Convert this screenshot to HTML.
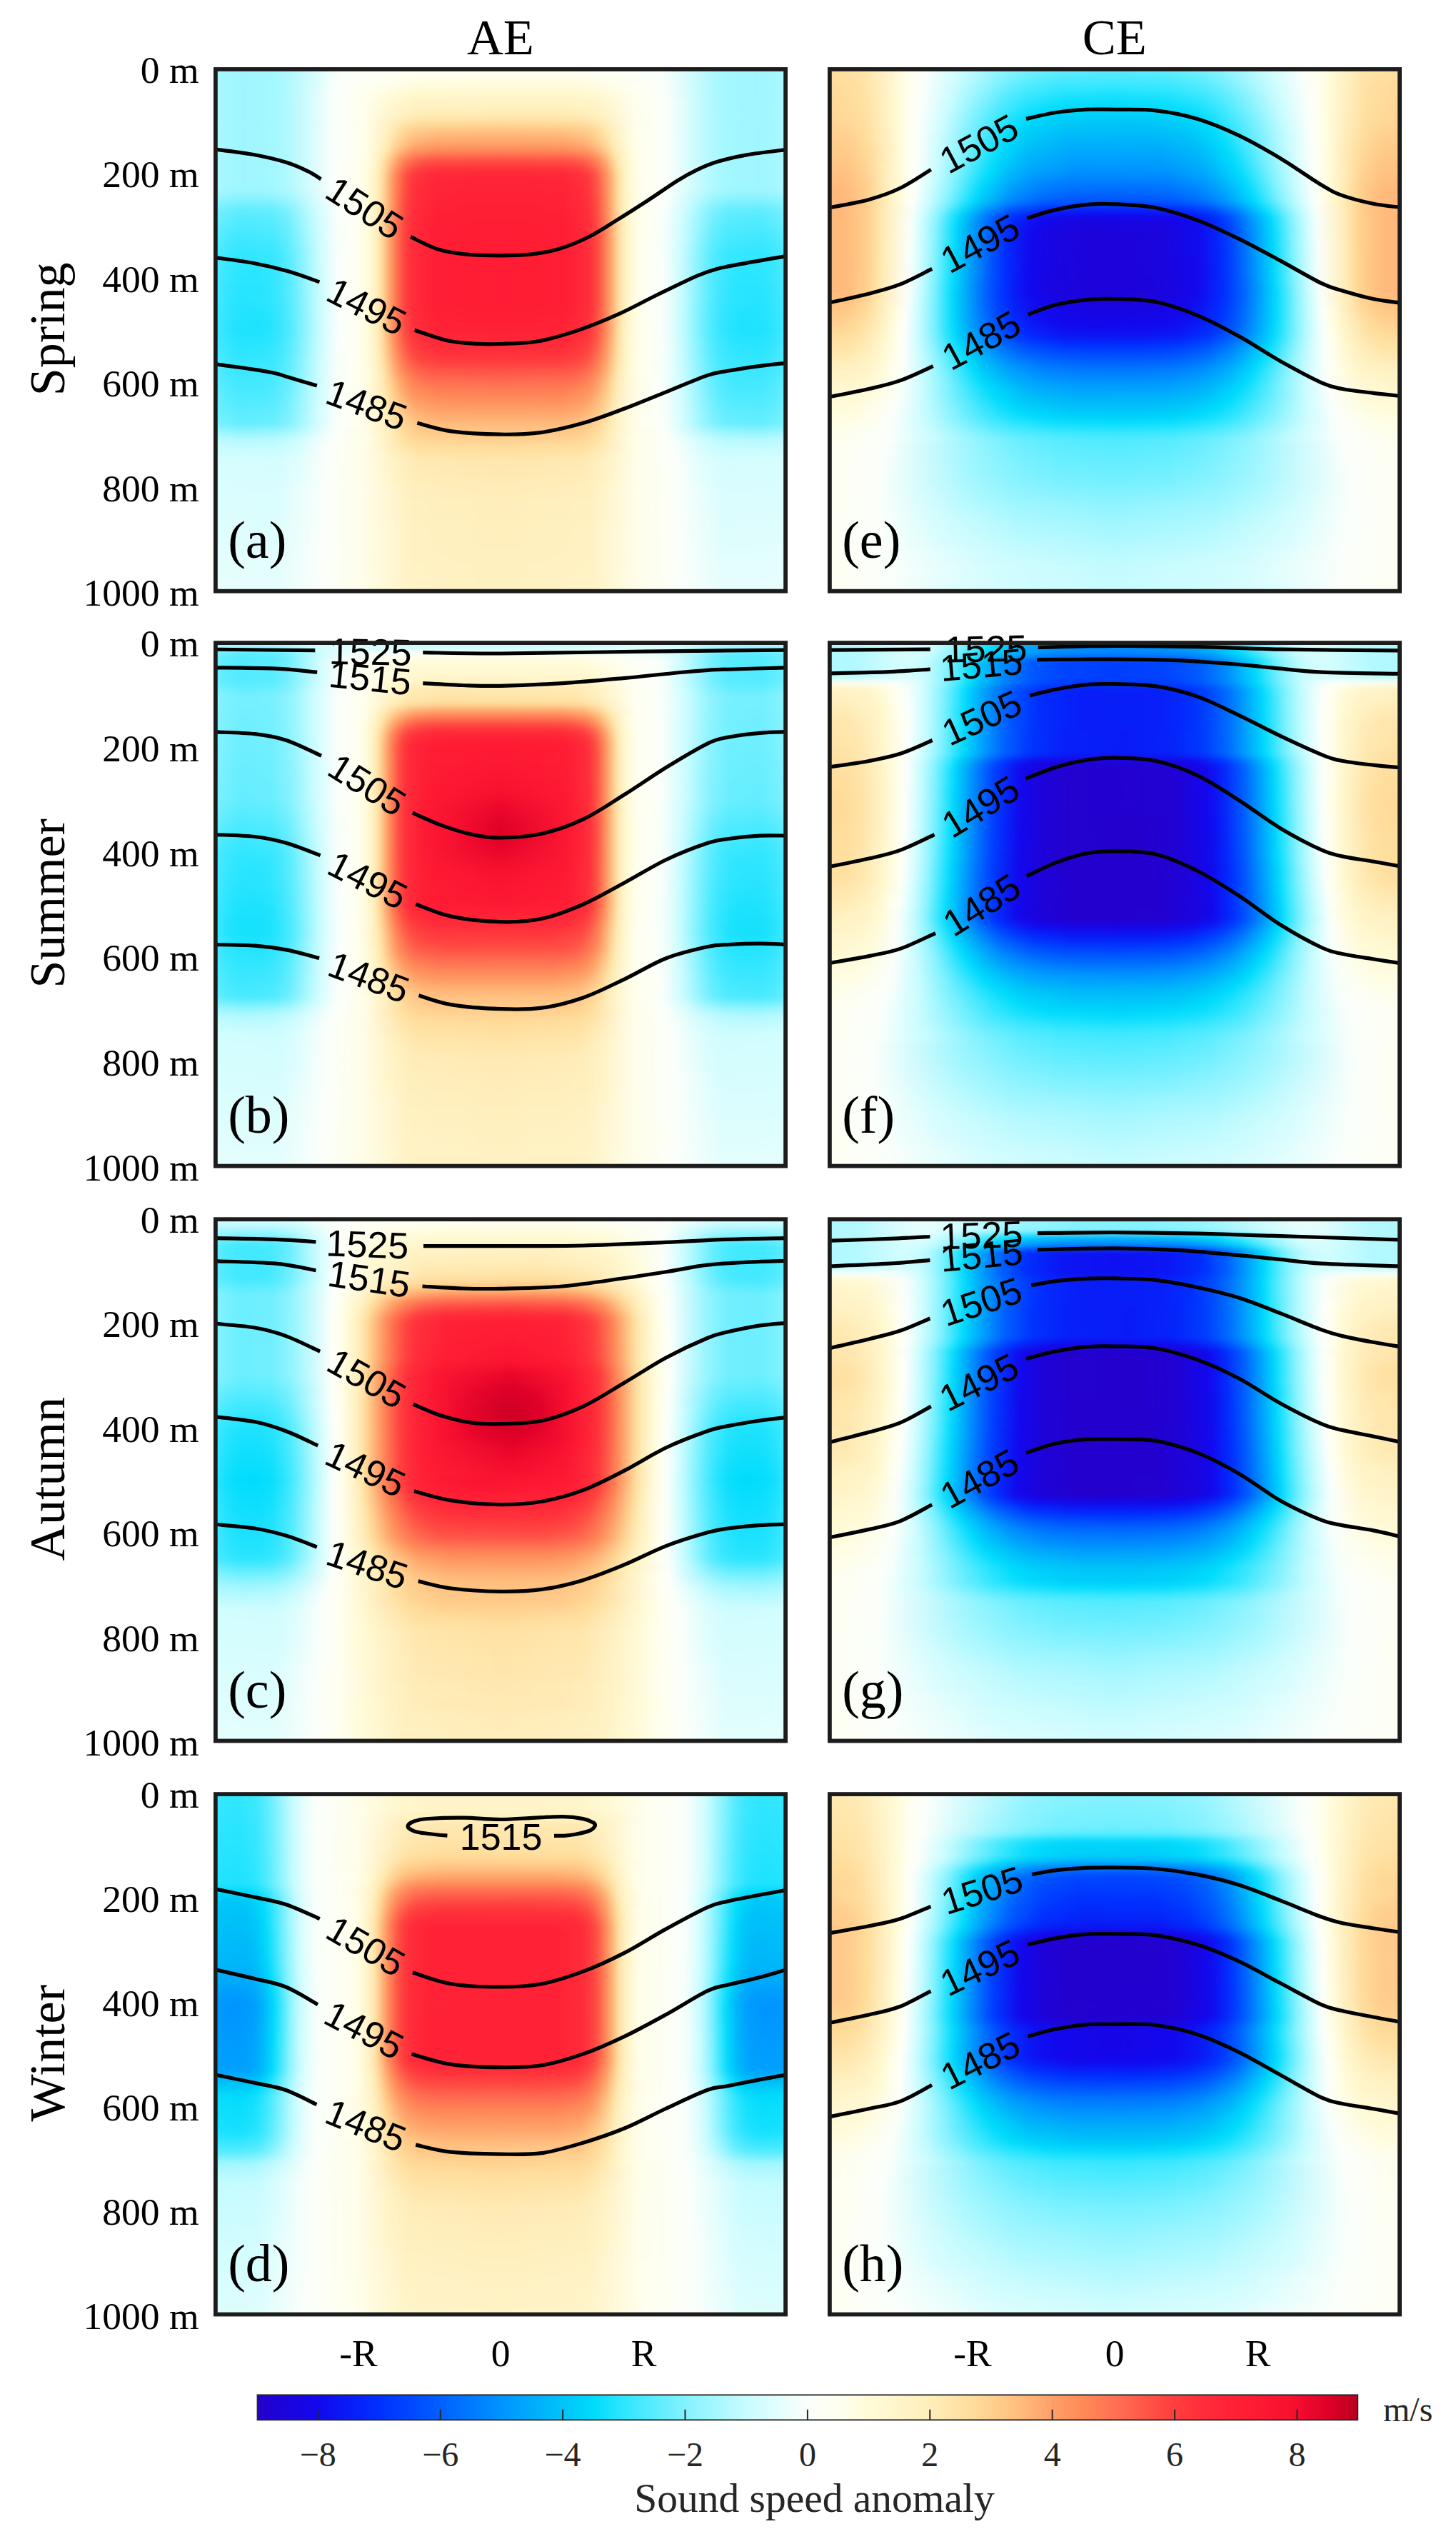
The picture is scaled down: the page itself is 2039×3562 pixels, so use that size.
<!DOCTYPE html><html><head><meta charset="utf-8"><style>
html,body{margin:0;padding:0;background:#fff;width:2039px;height:3562px;overflow:hidden}
.fw{position:absolute;overflow:hidden}
.fb{position:absolute;left:-12px;right:-12px}
.fb i{position:absolute;left:0;right:0;display:block}
svg{position:absolute;left:0;top:0}
</style></head><body>
<div class="fw" style="left:305.0px;top:100.0px;width:792px;height:725px"><div class="fb" style="top:-12px;height:749px;filter:blur(4.0px)"><i style="top:0px;height:11px;background:linear-gradient(90deg,#acf8ff 0px,#a0f6ff 44px,#a4f7ff 93px,#fbfffb 186px,#fffff1 276px,#fffff0 407px,#fffff1 539px,#fbfffb 629px,#a4f7ff 722px,#a0f6ff 771px,#acf8ff 815px)"></i><i style="top:10px;height:11px;background:linear-gradient(90deg,#acf8ff 0px,#a0f6ff 42px,#a2f6ff 87px,#b0f8ff 111px,#fbfffb 184px,#fffff0 272px,#ffffed 512px,#fbfffb 631px,#b2f9ff 702px,#a4f7ff 722px,#a0f6ff 771px,#acf8ff 815px)"></i><i style="top:20px;height:11px;background:linear-gradient(90deg,#acf8ff 0px,#a0f6ff 42px,#a3f7ff 89px,#b2f9ff 113px,#fbfffb 180px,#fffff0 243px,#fffde4 301px,#fffde3 505px,#fbfffb 635px,#b3f9ff 701px,#a4f7ff 722px,#a0f6ff 771px,#acf8ff 815px)"></i><i style="top:30px;height:11px;background:linear-gradient(90deg,#acf8ff 0px,#a0f6ff 43px,#a3f7ff 90px,#b3f9ff 114px,#fbfffb 177px,#fffff0 227px,#fffbd7 288px,#fffad6 506px,#fffbda 540px,#fffff0 588px,#fbfffb 638px,#b3f9ff 701px,#a4f7ff 722px,#a0f6ff 771px,#acf8ff 815px)"></i><i style="top:40px;height:11px;background:linear-gradient(90deg,#acf8ff 0px,#a0f6ff 43px,#a3f7ff 91px,#b4f9ff 114px,#fbfffb 174px,#fffff0 216px,#fffbd8 254px,#fff7ce 289px,#fff6cd 499px,#fff9d3 549px,#ffffef 596px,#fcfff9 637px,#b4f9ff 701px,#a4f7ff 722px,#a0f6ff 771px,#acf8ff 815px)"></i><i style="top:50px;height:11px;background:linear-gradient(90deg,#acf8ff 0px,#a0f6ff 43px,#a3f7ff 91px,#b5f9ff 115px,#fbfffb 173px,#fffff0 212px,#fff8d1 257px,#fff3c6 290px,#fff2c4 494px,#fff5cb 545px,#ffffed 597px,#fcfff9 636px,#f3fffc 649px,#b3f9ff 702px,#a4f7ff 722px,#a0f6ff 771px,#acf8ff 815px)"></i><i style="top:60px;height:11px;background:linear-gradient(90deg,#acf8ff 0px,#a0f6ff 43px,#a3f7ff 91px,#b5f9ff 115px,#fbfffb 173px,#ffffef 213px,#fff5cb 260px,#fff0bf 291px,#ffefbc 495px,#fff2c4 543px,#fffeed 597px,#fbfffb 641px,#b5f9ff 700px,#a5f7ff 721px,#a0f6ff 770px,#acf8ff 815px)"></i><i style="top:70px;height:11px;background:linear-gradient(90deg,#acf8ff 0px,#a0f6ff 43px,#a3f7ff 91px,#b5f9ff 115px,#fbfffb 173px,#fffff0 212px,#fff2c4 263px,#ffeab3 298px,#ffe8b0 486px,#ffecb8 530px,#fff4c7 557px,#fffeed 598px,#fbfffb 642px,#b5f9ff 700px,#a5f7ff 721px,#a0f6ff 770px,#acf8ff 815px)"></i><i style="top:80px;height:11px;background:linear-gradient(90deg,#acf8ff 0px,#a0f6ff 45px,#a5f7ff 94px,#b5f9ff 115px,#fbfffb 174px,#fffeeb 219px,#ffe5ab 273px,#ffde9d 292px,#ffd997 407px,#ffdd9c 522px,#ffe5aa 541px,#fffeeb 596px,#fbfffb 641px,#b5f9ff 700px,#a5f7ff 721px,#a0f6ff 770px,#acf8ff 815px)"></i><i style="top:90px;height:11px;background:linear-gradient(90deg,#acf8ff 0px,#a0f6ff 43px,#a3f7ff 91px,#b5f9ff 115px,#fbfffb 173px,#fffff0 210px,#fffde4 224px,#ffeebb 253px,#ffdc9b 270px,#ffcd8c 287px,#ffc484 319px,#ffc383 407px,#ffc484 496px,#ffcd8c 528px,#ffdc9b 545px,#ffeebb 562px,#fffde4 591px,#fffff0 605px,#fbfffb 642px,#b5f9ff 700px,#a3f7ff 724px,#a0f6ff 772px,#acf8ff 815px)"></i><i style="top:100px;height:11px;background:linear-gradient(90deg,#acf8ff 0px,#a0f6ff 43px,#a3f7ff 91px,#b5f9ff 115px,#fbfffb 173px,#fffff0 209px,#fffde4 223px,#ffefbc 249px,#ffd795 266px,#ffbd7e 289px,#ffb175 320px,#ffb074 407px,#ffb175 495px,#ffbd7e 526px,#ffd795 549px,#ffefbc 566px,#fffde4 592px,#fffff0 606px,#fbfffb 642px,#b5f9ff 700px,#a3f7ff 724px,#a0f6ff 772px,#acf8ff 815px)"></i><i style="top:110px;height:11px;background:linear-gradient(90deg,#acf8ff 0px,#a0f6ff 43px,#a3f7ff 91px,#b5f9ff 115px,#fbfffb 173px,#fffff0 209px,#fffde4 222px,#ffeebb 247px,#ffce8d 265px,#ffaa70 289px,#ff9e66 318px,#ff9c65 407px,#ff9e66 497px,#ffaa70 526px,#ffce8d 550px,#ffeebb 568px,#fffde4 593px,#fffff0 606px,#fbfffb 642px,#b5f9ff 700px,#a3f7ff 724px,#a0f6ff 772px,#acf8ff 815px)"></i><i style="top:120px;height:11px;background:linear-gradient(90deg,#acf8ff 0px,#a0f6ff 43px,#a3f7ff 91px,#b5f9ff 115px,#fbfffb 173px,#fffff0 209px,#fffde3 222px,#ffeeba 244px,#ffdc9b 253px,#ffb97b 266px,#ffa168 276px,#ff935f 286px,#ff8356 318px,#ff8156 407px,#ff8356 496px,#ff935f 529px,#ffa168 539px,#ffb97b 549px,#ffdc9b 562px,#ffeeba 571px,#fffde3 593px,#fffff0 606px,#fbfffb 642px,#b5f9ff 700px,#a3f7ff 724px,#a0f6ff 772px,#acf8ff 815px)"></i><i style="top:130px;height:11px;background:linear-gradient(90deg,#acf8ff 0px,#a0f6ff 43px,#a3f7ff 90px,#b4f9ff 114px,#fbfffb 173px,#fffff0 209px,#fffbd8 226px,#ffeebc 240px,#ffdc9a 248px,#ffa26a 263px,#ff8858 272px,#ff6a50 288px,#ff5849 309px,#ff5347 407px,#ff5849 505px,#ff6a50 527px,#ff8858 543px,#ffa26a 552px,#ffdc9a 567px,#ffeebc 575px,#fffbd8 589px,#fffff0 606px,#fbfffb 642px,#b4f9ff 701px,#a3f7ff 725px,#a0f6ff 772px,#acf8ff 815px)"></i><i style="top:140px;height:11px;background:linear-gradient(90deg,#acf8ff 0px,#a0f6ff 43px,#a3f7ff 90px,#b4f9ff 114px,#fbfffb 173px,#fffff0 208px,#fffbd8 225px,#ffefbd 238px,#ffde9e 245px,#ff8a58 265px,#ff5b4a 281px,#ff4440 295px,#ff3a3e 324px,#ff393d 407px,#ff3a3e 491px,#ff4440 520px,#ff5b4a 534px,#ff8a58 550px,#ffde9e 570px,#ffefbd 577px,#fffbd8 590px,#fffff0 607px,#fbfffb 642px,#b4f9ff 701px,#a3f7ff 725px,#a0f6ff 772px,#acf8ff 815px)"></i><i style="top:150px;height:11px;background:linear-gradient(90deg,#acf8ff 0px,#a0f6ff 43px,#a3f7ff 90px,#b4f9ff 114px,#fbfffb 173px,#fffff0 208px,#fffbd9 224px,#ffeebb 237px,#ffdb99 244px,#ff8958 261px,#ff4942 278px,#ff363d 289px,#ff2939 316px,#ff2838 407px,#ff2939 499px,#ff363d 526px,#ff4942 537px,#ff8958 554px,#ffdb99 571px,#ffeebb 578px,#fffbd9 591px,#fffff0 607px,#fbfffb 642px,#b4f9ff 701px,#a3f7ff 725px,#a0f6ff 772px,#acf8ff 815px)"></i><i style="top:160px;height:11px;background:linear-gradient(90deg,#acf8ff 0px,#a0f6ff 43px,#a3f7ff 90px,#b4f9ff 114px,#fbfffb 173px,#fffff0 208px,#fffbd8 224px,#ffefbd 236px,#ffdd9c 243px,#ff8958 260px,#ff4440 277px,#ff313b 289px,#ff2538 318px,#ff2437 407px,#ff2538 497px,#ff313b 526px,#ff4440 538px,#ff8958 555px,#ffdd9c 572px,#ffefbd 579px,#fffbd8 591px,#fffff0 607px,#fbfffb 642px,#b4f9ff 701px,#a3f7ff 725px,#a0f6ff 772px,#acf8ff 815px)"></i><i style="top:170px;height:11px;background:linear-gradient(90deg,#acf8ff 0px,#a0f6ff 43px,#a3f7ff 90px,#b4f9ff 114px,#fbfffb 173px,#fffff0 208px,#fffbd8 224px,#ffefbd 236px,#ffdd9b 243px,#ff8c59 259px,#ff4540 276px,#ff2f3b 289px,#ff2437 319px,#ff2337 407px,#ff2437 496px,#ff2f3b 526px,#ff4540 539px,#ff8c59 556px,#ffdd9b 572px,#ffefbd 579px,#fffbd8 591px,#fffff0 607px,#fbfffb 642px,#b4f9ff 701px,#a3f7ff 725px,#a0f6ff 772px,#acf8ff 815px)"></i><i style="top:180px;height:11px;background:linear-gradient(90deg,#a0f6ff 0px,#93f4ff 43px,#96f5ff 90px,#aaf8ff 115px,#fafffb 174px,#fffff0 208px,#fffbd8 224px,#ffefbd 236px,#ffdc9a 243px,#ff8a58 259px,#ff4641 275px,#ff2d3a 289px,#ff2337 319px,#ff2236 407px,#ff2337 496px,#ff2d3a 526px,#ff4641 540px,#ff8a58 556px,#ffdc9a 572px,#ffefbd 579px,#fffbd8 591px,#fffff0 607px,#fafffb 641px,#aaf8ff 700px,#96f5ff 725px,#93f4ff 772px,#a0f6ff 815px)"></i><i style="top:190px;height:11px;background:linear-gradient(90deg,#8ef3ff 0px,#7cf1ff 43px,#80f1ff 88px,#99f5ff 115px,#c9fcff 142px,#fbfffb 177px,#ffffef 209px,#fffbd8 224px,#ffefbc 236px,#ffdb99 243px,#ff8858 259px,#ff4340 275px,#ff2d3a 288px,#ff2236 319px,#ff2036 407px,#ff2236 496px,#ff2d3a 527px,#ff4340 540px,#ff8858 556px,#ffdb99 572px,#ffefbc 579px,#fffbd8 591px,#ffffef 606px,#fbfffb 638px,#c9fcff 673px,#99f5ff 700px,#80f1ff 727px,#7cf1ff 772px,#8ef3ff 815px)"></i><i style="top:200px;height:11px;background:linear-gradient(90deg,#79f0ff 0px,#79f0ff 11px,#62edff 42px,#67eeff 88px,#7ef1ff 109px,#c8fcff 146px,#fafffb 178px,#fffff0 209px,#fffbd8 224px,#ffeebc 236px,#ffde9e 242px,#ff8c59 258px,#ff4440 274px,#ff2c3a 287px,#ff2036 318px,#ff1f35 407px,#ff2036 496px,#ff2c3a 528px,#ff4440 541px,#ff8c59 557px,#ffde9e 573px,#ffeebc 579px,#fffbd8 591px,#fffff0 606px,#fafffb 637px,#c8fcff 669px,#7ef1ff 706px,#67eeff 727px,#62edff 773px,#79f0ff 804px,#79f0ff 815px)"></i><i style="top:210px;height:11px;background:linear-gradient(90deg,#6eefff 0px,#6eefff 11px,#56ebff 42px,#5becff 88px,#75f0ff 110px,#c8fcff 148px,#fafffb 179px,#fffff0 209px,#fffbda 223px,#ffeebc 236px,#ffde9d 242px,#ff8a58 258px,#ff4541 273px,#ff2c3a 286px,#ff1f35 318px,#ff1e35 407px,#ff1f35 497px,#ff2c3a 529px,#ff4541 542px,#ff8a58 557px,#ffde9d 573px,#ffeebc 579px,#fffbda 592px,#fffff0 606px,#fafffb 636px,#c8fcff 667px,#75f0ff 705px,#5becff 727px,#56ebff 773px,#6eefff 804px,#6eefff 815px)"></i><i style="top:220px;height:11px;background:linear-gradient(90deg,#68eeff 0px,#68eeff 11px,#4feaff 42px,#55ebff 89px,#6fefff 110px,#c8fcff 149px,#fafffb 179px,#fffff0 209px,#fffbda 223px,#ffeebb 236px,#ffdd9c 242px,#ff8958 258px,#ff4340 273px,#ff2c3a 285px,#ff1e35 317px,#ff1d34 407px,#ff1e35 498px,#ff2c3a 530px,#ff4340 542px,#ff8958 557px,#ffdd9c 573px,#ffeebb 579px,#fffbda 592px,#fffff0 606px,#fafffb 636px,#c8fcff 666px,#6fefff 705px,#55ebff 726px,#4feaff 773px,#68eeff 804px,#68eeff 815px)"></i><i style="top:230px;height:11px;background:linear-gradient(90deg,#61edff 0px,#61edff 11px,#50ebff 26px,#48e9ff 42px,#4eeaff 89px,#68eeff 110px,#c8fcff 150px,#f8fffb 178px,#fffff0 209px,#fffbd9 223px,#ffeebb 236px,#ffdd9c 242px,#ff8d5a 257px,#ff4641 272px,#ff2c3a 284px,#ff1e35 316px,#ff1c34 407px,#ff1e35 499px,#ff2c3a 531px,#ff4641 543px,#ff8d5a 558px,#ffdd9c 573px,#ffeebb 579px,#fffbd9 592px,#fffff0 606px,#f8fffb 637px,#c8fcff 665px,#68eeff 705px,#4eeaff 726px,#48e9ff 773px,#50ebff 789px,#61edff 804px,#61edff 815px)"></i><i style="top:240px;height:11px;background:linear-gradient(90deg,#5becff 0px,#5becff 11px,#49eaff 26px,#40e8ff 42px,#47e9ff 89px,#64edff 111px,#c9fcff 151px,#f6fffb 177px,#fffff0 209px,#fffbd9 223px,#ffeebb 236px,#ffdd9c 242px,#ff8d5a 257px,#ff4641 272px,#ff2c3a 284px,#ff1e35 316px,#ff1c34 407px,#ff1e35 499px,#ff2c3a 531px,#ff4641 543px,#ff8d5a 558px,#ffdd9c 573px,#ffeebb 579px,#fffbd9 592px,#fffff0 606px,#f6fffb 638px,#c9fcff 664px,#64edff 704px,#47e9ff 726px,#40e8ff 773px,#49eaff 789px,#5becff 804px,#5becff 815px)"></i><i style="top:250px;height:11px;background:linear-gradient(90deg,#54ebff 0px,#54ebff 11px,#42e9ff 26px,#39e7ff 42px,#40e8ff 89px,#5eedff 111px,#c9fcff 152px,#f5fffb 177px,#fffff0 209px,#fffbd9 223px,#ffeebb 236px,#ffdd9c 242px,#ff8d5a 257px,#ff4641 272px,#ff2c3a 284px,#ff1e35 316px,#ff1c34 407px,#ff1e35 499px,#ff2c3a 531px,#ff4641 543px,#ff8d5a 558px,#ffdd9c 573px,#ffeebb 579px,#fffbd9 592px,#fffff0 606px,#f5fffb 638px,#c9fcff 663px,#5eedff 704px,#40e8ff 726px,#39e7ff 773px,#42e9ff 789px,#54ebff 804px,#54ebff 815px)"></i><i style="top:260px;height:11px;background:linear-gradient(90deg,#4eeaff 0px,#4eeaff 11px,#3be8ff 26px,#32e6ff 42px,#38e7ff 89px,#58ecff 111px,#c9fcff 153px,#f3fffc 176px,#fbfffb 182px,#fffff0 209px,#fffbd9 223px,#ffeebb 236px,#ffdd9c 242px,#ff8d5a 257px,#ff4641 272px,#ff2c3a 284px,#ff1e35 316px,#ff1c34 407px,#ff1e35 499px,#ff2c3a 531px,#ff4641 543px,#ff8d5a 558px,#ffdd9c 573px,#ffeebb 579px,#fffbd9 592px,#fffff0 606px,#fbfffb 633px,#f3fffc 639px,#c9fcff 662px,#58ecff 704px,#38e7ff 726px,#32e6ff 773px,#3be8ff 789px,#4eeaff 804px,#4eeaff 815px)"></i><i style="top:270px;height:11px;background:linear-gradient(90deg,#4ceaff 0px,#4ceaff 11px,#38e7ff 27px,#30e6ff 43px,#37e7ff 89px,#56ebff 111px,#c9fcff 153px,#f3fffc 176px,#fbfffb 182px,#fffff0 209px,#fffbd9 223px,#ffeebb 236px,#ffdd9c 242px,#ff8d5a 257px,#ff4641 272px,#ff2c3a 284px,#ff1e35 316px,#ff1c34 407px,#ff1e35 499px,#ff2c3a 531px,#ff4641 543px,#ff8d5a 558px,#ffdd9c 573px,#ffeebb 579px,#fffbd9 592px,#fffff0 606px,#fbfffb 633px,#f3fffc 639px,#c9fcff 662px,#56ebff 704px,#37e7ff 726px,#30e6ff 772px,#38e7ff 788px,#4ceaff 804px,#4ceaff 815px)"></i><i style="top:280px;height:11px;background:linear-gradient(90deg,#4beaff 0px,#4beaff 11px,#37e7ff 26px,#2ee6ff 43px,#2de5ff 71px,#35e7ff 89px,#55ebff 111px,#c8fcff 153px,#f3fffc 176px,#fbfffb 182px,#fffff0 209px,#fffbd9 223px,#ffeebb 236px,#ffdd9b 242px,#ff8d5a 257px,#ff4641 272px,#ff2c3a 284px,#ff1e35 316px,#ff1c34 407px,#ff1e35 499px,#ff2c3a 531px,#ff4641 543px,#ff8d5a 558px,#ffdd9b 573px,#ffeebb 579px,#fffbd9 592px,#fffff0 606px,#fbfffb 633px,#f3fffc 639px,#c8fcff 662px,#55ebff 704px,#35e7ff 726px,#2de5ff 744px,#2ee6ff 772px,#37e7ff 789px,#4beaff 804px,#4beaff 815px)"></i><i style="top:290px;height:11px;background:linear-gradient(90deg,#4aeaff 0px,#4aeaff 11px,#36e7ff 26px,#2ce5ff 43px,#2be5ff 71px,#34e7ff 89px,#56ebff 112px,#c8fcff 153px,#f3fffc 176px,#fbfffb 182px,#fffff0 209px,#fffbd9 223px,#ffeebb 236px,#ffdd9b 242px,#ff8d5a 257px,#ff4641 272px,#ff2c3a 284px,#ff1e35 316px,#ff1c34 407px,#ff1e35 499px,#ff2c3a 531px,#ff4641 543px,#ff8d5a 558px,#ffdd9b 573px,#ffeebb 579px,#fffbd9 592px,#fffff0 606px,#fbfffb 633px,#f3fffc 639px,#c8fcff 662px,#56ebff 703px,#34e7ff 726px,#2be5ff 744px,#2ce5ff 772px,#36e7ff 789px,#4aeaff 804px,#4aeaff 815px)"></i><i style="top:300px;height:11px;background:linear-gradient(90deg,#48e9ff 0px,#48e9ff 11px,#35e7ff 26px,#2ae5ff 43px,#2ae5ff 72px,#32e6ff 89px,#55ebff 112px,#c8fcff 153px,#f3fffc 176px,#fbfffb 182px,#fffff0 209px,#fffbd9 223px,#ffeebb 236px,#ffdd9b 242px,#ff8d5a 257px,#ff4641 272px,#ff2c3a 284px,#ff1e35 316px,#ff1c34 407px,#ff1e35 499px,#ff2c3a 531px,#ff4641 543px,#ff8d5a 558px,#ffdd9b 573px,#ffeebb 579px,#fffbd9 592px,#fffff0 606px,#fbfffb 633px,#f3fffc 639px,#c8fcff 662px,#55ebff 703px,#32e6ff 726px,#2ae5ff 743px,#2ae5ff 772px,#35e7ff 789px,#48e9ff 804px,#48e9ff 815px)"></i><i style="top:310px;height:11px;background:linear-gradient(90deg,#47e9ff 0px,#47e9ff 11px,#33e6ff 26px,#29e4ff 43px,#28e4ff 72px,#31e6ff 89px,#53ebff 112px,#c7fcff 153px,#f3fffc 176px,#fbfffb 182px,#fffff0 209px,#fffbd9 223px,#ffeebb 236px,#ffdd9b 242px,#ff8d5a 257px,#ff4641 272px,#ff2c3a 284px,#ff1e35 316px,#ff1c34 407px,#ff1e35 499px,#ff2c3a 531px,#ff4641 543px,#ff8d5a 558px,#ffdd9b 573px,#ffeebb 579px,#fffbd9 592px,#fffff0 606px,#fbfffb 633px,#f3fffc 639px,#c7fcff 662px,#53ebff 703px,#31e6ff 726px,#28e4ff 743px,#29e4ff 772px,#33e6ff 789px,#47e9ff 804px,#47e9ff 815px)"></i><i style="top:320px;height:11px;background:linear-gradient(90deg,#46e9ff 0px,#46e9ff 11px,#32e6ff 26px,#27e4fe 43px,#2de5ff 87px,#50ebff 111px,#c7fcff 153px,#f2fefc 176px,#fbfffb 182px,#fffff0 209px,#fffbd9 223px,#ffeebb 236px,#ffdd9b 242px,#ff8d5a 257px,#ff4641 272px,#ff2c3a 284px,#ff1e35 316px,#ff1c34 407px,#ff1e35 499px,#ff2c3a 531px,#ff4641 543px,#ff8d5a 558px,#ffdd9b 573px,#ffeebb 579px,#fffbd9 592px,#fffff0 606px,#fbfffb 633px,#f2fefc 639px,#c7fcff 662px,#50ebff 704px,#2de5ff 728px,#27e4fe 772px,#32e6ff 789px,#46e9ff 804px,#46e9ff 815px)"></i><i style="top:330px;height:11px;background:linear-gradient(90deg,#44e9ff 0px,#44e9ff 11px,#2ee6ff 28px,#25e4fe 43px,#2ce5ff 87px,#4eeaff 111px,#c9fcff 154px,#f2fefc 176px,#fbfffb 182px,#fffff0 209px,#fffbd9 223px,#ffeebb 236px,#ffdd9b 242px,#ff8d5a 257px,#ff4641 272px,#ff2c3a 284px,#ff1e35 316px,#ff1c34 407px,#ff1e35 499px,#ff2c3a 531px,#ff4641 543px,#ff8d5a 558px,#ffdd9b 573px,#ffeebb 579px,#fffbd9 592px,#fffff0 606px,#fbfffb 633px,#f2fefc 639px,#c9fcff 661px,#4eeaff 704px,#2ce5ff 728px,#25e4fe 772px,#2ee6ff 787px,#44e9ff 804px,#44e9ff 815px)"></i><i style="top:340px;height:11px;background:linear-gradient(90deg,#43e9ff 0px,#43e9ff 11px,#2ce5ff 28px,#24e3fe 42px,#22e3fe 70px,#2ae5ff 87px,#4deaff 111px,#c9fcff 154px,#f1fefc 175px,#fbfffb 182px,#ffffef 209px,#fffbd9 223px,#ffeebb 236px,#ffdd9c 242px,#ff8958 258px,#ff4440 273px,#ff2c3a 285px,#ff1e35 317px,#ff1d34 407px,#ff1e35 498px,#ff2c3a 530px,#ff4440 542px,#ff8958 557px,#ffdd9c 573px,#ffeebb 579px,#fffbd9 592px,#ffffef 606px,#fbfffb 633px,#f1fefc 640px,#c9fcff 661px,#4deaff 704px,#2ae5ff 728px,#22e3fe 745px,#24e3fe 773px,#2ce5ff 787px,#43e9ff 804px,#43e9ff 815px)"></i><i style="top:350px;height:11px;background:linear-gradient(90deg,#41e8ff 0px,#41e8ff 11px,#2be5ff 28px,#22e3fe 42px,#21e3fe 70px,#28e4ff 87px,#4eeaff 112px,#c8fcff 154px,#f1fefc 175px,#fbfffb 182px,#ffffef 209px,#fffbd9 223px,#ffeebb 236px,#ffde9d 242px,#ff8b59 258px,#ff4340 274px,#ff2d3a 286px,#ff2036 317px,#ff1f35 407px,#ff2035 497px,#ff2d3a 529px,#ff4340 541px,#ff8b59 557px,#ffde9d 573px,#ffeebb 579px,#fffbd9 592px,#ffffef 606px,#fbfffb 633px,#f1fefc 640px,#c8fcff 661px,#4eeaff 703px,#28e4ff 728px,#21e3fe 745px,#22e3fe 773px,#2be5ff 787px,#41e8ff 804px,#41e8ff 815px)"></i><i style="top:360px;height:11px;background:linear-gradient(90deg,#40e8ff 0px,#40e8ff 11px,#2ae5ff 27px,#20e3fe 42px,#1fe2fe 70px,#26e4fe 87px,#4deaff 112px,#c8fcff 154px,#f0fefc 175px,#fbfffb 183px,#ffffef 209px,#fffbd9 223px,#ffeebc 236px,#ffde9e 242px,#ff8d5a 258px,#ff4641 274px,#ff2d3a 288px,#ff2136 319px,#ff2036 407px,#ff2136 496px,#ff2d3a 527px,#ff4641 541px,#ff8d5a 557px,#ffde9e 573px,#ffeebc 579px,#fffbd9 592px,#ffffef 606px,#fbfffb 632px,#f0fefc 640px,#c8fcff 661px,#4deaff 703px,#26e4fe 728px,#1fe2fe 745px,#20e3fe 773px,#2ae5ff 788px,#40e8ff 804px,#40e8ff 815px)"></i><i style="top:370px;height:11px;background:linear-gradient(90deg,#3fe8ff 0px,#3fe8ff 11px,#29e4ff 27px,#1fe2fe 42px,#1ee2fe 70px,#25e4fe 87px,#4ceaff 112px,#c7fcff 154px,#f0fefc 175px,#fbfffb 183px,#ffffef 209px,#fffbda 223px,#ffefbc 236px,#ffdc9a 243px,#ff8a58 259px,#ff4641 275px,#ff2e3a 289px,#ff2337 319px,#ff2236 407px,#ff2337 496px,#ff2e3a 526px,#ff4641 540px,#ff8a58 556px,#ffdc9a 572px,#ffefbc 579px,#fffbda 592px,#ffffef 606px,#fbfffb 632px,#f0fefc 640px,#c7fcff 661px,#4ceaff 703px,#25e4fe 728px,#1ee2fe 745px,#1fe2fe 773px,#29e4ff 788px,#3fe8ff 804px,#3fe8ff 815px)"></i><i style="top:380px;height:11px;background:linear-gradient(90deg,#43e9ff 0px,#43e9ff 11px,#2ce5ff 28px,#24e3fe 42px,#22e3fe 70px,#2ae5ff 87px,#4deaff 111px,#c9fcff 154px,#f1fefc 175px,#fbfffb 182px,#fffff0 208px,#fffbda 223px,#ffefbd 236px,#ffdd9b 243px,#ff8858 260px,#ff4540 277px,#ff323b 289px,#ff2638 318px,#ff2437 407px,#ff2638 497px,#ff323b 526px,#ff4540 538px,#ff8858 555px,#ffdd9b 572px,#ffefbd 579px,#fffbda 592px,#fffff0 607px,#fbfffb 633px,#f1fefc 640px,#c9fcff 661px,#4deaff 704px,#2ae5ff 728px,#22e3fe 745px,#24e3fe 773px,#2ce5ff 787px,#43e9ff 804px,#43e9ff 815px)"></i><i style="top:390px;height:11px;background:linear-gradient(90deg,#47e9ff 0px,#47e9ff 11px,#33e6ff 26px,#28e4ff 43px,#2fe6ff 87px,#51ebff 111px,#c7fcff 153px,#f3fffc 176px,#fbfffb 182px,#ffffef 209px,#fffbd8 224px,#ffeebb 237px,#ffdb9a 244px,#ff8a58 261px,#ff4e45 277px,#ff3a3d 288px,#ff2b3a 314px,#ff2939 407px,#ff2b3a 501px,#ff3a3d 527px,#ff4e45 538px,#ff8a58 554px,#ffdb9a 571px,#ffeebb 578px,#fffbd8 591px,#ffffef 606px,#fbfffb 633px,#f3fffc 639px,#c7fcff 662px,#51ebff 704px,#2fe6ff 728px,#28e4ff 772px,#33e6ff 789px,#47e9ff 804px,#47e9ff 815px)"></i><i style="top:400px;height:11px;background:linear-gradient(90deg,#4aeaff 0px,#4aeaff 11px,#37e7ff 26px,#2de5ff 43px,#2de5ff 71px,#35e7ff 89px,#54ebff 111px,#c8fcff 153px,#f3fffc 176px,#fbfffb 182px,#fffff0 208px,#fffbd9 224px,#ffefbd 237px,#ffdd9d 244px,#ff8c5a 262px,#ff5849 277px,#ff413f 288px,#ff313b 319px,#ff2f3b 407px,#ff313b 496px,#ff413f 527px,#ff5849 538px,#ff8c5a 553px,#ffdd9d 571px,#ffefbd 578px,#fffbd9 591px,#fffff0 607px,#fbfffb 633px,#f3fffc 639px,#c8fcff 662px,#54ebff 704px,#35e7ff 726px,#2de5ff 744px,#2de5ff 772px,#37e7ff 789px,#4aeaff 804px,#4aeaff 815px)"></i><i style="top:410px;height:11px;background:linear-gradient(90deg,#4eeaff 0px,#4eeaff 11px,#3be8ff 26px,#32e6ff 42px,#39e7ff 89px,#58ecff 111px,#c7fcff 152px,#f5fffb 177px,#fffff0 208px,#fffbd9 224px,#ffeebc 238px,#ffdd9c 245px,#ff8d5a 264px,#ff5c4b 280px,#ff4440 294px,#ff3a3d 323px,#ff393d 407px,#ff3a3d 491px,#ff4440 521px,#ff5c4b 535px,#ff8d5a 551px,#ffdd9c 570px,#ffeebc 577px,#fffbd9 591px,#fffff0 607px,#f5fffb 638px,#c7fcff 663px,#58ecff 704px,#39e7ff 726px,#32e6ff 773px,#3be8ff 789px,#4eeaff 804px,#4eeaff 815px)"></i><i style="top:420px;height:11px;background:linear-gradient(90deg,#52ebff 0px,#52ebff 11px,#3fe8ff 26px,#37e7ff 42px,#3de8ff 89px,#5cecff 111px,#c8fcff 152px,#f6fffb 177px,#ffffef 209px,#fffbd8 225px,#ffeebc 239px,#ffde9e 246px,#ffa269 261px,#ff8b59 268px,#ff6c51 280px,#ff5447 296px,#ff4842 325px,#ff4641 407px,#ff4842 490px,#ff5447 519px,#ff6c51 535px,#ff8b59 547px,#ffa269 554px,#ffde9e 569px,#ffeebc 576px,#fffbd8 590px,#ffffef 606px,#f6fffb 638px,#c8fcff 663px,#5cecff 704px,#3de8ff 726px,#37e7ff 773px,#3fe8ff 789px,#52ebff 804px,#52ebff 815px)"></i><i style="top:430px;height:11px;background:linear-gradient(90deg,#56ebff 0px,#56ebff 11px,#44e9ff 26px,#3be8ff 42px,#42e9ff 89px,#60edff 111px,#c7fcff 151px,#f6fffb 177px,#fffff0 208px,#fffcdc 224px,#ffeebc 240px,#ffdd9c 248px,#ffa269 264px,#ff8a58 273px,#ff6d51 289px,#ff5e4c 310px,#ff594a 407px,#ff5e4c 505px,#ff6d51 526px,#ff8a58 542px,#ffa269 551px,#ffdd9c 567px,#ffeebc 575px,#fffcdc 591px,#fffff0 607px,#f6fffb 638px,#c7fcff 664px,#60edff 704px,#42e9ff 726px,#3be8ff 773px,#44e9ff 789px,#56ebff 804px,#56ebff 815px)"></i><i style="top:440px;height:11px;background:linear-gradient(90deg,#5becff 0px,#5becff 11px,#49eaff 26px,#41e8ff 42px,#47e9ff 89px,#65eeff 111px,#c9fcff 151px,#f8fffb 178px,#fffff0 208px,#fffcdf 223px,#ffedb9 242px,#ffdc9a 250px,#ffb175 263px,#ff8a58 279px,#ff7653 294px,#ff6d51 313px,#ff6a51 407px,#ff6d51 502px,#ff7653 521px,#ff8a58 536px,#ffb175 552px,#ffdc9a 565px,#ffeebc 574px,#fffeea 600px,#fbfffb 634px,#c9fcff 664px,#65eeff 704px,#4aeaff 723px,#41e8ff 741px,#41e8ff 771px,#49eaff 788px,#5becff 804px,#5becff 815px)"></i><i style="top:450px;height:11px;background:linear-gradient(90deg,#61edff 0px,#61edff 11px,#4eeaff 27px,#46e9ff 44px,#46e9ff 74px,#4feaff 92px,#6aeeff 111px,#c8fcff 150px,#fbfffb 180px,#fffeea 215px,#ffefbc 242px,#ffdb99 252px,#ffb175 266px,#ff9d65 274px,#ff8b59 286px,#ff7954 318px,#ff7854 407px,#ff7954 497px,#ff8b59 529px,#ff9d65 541px,#ffb175 549px,#ffdb99 563px,#ffefbc 573px,#fffeea 600px,#fbfffb 635px,#c8fcff 665px,#6aeeff 704px,#4feaff 723px,#46e9ff 741px,#46e9ff 771px,#4eeaff 788px,#61edff 804px,#61edff 815px)"></i><i style="top:460px;height:11px;background:linear-gradient(90deg,#66eeff 0px,#66eeff 11px,#54ebff 27px,#4ceaff 44px,#4ceaff 74px,#55ebff 92px,#6fefff 111px,#c8fcff 149px,#fbfffb 180px,#fffeea 215px,#ffefbd 243px,#ffdb99 254px,#ffbc7d 266px,#ffa269 277px,#ff9560 287px,#ff8757 319px,#ff8557 407px,#ff8657 495px,#ff9560 528px,#ffa269 538px,#ffbc7d 549px,#ffdb99 561px,#ffefbd 572px,#fffeea 600px,#fbfffb 635px,#c8fcff 666px,#6fefff 704px,#55ebff 723px,#4ceaff 741px,#4ceaff 771px,#54ebff 788px,#66eeff 804px,#66eeff 815px)"></i><i style="top:470px;height:11px;background:linear-gradient(90deg,#6beeff 0px,#6beeff 11px,#59ecff 27px,#52ebff 44px,#52ebff 74px,#5aecff 92px,#74f0ff 111px,#c9fcff 149px,#fbfffb 179px,#fffeea 216px,#ffeebb 245px,#ffcb8a 263px,#ffa068 287px,#ff935e 319px,#ff925e 407px,#ff935e 496px,#ffa068 528px,#ffcb8a 552px,#ffeebb 570px,#fffeea 599px,#fbfffb 636px,#c9fcff 666px,#74f0ff 704px,#5aecff 723px,#52ebff 741px,#52ebff 771px,#59ecff 788px,#6beeff 804px,#6beeff 815px)"></i><i style="top:480px;height:11px;background:linear-gradient(90deg,#70efff 0px,#70efff 11px,#5fedff 27px,#58ecff 43px,#5fedff 91px,#77f0ff 110px,#c9fcff 148px,#fbfffb 179px,#fffeec 214px,#fff4c9 239px,#ffeeba 247px,#ffce8d 265px,#ffab70 290px,#ff9f67 319px,#ff9e66 407px,#ff9f67 496px,#ffab70 525px,#ffce8d 550px,#ffeeba 568px,#fff4c9 576px,#fffeec 601px,#fbfffb 636px,#c9fcff 667px,#77f0ff 705px,#5fedff 724px,#58ecff 772px,#5fedff 788px,#70efff 804px,#70efff 815px)"></i><i style="top:490px;height:11px;background:linear-gradient(90deg,#75f0ff 0px,#75f0ff 11px,#5eedff 43px,#65eeff 91px,#7cf1ff 110px,#c9fcff 147px,#fbfffb 179px,#fffeec 213px,#fff8d1 235px,#ffeeba 249px,#ffd493 266px,#ffb87a 290px,#ffad72 321px,#ffac71 407px,#ffad72 494px,#ffb87a 525px,#ffd493 549px,#ffeeba 566px,#fff8d1 580px,#fffeec 602px,#fbfffb 636px,#c9fcff 668px,#7cf1ff 705px,#65eeff 724px,#5eedff 772px,#75f0ff 804px,#75f0ff 815px)"></i><i style="top:500px;height:11px;background:linear-gradient(90deg,#7af1ff 0px,#7af1ff 11px,#64edff 42px,#69eeff 89px,#8cf3ff 117px,#c9fcff 146px,#fafffb 177px,#ffffef 209px,#fffde3 223px,#ffeebc 250px,#ffd997 268px,#ffc282 293px,#ffba7b 330px,#ffba7b 482px,#ffbe7e 512px,#ffcc8c 537px,#ffdc9a 549px,#ffeebc 565px,#fffde3 592px,#fffff0 607px,#f9fffb 639px,#c9fcff 669px,#8cf3ff 698px,#69eeff 726px,#64edff 773px,#7af1ff 804px,#7af1ff 815px)"></i><i style="top:510px;height:11px;background:linear-gradient(90deg,#9af5ff 0px,#8cf3ff 45px,#92f4ff 94px,#a6f7ff 116px,#fbfffb 175px,#fffde7 220px,#ffeebb 253px,#ffdc9a 271px,#ffcd8c 288px,#ffc685 319px,#ffc584 407px,#ffc685 496px,#ffcd8c 527px,#ffdc9a 544px,#ffeebb 562px,#fffde7 595px,#fbfffb 640px,#a6f7ff 699px,#92f4ff 721px,#8cf3ff 770px,#9af5ff 815px)"></i><i style="top:520px;height:11px;background:linear-gradient(90deg,#b9faff 0px,#aef8ff 44px,#b2f9ff 93px,#c1fbff 115px,#fbfffb 170px,#fffee8 219px,#fff6cd 242px,#ffdfa0 273px,#ffd695 288px,#ffcf8e 319px,#ffce8d 407px,#ffcf8e 496px,#ffd695 527px,#ffdfa0 542px,#fff6cd 573px,#fffee8 596px,#fbfffb 645px,#c1fbff 700px,#b2f9ff 722px,#aef8ff 771px,#b9faff 815px)"></i><i style="top:530px;height:11px;background:linear-gradient(90deg,#c7fcff 0px,#befaff 44px,#c1fbff 92px,#d2fdfe 124px,#fbfffb 167px,#fffee8 219px,#ffe4a8 274px,#ffdd9b 293px,#ffd896 407px,#ffdd9b 522px,#ffe4a8 541px,#fffee8 596px,#fbfffb 648px,#d2fdfe 691px,#c1fbff 723px,#befaff 771px,#c7fcff 815px)"></i><i style="top:540px;height:11px;background:linear-gradient(90deg,#cffcfe 0px,#ccfcff 97px,#d9fdfe 125px,#fbfffb 165px,#fffee9 218px,#ffe9b2 274px,#ffe3a6 292px,#ffe0a1 407px,#ffe3a6 522px,#ffe9b2 541px,#fffee9 597px,#fbfffb 650px,#d9fdfe 690px,#ccfcff 718px,#cffcfe 815px)"></i><i style="top:550px;height:11px;background:linear-gradient(90deg,#d6fdfe 0px,#d4fdfe 97px,#e0fdfd 125px,#fbfffb 162px,#fffeea 216px,#fff2c3 261px,#ffe8b1 293px,#ffe6ac 407px,#ffe8b1 522px,#fff2c3 554px,#fffeea 599px,#fbfffb 653px,#e0fdfd 690px,#d4fdfe 718px,#d6fdfe 815px)"></i><i style="top:560px;height:11px;background:linear-gradient(90deg,#d8fdfe 0px,#d6fdfe 97px,#e1fdfd 125px,#fbfffb 161px,#fffeea 216px,#fff2c4 261px,#ffeab4 293px,#ffe8af 407px,#ffeab4 522px,#fff2c4 554px,#fffeea 599px,#fbfffb 654px,#e1fdfd 690px,#d6fdfe 718px,#d8fdfe 815px)"></i><i style="top:570px;height:11px;background:linear-gradient(90deg,#d9fdfe 0px,#d7fdfe 97px,#e2fefd 125px,#fbfffb 161px,#fffeea 216px,#fff3c5 261px,#ffebb6 293px,#ffe9b2 407px,#ffebb6 522px,#fff3c5 554px,#fffeea 599px,#fbfffb 654px,#e2fefd 690px,#d7fdfe 718px,#d9fdfe 815px)"></i><i style="top:580px;height:11px;background:linear-gradient(90deg,#dafdfe 0px,#d8fdfe 97px,#e2fefd 125px,#fbfffb 160px,#fffeeb 215px,#fff3c5 262px,#ffedb8 293px,#ffeab4 407px,#ffedb8 522px,#fff3c5 553px,#fffeeb 600px,#fbfffb 655px,#e2fefd 690px,#d8fdfe 718px,#dafdfe 815px)"></i><i style="top:590px;height:11px;background:linear-gradient(90deg,#dafdfe 0px,#d9fdfe 97px,#fbfffb 160px,#fffeea 216px,#ffefbd 283px,#ffecb6 407px,#ffefbd 532px,#fffeea 599px,#fbfffb 655px,#d9fdfe 718px,#dafdfe 815px)"></i><i style="top:600px;height:11px;background:linear-gradient(90deg,#dbfdfd 0px,#dafdfe 97px,#fbfffb 160px,#fffeea 216px,#ffefbe 283px,#ffedb9 407px,#ffefbe 532px,#fffeea 599px,#fbfffb 655px,#dafdfe 718px,#dbfdfd 815px)"></i><i style="top:610px;height:11px;background:linear-gradient(90deg,#dcfdfd 0px,#dafdfe 97px,#fbfffb 159px,#fffeeb 215px,#fff0bf 283px,#ffeebb 407px,#fff0bf 532px,#fffeeb 600px,#fbfffb 656px,#dafdfe 718px,#dcfdfd 815px)"></i><i style="top:620px;height:11px;background:linear-gradient(90deg,#ddfdfd 0px,#dbfdfd 97px,#fbfffb 159px,#fffeeb 215px,#fff0c0 283px,#ffeebc 407px,#fff0c0 532px,#fffeeb 600px,#fbfffb 656px,#dbfdfd 718px,#ddfdfd 815px)"></i><i style="top:630px;height:11px;background:linear-gradient(90deg,#defdfd 0px,#dcfdfd 97px,#fbfffb 158px,#fffeeb 215px,#fff0c0 283px,#ffeebc 407px,#fff0c0 532px,#fffeeb 600px,#fbfffb 657px,#dcfdfd 718px,#defdfd 815px)"></i><i style="top:640px;height:11px;background:linear-gradient(90deg,#dffdfd 0px,#ddfdfd 97px,#fbfffb 158px,#fffeeb 215px,#fff1c1 283px,#ffefbc 407px,#fff1c1 532px,#fffeeb 600px,#fbfffb 657px,#ddfdfd 718px,#dffdfd 815px)"></i><i style="top:650px;height:11px;background:linear-gradient(90deg,#e0fdfd 0px,#defdfd 97px,#fbfffb 157px,#fffeeb 215px,#fff1c1 283px,#ffefbd 407px,#fff1c1 532px,#fffeeb 600px,#fbfffb 658px,#defdfd 718px,#e0fdfd 815px)"></i><i style="top:660px;height:11px;background:linear-gradient(90deg,#e0fdfd 0px,#dffdfd 97px,#fbfffb 157px,#fffeeb 215px,#fff1c2 283px,#ffefbd 407px,#fff1c2 532px,#fffeeb 600px,#fbfffb 658px,#dffdfd 718px,#e0fdfd 815px)"></i><i style="top:670px;height:11px;background:linear-gradient(90deg,#e1fdfd 0px,#e0fdfd 97px,#fbfffb 156px,#fffeeb 215px,#fff1c2 283px,#ffefbe 407px,#fff1c2 532px,#fffeeb 600px,#fbfffb 659px,#e0fdfd 718px,#e1fdfd 815px)"></i><i style="top:680px;height:11px;background:linear-gradient(90deg,#e2fefd 0px,#e1fdfd 97px,#fbfffb 156px,#fffeeb 215px,#fff1c2 283px,#fff0be 407px,#fff1c2 532px,#fffeeb 600px,#fbfffb 659px,#e1fdfd 718px,#e2fefd 815px)"></i><i style="top:690px;height:11px;background:linear-gradient(90deg,#e3fefd 0px,#e2fefd 97px,#fbfffb 155px,#fffeeb 214px,#fff1c3 283px,#fff0bf 407px,#fff1c3 532px,#fffeeb 601px,#fbfffb 660px,#e2fefd 718px,#e3fefd 815px)"></i><i style="top:700px;height:11px;background:linear-gradient(90deg,#e4fefd 0px,#e3fefd 97px,#fbfffb 155px,#fffeeb 214px,#fff2c3 283px,#fff0bf 407px,#fff2c3 532px,#fffeeb 601px,#fbfffb 661px,#e3fefd 718px,#e4fefd 815px)"></i><i style="top:710px;height:11px;background:linear-gradient(90deg,#e5fefd 0px,#e4fefd 97px,#fbfffb 154px,#fffeeb 214px,#fff2c4 282px,#fff0c0 407px,#fff2c4 532px,#fffeeb 601px,#fbfffb 661px,#e4fefd 718px,#e5fefd 815px)"></i><i style="top:720px;height:11px;background:linear-gradient(90deg,#e6fefd 0px,#e5fefd 97px,#fbfffb 153px,#fffeeb 214px,#fff2c4 282px,#fff0c0 407px,#fff2c4 533px,#fffeeb 601px,#fbfffb 662px,#e5fefd 718px,#e6fefd 815px)"></i><i style="top:730px;height:11px;background:linear-gradient(90deg,#e7fefd 0px,#e6fefd 97px,#fbfffb 153px,#fffeeb 214px,#fff2c5 282px,#fff1c1 407px,#fff2c5 533px,#fffeeb 601px,#fbfffb 662px,#e6fefd 718px,#e7fefd 815px)"></i><i style="top:740px;height:11px;background:linear-gradient(90deg,#e7fefd 0px,#e6fefd 97px,#fbfffb 153px,#fffeeb 214px,#fff2c5 282px,#fff1c1 407px,#fff2c5 533px,#fffeeb 601px,#fbfffb 662px,#e6fefd 718px,#e7fefd 815px)"></i></div></div>
<div class="fw" style="left:305.0px;top:903.0px;width:792px;height:727px"><div class="fb" style="top:-12px;height:751px;filter:blur(4.0px)"><i style="top:0px;height:11px;background:linear-gradient(90deg,#c4fbff 0px,#bbfaff 82px,#dafdfe 173px,#c9fcff 279px,#c9fcff 523px,#defdfd 641px,#bcfaff 732px,#c4fbff 815px)"></i><i style="top:10px;height:11px;background:linear-gradient(90deg,#adf8ff 0px,#a1f6ff 41px,#a2f6ff 86px,#adf8ff 109px,#d1fdfe 153px,#dbfdfe 182px,#c9fcff 287px,#c8fcff 484px,#cbfcff 541px,#defdfd 629px,#d5fdfe 660px,#adf8ff 707px,#a3f6ff 729px,#a1f6ff 774px,#adf8ff 815px)"></i><i style="top:20px;height:11px;background:linear-gradient(90deg,#6beeff 0px,#6beeff 11px,#53ebff 42px,#58ecff 88px,#6eefff 109px,#c7fcff 155px,#d8fdfe 168px,#e7fefd 188px,#fbfffb 241px,#fffff1 292px,#fffff0 431px,#fefff2 521px,#fbfffb 566px,#e7fefd 630px,#c8fcff 660px,#69eeff 710px,#55ebff 733px,#53ebff 775px,#6beeff 804px,#6beeff 815px)"></i><i style="top:30px;height:11px;background:linear-gradient(90deg,#6beeff 0px,#6beeff 11px,#5aecff 27px,#53ebff 43px,#5aecff 91px,#76f0ff 112px,#d4fdfe 156px,#fbfffb 184px,#fffcdf 270px,#fffbda 310px,#fffbdb 513px,#fffff0 578px,#fbfffb 629px,#f4fffc 636px,#c8fcff 665px,#70efff 706px,#58ecff 727px,#53ebff 773px,#6beeff 804px,#6beeff 815px)"></i><i style="top:40px;height:11px;background:linear-gradient(90deg,#6beeff 0px,#6beeff 11px,#5aecff 27px,#53ebff 43px,#5aecff 91px,#76f0ff 112px,#d5fdfe 156px,#fbfffb 184px,#fffff0 225px,#fffbd8 267px,#fff9d4 307px,#fffad5 522px,#fffbda 544px,#fffff0 582px,#fbfffb 629px,#f4fffc 636px,#c8fcff 665px,#70efff 706px,#58ecff 727px,#53ebff 773px,#6beeff 804px,#6beeff 815px)"></i><i style="top:50px;height:11px;background:linear-gradient(90deg,#6beeff 0px,#6beeff 11px,#5aecff 27px,#53ebff 43px,#5aecff 91px,#70efff 109px,#c8fcff 149px,#fbfffb 183px,#fffff0 222px,#fffad6 261px,#fff7ce 310px,#fff7d0 521px,#fffbd8 552px,#fffff0 585px,#fbfffb 630px,#f4fffc 637px,#c9fcff 665px,#72efff 705px,#58ecff 727px,#53ebff 773px,#6beeff 804px,#6beeff 815px)"></i><i style="top:60px;height:11px;background:linear-gradient(90deg,#6eefff 0px,#6eefff 11px,#5decff 27px,#56ebff 43px,#5decff 91px,#77f0ff 111px,#d8fdfe 157px,#fbfffb 183px,#fffff0 219px,#fff6cd 266px,#fff2c5 314px,#fff3c7 520px,#fff9d4 556px,#fffff0 588px,#fbfffb 630px,#f4fffc 637px,#c8fcff 666px,#73f0ff 706px,#5becff 727px,#56ebff 773px,#6eefff 804px,#6eefff 815px)"></i><i style="top:70px;height:11px;background:linear-gradient(90deg,#7cf1ff 0px,#7cf1ff 11px,#65eeff 43px,#6cefff 91px,#8bf3ff 116px,#c9fcff 146px,#fbfffb 181px,#fffff0 216px,#fff5ca 251px,#ffebb6 280px,#ffe6ad 325px,#ffe8b0 513px,#fff2c5 550px,#fffff0 592px,#f7fffb 636px,#c9fcff 668px,#8bf3ff 699px,#6aeeff 727px,#65eeff 773px,#7cf1ff 804px,#7cf1ff 815px)"></i><i style="top:80px;height:11px;background:linear-gradient(90deg,#88f3ff 0px,#88f3ff 11px,#74f0ff 43px,#7af1ff 90px,#94f4ff 115px,#c8fcff 143px,#fbfffb 179px,#fffff0 215px,#fff4c9 251px,#ffeab3 280px,#ffe5aa 325px,#ffe7ae 513px,#fff2c4 550px,#fffff0 593px,#fbfffb 634px,#c8fcff 671px,#93f4ff 700px,#78f0ff 727px,#74f0ff 773px,#88f3ff 804px,#88f3ff 815px)"></i><i style="top:90px;height:11px;background:linear-gradient(90deg,#87f2ff 0px,#87f2ff 11px,#73f0ff 42px,#77f0ff 88px,#93f4ff 115px,#c9fcff 144px,#f9fffb 177px,#fffff1 212px,#fffbd7 233px,#ffe1a4 277px,#ffd997 326px,#ffdc9a 513px,#ffe4a9 536px,#fffff0 594px,#fafffb 635px,#c9fcff 670px,#92f4ff 700px,#77f0ff 727px,#73f0ff 773px,#87f2ff 804px,#87f2ff 815px)"></i><i style="top:100px;height:11px;background:linear-gradient(90deg,#86f2ff 0px,#86f2ff 11px,#72efff 43px,#77f0ff 90px,#92f4ff 115px,#c9fcff 144px,#fbfffb 179px,#fffff0 212px,#fff6ce 234px,#ffedb9 245px,#ffd08f 262px,#ffad72 287px,#ffa269 318px,#ffa168 407px,#ffa26a 492px,#ffb074 523px,#ffd290 546px,#ffeebc 563px,#fffff0 597px,#f9fffb 636px,#c9fcff 670px,#91f4ff 700px,#76f0ff 727px,#72efff 773px,#86f2ff 804px,#86f2ff 815px)"></i><i style="top:110px;height:11px;background:linear-gradient(90deg,#85f2ff 0px,#85f2ff 11px,#71efff 42px,#75f0ff 88px,#91f4ff 115px,#c9fcff 144px,#fbfffb 179px,#fffff0 210px,#fffde3 220px,#ffecb8 240px,#ffdb99 248px,#ffaf73 262px,#ff8b58 279px,#ff7c55 293px,#ff7453 312px,#ff7252 407px,#ff7553 496px,#ff8b58 528px,#ffb275 546px,#ffdb99 559px,#ffeebb 568px,#fffde2 587px,#fffff0 598px,#fbfffb 634px,#c9fcff 670px,#91f4ff 700px,#75f0ff 727px,#71efff 773px,#85f2ff 804px,#85f2ff 815px)"></i><i style="top:120px;height:11px;background:linear-gradient(90deg,#85f2ff 0px,#85f2ff 11px,#70efff 42px,#74f0ff 88px,#91f4ff 115px,#c8fcff 144px,#fbfffb 179px,#fffff0 210px,#fffbdb 222px,#ffeebb 236px,#ffdd9b 243px,#ff8c5a 263px,#ff654f 278px,#ff5045 292px,#ff4340 317px,#ff423f 407px,#ff4440 491px,#ff5146 516px,#ff654f 529px,#ff8c5a 544px,#ffdc9b 564px,#ffeebb 571px,#fffbda 585px,#fffff0 598px,#fbfffb 634px,#c8fcff 670px,#90f4ff 700px,#73f0ff 728px,#70efff 773px,#85f2ff 804px,#85f2ff 815px)"></i><i style="top:130px;height:11px;background:linear-gradient(90deg,#84f2ff 0px,#84f2ff 11px,#6eefff 42px,#73f0ff 88px,#90f4ff 115px,#c8fcff 144px,#fbfffb 179px,#fffff0 209px,#fffbda 221px,#ffeebb 234px,#ffdd9d 240px,#ff8b59 257px,#ff4b43 274px,#ff383d 285px,#ff2a39 312px,#ff2839 407px,#ff2a39 497px,#ff393d 523px,#ff4e44 534px,#ff8b59 550px,#ffdd9c 567px,#ffeeba 573px,#fffbda 586px,#fffff0 599px,#fbfffb 634px,#c8fcff 670px,#8ff4ff 700px,#73f0ff 727px,#6eefff 773px,#84f2ff 804px,#84f2ff 815px)"></i><i style="top:140px;height:11px;background:linear-gradient(90deg,#83f2ff 0px,#83f2ff 11px,#6defff 42px,#72efff 88px,#8ff4ff 115px,#c9fcff 145px,#fbfffb 179px,#fffff0 209px,#fffbd8 221px,#ffeebb 233px,#ffdd9b 239px,#ff8d5a 254px,#ff4440 270px,#ff2c3a 283px,#ff2035 315px,#ff1e35 407px,#ff2035 494px,#ff2d3a 525px,#ff4440 537px,#ff8c5a 553px,#ffdc9b 568px,#ffeeba 574px,#fffbd8 586px,#fffff0 599px,#fbfffb 634px,#c9fcff 669px,#8ef4ff 700px,#72efff 727px,#6defff 773px,#83f2ff 804px,#83f2ff 815px)"></i><i style="top:150px;height:11px;background:linear-gradient(90deg,#82f2ff 0px,#82f2ff 11px,#6cefff 42px,#71efff 88px,#8ef4ff 115px,#c9fcff 145px,#fbfffb 179px,#fffff0 209px,#fffbda 220px,#ffefbd 232px,#ffde9d 238px,#ff8c5a 253px,#ff4741 267px,#ff2b3a 279px,#ff1c34 309px,#fe1a33 407px,#ff1c34 500px,#ff2c3a 529px,#ff4641 540px,#ff8c59 554px,#ffde9d 569px,#ffefbc 575px,#fffbda 587px,#fffff0 600px,#fbfffb 634px,#c9fcff 669px,#8ef3ff 700px,#71efff 727px,#6cefff 773px,#82f2ff 804px,#82f2ff 815px)"></i><i style="top:160px;height:11px;background:linear-gradient(90deg,#81f2ff 0px,#81f2ff 11px,#6beeff 42px,#70efff 88px,#8ef3ff 115px,#c9fcff 145px,#fbfffb 179px,#fffff0 208px,#fffbda 220px,#ffefbc 232px,#ffde9d 238px,#ff8c5a 253px,#ff4741 267px,#ff2b3a 279px,#ff1c34 309px,#fd1933 407px,#ff1c34 500px,#ff2c3a 529px,#ff4641 540px,#ff8c59 554px,#ffdd9d 569px,#ffeebc 575px,#fffbda 587px,#fffff0 600px,#fbfffb 634px,#c9fcff 669px,#8ef4ff 699px,#6fefff 727px,#6beeff 773px,#81f2ff 804px,#81f2ff 815px)"></i><i style="top:170px;height:11px;background:linear-gradient(90deg,#80f1ff 0px,#80f1ff 11px,#6aeeff 42px,#6eefff 88px,#8df3ff 115px,#c9fcff 145px,#fbfffb 179px,#fffff0 208px,#fffbda 220px,#ffefbc 232px,#ffde9d 238px,#ff8c59 253px,#ff4641 267px,#ff2c3a 278px,#ff1c34 308px,#fd1833 407px,#ff1c34 500px,#ff2c3a 529px,#ff4641 540px,#ff8c59 554px,#ffdd9d 569px,#ffeebc 575px,#fffbda 587px,#fffff0 600px,#fbfffb 634px,#c9fcff 669px,#8ef3ff 699px,#6eefff 727px,#6aeeff 773px,#80f1ff 804px,#80f1ff 815px)"></i><i style="top:180px;height:11px;background:linear-gradient(90deg,#7ff1ff 0px,#7ff1ff 11px,#69eeff 42px,#6defff 88px,#8cf3ff 115px,#c8fcff 145px,#fbfffb 179px,#fffff0 208px,#fffbda 220px,#ffefbc 232px,#ffde9d 238px,#ff8c59 253px,#ff4641 267px,#ff2c3a 278px,#ff1b34 308px,#fc1732 407px,#ff1b34 500px,#ff2c3a 529px,#ff4641 540px,#ff8b59 554px,#ffdd9c 569px,#ffeebc 575px,#fffbd9 587px,#fffff0 600px,#fbfffb 634px,#c8fcff 669px,#8df3ff 699px,#6defff 727px,#69eeff 773px,#7ff1ff 804px,#7ff1ff 815px)"></i><i style="top:190px;height:11px;background:linear-gradient(90deg,#7ef1ff 0px,#7ef1ff 11px,#68eeff 42px,#6cefff 88px,#8df3ff 116px,#c8fcff 145px,#fbfffb 179px,#fffff0 208px,#fffbda 220px,#ffefbc 232px,#ffde9d 238px,#ff8c59 253px,#ff4641 267px,#ff2c3a 278px,#fe1b34 308px,#fb1532 407px,#fe1b34 500px,#ff2c3a 529px,#ff4541 540px,#ff8b59 554px,#ffdd9c 569px,#ffeebc 575px,#fffbd9 587px,#fffff0 600px,#fbfffb 634px,#cafcff 668px,#8cf3ff 699px,#6cefff 727px,#68eeff 773px,#7ef1ff 804px,#7ef1ff 815px)"></i><i style="top:200px;height:11px;background:linear-gradient(90deg,#7df1ff 0px,#7df1ff 11px,#66eeff 42px,#6beeff 88px,#8cf3ff 116px,#c9fcff 146px,#fbfffb 179px,#fffff0 208px,#fffbda 220px,#ffefbc 232px,#ffde9d 238px,#ff8c59 253px,#ff4641 267px,#ff2c3a 278px,#fe1b34 308px,#fa1331 407px,#fe1a33 500px,#ff2b3a 529px,#ff4540 540px,#ff8b59 554px,#ffdd9c 569px,#ffeebc 575px,#fffbd9 587px,#fffff0 600px,#fbfffb 634px,#c9fcff 668px,#8bf3ff 699px,#6beeff 727px,#66eeff 773px,#7df1ff 804px,#7df1ff 815px)"></i><i style="top:210px;height:11px;background:linear-gradient(90deg,#7cf1ff 0px,#7cf1ff 11px,#65eeff 42px,#6aeeff 88px,#8bf3ff 116px,#c9fcff 146px,#fbfffb 179px,#fffff0 208px,#fffbda 220px,#ffeebc 232px,#ffdd9d 238px,#ff8b59 253px,#ff4541 267px,#ff2b3a 278px,#fe1a33 307px,#f91130 407px,#fe1a33 500px,#ff2c3a 530px,#ff4440 540px,#ff8b59 554px,#ffdd9c 569px,#ffeebc 575px,#fffbd9 587px,#fffff0 600px,#fbfffb 634px,#c9fcff 668px,#8bf3ff 699px,#6aeeff 727px,#65eeff 773px,#7cf1ff 804px,#7cf1ff 815px)"></i><i style="top:220px;height:11px;background:linear-gradient(90deg,#7bf1ff 0px,#7bf1ff 11px,#64edff 42px,#69eeff 88px,#8bf3ff 116px,#c9fcff 146px,#fbfffb 179px,#fffff0 208px,#fffbda 220px,#ffeebc 232px,#ffdd9c 238px,#ff8b59 253px,#ff4540 267px,#ff2b3a 278px,#fe1a33 306px,#f40e2f 407px,#fd1933 501px,#ff2c3a 530px,#ff4440 540px,#ff8a58 554px,#ffdd9c 569px,#ffeebc 575px,#fffbd9 587px,#fffff0 600px,#fbfffb 634px,#c9fcff 668px,#8af3ff 699px,#69eeff 727px,#64edff 773px,#7bf1ff 804px,#7bf1ff 815px)"></i><i style="top:230px;height:11px;background:linear-gradient(90deg,#77f0ff 0px,#77f0ff 11px,#60edff 42px,#65eeff 88px,#7cf1ff 109px,#c9fcff 147px,#f9fffb 178px,#fffff0 208px,#fffbda 220px,#ffeebc 232px,#ffdd9c 238px,#ff8b59 253px,#ff4540 267px,#ff2c3a 277px,#fe1a33 304px,#ee092d 407px,#fd1933 502px,#ff2c3a 530px,#ff4440 540px,#ff8a58 554px,#ffdd9c 569px,#ffeebb 575px,#fffbd9 587px,#fffff0 600px,#fafffb 634px,#c9fcff 667px,#7cf1ff 706px,#65eeff 727px,#60edff 773px,#77f0ff 804px,#77f0ff 815px)"></i><i style="top:240px;height:11px;background:linear-gradient(90deg,#71efff 0px,#71efff 11px,#59ecff 42px,#5eedff 88px,#76f0ff 109px,#c9fcff 148px,#f9fffb 178px,#fffff0 208px,#fffbd9 220px,#ffeebc 232px,#ffdd9c 238px,#ff8b59 253px,#ff4440 267px,#ff2c3a 277px,#fe1a33 303px,#e8062b 407px,#fd1933 503px,#ff2b3a 530px,#ff4340 540px,#ff8a58 554px,#ffdd9b 569px,#ffeebb 575px,#fffbd9 587px,#ffffef 600px,#f9fffb 635px,#c9fcff 666px,#76f0ff 706px,#5eedff 727px,#59ecff 773px,#71efff 804px,#71efff 815px)"></i><i style="top:250px;height:11px;background:linear-gradient(90deg,#6beeff 0px,#6beeff 11px,#52ebff 42px,#58ecff 89px,#72efff 110px,#c9fcff 149px,#f7fffb 177px,#fffff0 208px,#fffbd9 220px,#ffeebc 232px,#ffdd9c 238px,#ff8b58 253px,#ff4440 267px,#ff2c3a 277px,#fe1a33 302px,#f81030 346px,#e40329 407px,#fd1833 504px,#ff2b3a 530px,#ff4741 541px,#ff8a58 554px,#ffdd9b 569px,#ffeebb 575px,#fffbd8 587px,#fffff0 601px,#f7fffb 636px,#c9fcff 665px,#71efff 705px,#57ecff 727px,#52ebff 773px,#6beeff 804px,#6beeff 815px)"></i><i style="top:260px;height:11px;background:linear-gradient(90deg,#65eeff 0px,#65eeff 11px,#53ebff 26px,#4beaff 42px,#51ebff 89px,#6cefff 110px,#c8fcff 149px,#f5fffb 176px,#fffff0 208px,#fffbd9 220px,#ffeebc 232px,#ffdd9c 238px,#ff8b58 253px,#ff4440 267px,#ff2c3a 277px,#fe1a33 301px,#f81030 343px,#e10128 407px,#fd1933 505px,#ff2c3a 531px,#ff4741 541px,#ff8a58 554px,#ffdd9b 569px,#ffeebb 575px,#fffbd8 587px,#fffff0 601px,#f7fffb 636px,#c8fcff 665px,#6beeff 705px,#51ebff 727px,#4beaff 773px,#53ebff 789px,#65eeff 804px,#65eeff 815px)"></i><i style="top:270px;height:11px;background:linear-gradient(90deg,#5fedff 0px,#5fedff 11px,#4deaff 26px,#45e9ff 42px,#4beaff 89px,#66eeff 110px,#c8fcff 150px,#f5fffb 176px,#fffff0 208px,#fffbd9 220px,#ffeebc 232px,#ffdd9c 238px,#ff8a58 253px,#ff4440 267px,#ff2c3a 277px,#fe1a33 301px,#f81030 342px,#e00028 407px,#fd1933 506px,#ff2c3a 531px,#ff4741 541px,#ff8958 554px,#ffdd9b 569px,#ffeebb 575px,#fffbd8 587px,#fffff0 601px,#f5fffb 637px,#c8fcff 664px,#67eeff 704px,#4beaff 726px,#45e9ff 773px,#4deaff 789px,#5fedff 804px,#5fedff 815px)"></i><i style="top:280px;height:11px;background:linear-gradient(90deg,#59ecff 0px,#59ecff 11px,#46e9ff 26px,#3ee8ff 42px,#44e9ff 89px,#62edff 111px,#c8fcff 151px,#f3fffc 175px,#fbfffb 182px,#fffff0 208px,#fffbd9 220px,#ffeebc 232px,#ffdd9c 238px,#ff8a58 253px,#ff4440 267px,#ff2c3a 277px,#fe1a33 302px,#f81030 343px,#e10128 407px,#fd1933 505px,#ff2c3a 531px,#ff4741 541px,#ff8958 554px,#ffdc9b 569px,#ffeebb 575px,#fffbd8 587px,#fffff0 601px,#fbfffb 631px,#f3fffc 638px,#c8fcff 663px,#61edff 704px,#44e9ff 726px,#3ee8ff 773px,#46e9ff 789px,#59ecff 804px,#59ecff 815px)"></i><i style="top:290px;height:11px;background:linear-gradient(90deg,#52ebff 0px,#52ebff 11px,#40e8ff 26px,#37e7ff 42px,#3de8ff 89px,#5cecff 111px,#c9fcff 152px,#f2fefc 175px,#fbfffb 182px,#fffff0 208px,#fffbd9 220px,#ffeebc 232px,#ffdd9c 238px,#ff8a58 253px,#ff4440 267px,#ff2c3a 277px,#fe1a33 302px,#e5032a 407px,#fd1933 504px,#ff2b3a 530px,#ff4741 541px,#ff8a58 554px,#ffdc9b 569px,#ffeebb 575px,#fffbd8 587px,#fffff0 601px,#fbfffb 631px,#f2fefc 638px,#c9fcff 662px,#5cecff 704px,#3de8ff 726px,#37e7ff 773px,#40e8ff 789px,#52ebff 804px,#52ebff 815px)"></i><i style="top:300px;height:11px;background:linear-gradient(90deg,#4deaff 0px,#4deaff 11px,#3ae7ff 26px,#31e6ff 42px,#38e7ff 89px,#57ecff 111px,#c7fcff 152px,#f0fefc 174px,#fbfffb 182px,#fffff0 208px,#fffbd9 220px,#ffeebb 232px,#ffdd9c 238px,#ff8b58 253px,#ff4440 267px,#ff2c3a 277px,#fe1a33 303px,#ea072b 407px,#fd1933 503px,#ff2b3a 530px,#ff4340 540px,#ff8a58 554px,#ffdc9b 569px,#ffeebb 575px,#fffbd8 587px,#fffff0 601px,#fbfffb 631px,#f2fefc 638px,#c7fcff 662px,#57ecff 704px,#37e7ff 726px,#31e6ff 773px,#3ae7ff 789px,#4deaff 804px,#4deaff 815px)"></i><i style="top:310px;height:11px;background:linear-gradient(90deg,#4beaff 0px,#4beaff 11px,#37e7ff 27px,#2ee6ff 43px,#2de5ff 71px,#35e7ff 89px,#55ebff 111px,#c9fcff 153px,#f0fefc 174px,#fbfffb 182px,#fffff0 208px,#fffbd9 220px,#ffeebb 232px,#ffdd9c 238px,#ff8b58 253px,#ff4440 267px,#ff2c3a 277px,#fe1a33 305px,#f00b2d 407px,#fd1933 502px,#ff2c3a 530px,#ff4340 540px,#ff8a58 554px,#ffdc9b 569px,#ffeebb 575px,#fffbd8 587px,#fffff0 601px,#fbfffb 631px,#f0fefc 639px,#c9fcff 661px,#55ebff 704px,#35e7ff 726px,#2de5ff 744px,#2ee6ff 772px,#37e7ff 788px,#4beaff 804px,#4beaff 815px)"></i><i style="top:320px;height:11px;background:linear-gradient(90deg,#49eaff 0px,#49eaff 11px,#35e7ff 26px,#2ce5ff 43px,#2be5ff 71px,#33e6ff 89px,#53ebff 111px,#c8fcff 153px,#f0fefc 174px,#fbfffb 182px,#fffff0 208px,#fffbd9 220px,#ffeebb 232px,#ffdd9c 238px,#ff8b59 253px,#ff4540 267px,#ff2b3a 278px,#fe1a33 307px,#f60f2f 407px,#fe1933 501px,#ff2c3a 530px,#ff4440 540px,#ff8a58 554px,#ffdd9b 569px,#ffeebb 575px,#fffbd8 587px,#fffff0 601px,#fbfffb 631px,#f0fefc 639px,#c8fcff 661px,#55ebff 703px,#33e6ff 726px,#2be5ff 744px,#2ce5ff 772px,#35e7ff 789px,#49eaff 804px,#49eaff 815px)"></i><i style="top:330px;height:11px;background:linear-gradient(90deg,#47e9ff 0px,#47e9ff 11px,#33e6ff 26px,#29e5ff 43px,#28e4ff 72px,#31e6ff 89px,#54ebff 112px,#c8fcff 153px,#effefc 174px,#fbfffb 182px,#fffff0 207px,#fffbd9 220px,#ffeebb 232px,#ffdd9c 238px,#ff8b59 253px,#ff4540 267px,#ff2b3a 278px,#fe1a33 307px,#f91231 407px,#fe1a33 500px,#ff2c3a 530px,#ff4440 540px,#ff8a58 554px,#ffdd9b 569px,#ffeebb 575px,#fffbd8 587px,#fffff0 601px,#fbfffb 631px,#f0fefc 639px,#c8fcff 661px,#51ebff 704px,#2fe6ff 728px,#29e5ff 772px,#33e6ff 789px,#47e9ff 804px,#47e9ff 815px)"></i><i style="top:340px;height:11px;background:linear-gradient(90deg,#45e9ff 0px,#45e9ff 11px,#2fe6ff 28px,#26e4fe 43px,#2de5ff 87px,#50ebff 111px,#c7fcff 153px,#effefc 174px,#fbfffb 182px,#fffff0 207px,#fffbd9 220px,#ffeebb 232px,#ffdd9c 238px,#ff8b59 253px,#ff4541 267px,#ff2c3a 278px,#fe1b34 308px,#fa1431 407px,#fe1a33 500px,#ff2b3a 529px,#ff4540 540px,#ff8a58 554px,#ffdd9b 569px,#ffeebb 575px,#fffbd8 587px,#fffff0 601px,#fbfffb 630px,#f0fefc 639px,#c7fcff 661px,#4feaff 704px,#2ce5ff 728px,#26e4fe 772px,#2fe6ff 787px,#45e9ff 804px,#45e9ff 815px)"></i><i style="top:350px;height:11px;background:linear-gradient(90deg,#43e9ff 0px,#43e9ff 11px,#2de5ff 28px,#24e3fe 43px,#2ae5ff 87px,#4eeaff 111px,#c6fcff 153px,#effefc 174px,#fbfffb 182px,#fffff0 207px,#fffbd9 220px,#ffeebb 232px,#ffdd9c 238px,#ff8b59 253px,#ff4641 267px,#ff2c3a 278px,#fe1b34 308px,#fb1632 407px,#fe1b34 500px,#ff2c3a 529px,#ff4540 540px,#ff8a58 554px,#ffdd9b 569px,#ffeebb 575px,#fffbd8 587px,#fffff0 601px,#fbfffb 630px,#f0fefc 639px,#c9fcff 660px,#4deaff 704px,#2ae5ff 728px,#24e3fe 773px,#2de5ff 787px,#43e9ff 804px,#43e9ff 815px)"></i><i style="top:360px;height:11px;background:linear-gradient(90deg,#41e8ff 0px,#41e8ff 11px,#2be5ff 27px,#21e3fe 42px,#20e3fe 70px,#27e4fe 87px,#4eeaff 112px,#c9fcff 154px,#edfefc 173px,#fbfffb 183px,#fffff0 207px,#fffbd8 220px,#ffeebb 232px,#ffdd9c 238px,#ff8b59 253px,#ff4641 267px,#ff2c3a 278px,#ff1b34 308px,#fc1732 407px,#ff1b34 500px,#ff2c3a 529px,#ff4541 540px,#ff8b58 554px,#ffdd9b 569px,#ffeebb 575px,#fffbd8 587px,#fffff0 601px,#fbfffb 630px,#f0fefc 639px,#c8fcff 660px,#4deaff 703px,#27e4fe 728px,#20e3fe 745px,#21e3fe 773px,#2be5ff 788px,#41e8ff 804px,#41e8ff 815px)"></i><i style="top:370px;height:11px;background:linear-gradient(90deg,#3fe8ff 0px,#3fe8ff 11px,#28e4ff 27px,#1fe2fe 42px,#1de2fe 70px,#25e4fe 87px,#4ceaff 112px,#c8fcff 154px,#edfefc 173px,#fbfffb 183px,#fffff0 207px,#fffbd8 220px,#ffeebb 232px,#ffdd9c 238px,#ff8b59 253px,#ff4641 267px,#ff2c3a 278px,#ff1c34 308px,#fd1833 407px,#ff1c34 500px,#ff2c3a 529px,#ff4541 540px,#ff8b58 554px,#ffdd9b 569px,#ffeebb 575px,#fffbd8 587px,#fffff0 601px,#fbfffb 630px,#effefc 639px,#c8fcff 660px,#4beaff 703px,#25e4fe 728px,#1de2fe 745px,#1fe2fe 773px,#28e4ff 788px,#3fe8ff 804px,#3fe8ff 815px)"></i><i style="top:380px;height:11px;background:linear-gradient(90deg,#3de8ff 0px,#3de8ff 11px,#25e4fe 28px,#1ce2fe 43px,#1be2fe 71px,#23e3fe 88px,#4aeaff 112px,#c7fcff 154px,#edfefc 173px,#fbfffb 183px,#fffff0 207px,#fffbd9 220px,#ffefbd 232px,#ffdc9a 239px,#ff8858 255px,#ff4641 270px,#ff2c3a 284px,#ff2036 316px,#ff1e35 407px,#ff2036 493px,#ff2d3a 524px,#ff4541 537px,#ff8d5a 553px,#ffdb99 568px,#ffefbc 575px,#fffbd8 587px,#fffff0 601px,#fbfffb 630px,#effefc 639px,#c7fcff 660px,#49eaff 703px,#22e3fe 728px,#1be2fe 745px,#1ce2fe 773px,#26e4fe 788px,#3de8ff 804px,#3de8ff 815px)"></i><i style="top:390px;height:11px;background:linear-gradient(90deg,#3be8ff 0px,#3be8ff 11px,#23e3fe 27px,#19e1fe 42px,#18e1fe 71px,#21e3fe 88px,#48e9ff 112px,#c7fcff 154px,#edfefc 173px,#fbfffb 183px,#fffff0 207px,#fffbda 220px,#ffeebc 233px,#ffde9e 239px,#ff8b59 256px,#ff4842 273px,#ff343c 285px,#ff2738 313px,#ff2537 407px,#ff2738 495px,#ff353c 523px,#ff4842 534px,#ff8b59 551px,#ffde9e 568px,#ffeebb 574px,#fffbd9 587px,#fffff0 601px,#fbfffb 630px,#edfefc 640px,#c7fcff 660px,#47e9ff 703px,#20e3fe 728px,#18e1fe 745px,#19e1fe 773px,#23e3fe 788px,#3be8ff 804px,#3be8ff 815px)"></i><i style="top:400px;height:11px;background:linear-gradient(90deg,#39e7ff 0px,#39e7ff 11px,#21e3fe 27px,#17e1fd 43px,#16e1fd 72px,#20e3fe 90px,#4eeaff 115px,#c9fcff 155px,#fbfffb 183px,#ffffed 210px,#ffeeba 234px,#ffda99 241px,#ff8b59 258px,#ff5b4a 271px,#ff4440 280px,#ff343c 296px,#ff2d3a 319px,#ff2c3a 474px,#ff313b 505px,#ff413f 525px,#ff5849 535px,#ff8b58 549px,#ffda98 566px,#ffedba 573px,#fffde3 591px,#fffff0 601px,#fbfffb 630px,#e5fefd 645px,#c6fcff 660px,#48e9ff 702px,#1ee2fe 727px,#16e1fd 744px,#17e1fd 773px,#21e3fe 788px,#39e7ff 804px,#39e7ff 815px)"></i><i style="top:410px;height:11px;background:linear-gradient(90deg,#39e7ff 0px,#39e7ff 11px,#21e3fe 27px,#17e1fd 43px,#16e1fd 72px,#20e3fe 90px,#4eeaff 115px,#c9fcff 155px,#fbfffb 183px,#ffffed 210px,#ffefbc 234px,#ffda98 242px,#ff8b59 260px,#ff5f4c 274px,#ff4641 286px,#ff373d 323px,#ff363d 475px,#ff4440 520px,#ff5e4c 533px,#ff8b59 547px,#ffda98 565px,#ffedb8 572px,#fffde1 590px,#fffff0 601px,#fbfffb 630px,#e5fefd 645px,#c6fcff 660px,#48e9ff 702px,#1ee2fe 727px,#16e1fd 744px,#17e1fd 773px,#21e3fe 788px,#39e7ff 804px,#39e7ff 815px)"></i><i style="top:420px;height:11px;background:linear-gradient(90deg,#3ee8ff 0px,#3ee8ff 11px,#26e4fe 28px,#1de2fe 43px,#1ce2fe 72px,#26e4fe 90px,#48e9ff 111px,#c8fcff 154px,#fbfffb 182px,#ffffed 210px,#ffeebb 235px,#ffda98 243px,#ff8c59 262px,#ff6e51 272px,#ff5246 286px,#ff4440 301px,#ff403f 319px,#ff3f3f 476px,#ff4c44 516px,#ff604d 529px,#ff8858 544px,#ffa168 551px,#ffd998 564px,#ffeebb 572px,#fffde2 590px,#fffff0 601px,#fbfffb 631px,#e7fefd 644px,#c8fcff 660px,#4ceaff 702px,#24e3fe 727px,#1ce2fe 744px,#1de2fe 772px,#26e4fe 787px,#3ee8ff 804px,#3ee8ff 815px)"></i><i style="top:430px;height:11px;background:linear-gradient(90deg,#42e9ff 0px,#42e9ff 11px,#2ce5ff 28px,#23e3fe 42px,#22e3fe 70px,#29e5ff 87px,#4deaff 111px,#c7fcff 153px,#f1fefc 175px,#fbfffb 182px,#ffffef 208px,#fffbd8 222px,#ffeeba 236px,#ffdd9c 243px,#ffa168 258px,#ff8b59 265px,#ff6e51 277px,#ff5849 292px,#ff4a43 330px,#ff4d44 496px,#ff5c4b 519px,#ff8256 539px,#ffa068 549px,#ffd998 563px,#ffedba 571px,#fffde2 590px,#fffff0 601px,#fbfffb 631px,#e8fefc 644px,#c7fcff 661px,#4eeaff 703px,#2ae5ff 727px,#22e3fe 744px,#23e3fe 772px,#2ce5ff 787px,#42e9ff 804px,#42e9ff 815px)"></i><i style="top:440px;height:11px;background:linear-gradient(90deg,#47e9ff 0px,#47e9ff 11px,#33e6ff 26px,#29e5ff 43px,#28e4ff 72px,#31e6ff 89px,#51ebff 111px,#c8fcff 153px,#f2fefc 175px,#fbfffb 182px,#fffff0 207px,#fffbd9 222px,#ffefbd 236px,#ffde9d 244px,#ffa36b 260px,#ff8b59 269px,#ff7453 281px,#ff664f 294px,#ff5b4a 329px,#ff5d4b 494px,#ff6b51 519px,#ff8858 537px,#ffaf73 550px,#ffdb99 562px,#ffedba 570px,#fffde3 590px,#fffff0 601px,#fbfffb 631px,#eafefc 643px,#c8fcff 661px,#53ebff 703px,#31e6ff 725px,#28e4ff 742px,#29e4ff 771px,#32e6ff 788px,#47e9ff 804px,#47e9ff 815px)"></i><i style="top:450px;height:11px;background:linear-gradient(90deg,#4ceaff 0px,#4ceaff 11px,#37e7ff 27px,#2fe6ff 43px,#2ee6ff 71px,#36e7ff 89px,#56ebff 111px,#c7fcff 152px,#f4fffc 176px,#fbfffb 181px,#ffffef 208px,#fffbd8 223px,#ffeebb 238px,#ffde9d 246px,#ffae72 261px,#ff945f 271px,#ff7a54 291px,#ff7052 319px,#ff7052 489px,#ff7854 513px,#ff8a58 530px,#ffb175 547px,#ffdb99 560px,#ffeebb 569px,#fffde3 590px,#fffff0 601px,#fbfffb 632px,#ebfefc 643px,#c7fcff 662px,#57ecff 703px,#37e7ff 725px,#2ee6ff 743px,#2fe6ff 771px,#37e7ff 788px,#4ceaff 804px,#4ceaff 815px)"></i><i style="top:460px;height:11px;background:linear-gradient(90deg,#50ebff 0px,#50ebff 11px,#3ce8ff 27px,#34e7ff 43px,#34e7ff 72px,#3ce8ff 90px,#5decff 112px,#c9fcff 152px,#ebfefc 170px,#fbfffb 181px,#fffff0 207px,#fffde4 218px,#ffeeba 240px,#ffd190 253px,#ffa068 272px,#ff8b59 291px,#ff8256 318px,#ff8156 481px,#ff8d5a 519px,#ff9d66 533px,#ffb074 542px,#ffdc9a 558px,#ffedba 567px,#fffde3 589px,#fffff0 601px,#fbfffb 632px,#edfefc 642px,#c9fcff 662px,#5cecff 703px,#3ce8ff 725px,#34e7ff 743px,#34e7ff 772px,#3ce8ff 788px,#50ebff 804px,#50ebff 815px)"></i><i style="top:470px;height:11px;background:linear-gradient(90deg,#55ebff 0px,#55ebff 11px,#42e9ff 27px,#3ae7ff 43px,#39e7ff 72px,#41e8ff 90px,#61edff 112px,#c8fcff 151px,#edfefc 171px,#fbfffb 181px,#fffff0 207px,#ffeebc 241px,#ffd593 255px,#ffab70 275px,#ff9862 295px,#ff925e 329px,#ff925e 483px,#ff9d66 520px,#ffab70 532px,#ffc585 545px,#ffdc9a 555px,#ffeebc 566px,#fffde4 589px,#fffff0 601px,#fbfffb 632px,#eefefc 642px,#c8fcff 663px,#60edff 703px,#41e8ff 725px,#39e7ff 743px,#3ae7ff 772px,#42e9ff 788px,#55ebff 804px,#55ebff 815px)"></i><i style="top:480px;height:11px;background:linear-gradient(90deg,#5aecff 0px,#5aecff 11px,#47e9ff 27px,#3fe8ff 43px,#46e9ff 90px,#64edff 111px,#c7fcff 150px,#eefefc 171px,#fbfffb 180px,#fffff0 207px,#ffeebc 243px,#ffdb99 256px,#ffbb7c 275px,#ffa76d 297px,#ffa169 331px,#ffa169 481px,#ffab70 517px,#ffcd8c 544px,#ffeebc 564px,#fffde3 588px,#fffff0 601px,#fbfffb 633px,#f0fefc 641px,#c9fcff 663px,#65eeff 703px,#46e9ff 725px,#3fe8ff 772px,#47e9ff 788px,#5aecff 804px,#5aecff 815px)"></i><i style="top:490px;height:11px;background:linear-gradient(90deg,#5fedff 0px,#5fedff 11px,#4ceaff 27px,#44e9ff 43px,#4beaff 90px,#68eeff 111px,#c9fcff 150px,#f0fefc 172px,#fbfffb 180px,#fffff0 207px,#ffeebb 246px,#ffdc9a 260px,#ffca89 273px,#ffb97b 297px,#ffb477 329px,#ffb477 480px,#ffbc7d 516px,#ffd493 542px,#ffeebb 561px,#fffde4 588px,#fffff0 601px,#fbfffb 633px,#f1fefc 641px,#c8fcff 664px,#67eeff 704px,#4beaff 725px,#44e9ff 772px,#4ceaff 788px,#5fedff 804px,#5fedff 815px)"></i><i style="top:500px;height:11px;background:linear-gradient(90deg,#63edff 0px,#63edff 11px,#51ebff 27px,#49eaff 44px,#49eaff 74px,#52ebff 92px,#6defff 111px,#c8fcff 149px,#fbfffb 179px,#fffee8 217px,#ffeebc 248px,#ffdd9b 264px,#ffcf8e 276px,#ffc484 297px,#ffc181 328px,#ffc181 482px,#ffc787 518px,#ffdb99 542px,#ffeebb 559px,#fffde4 588px,#ffffef 601px,#fbfffb 633px,#f3fffc 640px,#c8fcff 665px,#6cefff 704px,#50ebff 726px,#4aeaff 773px,#52ebff 789px,#63edff 804px,#63edff 815px)"></i><i style="top:510px;height:11px;background:linear-gradient(90deg,#89f3ff 0px,#75f0ff 44px,#7cf1ff 91px,#96f5ff 116px,#c8fcff 142px,#fbfffb 176px,#fffee9 216px,#ffeebb 250px,#ffdd9c 268px,#ffd08f 284px,#ffc888 316px,#ffc887 407px,#ffc988 492px,#ffd08f 523px,#ffdc9a 538px,#ffeebb 557px,#fffee8 591px,#fbfffb 636px,#c9fcff 671px,#95f5ff 699px,#7bf1ff 724px,#75f0ff 771px,#89f3ff 815px)"></i><i style="top:520px;height:11px;background:linear-gradient(90deg,#adf8ff 0px,#a0f6ff 44px,#a5f7ff 93px,#b6f9ff 115px,#fbfffb 172px,#fffee9 216px,#ffe1a3 268px,#ffd795 284px,#ffd08f 316px,#ffcf8e 407px,#ffd08f 492px,#ffd795 523px,#ffe1a2 539px,#fffee8 591px,#fbfffb 641px,#b6f9ff 699px,#a5f7ff 721px,#a0f6ff 770px,#adf8ff 815px)"></i><i style="top:530px;height:11px;background:linear-gradient(90deg,#bffbff 0px,#b5f9ff 44px,#b9faff 92px,#cffcfe 125px,#fbfffb 168px,#fffee9 215px,#ffe4a8 269px,#ffdc9a 288px,#ffd695 407px,#ffdc9a 519px,#ffe4a8 538px,#fffee9 592px,#fbfffb 644px,#d0fcfe 688px,#b9faff 722px,#b5f9ff 771px,#bffbff 815px)"></i><i style="top:540px;height:11px;background:linear-gradient(90deg,#c9fcff 0px,#c1fbff 44px,#c4fbff 92px,#d4fdfe 123px,#fbfffb 166px,#fffeea 214px,#ffe7ae 270px,#ffe0a1 289px,#ffdd9b 407px,#ffe0a1 519px,#ffe7ad 537px,#fffeea 593px,#fbfffb 646px,#d3fdfe 691px,#c4fbff 723px,#c1fbff 771px,#c9fcff 815px)"></i><i style="top:550px;height:11px;background:linear-gradient(90deg,#d1fdfe 0px,#cefcfe 97px,#dcfdfd 125px,#fbfffb 163px,#fffeea 214px,#ffe9b2 270px,#ffe3a6 289px,#ffe0a1 406px,#ffe3a6 518px,#ffe9b2 537px,#fffeea 593px,#fbfffb 649px,#dbfdfd 689px,#cffcfe 717px,#d1fdfe 815px)"></i><i style="top:560px;height:11px;background:linear-gradient(90deg,#d3fdfe 0px,#d1fdfe 97px,#defdfd 125px,#fbfffb 162px,#fffeeb 213px,#fff1c2 255px,#ffe5ab 289px,#ffe3a6 406px,#ffe5ab 518px,#fff1c2 551px,#fffeeb 594px,#fbfffb 650px,#ddfdfd 689px,#d1fdfe 717px,#d3fdfe 815px)"></i><i style="top:570px;height:11px;background:linear-gradient(90deg,#d4fdfe 0px,#d2fdfe 97px,#defdfd 124px,#fbfffb 162px,#fffeeb 213px,#fff2c4 256px,#ffe8b0 289px,#ffe6ab 405px,#ffe8b0 518px,#fff2c4 551px,#fffeeb 594px,#fbfffb 650px,#defdfd 689px,#d2fdfe 717px,#d4fdfe 815px)"></i><i style="top:580px;height:11px;background:linear-gradient(90deg,#d5fdfe 0px,#d3fdfe 97px,#dffdfd 125px,#fbfffb 161px,#fffeec 212px,#fff2c5 257px,#ffebb5 289px,#ffe8b1 405px,#ffebb5 518px,#fff2c5 550px,#fffeeb 595px,#fbfffb 650px,#dffdfd 689px,#d3fdfe 717px,#d5fdfe 815px)"></i><i style="top:590px;height:11px;background:linear-gradient(90deg,#d6fdfe 0px,#d4fdfe 97px,#dffdfd 124px,#fbfffb 161px,#fffeeb 212px,#fff3c6 257px,#ffecb7 289px,#ffeab3 405px,#ffecb7 518px,#fff3c6 550px,#fffeeb 595px,#fbfffb 651px,#e0fdfd 689px,#d4fdfe 717px,#d6fdfe 815px)"></i><i style="top:600px;height:11px;background:linear-gradient(90deg,#d7fdfe 0px,#d5fdfe 97px,#e0fdfd 124px,#fbfffb 160px,#fffeec 211px,#fff3c6 258px,#ffedb9 289px,#ffeab4 405px,#ffedb9 518px,#fff3c6 549px,#fffeec 596px,#fbfffb 651px,#e0fdfd 689px,#d5fdfe 717px,#d7fdfe 815px)"></i><i style="top:610px;height:11px;background:linear-gradient(90deg,#d8fdfe 0px,#d6fdfe 97px,#e1fdfd 124px,#fbfffb 160px,#fffeeb 212px,#fff4c9 254px,#ffefbd 279px,#ffebb6 405px,#ffefbc 527px,#fff4c8 552px,#fffeeb 595px,#fbfffb 652px,#d6fdfe 717px,#d8fdfe 815px)"></i><i style="top:620px;height:11px;background:linear-gradient(90deg,#d9fdfe 0px,#d7fdfe 97px,#fbfffb 159px,#fffeeb 212px,#fff5ca 254px,#ffefbe 279px,#ffecb8 405px,#ffefbd 527px,#fff4c9 552px,#fffeeb 595px,#fbfffb 652px,#d7fdfe 717px,#d9fdfe 815px)"></i><i style="top:630px;height:11px;background:linear-gradient(90deg,#dafdfe 0px,#d8fdfe 96px,#e3fefd 124px,#fbfffb 158px,#fffeec 211px,#fff5ca 254px,#ffefbe 280px,#ffedb9 405px,#ffefbe 527px,#fff5ca 553px,#fffeeb 595px,#fbfffb 653px,#d9fdfe 717px,#dafdfe 815px)"></i><i style="top:640px;height:11px;background:linear-gradient(90deg,#dbfdfd 0px,#dafdfe 97px,#fbfffb 158px,#fffeeb 211px,#fff0bf 279px,#ffeebb 405px,#fff0bf 527px,#fff5cb 553px,#fffeeb 596px,#fbfffb 653px,#dafdfe 717px,#dbfdfd 815px)"></i><i style="top:650px;height:11px;background:linear-gradient(90deg,#dcfdfd 0px,#dafdfe 96px,#fbfffb 157px,#fffeeb 211px,#fff0c0 279px,#ffeebc 405px,#fff0c0 528px,#fffeeb 596px,#fbfffb 654px,#dbfdfe 717px,#dcfdfd 815px)"></i><i style="top:660px;height:11px;background:linear-gradient(90deg,#ddfdfd 0px,#dbfdfd 96px,#fbfffb 157px,#fffeeb 211px,#fff1c1 279px,#ffefbd 405px,#fff1c1 528px,#fffeeb 596px,#fbfffb 654px,#dcfdfd 717px,#ddfdfd 815px)"></i><i style="top:670px;height:11px;background:linear-gradient(90deg,#defdfd 0px,#ddfdfd 96px,#fbfffb 156px,#fffeeb 211px,#fff1c2 279px,#ffefbe 405px,#fff1c2 528px,#fffeeb 596px,#fbfffb 655px,#ddfdfd 717px,#defdfd 815px)"></i><i style="top:680px;height:11px;background:linear-gradient(90deg,#dffdfd 0px,#defdfd 96px,#fbfffb 156px,#fffeeb 211px,#fff1c3 279px,#fff0bf 405px,#fff1c3 528px,#fffeeb 596px,#fbfffb 656px,#defdfd 717px,#dffdfd 815px)"></i><i style="top:690px;height:11px;background:linear-gradient(90deg,#e0fdfd 0px,#dffdfd 96px,#fbfffb 155px,#fffeeb 211px,#fff2c4 278px,#fff0c0 405px,#fff2c4 529px,#fffeeb 596px,#fbfffb 656px,#dffdfd 717px,#e0fdfd 815px)"></i><i style="top:700px;height:11px;background:linear-gradient(90deg,#e1fdfd 0px,#e0fdfd 96px,#fbfffb 154px,#fffeeb 210px,#fff2c5 278px,#fff0c0 405px,#fff2c4 529px,#fffeeb 597px,#fbfffb 657px,#e0fdfd 717px,#e1fdfd 815px)"></i><i style="top:710px;height:11px;background:linear-gradient(90deg,#e2fefd 0px,#e1fdfd 96px,#fbfffb 154px,#fffeeb 210px,#fff3c5 278px,#fff1c1 405px,#fff3c5 529px,#fffeeb 597px,#fbfffb 657px,#e1fdfd 717px,#e2fefd 815px)"></i><i style="top:720px;height:11px;background:linear-gradient(90deg,#e3fefd 0px,#e2fefd 96px,#fbfffb 153px,#fffeeb 210px,#fff3c6 278px,#fff1c2 405px,#fff3c6 529px,#fffeeb 597px,#fbfffb 658px,#e2fefd 717px,#e3fefd 815px)"></i><i style="top:730px;height:11px;background:linear-gradient(90deg,#e4fefd 0px,#e3fefd 96px,#fbfffb 152px,#fffeeb 209px,#fff3c7 277px,#fff2c3 405px,#fff3c7 530px,#fffeeb 597px,#fbfffb 659px,#e3fefd 718px,#e4fefd 815px)"></i><i style="top:740px;height:11px;background:linear-gradient(90deg,#e4fefd 0px,#e3fefd 96px,#fbfffb 152px,#fffeeb 209px,#fff4c8 277px,#fff2c4 405px,#fff4c8 530px,#fffeeb 597px,#fbfffb 659px,#e3fefd 718px,#e4fefd 815px)"></i><i style="top:750px;height:11px;background:linear-gradient(90deg,#e4fefd 0px,#e3fefd 96px,#fbfffb 152px,#fffeeb 209px,#fff4c8 277px,#fff2c4 405px,#fff4c8 530px,#fffeeb 597px,#fbfffb 659px,#e3fefd 718px,#e4fefd 815px)"></i></div></div>
<div class="fw" style="left:305.0px;top:1710.0px;width:792px;height:725px"><div class="fb" style="top:-12px;height:749px;filter:blur(4.0px)"><i style="top:0px;height:11px;background:linear-gradient(90deg,#d7fdfe 0px,#d5fdfe 95px,#fbfffb 171px,#fffff0 371px,#fffff1 548px,#fbfffb 644px,#d5fdfe 720px,#d7fdfe 815px)"></i><i style="top:10px;height:11px;background:linear-gradient(90deg,#cffcfe 0px,#cbfcff 90px,#d6fdfe 120px,#fbfffb 172px,#fffff0 259px,#fffeec 502px,#fbfffa 639px,#ccfcff 720px,#cffcfe 815px)"></i><i style="top:20px;height:11px;background:linear-gradient(90deg,#acf8ff 0px,#a0f6ff 43px,#a3f7ff 89px,#b3f9ff 112px,#fbfffb 176px,#fffff0 221px,#fffcdf 303px,#fffcde 490px,#fffde3 550px,#fbfffb 639px,#b4f9ff 702px,#a5f7ff 723px,#a0f6ff 771px,#acf8ff 815px)"></i><i style="top:30px;height:11px;background:linear-gradient(90deg,#87f2ff 0px,#87f2ff 11px,#73f0ff 43px,#78f0ff 88px,#93f4ff 114px,#c9fcff 143px,#fafffb 177px,#fffff0 209px,#fffad5 286px,#fff9d3 492px,#fffbd8 551px,#fbfffb 637px,#c9fcff 672px,#93f4ff 701px,#7af1ff 725px,#73f0ff 771px,#87f2ff 804px,#87f2ff 815px)"></i><i style="top:40px;height:11px;background:linear-gradient(90deg,#5cecff 0px,#5cecff 11px,#4aeaff 27px,#42e9ff 43px,#49eaff 89px,#66eeff 110px,#c7fcff 149px,#eefefc 170px,#fbfffb 179px,#fffff0 202px,#fffbd8 237px,#fff6cc 286px,#fff4c9 485px,#fffad7 574px,#fbfffb 636px,#c7fcff 666px,#66eeff 705px,#4beaff 724px,#42e9ff 742px,#42e9ff 771px,#4aeaff 788px,#5cecff 804px,#5cecff 815px)"></i><i style="top:50px;height:11px;background:linear-gradient(90deg,#5cecff 0px,#5cecff 11px,#4aeaff 27px,#42e9ff 43px,#42e9ff 72px,#4aeaff 90px,#68eeff 111px,#c8fcff 149px,#eefefc 169px,#fbfffb 178px,#ffffef 199px,#fffbd8 227px,#fff2c4 288px,#fff0c0 481px,#fff7ce 566px,#fbfffb 637px,#c8fcff 666px,#66eeff 705px,#4beaff 724px,#42e9ff 742px,#42e9ff 771px,#4aeaff 788px,#5cecff 804px,#5cecff 815px)"></i><i style="top:60px;height:11px;background:linear-gradient(90deg,#5cecff 0px,#5cecff 11px,#4aeaff 27px,#42e9ff 43px,#42e9ff 72px,#4aeaff 90px,#68eeff 111px,#c8fcff 149px,#eefefc 169px,#fbfffb 177px,#fffff0 197px,#fffbd8 223px,#fff0bf 286px,#ffeeba 469px,#fff4c8 559px,#fffbd8 593px,#fbfffb 637px,#c8fcff 666px,#66eeff 705px,#4beaff 724px,#42e9ff 742px,#42e9ff 771px,#4aeaff 788px,#5cecff 804px,#5cecff 815px)"></i><i style="top:70px;height:11px;background:linear-gradient(90deg,#5cecff 0px,#5cecff 11px,#4aeaff 27px,#42e9ff 43px,#42e9ff 72px,#4aeaff 90px,#68eeff 111px,#c8fcff 149px,#eefefc 169px,#fbfffb 177px,#fffff0 196px,#fff7cf 234px,#ffebb6 301px,#ffe9b2 467px,#fff2c5 559px,#fffbd8 596px,#fbfffb 638px,#c8fcff 666px,#66eeff 705px,#4beaff 724px,#42e9ff 742px,#42e9ff 771px,#4aeaff 788px,#5cecff 804px,#5cecff 815px)"></i><i style="top:80px;height:11px;background:linear-gradient(90deg,#5cecff 0px,#5cecff 11px,#4aeaff 27px,#42e9ff 43px,#42e9ff 72px,#4aeaff 90px,#68eeff 111px,#c8fcff 149px,#eefefc 169px,#fbfffb 177px,#fffff0 195px,#fff8d1 227px,#ffe7af 300px,#ffe4a9 465px,#ffe7ae 514px,#fff1c1 559px,#fffbd8 598px,#fbfffb 638px,#c8fcff 666px,#66eeff 705px,#4beaff 724px,#42e9ff 742px,#42e9ff 771px,#4aeaff 788px,#5cecff 804px,#5cecff 815px)"></i><i style="top:90px;height:11px;background:linear-gradient(90deg,#62edff 0px,#62edff 11px,#50ebff 27px,#48e9ff 43px,#48e9ff 72px,#50ebff 90px,#6eefff 111px,#c8fcff 148px,#f3fffc 171px,#fbfffb 176px,#ffffef 194px,#fffbd8 213px,#ffdfa0 300px,#ffdc9a 467px,#ffe4a9 536px,#fffbd8 602px,#fffff0 622px,#fbfffb 639px,#c8fcff 667px,#6cefff 705px,#51ebff 724px,#48e9ff 742px,#48e9ff 771px,#50ebff 788px,#62edff 804px,#62edff 815px)"></i><i style="top:100px;height:11px;background:linear-gradient(90deg,#73f0ff 0px,#73f0ff 11px,#5becff 43px,#62edff 89px,#7cf1ff 110px,#c8fcff 145px,#fafffb 173px,#ffffef 191px,#fffbd8 207px,#ffeebb 239px,#ffdd9b 266px,#ffcc8c 292px,#ffc382 340px,#ffc282 462px,#ffc787 509px,#ffd896 543px,#fff9d4 604px,#fffff0 625px,#fbfffb 641px,#c8fcff 670px,#7cf1ff 705px,#63edff 724px,#5becff 771px,#62edff 788px,#73f0ff 804px,#73f0ff 815px)"></i><i style="top:110px;height:11px;background:linear-gradient(90deg,#82f2ff 0px,#82f2ff 11px,#6cefff 43px,#72efff 90px,#94f4ff 117px,#fbfffb 172px,#fffff0 187px,#ffeebb 227px,#ffd18f 253px,#ffa66c 290px,#ff9661 331px,#ff935e 423px,#ff9761 493px,#ffaa6f 530px,#ffd593 565px,#ffeebb 588px,#fffff0 628px,#fbfffb 643px,#94f4ff 698px,#72efff 725px,#6cefff 772px,#82f2ff 804px,#82f2ff 815px)"></i><i style="top:120px;height:11px;background:linear-gradient(90deg,#82f2ff 0px,#82f2ff 11px,#6cefff 42px,#71efff 88px,#94f4ff 117px,#fbfffb 171px,#ffffef 185px,#fffbd8 197px,#ffeebb 219px,#ffdd9c 232px,#ffa168 261px,#ff8b58 276px,#ff7353 299px,#ff664f 326px,#ff604c 423px,#ff6750 494px,#ff7453 518px,#ff8a58 539px,#ffa068 554px,#ffdd9c 583px,#ffeebb 596px,#fffbd8 618px,#ffffef 630px,#fbfffb 644px,#94f4ff 698px,#71efff 727px,#6cefff 773px,#82f2ff 804px,#82f2ff 815px)"></i><i style="top:130px;height:11px;background:linear-gradient(90deg,#82f2ff 0px,#82f2ff 11px,#6cefff 43px,#72efff 89px,#94f4ff 117px,#fbfffb 170px,#fffff0 183px,#fffbd8 195px,#ffeebb 215px,#ffdc9b 227px,#ff8a58 261px,#ff624e 284px,#ff4d44 303px,#ff3f3f 337px,#ff3c3e 423px,#ff4540 502px,#ff5c4b 527px,#ff8a58 554px,#ffdc9a 588px,#ffeebb 600px,#fffbd8 620px,#fffff0 632px,#fbfffb 645px,#94f4ff 698px,#72efff 726px,#6cefff 772px,#82f2ff 804px,#82f2ff 815px)"></i><i style="top:140px;height:11px;background:linear-gradient(90deg,#82f2ff 0px,#82f2ff 11px,#6cefff 43px,#72efff 89px,#96f5ff 118px,#fafffb 169px,#fffff0 182px,#fffbd9 193px,#ffefbc 211px,#ffdc9a 223px,#ff8c59 251px,#ff5045 276px,#ff3b3e 291px,#ff2939 326px,#ff2538 423px,#ff2a39 498px,#ff3f3f 529px,#ff5548 542px,#ff8b59 564px,#ffdb99 592px,#ffeebc 604px,#fffbd9 622px,#fffff0 633px,#fafffb 646px,#96f5ff 697px,#72efff 726px,#6cefff 772px,#82f2ff 804px,#82f2ff 815px)"></i><i style="top:150px;height:11px;background:linear-gradient(90deg,#82f2ff 0px,#82f2ff 11px,#6cefff 43px,#72efff 89px,#96f5ff 118px,#fafffb 169px,#ffffef 182px,#fffbd9 192px,#ffeebc 210px,#ffdc9a 221px,#ff8a58 248px,#ff4540 274px,#ff303b 291px,#ff2136 332px,#ff1d34 423px,#ff2136 492px,#ff333c 528px,#ff4641 542px,#ff8a58 567px,#ffdc9a 594px,#ffeebb 605px,#fffbd9 623px,#ffffef 633px,#fafffb 646px,#96f5ff 697px,#72efff 726px,#6cefff 772px,#82f2ff 804px,#82f2ff 815px)"></i><i style="top:160px;height:11px;background:linear-gradient(90deg,#82f2ff 0px,#82f2ff 11px,#6cefff 43px,#72efff 89px,#96f5ff 118px,#fafffb 169px,#ffffef 182px,#fffbd9 192px,#ffeebb 210px,#ffdc9a 221px,#ff8a58 248px,#ff4440 274px,#ff2e3b 292px,#ff2035 334px,#ff1c34 423px,#ff2036 491px,#ff323b 528px,#ff4540 542px,#ff8958 567px,#ffdc9a 594px,#ffeebb 605px,#fffbd9 623px,#ffffef 633px,#fafffb 646px,#96f5ff 697px,#72efff 726px,#6cefff 772px,#82f2ff 804px,#82f2ff 815px)"></i><i style="top:170px;height:11px;background:linear-gradient(90deg,#82f2ff 0px,#82f2ff 11px,#6cefff 43px,#72efff 89px,#96f5ff 118px,#fafffb 169px,#ffffef 182px,#fffbd9 192px,#ffeebb 210px,#ffdc9a 221px,#ff8a58 248px,#ff4440 274px,#ff2e3a 292px,#ff1f35 336px,#fe1a33 423px,#ff1e35 489px,#ff303b 527px,#ff4641 543px,#ff8c59 568px,#ffdb9a 594px,#ffeebb 605px,#fffbd9 623px,#fffff0 634px,#fbfffb 646px,#96f5ff 697px,#72efff 726px,#6cefff 772px,#82f2ff 804px,#82f2ff 815px)"></i><i style="top:180px;height:11px;background:linear-gradient(90deg,#82f2ff 0px,#82f2ff 11px,#6cefff 43px,#72efff 89px,#96f5ff 118px,#fbfffb 169px,#ffffef 182px,#fffbd9 192px,#ffeebb 210px,#ffdc9a 221px,#ff8a58 248px,#ff4541 273px,#ff2d3a 292px,#ff1d34 338px,#fd1933 423px,#ff1d34 487px,#ff2e3b 527px,#ff4540 543px,#ff8b59 568px,#ffdb99 594px,#ffeebb 605px,#fffbd8 623px,#fffff0 634px,#fbfffb 646px,#96f5ff 697px,#72efff 726px,#6cefff 772px,#82f2ff 804px,#82f2ff 815px)"></i><i style="top:190px;height:11px;background:linear-gradient(90deg,#82f2ff 0px,#82f2ff 11px,#6cefff 43px,#72efff 89px,#96f5ff 118px,#fbfffb 169px,#fffff0 181px,#fffbd9 192px,#ffeebb 210px,#ffdc9a 221px,#ff8958 248px,#ff4540 273px,#ff2c3a 292px,#ff1c34 338px,#fc1732 423px,#ff1c34 491px,#ff2d3a 527px,#ff4541 544px,#ff8a58 568px,#ffdd9c 595px,#ffeebb 605px,#fffbd8 623px,#fffff0 634px,#fbfffb 646px,#96f5ff 697px,#72efff 726px,#6cefff 772px,#82f2ff 804px,#82f2ff 815px)"></i><i style="top:200px;height:11px;background:linear-gradient(90deg,#82f2ff 0px,#82f2ff 11px,#6cefff 43px,#72efff 89px,#96f5ff 118px,#fbfffb 169px,#fffff0 181px,#fffbd9 192px,#ffeebb 210px,#ffdc9a 221px,#ff8c59 247px,#ff4440 273px,#ff2c3a 291px,#ff1c34 332px,#fb1532 423px,#fe1b34 493px,#ff2d3a 528px,#ff4440 544px,#ff8958 568px,#ffdd9b 595px,#ffeeba 605px,#fffbd8 623px,#fffff0 634px,#fbfffb 646px,#96f5ff 697px,#72efff 726px,#6cefff 772px,#82f2ff 804px,#82f2ff 815px)"></i><i style="top:210px;height:11px;background:linear-gradient(90deg,#82f2ff 0px,#82f2ff 11px,#6cefff 43px,#72efff 89px,#96f5ff 118px,#fbfffb 169px,#fffff0 181px,#fffbd8 192px,#ffeebb 209px,#ffdb99 220px,#ff8c59 245px,#ff4440 269px,#ff2c3a 285px,#fd1933 327px,#f60f2f 423px,#fc1732 496px,#ff2d3a 534px,#ff4440 548px,#ff8958 570px,#ffdd9b 596px,#ffeebb 606px,#fffbd7 623px,#fffff0 634px,#fbfffb 646px,#96f5ff 697px,#72efff 726px,#6cefff 772px,#82f2ff 804px,#82f2ff 815px)"></i><i style="top:220px;height:11px;background:linear-gradient(90deg,#82f2ff 0px,#82f2ff 11px,#6cefff 43px,#72efff 89px,#96f5ff 118px,#fbfffb 169px,#fffff0 181px,#fffbd9 191px,#ffeebc 208px,#ffdb99 219px,#ff8a58 244px,#ff4440 266px,#ff2c3a 280px,#fb1632 320px,#e9062b 423px,#fa1431 500px,#ff2b3a 538px,#ff4340 551px,#ff8a58 572px,#ffdd9b 597px,#ffeebb 607px,#fffbd8 624px,#ffffef 634px,#fbfffb 646px,#96f5ff 697px,#72efff 726px,#6cefff 772px,#82f2ff 804px,#82f2ff 815px)"></i><i style="top:230px;height:11px;background:linear-gradient(90deg,#7cf1ff 0px,#7cf1ff 11px,#66eeff 43px,#6cefff 89px,#92f4ff 118px,#fbfffb 169px,#fffff0 181px,#fffbd9 191px,#ffeebc 208px,#ffdb99 219px,#ff8958 244px,#ff4641 265px,#ff2b3a 280px,#fb1532 320px,#e40329 423px,#fa1331 502px,#ff2c3a 539px,#ff4540 552px,#ff8958 572px,#ffdc9b 597px,#ffeebb 607px,#fffbd8 624px,#ffffef 634px,#fbfffb 646px,#92f4ff 697px,#6cefff 726px,#66eeff 772px,#7cf1ff 804px,#7cf1ff 815px)"></i><i style="top:240px;height:11px;background:linear-gradient(90deg,#73f0ff 0px,#73f0ff 11px,#5cecff 43px,#62edff 89px,#71efff 103px,#8df3ff 119px,#fbfffb 170px,#fffff0 181px,#fffbd9 191px,#ffeebc 208px,#ffdb99 219px,#ff8958 244px,#ff4540 265px,#ff2c3a 279px,#fb1431 320px,#e40329 391px,#e00028 428px,#f10b2e 485px,#ff1b34 522px,#ff2c3a 540px,#ff4440 552px,#ff8b59 573px,#ffdc9a 597px,#ffeebb 607px,#fffbd8 624px,#fffff0 634px,#fafffb 646px,#8df3ff 696px,#71efff 712px,#62edff 726px,#5cecff 772px,#73f0ff 804px,#73f0ff 815px)"></i><i style="top:250px;height:11px;background:linear-gradient(90deg,#6aeeff 0px,#6aeeff 11px,#58ecff 27px,#51ebff 43px,#59ecff 90px,#78f0ff 112px,#fafffb 170px,#fffff1 181px,#fffbd9 191px,#ffeebc 208px,#ffdb99 219px,#ff8958 244px,#ff4440 265px,#ff2c3a 279px,#fe1a33 304px,#e7052a 371px,#d90027 418px,#e00028 452px,#fc1732 514px,#ff2b3a 540px,#ff4641 553px,#ff8b59 573px,#ffdc9a 597px,#ffeebb 607px,#fffad7 623px,#fffff0 634px,#fbfffb 645px,#78f0ff 703px,#59ecff 725px,#51ebff 772px,#58ecff 788px,#6aeeff 804px,#6aeeff 815px)"></i><i style="top:260px;height:11px;background:linear-gradient(90deg,#61edff 0px,#61edff 11px,#4eeaff 27px,#47e9ff 43px,#47e9ff 72px,#4feaff 90px,#6fefff 112px,#c7fcff 147px,#fbfffb 171px,#ffffef 182px,#fffbd7 192px,#ffeebc 208px,#ffdb99 219px,#ff8c59 243px,#ff4440 265px,#ff2939 281px,#f81030 332px,#ec082c 355px,#d40026 414px,#df0028 459px,#f81030 501px,#ff2c3a 541px,#ff4540 553px,#ff8b58 573px,#ffdc9a 597px,#ffeebb 607px,#fffad7 623px,#fffff0 634px,#fafffb 645px,#6fefff 703px,#4feaff 725px,#47e9ff 743px,#47e9ff 772px,#4eeaff 788px,#61edff 804px,#61edff 815px)"></i><i style="top:270px;height:11px;background:linear-gradient(90deg,#58ecff 0px,#58ecff 11px,#44e9ff 27px,#3ce8ff 44px,#3ce8ff 73px,#46e9ff 91px,#68eeff 113px,#c9fcff 149px,#fafffb 171px,#fffff0 182px,#ffeebc 208px,#ffdd9c 218px,#ff8c59 243px,#ff4440 265px,#ff2839 282px,#f81030 331px,#e9062b 359px,#d10025 414px,#d30025 438px,#df0028 462px,#f81030 501px,#ff2c3a 541px,#ff4540 553px,#ff8a58 573px,#ffdc9a 597px,#ffeebb 607px,#fffbd7 623px,#ffffef 633px,#fbfffb 644px,#c9fcff 666px,#66eeff 703px,#45e9ff 725px,#3ce8ff 743px,#3de8ff 772px,#44e9ff 788px,#58ecff 804px,#58ecff 815px)"></i><i style="top:280px;height:11px;background:linear-gradient(90deg,#4eeaff 0px,#4eeaff 11px,#3ae7ff 27px,#32e6ff 44px,#32e6ff 73px,#3ce8ff 91px,#60edff 113px,#c9fcff 150px,#f9fffb 171px,#fffff0 182px,#ffeebc 208px,#ffdd9c 218px,#ff8b59 243px,#ff4440 265px,#ff2839 282px,#f81030 331px,#e9062b 360px,#d10025 415px,#d30025 439px,#e00028 463px,#f81030 502px,#ff2c3a 541px,#ff4540 553px,#ff8a58 573px,#ffdc9a 597px,#ffeebb 607px,#fffbd7 623px,#fffff0 633px,#fafffb 644px,#c9fcff 665px,#60edff 702px,#3be8ff 725px,#32e6ff 743px,#32e6ff 772px,#3ae7ff 788px,#4eeaff 804px,#4eeaff 815px)"></i><i style="top:290px;height:11px;background:linear-gradient(90deg,#45e9ff 0px,#45e9ff 11px,#2ee6ff 29px,#26e4fe 45px,#26e4fe 73px,#32e6ff 91px,#57ecff 113px,#c8fcff 151px,#fafffb 172px,#fffff1 182px,#ffeebc 208px,#ffdd9c 218px,#ff8c59 243px,#ff4440 265px,#ff2939 282px,#f81030 332px,#eb072c 357px,#d40026 414px,#df0028 459px,#f81030 501px,#ff2c3a 541px,#ff4540 553px,#ff8a58 573px,#ffdc9a 597px,#ffeebb 607px,#fffbd7 623px,#fffff0 633px,#fbfffb 643px,#c9fcff 664px,#57ecff 702px,#32e6ff 724px,#26e4fe 742px,#26e4fe 770px,#2ee6ff 786px,#45e9ff 804px,#45e9ff 815px)"></i><i style="top:300px;height:11px;background:linear-gradient(90deg,#3ee8ff 0px,#3ee8ff 11px,#26e4fe 28px,#1de2fe 43px,#1de2fe 72px,#26e4fe 89px,#50ebff 113px,#c9fcff 152px,#f9fffb 172px,#fffff1 182px,#ffeebc 208px,#ffdd9c 218px,#ff8c59 243px,#ff4440 265px,#ff2b39 280px,#ff1c34 299px,#f81030 334px,#e7042a 372px,#d80026 418px,#e00028 452px,#fc1732 515px,#ff2d3a 541px,#ff4641 553px,#ff8b59 573px,#ffdc9a 597px,#ffeebb 607px,#fffbd8 623px,#fffff1 633px,#fafffb 643px,#c9fcff 663px,#50ebff 702px,#26e4fe 726px,#1de2fe 743px,#1de2fe 772px,#26e4fe 787px,#3ee8ff 804px,#3ee8ff 815px)"></i><i style="top:310px;height:11px;background:linear-gradient(90deg,#3be8ff 0px,#3be8ff 11px,#23e3fe 27px,#19e1fe 43px,#19e1fe 72px,#23e3fe 89px,#4deaff 113px,#c8fcff 152px,#f9fffb 172px,#fffff1 182px,#ffeebc 208px,#ffdb99 219px,#ff8958 244px,#ff4540 265px,#ff2c3a 279px,#fa1431 321px,#e40229 392px,#e00028 432px,#f10b2e 486px,#ff1c34 523px,#ff2c3a 540px,#ff4440 552px,#ff8b59 573px,#ffdc9a 597px,#ffeebb 607px,#fffbd8 623px,#ffffef 632px,#fafffb 643px,#c8fcff 663px,#4deaff 702px,#23e3fe 726px,#19e1fe 743px,#19e1fe 772px,#23e3fe 788px,#3be8ff 804px,#3be8ff 815px)"></i><i style="top:320px;height:11px;background:linear-gradient(90deg,#38e7ff 0px,#38e7ff 11px,#20e3fe 27px,#15e0fd 43px,#15e0fd 72px,#20e3fe 90px,#4deaff 114px,#c7fcff 152px,#fbfffb 173px,#fffff0 183px,#ffeebc 208px,#ffdd9c 218px,#ff8c59 243px,#ff4541 265px,#ff2c3a 279px,#ff1b34 302px,#e40329 423px,#f30c2e 483px,#ff1c34 521px,#ff2c3a 539px,#ff4540 552px,#ff8c59 573px,#ffdc9a 597px,#ffeebb 607px,#fffbd8 623px,#ffffef 632px,#f9fffb 643px,#c7fcff 663px,#4deaff 701px,#1fe2fe 726px,#15e0fd 743px,#15e0fd 772px,#20e3fe 788px,#38e7ff 804px,#38e7ff 815px)"></i><i style="top:330px;height:11px;background:linear-gradient(90deg,#35e7ff 0px,#35e7ff 11px,#1ce2fe 27px,#11e0fd 43px,#11e0fd 72px,#1ce2fe 90px,#4aeaff 114px,#c9fcff 153px,#fbfffb 173px,#fffff0 183px,#ffeebc 208px,#ffdd9c 218px,#ff8c5a 243px,#ff4340 266px,#ff2c3a 280px,#fe1b34 304px,#e9062b 423px,#fa1431 500px,#ff2b3a 538px,#ff4641 552px,#ff8958 572px,#ffdc9b 597px,#ffeebb 607px,#fffbd8 623px,#ffffef 632px,#fbfffb 642px,#c6fcff 663px,#4aeaff 701px,#1be2fe 726px,#11e0fd 743px,#11e0fd 772px,#1ce2fe 788px,#35e7ff 804px,#35e7ff 815px)"></i><i style="top:340px;height:11px;background:linear-gradient(90deg,#32e6ff 0px,#32e6ff 11px,#18e1fd 27px,#0ddffd 43px,#0ddffd 72px,#18e1fe 90px,#47e9ff 114px,#c8fcff 153px,#fbfffa 174px,#fffff0 183px,#ffeebc 208px,#ffdd9c 218px,#ff8c5a 243px,#ff4440 266px,#ff2c3a 280px,#ff1b34 305px,#ee092d 423px,#fb1532 500px,#ff2c3a 538px,#ff4440 551px,#ff8a58 572px,#ffdd9b 597px,#ffeebb 607px,#fffbd8 623px,#fffff0 632px,#fbfffb 642px,#c8fcff 662px,#47e9ff 701px,#17e1fd 726px,#0ddffd 743px,#0ddffd 772px,#18e1fd 788px,#32e6ff 804px,#32e6ff 815px)"></i><i style="top:350px;height:11px;background:linear-gradient(90deg,#2ee6ff 0px,#2ee6ff 11px,#14e0fd 27px,#09defd 43px,#09defd 72px,#14e0fd 90px,#45e9ff 114px,#c7fcff 153px,#fbfffa 174px,#fffff0 183px,#ffeebc 208px,#ffdd9c 218px,#ff8958 244px,#ff4440 266px,#ff2c3a 281px,#ff1c34 305px,#f30d2e 423px,#fb1632 499px,#ff2c3a 537px,#ff4641 551px,#ff8a58 572px,#ffdd9b 597px,#ffeebc 607px,#fffbd8 623px,#fffff0 632px,#fbfffb 642px,#c7fcff 662px,#45e9ff 701px,#24e3fe 715px,#13e0fd 726px,#09defd 743px,#09defd 772px,#14e0fd 788px,#2ee6ff 804px,#2ee6ff 815px)"></i><i style="top:360px;height:11px;background:linear-gradient(90deg,#2be5ff 0px,#2be5ff 11px,#10dffd 27px,#05ddfc 43px,#05ddfc 72px,#10dffd 90px,#42e9ff 114px,#c6fcff 153px,#fbfffa 174px,#fffff0 183px,#ffeebc 208px,#ffdd9c 218px,#ff8a58 244px,#ff4540 266px,#ff2c3a 281px,#ff1c34 307px,#f81030 423px,#fc1732 497px,#ff2c3a 536px,#ff4440 550px,#ff8b59 572px,#ffdd9c 597px,#ffeebc 607px,#fffbd8 623px,#fffff0 632px,#fafffb 642px,#c6fcff 662px,#42e9ff 701px,#22e3fe 714px,#0fdffd 726px,#05ddfc 743px,#05ddfc 772px,#10dffd 788px,#2be5ff 804px,#2be5ff 815px)"></i><i style="top:370px;height:11px;background:linear-gradient(90deg,#28e4fe 0px,#28e4fe 11px,#0ddffd 27px,#02dcfc 43px,#01dcfc 72px,#0ddffd 90px,#1fe2fe 101px,#3fe8ff 114px,#c9fcff 154px,#fafffb 173px,#ffffee 184px,#ffefbc 208px,#ffdb99 219px,#ff8a58 244px,#ff4541 266px,#ff2c3a 281px,#fe1a33 315px,#f91331 387px,#fe1a33 505px,#ff2c3a 535px,#ff4340 549px,#ff8c59 572px,#ffdd9c 597px,#ffeebc 607px,#fffff0 632px,#fbfffa 641px,#c9fcff 661px,#3fe8ff 701px,#1fe2fe 714px,#0ddffd 725px,#01dcfc 743px,#02dcfc 772px,#0ddffd 788px,#28e4fe 804px,#28e4fe 815px)"></i><i style="top:380px;height:11px;background:linear-gradient(90deg,#2be5ff 0px,#2be5ff 11px,#10dffd 27px,#05ddfc 43px,#05ddfc 72px,#10dffd 90px,#42e9ff 114px,#c6fcff 153px,#fafffb 173px,#ffffee 184px,#ffeebb 209px,#ffdc9b 219px,#ff8958 245px,#ff4440 268px,#ff2c3a 284px,#ff2035 305px,#fb1632 376px,#ff1c34 504px,#ff2c3a 532px,#ff4540 548px,#ff8b59 571px,#ffdc9a 596px,#ffefbc 607px,#fffff0 632px,#fbfffa 641px,#c6fcff 662px,#42e9ff 701px,#10dffd 725px,#05ddfc 743px,#05ddfc 772px,#10dffd 788px,#2be5ff 804px,#2be5ff 815px)"></i><i style="top:390px;height:11px;background:linear-gradient(90deg,#2ee6ff 0px,#2ee6ff 11px,#14e0fd 27px,#09defd 43px,#08defd 72px,#14e0fd 90px,#44e9ff 114px,#c7fcff 153px,#fafffb 173px,#ffffef 184px,#ffeebb 210px,#ffdd9c 220px,#ff8858 248px,#ff4440 273px,#ff2d3a 292px,#ff2136 322px,#ff1c34 367px,#ff2035 494px,#ff2c3a 524px,#ff4540 543px,#ff8a58 568px,#ffdd9b 595px,#ffefbc 606px,#fffff0 632px,#fbfffa 641px,#c7fcff 662px,#44e9ff 701px,#14e0fd 725px,#08defd 743px,#09defd 772px,#14e0fd 788px,#2ee6ff 804px,#2ee6ff 815px)"></i><i style="top:400px;height:11px;background:linear-gradient(90deg,#31e6ff 0px,#31e6ff 11px,#17e1fd 27px,#0cdffd 43px,#0cdefd 72px,#16e1fd 89px,#47e9ff 114px,#c8fcff 153px,#fafffb 173px,#ffffef 184px,#ffeeba 211px,#ffdd9c 221px,#ff8a58 250px,#ff4541 278px,#ff343c 293px,#ff2839 317px,#ff2336 367px,#ff2638 492px,#ff2c3a 513px,#ff4440 537px,#ff8c59 566px,#ffdd9c 594px,#ffefbc 605px,#ffffef 631px,#fbfffa 641px,#c8fcff 662px,#47e9ff 701px,#17e1fd 725px,#0cdefd 743px,#0cdffd 772px,#17e1fd 788px,#31e6ff 804px,#31e6ff 815px)"></i><i style="top:410px;height:11px;background:linear-gradient(90deg,#34e7ff 0px,#34e7ff 11px,#1ae1fe 27px,#10dffd 43px,#0fdffd 72px,#1ae1fe 89px,#47e9ff 113px,#c9fcff 153px,#fafffb 173px,#fffff0 184px,#ffeeba 212px,#ffdc9a 223px,#ff8958 253px,#ff5547 276px,#ff3f3f 291px,#ff2e3a 321px,#ff2939 360px,#ff2b3a 489px,#ff4541 531px,#ff8b59 563px,#ffdc9a 592px,#ffefbc 604px,#fffff0 631px,#fbfffa 641px,#c9fcff 662px,#47e9ff 702px,#1be2fe 725px,#0fdffd 743px,#10dffd 772px,#1ae1fe 788px,#34e7ff 804px,#34e7ff 815px)"></i><i style="top:420px;height:11px;background:linear-gradient(90deg,#36e7ff 0px,#36e7ff 11px,#1ee2fe 27px,#13e0fd 43px,#13e0fd 72px,#1de2fe 89px,#49eaff 113px,#c7fcff 152px,#fafffb 173px,#ffffee 185px,#ffeeba 213px,#ffdd9b 224px,#ff8a58 256px,#ff5c4b 278px,#ff4440 295px,#ff363c 324px,#ff313b 367px,#ff313b 463px,#ff3a3e 505px,#ff4e45 529px,#ff8958 559px,#ffdb99 590px,#ffeeba 602px,#fffff0 631px,#fbfffa 641px,#c7fcff 663px,#49eaff 702px,#1ee2fe 725px,#13e0fd 743px,#13e0fd 772px,#1ee2fe 788px,#36e7ff 804px,#36e7ff 815px)"></i><i style="top:430px;height:11px;background:linear-gradient(90deg,#39e7ff 0px,#39e7ff 11px,#21e3fe 27px,#17e1fd 43px,#16e1fd 72px,#20e3fe 89px,#4ceaff 113px,#c8fcff 152px,#fafffb 173px,#ffffef 185px,#ffeebb 214px,#ffdc9a 226px,#ff8b59 259px,#ff5e4c 284px,#ff4741 305px,#ff3b3e 362px,#ff3b3e 462px,#ff4240 503px,#ff5949 528px,#ff8958 555px,#ffa068 566px,#ffdc9a 589px,#ffeebb 601px,#fffff0 631px,#fbfffa 641px,#c8fcff 663px,#4ceaff 702px,#22e3fe 725px,#17e1fd 742px,#17e1fd 771px,#20e3fe 787px,#39e7ff 804px,#39e7ff 815px)"></i><i style="top:440px;height:11px;background:linear-gradient(90deg,#3ce8ff 0px,#3ce8ff 11px,#25e4fe 27px,#1ae1fe 43px,#1ae1fe 72px,#24e3fe 89px,#4eeaff 113px,#c8fcff 152px,#fafffb 173px,#ffffef 185px,#ffeebb 215px,#ffdd9c 227px,#ffa168 252px,#ff8958 264px,#ff5e4b 294px,#ff4b43 323px,#ff4440 458px,#ff5447 511px,#ff6d51 534px,#ff8b59 552px,#ffdd9c 588px,#ffeebb 600px,#fffbd9 620px,#ffffef 630px,#fafffb 642px,#c8fcff 663px,#4ceaff 703px,#23e3fe 727px,#1ae1fe 744px,#1ae1fe 772px,#25e4fe 788px,#3ce8ff 804px,#3ce8ff 815px)"></i><i style="top:450px;height:11px;background:linear-gradient(90deg,#3ee8ff 0px,#3ee8ff 11px,#27e4fe 28px,#1ee2fe 43px,#1ee2fe 72px,#27e4fe 89px,#51ebff 113px,#c6fcff 151px,#f8fffb 172px,#fffff0 185px,#fffbd8 196px,#ffeebc 216px,#ffdd9c 229px,#ffa068 256px,#ff8a58 269px,#ff6b51 294px,#ff5849 326px,#ff5347 459px,#ff5f4c 507px,#ff7152 528px,#ff8a58 546px,#ffa068 559px,#ffdd9c 586px,#ffeebc 599px,#fffbd8 619px,#fffff0 630px,#fafffb 642px,#c9fcff 663px,#4feaff 703px,#26e4fe 727px,#1de2fe 744px,#1ee2fe 772px,#27e4fe 787px,#3ee8ff 804px,#3ee8ff 815px)"></i><i style="top:460px;height:11px;background:linear-gradient(90deg,#41e8ff 0px,#41e8ff 11px,#2ae5ff 28px,#21e3fe 44px,#21e3fe 72px,#2be5ff 89px,#51ebff 112px,#c7fcff 151px,#f5fffb 171px,#ffffef 186px,#ffedb9 220px,#ffdb99 234px,#ffb074 256px,#ff8a58 282px,#ff7754 305px,#ff6e51 334px,#ff6d51 474px,#ff7854 512px,#ff9560 543px,#ffdd9b 582px,#ffeebb 596px,#fffbd9 618px,#ffffef 629px,#f9fffb 642px,#c7fcff 664px,#51ebff 703px,#2ae5ff 727px,#21e3fe 744px,#21e3fe 772px,#2ae5ff 787px,#41e8ff 804px,#41e8ff 815px)"></i><i style="top:470px;height:11px;background:linear-gradient(90deg,#44e9ff 0px,#44e9ff 11px,#2ee6ff 28px,#25e4fe 44px,#25e4fe 72px,#2ee6ff 89px,#54ebff 112px,#c8fcff 151px,#f3fffc 170px,#fbfffb 174px,#ffffef 187px,#fffbd8 199px,#ffedba 223px,#ffdb99 239px,#ffbb7c 259px,#ff9460 290px,#ff8356 341px,#ff8356 477px,#ff8e5b 514px,#ffa46b 541px,#ffd998 575px,#ffeebb 593px,#fffbd8 616px,#fffff0 629px,#fbfffb 641px,#c8fcff 664px,#54ebff 703px,#2fe6ff 725px,#25e4fe 742px,#25e4fe 771px,#2ee6ff 787px,#44e9ff 804px,#44e9ff 815px)"></i><i style="top:480px;height:11px;background:linear-gradient(90deg,#4beaff 0px,#4beaff 11px,#37e7ff 27px,#2ee5ff 45px,#2ee6ff 73px,#38e7ff 91px,#5becff 112px,#c8fcff 150px,#f3fffc 170px,#fbfffb 174px,#ffffee 188px,#fffbd7 201px,#ffeebb 226px,#ffcd8c 255px,#ffa36a 294px,#ff9661 339px,#ff9560 463px,#ff9d66 510px,#ffb377 539px,#ffdb99 570px,#ffeebb 589px,#fffbd7 614px,#fffff0 628px,#fbfffb 641px,#c8fcff 665px,#5becff 703px,#39e7ff 723px,#2ee6ff 742px,#2ee5ff 770px,#37e7ff 788px,#4beaff 804px,#4beaff 815px)"></i><i style="top:490px;height:11px;background:linear-gradient(90deg,#66eeff 0px,#66eeff 11px,#54ebff 27px,#4deaff 43px,#4deaff 72px,#55ebff 90px,#72efff 111px,#c9fcff 147px,#fafffb 172px,#fffff0 187px,#fffbd8 201px,#ffeebb 229px,#ffd593 255px,#ffb175 293px,#ffa26a 339px,#ffa169 460px,#ffa96f 507px,#ffc282 542px,#ffdc9a 566px,#ffeebb 586px,#fbfffa 642px,#c9fcff 668px,#72efff 704px,#56ebff 724px,#4deaff 742px,#4deaff 771px,#54ebff 788px,#66eeff 804px,#66eeff 815px)"></i><i style="top:500px;height:11px;background:linear-gradient(90deg,#82f2ff 0px,#82f2ff 11px,#6cefff 43px,#73f0ff 90px,#93f4ff 116px,#fbfffb 171px,#fffff0 186px,#fffbd8 202px,#ffeebb 232px,#ffdc9a 255px,#ffc383 285px,#ffb276 329px,#ffb074 419px,#ffb376 491px,#ffc585 534px,#ffdc9a 560px,#ffeebb 583px,#fffbd8 613px,#fffff0 629px,#fbfffb 644px,#93f4ff 699px,#73f0ff 725px,#6cefff 772px,#82f2ff 804px,#82f2ff 815px)"></i><i style="top:510px;height:11px;background:linear-gradient(90deg,#98f5ff 0px,#89f3ff 45px,#90f4ff 93px,#a6f7ff 115px,#fbfffa 169px,#fffff0 186px,#fffbd8 203px,#ffeebc 235px,#ffdc9a 261px,#ffcc8b 284px,#ffbe7e 332px,#ffbc7d 418px,#ffbf7f 488px,#ffcd8c 534px,#ffdc9a 554px,#ffeebc 580px,#fffbd8 612px,#fffff0 629px,#fbfffa 646px,#a6f7ff 700px,#90f4ff 722px,#89f3ff 770px,#98f5ff 815px)"></i><i style="top:520px;height:11px;background:linear-gradient(90deg,#aef8ff 0px,#a2f6ff 45px,#a7f7ff 92px,#b9faff 114px,#fbfffb 165px,#fffff0 185px,#ffeebb 237px,#ffdc9a 265px,#ffcf8e 285px,#ffc383 328px,#ffc181 417px,#ffc383 492px,#ffd08f 533px,#ffdc9b 551px,#ffeebb 578px,#fffff0 630px,#fbfffb 650px,#b9faff 701px,#a7f7ff 723px,#a2f6ff 770px,#aef8ff 815px)"></i><i style="top:530px;height:11px;background:linear-gradient(90deg,#bcfaff 0px,#b2f9ff 44px,#b6f9ff 91px,#d0fcfe 125px,#fafffb 162px,#fffff0 184px,#fff8d2 211px,#ffdc9b 268px,#ffd291 285px,#ffc786 328px,#ffc585 416px,#ffc887 492px,#ffd492 533px,#fff8d2 604px,#fffff0 631px,#fbfffb 652px,#cffcfe 691px,#b6f9ff 724px,#b2f9ff 771px,#bcfaff 815px)"></i><i style="top:540px;height:11px;background:linear-gradient(90deg,#c8fcff 0px,#c0fbff 44px,#c3fbff 90px,#d4fdfe 121px,#fbfffb 160px,#fffff0 183px,#fffbd8 205px,#ffd795 284px,#ffcc8b 327px,#ffca8a 415px,#ffcc8c 492px,#ffd896 533px,#fffbd8 610px,#fffff0 632px,#fbfffb 655px,#d4fdfe 694px,#c3fbff 725px,#c0fbff 771px,#c8fcff 815px)"></i><i style="top:550px;height:11px;background:linear-gradient(90deg,#d2fdfe 0px,#d0fcfe 94px,#dcfdfd 121px,#fbfffb 157px,#fffff0 183px,#fffbd8 206px,#ffdc9a 286px,#ffd291 328px,#ffd190 414px,#ffd291 489px,#ffdc9a 529px,#fffbd8 609px,#fffff0 632px,#fbfffb 658px,#dcfdfd 694px,#d0fcfe 721px,#d2fdfe 815px)"></i><i style="top:560px;height:11px;background:linear-gradient(90deg,#d3fdfe 0px,#d1fdfe 94px,#defdfd 121px,#fbfffb 156px,#fffff0 183px,#fffbd8 207px,#ffde9e 292px,#ffd796 413px,#ffdf9f 525px,#fffbd8 608px,#fffff0 632px,#fbfffb 659px,#defdfd 694px,#d1fdfe 721px,#d3fdfe 815px)"></i><i style="top:570px;height:11px;background:linear-gradient(90deg,#d4fdfe 0px,#d2fdfe 94px,#dffdfd 121px,#fbfffb 156px,#fffff0 183px,#fffbd8 208px,#ffe2a5 291px,#ffdd9c 412px,#ffe2a5 525px,#fffbd8 607px,#fffff0 632px,#fbfffb 659px,#dffdfd 694px,#d2fdfe 721px,#d4fdfe 815px)"></i><i style="top:580px;height:11px;background:linear-gradient(90deg,#d5fdfe 0px,#d4fdfe 94px,#e0fdfd 121px,#fbfffb 155px,#fffff0 184px,#fffbd8 210px,#ffe6ac 291px,#ffe1a3 412px,#ffe6ac 525px,#fffbd8 605px,#fffff0 631px,#fbfffb 660px,#e0fdfd 694px,#d4fdfe 721px,#d5fdfe 815px)"></i><i style="top:590px;height:11px;background:linear-gradient(90deg,#d6fdfe 0px,#d5fdfe 94px,#e0fdfd 121px,#fbfffb 155px,#fffff0 183px,#fffbd8 210px,#ffe6ad 291px,#ffe2a5 411px,#ffe7ae 525px,#fffbd8 605px,#fffff0 632px,#fbfffb 660px,#e0fdfd 694px,#d5fdfe 721px,#d6fdfe 815px)"></i><i style="top:600px;height:11px;background:linear-gradient(90deg,#d7fdfe 0px,#d5fdfe 93px,#e1fdfd 120px,#fbfffb 154px,#fffff0 183px,#fffbd8 210px,#ffe7af 291px,#ffe3a7 410px,#ffe7af 525px,#fffbd8 605px,#fffff0 632px,#fbfffb 661px,#e1fdfd 695px,#d5fdfe 722px,#d7fdfe 815px)"></i><i style="top:610px;height:11px;background:linear-gradient(90deg,#d8fdfe 0px,#d7fdfe 93px,#e2fefd 120px,#fbfffb 153px,#fffff0 183px,#fffbd9 210px,#ffe8b0 291px,#ffe4a8 410px,#ffe8b0 525px,#fffbd9 605px,#fffff0 632px,#fbfffb 662px,#e2fefd 695px,#d7fdfe 722px,#d8fdfe 815px)"></i><i style="top:620px;height:11px;background:linear-gradient(90deg,#d9fdfe 0px,#d8fdfe 93px,#e2fefd 120px,#fbfffb 153px,#fffff0 183px,#fffbd8 211px,#ffe9b1 291px,#ffe5aa 409px,#ffe9b1 524px,#fffbd8 604px,#fffff0 632px,#fbfffb 662px,#e2fefd 695px,#d8fdfe 722px,#d9fdfe 815px)"></i><i style="top:630px;height:11px;background:linear-gradient(90deg,#dafdfe 0px,#d9fdfe 93px,#fbfffb 152px,#fffff0 183px,#fffbd8 211px,#ffe9b3 291px,#ffe5ab 409px,#ffe9b3 524px,#fffbd8 604px,#fffff0 632px,#fbfffb 663px,#d9fdfe 722px,#dafdfe 815px)"></i><i style="top:640px;height:11px;background:linear-gradient(90deg,#dbfdfd 0px,#dafdfe 93px,#fbfffb 152px,#fffff0 183px,#fff4c9 240px,#ffeab4 291px,#ffe6ad 409px,#ffeab4 524px,#fff4c9 575px,#fffff0 632px,#fbfffb 663px,#dafdfe 722px,#dbfdfd 815px)"></i><i style="top:650px;height:11px;background:linear-gradient(90deg,#dcfdfd 0px,#dbfdfe 93px,#fbfffb 151px,#fffff0 183px,#fff4c9 240px,#ffebb6 291px,#ffe7ae 408px,#ffebb6 524px,#fff4c9 575px,#fffff0 632px,#fbfffb 664px,#dbfdfe 722px,#dcfdfd 815px)"></i><i style="top:660px;height:11px;background:linear-gradient(90deg,#ddfdfd 0px,#dcfdfd 93px,#fbfffb 151px,#fffff0 183px,#fff5ca 240px,#ffecb7 291px,#ffe8b0 408px,#ffecb7 524px,#fff5ca 575px,#fffff0 632px,#fbfffb 664px,#dcfdfd 722px,#ddfdfd 815px)"></i><i style="top:670px;height:11px;background:linear-gradient(90deg,#defdfd 0px,#ddfdfd 92px,#fbfffb 150px,#fffff0 183px,#fff5ca 241px,#ffedb8 291px,#ffe9b1 408px,#ffeab3 494px,#ffefbd 542px,#fffbd8 602px,#fffff0 633px,#fbfffb 665px,#ddfdfd 723px,#defdfd 815px)"></i><i style="top:680px;height:11px;background:linear-gradient(90deg,#dffdfd 0px,#defdfd 92px,#fbfffb 149px,#fffff0 182px,#fffbd8 213px,#ffefbe 273px,#ffeab4 323px,#ffeab3 408px,#ffeab4 493px,#ffefbe 542px,#fffbd8 602px,#fffff0 633px,#fbfffb 666px,#defdfd 723px,#dffdfd 815px)"></i><i style="top:690px;height:11px;background:linear-gradient(90deg,#e0fdfd 0px,#dffdfd 92px,#fbfffb 148px,#fffff0 182px,#fffbd8 214px,#fff0bf 273px,#ffebb6 324px,#ffeab4 408px,#ffebb6 492px,#fff0bf 542px,#fffbd8 601px,#fffff0 633px,#fbfffb 667px,#dffdfd 723px,#e0fdfd 815px)"></i><i style="top:700px;height:11px;background:linear-gradient(90deg,#e1fdfd 0px,#e0fdfd 92px,#fbfffb 148px,#fffff0 182px,#fffbd8 214px,#fff0c0 273px,#ffebb6 408px,#fff0c0 542px,#fffbd8 601px,#fffff0 633px,#fbfffb 667px,#e0fdfd 723px,#e1fdfd 815px)"></i><i style="top:710px;height:11px;background:linear-gradient(90deg,#e2fefd 0px,#e1fdfd 92px,#fbfffb 147px,#fffff0 182px,#fffbd8 215px,#fff0c0 273px,#ffecb8 408px,#fff0c0 542px,#fffbd8 600px,#fffff0 633px,#fbfffb 668px,#e1fdfd 723px,#e2fefd 815px)"></i><i style="top:720px;height:11px;background:linear-gradient(90deg,#e3fefd 0px,#e2fefd 91px,#fbfffb 146px,#fffff0 182px,#fffbd8 215px,#fff1c1 273px,#ffedb9 408px,#fff1c1 542px,#fffbd8 600px,#fffff0 633px,#fbfffb 669px,#e2fefd 724px,#e3fefd 815px)"></i><i style="top:730px;height:11px;background:linear-gradient(90deg,#e4fefd 0px,#e3fefd 91px,#fbfffb 145px,#fffff0 182px,#fffbd8 216px,#fff1c2 273px,#ffeebb 408px,#fff1c2 542px,#fffbd8 599px,#fffff0 633px,#fbfffb 670px,#e3fefd 724px,#e4fefd 815px)"></i><i style="top:740px;height:11px;background:linear-gradient(90deg,#e4fefd 0px,#e3fefd 91px,#fbfffb 145px,#fffff0 182px,#fffbd8 216px,#fff1c2 273px,#ffeebb 408px,#fff1c2 542px,#fffbd8 599px,#fffff0 633px,#fbfffb 670px,#e3fefd 724px,#e4fefd 815px)"></i></div></div>
<div class="fw" style="left:305.0px;top:2515.0px;width:792px;height:723px"><div class="fb" style="top:-12px;height:747px;filter:blur(4.0px)"><i style="top:0px;height:11px;background:linear-gradient(90deg,#37e7ff 0px,#30e6ff 44px,#3ee8ff 66px,#5fedff 82px,#c8fcff 116px,#e7fefd 132px,#fbfffb 148px,#fffeec 206px,#fff7d0 260px,#fff5ca 309px,#fff5cc 526px,#fffad5 561px,#fffff0 613px,#fbfffb 664px,#ebfefc 679px,#c7fcff 699px,#55ebff 737px,#39e7ff 754px,#30e6ff 775px,#37e7ff 815px)"></i><i style="top:10px;height:11px;background:linear-gradient(90deg,#36e7ff 0px,#30e6ff 43px,#3ee8ff 66px,#5fedff 82px,#cafcff 117px,#fbfffb 148px,#fffeec 206px,#fff7d0 260px,#fff4c9 310px,#fff5cb 526px,#fffad5 561px,#fffff0 613px,#fbfffb 664px,#ebfefc 679px,#c7fcff 699px,#54ebff 737px,#38e7ff 754px,#30e6ff 776px,#36e7ff 815px)"></i><i style="top:20px;height:11px;background:linear-gradient(90deg,#35e7ff 0px,#2ee6ff 43px,#3de8ff 66px,#5eedff 82px,#cafcff 117px,#e8fefc 133px,#fbfffb 148px,#fffeec 206px,#fff7ce 261px,#fff4c8 310px,#fff5ca 526px,#fff9d3 559px,#fffff0 613px,#fbfffb 664px,#eafefc 680px,#c6fcff 699px,#53ebff 737px,#37e7ff 754px,#2ee6ff 776px,#35e7ff 815px)"></i><i style="top:30px;height:11px;background:linear-gradient(90deg,#34e7ff 0px,#2de5ff 43px,#3be8ff 66px,#5cecff 82px,#c9fcff 117px,#e8fefc 133px,#fbfffb 148px,#fffeeb 207px,#fff6cd 262px,#fff3c7 311px,#fff4c9 525px,#fff8d2 558px,#fffff0 613px,#fbfffb 664px,#e9fefc 680px,#c8fcff 698px,#52ebff 737px,#35e7ff 754px,#2ce5ff 776px,#34e7ff 815px)"></i><i style="top:40px;height:11px;background:linear-gradient(90deg,#32e6ff 0px,#2be5ff 43px,#3ae7ff 66px,#5becff 82px,#c9fcff 117px,#e8fefd 133px,#fbfffb 148px,#fffeeb 207px,#fff1c1 268px,#ffedb9 322px,#ffefbc 524px,#fff3c7 552px,#fffff0 613px,#fbfffb 664px,#e9fefc 680px,#c8fcff 698px,#51ebff 737px,#34e7ff 754px,#2be5ff 776px,#32e6ff 815px)"></i><i style="top:50px;height:11px;background:linear-gradient(90deg,#31e6ff 0px,#2ae5ff 43px,#39e7ff 66px,#5aecff 82px,#c9fcff 117px,#e8fefd 133px,#fbfffb 148px,#fffeeb 207px,#ffebb6 279px,#ffe7af 323px,#ffe9b2 516px,#fff1c1 550px,#fffde6 593px,#fffff0 613px,#fbfffb 664px,#e9fefc 680px,#c8fcff 698px,#50ebff 737px,#33e6ff 754px,#29e5ff 776px,#31e6ff 815px)"></i><i style="top:60px;height:11px;background:linear-gradient(90deg,#30e6ff 0px,#28e4fe 43px,#37e7ff 66px,#59ecff 82px,#c8fcff 117px,#e8fefd 133px,#fbfffb 148px,#fffeea 208px,#ffe9b2 279px,#ffe5ab 324px,#ffe7ae 516px,#fff0c0 551px,#fffde6 593px,#fffff0 613px,#fbfffb 664px,#e9fefc 680px,#c8fcff 698px,#4eeaff 737px,#32e6ff 754px,#28e4fe 776px,#30e6ff 815px)"></i><i style="top:70px;height:11px;background:linear-gradient(90deg,#2ee6ff 0px,#27e4fe 44px,#36e7ff 66px,#5becff 83px,#c8fcff 117px,#e7fefd 133px,#fbfffb 148px,#fffeea 208px,#ffe7ae 279px,#ffe3a6 325px,#ffe5aa 516px,#ffeab3 537px,#fffde6 593px,#fffff0 613px,#fbfffb 664px,#e9fefc 680px,#c7fcff 698px,#4deaff 737px,#2fe6ff 755px,#26e4fe 777px,#2ee6ff 815px)"></i><i style="top:80px;height:11px;background:linear-gradient(90deg,#2de5ff 0px,#25e4fe 44px,#35e7ff 66px,#5aecff 83px,#c8fcff 117px,#e7fefd 133px,#fbfffb 148px,#fffee9 209px,#ffe5aa 279px,#ffe0a2 325px,#ffe2a5 516px,#ffe8b0 537px,#fffde5 593px,#fffff0 613px,#fbfffb 664px,#e9fefc 680px,#c7fcff 698px,#4ceaff 737px,#2ee5ff 755px,#25e4fe 777px,#2de5ff 815px)"></i><i style="top:90px;height:11px;background:linear-gradient(90deg,#2be5ff 0px,#23e3fe 44px,#34e7ff 66px,#59ecff 83px,#c7fcff 117px,#e7fefd 133px,#fbfffb 149px,#fffee9 209px,#ffe1a2 279px,#ffdb99 324px,#ffde9d 516px,#ffe4a9 537px,#fffde4 592px,#fffff0 613px,#fbfffb 664px,#e9fefc 680px,#c6fcff 698px,#4beaff 737px,#2ce5ff 755px,#23e3fe 777px,#2be5ff 815px)"></i><i style="top:100px;height:11px;background:linear-gradient(90deg,#2ae5ff 0px,#22e3fe 44px,#32e6ff 66px,#58ecff 83px,#cafcff 118px,#e9fefc 134px,#fbfffb 149px,#fffee8 210px,#ffeebb 248px,#ffd997 275px,#ffce8d 325px,#ffd392 520px,#ffde9e 540px,#fffad5 581px,#fffff0 613px,#fbfffb 664px,#e9fefc 680px,#c6fcff 698px,#4aeaff 737px,#2be5ff 755px,#21e3fe 777px,#2ae5ff 815px)"></i><i style="top:110px;height:11px;background:linear-gradient(90deg,#28e4ff 0px,#20e3fe 42px,#2ee6ff 64px,#54ebff 82px,#c9fcff 118px,#e9fefc 134px,#fbfffb 149px,#fffde7 210px,#ffeebb 243px,#ffdc9a 259px,#ffca89 276px,#ffbc7d 328px,#ffbc7d 481px,#ffc383 520px,#ffdb99 547px,#fff4c8 573px,#fffde5 595px,#fffff0 613px,#fbfffb 664px,#e8fefc 680px,#c9fcff 697px,#49eaff 737px,#29e5ff 755px,#20e3fe 777px,#28e4ff 815px)"></i><i style="top:120px;height:11px;background:linear-gradient(90deg,#26e4fe 0px,#1fe2fe 42px,#2de5ff 64px,#52ebff 82px,#c9fcff 118px,#e8fefc 134px,#fbfffb 149px,#ffffed 200px,#fffbd7 221px,#ffeebb 240px,#ffdb99 253px,#ffbd7e 273px,#ffac71 295px,#ffa66d 329px,#ffa66d 482px,#ffaf73 519px,#ffcf8e 547px,#ffefbc 568px,#fffde4 595px,#fffff0 613px,#fbfffb 664px,#e8fefc 680px,#c8fcff 697px,#4aeaff 736px,#28e4fe 755px,#1ee2fe 777px,#26e4fe 815px)"></i><i style="top:130px;height:11px;background:linear-gradient(90deg,#25e4fe 0px,#1de2fe 42px,#2be5ff 64px,#51ebff 82px,#c9fcff 118px,#e8fefc 134px,#fbfffb 149px,#fffeed 200px,#fff8d2 223px,#ffeebb 236px,#ffdd9b 246px,#ffa169 273px,#ff8f5c 295px,#ff8a58 328px,#ff8a58 485px,#ff9560 523px,#ffa168 534px,#ffb97a 546px,#ffda98 560px,#ffeebb 571px,#fffde4 596px,#fffff0 613px,#fbfffb 664px,#e8fefc 680px,#c8fcff 697px,#49eaff 736px,#26e4fe 755px,#1ce2fe 777px,#25e4fe 815px)"></i><i style="top:140px;height:11px;background:linear-gradient(90deg,#02dcfc 0px,#00dcfc 57px,#09defd 64px,#3fe8ff 84px,#c8fcff 120px,#e7fefd 135px,#fbfffb 150px,#fffeec 202px,#fff4c8 227px,#ffeebc 233px,#ffdc9b 242px,#ffa66c 259px,#ff8f5c 269px,#ff7553 290px,#ff6c51 318px,#ff6d51 493px,#ff7553 517px,#ff8a58 535px,#ffaf73 551px,#ffdc9a 565px,#ffeebc 574px,#fffde3 596px,#fffff0 613px,#fbfffb 663px,#e2fefd 682px,#c0fbff 697px,#25e4fe 739px,#03ddfc 755px,#02dcfc 815px)"></i><i style="top:150px;height:11px;background:linear-gradient(90deg,#00ccf9 0px,#00c8f9 49px,#00dcfc 74px,#20e3fe 83px,#aef8ff 115px,#c7fcff 122px,#ddfdfd 131px,#fbfffb 150px,#fffff0 194px,#fffde3 210px,#ffedba 232px,#ffdb99 240px,#ffaa70 253px,#ff8757 265px,#ff634e 286px,#ff5548 310px,#ff5347 479px,#ff5f4c 517px,#ff7052 531px,#ff8958 543px,#ffa26a 552px,#ffdb99 567px,#ffedb9 575px,#fff4c8 581px,#fffeec 606px,#fbfffb 662px,#e7fefd 678px,#c6fcff 693px,#85f2ff 710px,#24e4fe 731px,#00dcfc 741px,#00c8f9 766px,#00ccf9 815px)"></i><i style="top:160px;height:11px;background:linear-gradient(90deg,#00c7f9 0px,#00c4f8 50px,#00dbfc 76px,#1de2fe 84px,#a7f7ff 114px,#c9fcff 123px,#dcfdfd 131px,#fbfffb 151px,#fffff0 194px,#fffde3 210px,#ffeebc 230px,#ffdb99 238px,#ff8b59 258px,#ff5b4a 276px,#ff4540 293px,#ff3e3e 324px,#ff3d3e 436px,#ff4440 513px,#ff5b4a 531px,#ff8857 548px,#ff9f68 555px,#ffdb99 569px,#fff2c3 580px,#fffeec 606px,#fbfffb 662px,#e8fefd 677px,#c8fcff 692px,#86f2ff 709px,#01dcfc 738px,#00c4f8 764px,#00c7f9 815px)"></i><i style="top:170px;height:11px;background:linear-gradient(90deg,#00c5f8 0px,#00c2f8 51px,#00dbfc 77px,#1ae1fe 84px,#a2f6ff 113px,#c8fcff 123px,#dcfdfd 131px,#fbfffb 151px,#fffff0 194px,#fffde4 209px,#ffeebc 229px,#ffda98 237px,#ff8b59 255px,#ff5e4c 268px,#ff4440 279px,#ff373d 296px,#ff313b 319px,#ff313b 488px,#ff373d 511px,#ff4440 528px,#ff5e4c 539px,#ff8b58 552px,#ffda98 570px,#ffeebc 578px,#fffce0 596px,#fffeeb 605px,#fbfffb 662px,#e6fefd 678px,#c7fcff 692px,#85f2ff 709px,#01dcfc 737px,#00caf9 750px,#00c2f8 764px,#00c5f8 815px)"></i><i style="top:180px;height:11px;background:linear-gradient(90deg,#00c3f8 0px,#00c0f9 51px,#00c8f9 65px,#00dbfc 78px,#9df6ff 112px,#c8fcff 123px,#dbfdfd 131px,#fbfffb 151px,#fffff0 194px,#fffde3 209px,#ffedb9 229px,#ffda98 236px,#ff8958 253px,#ff5548 266px,#ff403f 274px,#ff2d3a 292px,#ff2838 313px,#ff2c3a 515px,#ff4641 536px,#ff8858 554px,#ffd997 571px,#ffefbc 579px,#fffce0 596px,#fffeec 606px,#fbfffb 662px,#e6fefd 678px,#c6fcff 692px,#83f2ff 709px,#1be2fe 730px,#00dbfc 737px,#00c8f9 750px,#00c0f9 764px,#00c3f8 815px)"></i><i style="top:190px;height:11px;background:linear-gradient(90deg,#00c1f8 0px,#00bef9 52px,#00c8f9 66px,#00dbfc 79px,#98f5ff 111px,#c7fcff 123px,#dbfdfe 131px,#fbfffb 151px,#fffff0 194px,#fffde3 209px,#ffeebb 228px,#ffda98 235px,#ff8a58 251px,#ff4942 266px,#ff373d 274px,#ff2939 287px,#ff2236 313px,#ff2136 483px,#ff2b39 523px,#ff4641 540px,#ff8958 556px,#ffda98 572px,#ffeeba 579px,#fffcdf 596px,#fffeeb 606px,#fbfffb 662px,#e5fefd 678px,#c6fcff 692px,#86f2ff 708px,#00dbfc 736px,#00c8f9 749px,#00bef9 763px,#00c1f8 815px)"></i><i style="top:200px;height:11px;background:linear-gradient(90deg,#00bff9 0px,#00bcf9 52px,#00c7f8 67px,#00dbfc 80px,#92f4ff 110px,#c6fcff 123px,#dbfdfe 131px,#fbfffb 151px,#fffff0 194px,#fffde3 209px,#ffeebb 228px,#ffda98 235px,#ff8a58 251px,#ff4942 266px,#ff373d 274px,#ff2939 287px,#ff2236 313px,#ff2136 483px,#ff2b39 523px,#ff4641 540px,#ff8958 556px,#ffda98 572px,#ffeeba 579px,#fffcdf 596px,#fffeeb 606px,#fbfffb 662px,#e7fefd 677px,#c8fcff 691px,#85f2ff 708px,#00dbfc 735px,#00c7f8 748px,#00bcf9 763px,#00bff9 815px)"></i><i style="top:210px;height:11px;background:linear-gradient(90deg,#00bef9 0px,#00baf9 53px,#00c5f8 67px,#00dcfc 81px,#88f3ff 108px,#c5fcff 123px,#dafdfe 131px,#fbfffb 151px,#fffff0 194px,#fffde3 209px,#ffeebb 228px,#ffda98 235px,#ff8a58 251px,#ff4942 266px,#ff373d 274px,#ff2939 286px,#ff2236 312px,#ff2136 483px,#ff2b39 523px,#ff4641 540px,#ff8958 556px,#ffda98 572px,#ffeeba 579px,#fffcdf 596px,#fffeeb 606px,#fbfffb 662px,#e7fefd 677px,#c8fcff 691px,#83f2ff 708px,#00dcfc 734px,#00c5f8 748px,#00baf9 762px,#00bef9 815px)"></i><i style="top:220px;height:11px;background:linear-gradient(90deg,#00bcf9 0px,#00b8fa 53px,#00c4f8 68px,#01dcfc 82px,#87f2ff 108px,#c5fcff 123px,#dafdfe 131px,#fbfffb 151px,#fffff0 194px,#fffde3 209px,#ffeebb 228px,#ffda98 235px,#ff8a58 251px,#ff4942 266px,#ff373d 274px,#ff2939 286px,#ff2236 312px,#ff2136 483px,#ff2b39 523px,#ff4641 540px,#ff8958 556px,#ffda98 572px,#ffeeba 579px,#fffcdf 596px,#fffeeb 606px,#fbfffb 662px,#e6fefd 677px,#c7fcff 691px,#86f2ff 707px,#01dcfc 733px,#00c4f8 747px,#00b8fa 762px,#00bcf9 815px)"></i><i style="top:230px;height:11px;background:linear-gradient(90deg,#00bafa 0px,#00b6fa 53px,#00c2f8 68px,#00dbfc 82px,#86f2ff 108px,#c8fcff 124px,#d9fdfe 131px,#fbfffb 151px,#fffff0 194px,#fffde3 209px,#ffeebb 228px,#ffda98 235px,#ff8a58 251px,#ff4942 266px,#ff373d 274px,#ff2939 286px,#ff2236 311px,#ff2136 483px,#ff2b39 523px,#ff4641 540px,#ff8958 556px,#ffda98 572px,#ffeeba 579px,#fffcdf 596px,#fffeeb 606px,#fbfffb 661px,#e6fefd 677px,#c6fcff 691px,#85f2ff 707px,#00dbfc 733px,#00c2f8 747px,#00b6fa 762px,#00bafa 815px)"></i><i style="top:240px;height:11px;background:linear-gradient(90deg,#00b8fa 0px,#00b5fa 54px,#00c2f8 69px,#00dbfc 83px,#84f2ff 108px,#c7fcff 124px,#d9fdfe 131px,#fbfffb 151px,#fffff0 194px,#fffde3 209px,#ffeebb 228px,#ffda98 235px,#ff8a58 251px,#ff4942 266px,#ff373d 274px,#ff2939 286px,#ff2236 311px,#ff2136 483px,#ff2b39 523px,#ff4641 540px,#ff8958 556px,#ffda98 572px,#ffeeba 579px,#fffcdf 596px,#fffeeb 606px,#fbfffb 661px,#e6fefd 677px,#c5fcff 691px,#83f2ff 707px,#00dbfc 732px,#00c2f8 746px,#00b5fa 761px,#00b8fa 815px)"></i><i style="top:250px;height:11px;background:linear-gradient(90deg,#00b4fa 0px,#00b1fb 54px,#00bef9 69px,#00dbfc 84px,#86f2ff 109px,#c6fcff 124px,#dbfdfe 132px,#fbfffb 151px,#fffff0 194px,#fffde3 209px,#ffeebb 228px,#ffda98 235px,#ff8a58 251px,#ff4d44 265px,#ff393d 273px,#ff2a39 285px,#ff2236 310px,#ff2136 483px,#ff2b39 523px,#ff4641 540px,#ff8958 556px,#ffda98 572px,#ffeeba 579px,#fffcdf 596px,#fffeeb 606px,#fbfffb 661px,#e7fefd 676px,#c8fcff 690px,#86f2ff 706px,#00dbfc 731px,#00bef9 746px,#00b1fb 761px,#00b4fa 815px)"></i><i style="top:260px;height:11px;background:linear-gradient(90deg,#00aefb 0px,#00acfc 55px,#00bcf9 71px,#00dbfc 86px,#87f3ff 110px,#c7fcff 125px,#dafdfe 132px,#fbfffb 152px,#fffff0 194px,#fffde3 209px,#ffeebb 228px,#ffda98 235px,#ff8a58 251px,#ff4d44 265px,#ff393d 273px,#ff2b39 284px,#ff2236 309px,#ff2136 483px,#ff2b39 523px,#ff4641 540px,#ff8958 556px,#ffda98 572px,#ffeeba 579px,#fffcdf 596px,#fffeeb 605px,#fbfffb 661px,#e7fefd 676px,#c6fcff 690px,#82f2ff 706px,#00dbfc 729px,#00bcf9 744px,#00acfc 760px,#00aefb 815px)"></i><i style="top:270px;height:11px;background:linear-gradient(90deg,#00a9fc 0px,#00a7fc 56px,#00b8fa 72px,#01dcfc 88px,#84f2ff 110px,#c6fcff 125px,#d9fdfe 132px,#fbfffb 152px,#fffff0 194px,#fffde3 209px,#ffeebb 228px,#ffda98 235px,#ff8a58 251px,#ff4d44 265px,#ff393d 273px,#ff2b39 284px,#ff2236 309px,#ff2136 483px,#ff2b39 523px,#ff4641 540px,#ff8958 556px,#ffda98 572px,#ffeeba 579px,#fffcdf 596px,#fffeeb 605px,#fbfffb 661px,#e4fefd 677px,#c4fbff 690px,#83f2ff 705px,#01dcfc 727px,#00b8fa 743px,#00a7fc 759px,#00a9fc 815px)"></i><i style="top:280px;height:11px;background:linear-gradient(90deg,#00a3fd 0px,#009dfe 31px,#00a2fd 57px,#00b5fa 73px,#00dbfc 89px,#85f2ff 111px,#c4fbff 125px,#d8fdfe 132px,#fbfffb 152px,#fffff0 194px,#fffde3 209px,#ffeebb 228px,#ffda98 235px,#ff8a58 251px,#ff4d44 265px,#ff393d 273px,#ff2b39 284px,#ff2236 308px,#ff2136 482px,#ff2b39 523px,#ff4641 540px,#ff8958 556px,#ffda98 572px,#ffeeba 579px,#fffcdf 596px,#fffeeb 605px,#fbfffb 661px,#e3fefd 677px,#c2fbff 690px,#85f2ff 704px,#00dbfc 726px,#00b5fa 742px,#00a2fd 758px,#009dfe 784px,#00a3fd 815px)"></i><i style="top:290px;height:11px;background:linear-gradient(90deg,#009efe 0px,#0098fe 31px,#009cfe 57px,#00b2fb 74px,#00dafc 90px,#87f2ff 112px,#c6fcff 126px,#d9fdfe 133px,#fbfffb 152px,#fffff0 194px,#fffde3 209px,#ffeebb 228px,#ffda98 235px,#ff8a58 251px,#ff4d44 265px,#ff3b3e 272px,#ff2c3a 282px,#ff2236 307px,#ff2136 482px,#ff2b39 523px,#ff4641 540px,#ff8958 556px,#ffda98 572px,#ffeeba 579px,#fffcdf 596px,#fffeeb 605px,#fbfffb 660px,#e7fefd 675px,#c4fbff 689px,#86f2ff 703px,#00dafc 725px,#00b2fb 741px,#009cfe 758px,#0098fe 784px,#009efe 815px)"></i><i style="top:300px;height:11px;background:linear-gradient(90deg,#009bfe 0px,#0094ff 32px,#009afe 58px,#00affb 74px,#00dbfc 91px,#85f2ff 112px,#c5fcff 126px,#d9fdfe 133px,#fbfffb 152px,#fffff0 194px,#fffde3 209px,#ffeebb 228px,#ffda98 235px,#ff8a58 251px,#ff4d44 265px,#ff3b3e 272px,#ff2c3a 282px,#ff2336 306px,#ff2136 481px,#ff2a39 522px,#ff4641 540px,#ff8958 556px,#ffda98 572px,#ffeeba 579px,#fffcdf 596px,#fffeeb 605px,#fbfffb 660px,#e4fefd 676px,#c3fbff 689px,#84f2ff 703px,#00dbfc 724px,#00affb 741px,#009afe 757px,#0094ff 783px,#009bfe 815px)"></i><i style="top:310px;height:11px;background:linear-gradient(90deg,#009cfe 0px,#0095ff 32px,#009bfe 58px,#00b0fb 74px,#00dcfc 91px,#86f2ff 112px,#c5fcff 126px,#d9fdfe 133px,#fbfffb 152px,#fffff0 194px,#fffde3 209px,#ffeebb 228px,#ffda98 235px,#ff8a58 251px,#ff4d44 265px,#ff3b3e 272px,#ff2c3a 282px,#ff2236 307px,#ff2136 482px,#ff2b39 523px,#ff4641 540px,#ff8958 556px,#ffda98 572px,#ffeeba 579px,#fffcdf 596px,#fffeeb 605px,#fbfffb 660px,#e6fefd 675px,#c4fbff 689px,#85f2ff 703px,#00dcfc 724px,#00b0fb 741px,#009bfe 757px,#0095ff 783px,#009cfe 815px)"></i><i style="top:320px;height:11px;background:linear-gradient(90deg,#009dfe 0px,#0096ff 32px,#009cfe 58px,#00b1fb 74px,#01dcfc 91px,#86f2ff 112px,#c5fcff 126px,#d9fdfe 133px,#fbfffb 152px,#fffff0 194px,#fffde3 209px,#ffeebb 228px,#ffda98 235px,#ff8a58 251px,#ff4d44 265px,#ff3b3e 272px,#ff2c3a 282px,#ff2236 307px,#ff2136 482px,#ff2b39 523px,#ff4641 540px,#ff8958 556px,#ffda98 572px,#ffeeba 579px,#fffcdf 596px,#fffeeb 605px,#fbfffb 660px,#e6fefd 675px,#c4fbff 689px,#85f2ff 703px,#01dcfc 724px,#00b1fb 741px,#009cfe 757px,#0096ff 783px,#009dfe 815px)"></i><i style="top:330px;height:11px;background:linear-gradient(90deg,#009efe 0px,#0097fe 31px,#009cfe 57px,#00b2fb 74px,#00dafc 90px,#87f2ff 112px,#c6fcff 126px,#d9fdfe 133px,#fbfffb 152px,#fffff0 194px,#fffde3 209px,#ffeebb 228px,#ffda98 235px,#ff8a58 251px,#ff4d44 265px,#ff3b3e 272px,#ff2c3a 282px,#ff2236 307px,#ff2136 482px,#ff2b39 523px,#ff4641 540px,#ff8958 556px,#ffda98 572px,#ffeeba 579px,#fffcdf 596px,#fffeeb 605px,#fbfffb 660px,#e7fefd 675px,#c4fbff 689px,#86f2ff 703px,#00dafc 725px,#00b2fb 741px,#009cfe 758px,#0097fe 784px,#009efe 815px)"></i><i style="top:340px;height:11px;background:linear-gradient(90deg,#009ffd 0px,#0099fe 31px,#009dfe 57px,#00b3fb 74px,#00dbfc 90px,#87f3ff 112px,#c6fcff 126px,#d9fdfe 133px,#fbfffb 152px,#fffff0 194px,#fffde3 209px,#ffeebb 228px,#ffda98 235px,#ff8a58 251px,#ff4d44 265px,#ff3b3e 272px,#ff2c3a 282px,#ff2236 307px,#ff2136 482px,#ff2b39 523px,#ff4641 540px,#ff8958 556px,#ffda98 572px,#ffeeba 579px,#fffcdf 596px,#fffeeb 605px,#fbfffb 660px,#e7fefd 675px,#c5fbff 689px,#81f2ff 704px,#00dbfc 725px,#00b2fb 741px,#009dfe 758px,#0099fe 784px,#009ffd 815px)"></i><i style="top:350px;height:11px;background:linear-gradient(90deg,#00a0fd 0px,#009afe 31px,#009efd 57px,#00b3fa 74px,#00dcfc 90px,#88f3ff 112px,#c6fcff 126px,#dafdfe 133px,#fbfffb 152px,#fffff0 194px,#fffde3 209px,#ffeebb 228px,#ffda98 235px,#ff8a58 251px,#ff4d44 265px,#ff3b3e 272px,#ff2c3a 282px,#ff2236 307px,#ff2136 482px,#ff2b39 523px,#ff4641 540px,#ff8958 556px,#ffda98 572px,#ffeeba 579px,#fffcdf 596px,#fffeeb 605px,#fbfffb 660px,#e7fefd 675px,#c5fcff 689px,#82f2ff 704px,#00dcfc 725px,#00b3fa 741px,#009efd 758px,#009afe 784px,#00a0fd 815px)"></i><i style="top:360px;height:11px;background:linear-gradient(90deg,#00a1fd 0px,#009bfe 31px,#009ffd 57px,#00b2fb 73px,#01dcfc 90px,#84f2ff 111px,#c7fcff 126px,#dafdfe 133px,#fbfffb 152px,#fffff0 194px,#fffde3 209px,#ffeebb 228px,#ffda98 235px,#ff8a58 251px,#ff4d44 265px,#ff3b3e 272px,#ff2c3a 282px,#ff2236 307px,#ff2136 482px,#ff2b39 523px,#ff4641 540px,#ff8958 556px,#ffda98 572px,#ffeeba 579px,#fffcdf 596px,#fffeeb 605px,#fbfffb 660px,#e7fefd 675px,#c5fcff 689px,#83f2ff 704px,#01dcfc 725px,#00b2fb 742px,#009ffd 758px,#009bfe 784px,#00a1fd 815px)"></i><i style="top:370px;height:11px;background:linear-gradient(90deg,#00a2fd 0px,#009cfe 31px,#00a0fd 57px,#00b3fa 73px,#00dafc 89px,#84f2ff 111px,#c7fcff 126px,#dafdfe 133px,#fbfffb 152px,#fffff0 194px,#fffde3 209px,#ffeebb 228px,#ffda98 235px,#ff8a58 251px,#ff4d44 265px,#ff3b3e 272px,#ff2c3a 282px,#ff2236 307px,#ff2136 482px,#ff2b39 523px,#ff4641 540px,#ff8958 556px,#ffda98 572px,#ffeeba 579px,#fffcdf 596px,#fffeeb 605px,#fbfffb 660px,#e7fefd 675px,#c5fcff 689px,#83f2ff 704px,#00dafc 726px,#00b3fa 742px,#00a0fd 758px,#009cfe 784px,#00a2fd 815px)"></i><i style="top:380px;height:11px;background:linear-gradient(90deg,#00a3fd 0px,#009dfe 31px,#00a1fd 57px,#00b4fa 73px,#00dbfc 89px,#85f2ff 111px,#c4fbff 125px,#d8fdfe 132px,#fbfffb 152px,#fffff0 194px,#fffde3 209px,#ffeebc 228px,#ffdc9a 235px,#ff8958 252px,#ff5447 265px,#ff403f 272px,#ff2c3a 287px,#ff2638 307px,#ff2437 479px,#ff2c3a 520px,#ff4641 538px,#ff8958 555px,#ffdc9a 572px,#ffeebb 579px,#fffcdf 596px,#fffeeb 606px,#fbfffb 661px,#e3fefd 677px,#c2fbff 690px,#84f2ff 704px,#00dbfc 726px,#00b4fa 742px,#00a1fd 758px,#009dfe 784px,#00a3fd 815px)"></i><i style="top:390px;height:11px;background:linear-gradient(90deg,#00a4fd 0px,#009efe 31px,#00a2fd 57px,#00b5fa 73px,#00dcfc 89px,#86f2ff 111px,#c4fbff 125px,#d8fdfe 132px,#fbfffb 152px,#fffff0 194px,#fffde3 209px,#ffeebb 229px,#ffd897 237px,#ff8b59 254px,#ff5c4b 267px,#ff4440 276px,#ff353c 292px,#ff2d3a 313px,#ff2d3a 489px,#ff333c 513px,#ff4440 531px,#ff5c4b 540px,#ff8b59 553px,#ffdc9a 571px,#ffeebb 578px,#fffce0 596px,#fffeeb 605px,#fbfffb 661px,#e3fefd 677px,#c2fbff 690px,#85f2ff 704px,#00dbfc 726px,#00b5fa 742px,#00a2fd 758px,#009efe 784px,#00a4fd 815px)"></i><i style="top:400px;height:11px;background:linear-gradient(90deg,#00b4fa 0px,#00b1fb 54px,#00bef9 69px,#00dbfc 84px,#87f2ff 109px,#c6fcff 124px,#dbfdfe 132px,#fbfffb 151px,#fffff0 194px,#fffde2 210px,#ffeebb 230px,#ffda98 238px,#ff8b58 257px,#ff5c4b 273px,#ff4440 287px,#ff393d 320px,#ff393d 436px,#ff3c3e 504px,#ff4440 520px,#ff5347 530px,#ff8e5b 551px,#ffd997 569px,#ffeebb 577px,#fffcdf 595px,#fffeeb 605px,#fbfffb 661px,#e7fefd 676px,#c8fcff 690px,#86f2ff 706px,#00dbfc 731px,#00bef9 746px,#00b1fb 761px,#00b4fa 815px)"></i><i style="top:410px;height:11px;background:linear-gradient(90deg,#00c5f8 0px,#00c1f8 51px,#00caf9 65px,#01dcfc 78px,#9af5ff 111px,#c8fcff 123px,#dcfdfd 131px,#fbfffb 151px,#fffff0 194px,#fffde3 210px,#ffeebb 231px,#ffdb99 239px,#ffab71 251px,#ff8958 261px,#ff5e4b 281px,#ff4b43 303px,#ff4641 434px,#ff4e44 510px,#ff614d 528px,#ff8958 546px,#ffa36a 554px,#ffdb99 568px,#fff2c4 580px,#fffeec 606px,#fbfffb 662px,#e6fefd 678px,#c7fcff 692px,#84f2ff 709px,#01dcfc 737px,#00caf9 750px,#00c1f8 764px,#00c5f8 815px)"></i><i style="top:420px;height:11px;background:linear-gradient(90deg,#00d6fb 0px,#00d1fa 45px,#00dcfc 67px,#38e7ff 85px,#c1fbff 119px,#dffdfd 131px,#fbfffb 150px,#fffff0 194px,#fffde4 210px,#ffeebb 232px,#ffda98 241px,#ffaf73 253px,#ff8958 266px,#ff6b51 284px,#ff5c4b 310px,#ff5a4a 479px,#ff654f 516px,#ff7453 530px,#ff8b59 542px,#ffa36a 551px,#ffdd9b 567px,#ffeebb 575px,#fff4c8 581px,#fffeec 606px,#fbfffb 663px,#e6fefd 679px,#c7fcff 694px,#85f2ff 712px,#25e4fe 735px,#00dcfc 748px,#00d1fa 770px,#00d6fb 815px)"></i><i style="top:430px;height:11px;background:linear-gradient(90deg,#0adefd 0px,#02dcfc 42px,#11e0fd 64px,#41e8ff 83px,#c9fcff 120px,#e6fefd 134px,#fbfffb 149px,#fffeec 202px,#fff4c8 227px,#ffeebc 233px,#ffdc9b 242px,#ffa66d 259px,#ff905c 269px,#ff7653 290px,#ff6d51 318px,#ff6d51 492px,#ff7553 516px,#ff8958 534px,#ffb074 551px,#ffdc9a 565px,#ffeebc 574px,#fffde3 596px,#fffff0 613px,#fbfffb 663px,#e3fefd 682px,#c2fbff 697px,#38e7ff 735px,#1ce2fe 745px,#0bdefd 755px,#01dcfc 777px,#0adefd 815px)"></i><i style="top:440px;height:11px;background:linear-gradient(90deg,#0edffd 0px,#05ddfc 42px,#15e0fd 64px,#44e9ff 83px,#c7fcff 119px,#e7fefd 134px,#fbfffb 149px,#fffeec 201px,#fff6cc 226px,#ffedba 235px,#ffdc9a 244px,#ff9e67 267px,#ff8457 289px,#ff7b55 317px,#ff7b54 485px,#ff8a58 525px,#ff9a64 538px,#ffaf73 547px,#ffdc9a 563px,#ffefbc 573px,#fffde3 596px,#fffff0 613px,#fbfffb 663px,#e5fefd 681px,#c6fcff 696px,#3ae7ff 735px,#0fdffd 755px,#05ddfc 777px,#0edffd 815px)"></i><i style="top:450px;height:11px;background:linear-gradient(90deg,#12e0fd 0px,#09defd 42px,#18e1fe 64px,#46e9ff 83px,#c8fcff 119px,#e7fefd 134px,#fbfffb 149px,#fffeec 201px,#fff7cf 225px,#ffeebb 236px,#ffdc9a 246px,#ffa26a 271px,#ff905c 290px,#ff8958 316px,#ff8858 482px,#ff935f 522px,#ffa068 535px,#ffb779 546px,#ffdc9a 561px,#ffeebb 571px,#fffde3 595px,#fffff0 613px,#fbfffb 663px,#e5fefd 681px,#c7fcff 696px,#3ae7ff 736px,#13e0fd 755px,#09defd 777px,#12e0fd 815px)"></i><i style="top:460px;height:11px;background:linear-gradient(90deg,#15e0fd 0px,#0ddffd 42px,#1ce2fe 64px,#49eaff 83px,#c8fcff 119px,#e7fefd 134px,#fbfffb 149px,#ffffed 200px,#fff9d5 222px,#ffedb9 238px,#ffd492 252px,#ffac71 273px,#ff9a64 293px,#ff9460 328px,#ff9560 485px,#ff9f67 523px,#ffc787 549px,#ffeebc 570px,#fffde3 595px,#fffff0 613px,#fbfffb 663px,#e5fefd 681px,#c7fcff 696px,#3de8ff 736px,#16e1fd 755px,#0ddffd 777px,#15e0fd 815px)"></i><i style="top:470px;height:11px;background:linear-gradient(90deg,#19e1fe 0px,#11dffd 42px,#1fe3fe 64px,#4ceaff 83px,#c9fcff 119px,#e7fefd 134px,#fbfffb 149px,#ffffed 200px,#fffad7 221px,#ffeebb 239px,#ffda98 252px,#ffb97a 272px,#ffa56c 294px,#ffa068 327px,#ffa068 484px,#ffa96e 519px,#ffcb8a 547px,#ffeebb 568px,#fffde4 595px,#fffff0 613px,#fbfffb 663px,#e6fefd 681px,#c5fcff 697px,#40e8ff 736px,#1ae1fe 755px,#11dffd 777px,#19e1fe 815px)"></i><i style="top:480px;height:11px;background:linear-gradient(90deg,#23e3fe 0px,#1ae2fe 42px,#29e4ff 64px,#4feaff 82px,#c8fcff 118px,#e8fefc 134px,#fbfffb 149px,#ffffed 200px,#fffbd8 221px,#ffeeba 241px,#ffdc9a 254px,#ffc484 271px,#ffb175 295px,#ffac71 329px,#ffac71 482px,#ffb578 519px,#ffd08f 546px,#ffeebc 567px,#fffde4 595px,#fffff0 613px,#fbfffb 664px,#e8fefc 680px,#c7fcff 697px,#47e9ff 736px,#24e3fe 755px,#1ae1fe 777px,#23e3fe 815px)"></i><i style="top:490px;height:11px;background:linear-gradient(90deg,#38e7ff 0px,#32e6ff 44px,#40e8ff 66px,#60edff 82px,#c8fcff 116px,#e7fefd 132px,#fbfffb 148px,#fffde7 210px,#ffeebc 242px,#ffdc9a 258px,#ffc887 276px,#ffb97b 328px,#ffb97b 482px,#ffc181 520px,#ffd997 547px,#fff2c5 571px,#fffde5 595px,#fffff0 613px,#fbfffb 664px,#ebfefc 679px,#c7fcff 699px,#56ebff 737px,#3ae7ff 754px,#31e6ff 775px,#38e7ff 815px)"></i><i style="top:500px;height:11px;background:linear-gradient(90deg,#4ceaff 0px,#46e9ff 43px,#52ebff 65px,#6eefff 81px,#c8fcff 114px,#fbfffb 147px,#fffee9 207px,#ffeebc 244px,#ffd392 270px,#ffc786 292px,#ffc382 326px,#ffc888 520px,#ffdc9a 545px,#fff6ce 576px,#fffde6 596px,#fffff0 613px,#fbfffb 665px,#eefefc 678px,#c7fcff 701px,#65eeff 738px,#4deaff 754px,#46e9ff 775px,#4ceaff 815px)"></i><i style="top:510px;height:11px;background:linear-gradient(90deg,#6fefff 0px,#6aeeff 43px,#74f0ff 65px,#91f4ff 85px,#d9fdfe 119px,#fbfffb 146px,#fffeea 206px,#fff5cb 234px,#ffda98 270px,#ffce8d 292px,#ffca89 325px,#ffcf8e 520px,#ffdc9a 540px,#fff9d3 579px,#fffde7 596px,#fffff0 613px,#fbfffb 666px,#f3fffc 676px,#c9fcff 705px,#8af3ff 734px,#6fefff 755px,#6aeeff 777px,#6fefff 815px)"></i><i style="top:520px;height:11px;background:linear-gradient(90deg,#a1f6ff 0px,#9ef6ff 45px,#a5f7ff 67px,#fbfffb 143px,#fffee8 209px,#fff8d0 231px,#ffe1a3 266px,#ffd896 283px,#ffd190 403px,#ffd896 524px,#ffe1a3 541px,#fff8d0 576px,#fffee9 599px,#fbfffb 669px,#e7fefd 692px,#a5f7ff 748px,#9ef6ff 770px,#a1f6ff 815px)"></i><i style="top:530px;height:11px;background:linear-gradient(90deg,#adf8ff 0px,#b1f9ff 67px,#fbfffb 142px,#fffee9 208px,#ffe4a9 267px,#ffdd9c 287px,#ffd897 403px,#ffdd9c 520px,#ffe4a9 540px,#fffee9 599px,#fbfffb 670px,#b0f8ff 749px,#adf8ff 815px)"></i><i style="top:540px;height:11px;background:linear-gradient(90deg,#b9faff 0px,#bbfaff 66px,#fbfffb 140px,#fffeea 208px,#ffe7ae 267px,#ffe0a2 287px,#ffde9d 403px,#ffe0a2 520px,#ffe7ae 540px,#fffeea 600px,#fbfffb 672px,#bbfaff 749px,#b9faff 815px)"></i><i style="top:550px;height:11px;background:linear-gradient(90deg,#c3fbff 0px,#c6fcff 66px,#fbfffb 139px,#fffeea 207px,#ffe9b2 268px,#ffe3a7 287px,#ffe1a2 403px,#ffe3a7 520px,#ffe9b2 539px,#fffeea 600px,#fbfffb 673px,#c6fcff 749px,#c3fbff 815px)"></i><i style="top:560px;height:11px;background:linear-gradient(90deg,#c5fcff 0px,#c9fcff 71px,#fbfffb 139px,#fffeea 207px,#fff1c2 253px,#ffe6ad 287px,#ffe3a8 403px,#ffe6ac 520px,#fff1c1 554px,#fffeeb 601px,#fbfffb 673px,#c9fcff 744px,#c5fcff 815px)"></i><i style="top:570px;height:11px;background:linear-gradient(90deg,#c7fcff 0px,#cbfcff 71px,#fbfffb 139px,#fffeeb 206px,#fff2c3 254px,#ffe9b2 287px,#ffe6ad 403px,#ffe9b2 520px,#fff2c3 553px,#fffeeb 602px,#fbfffb 673px,#cbfcff 744px,#c7fcff 815px)"></i><i style="top:580px;height:11px;background:linear-gradient(90deg,#c9fcff 0px,#ccfcff 71px,#fbfffb 138px,#fffeec 205px,#fff2c5 254px,#ffebb6 287px,#ffe9b2 405px,#ffebb6 520px,#fff2c5 553px,#fffeec 603px,#fbfffb 673px,#cbfcff 745px,#c9fcff 815px)"></i><i style="top:590px;height:11px;background:linear-gradient(90deg,#cafcff 0px,#cdfcff 71px,#fbfffb 138px,#fffeec 205px,#fff2c5 255px,#ffecb8 287px,#ffeab4 405px,#ffecb8 520px,#fff2c5 552px,#fffeec 603px,#fbfffb 674px,#cdfcff 744px,#cafcff 815px)"></i><i style="top:600px;height:11px;background:linear-gradient(90deg,#cbfcff 0px,#cefcfe 71px,#fbfffb 138px,#fffeec 204px,#fff3c6 255px,#ffedba 287px,#ffebb6 405px,#ffedba 520px,#fff3c6 552px,#fffeec 604px,#fbfffb 674px,#cefcff 744px,#cbfcff 815px)"></i><i style="top:610px;height:11px;background:linear-gradient(90deg,#cdfcff 0px,#d0fcfe 71px,#fbfffb 138px,#fffeec 205px,#fff4c8 252px,#ffefbd 278px,#ffecb8 405px,#ffefbd 529px,#fff4c8 555px,#fffeec 603px,#fbfffb 674px,#d0fcfe 744px,#cdfcff 815px)"></i><i style="top:620px;height:11px;background:linear-gradient(90deg,#cefcff 0px,#d1fdfe 71px,#fbfffb 137px,#fffeec 204px,#fff4c9 252px,#ffefbe 278px,#ffedb9 405px,#ffefbe 529px,#fff5ca 556px,#fffeec 603px,#fbfffb 674px,#d1fdfe 744px,#cefcff 815px)"></i><i style="top:630px;height:11px;background:linear-gradient(90deg,#cffcfe 0px,#d2fdfe 71px,#fbfffb 137px,#fffeec 204px,#fff5ca 251px,#fff0bf 278px,#ffeebb 405px,#fff0bf 529px,#fff5ca 556px,#fffeed 604px,#fbfffb 675px,#d2fdfe 744px,#cffcfe 815px)"></i><i style="top:640px;height:11px;background:linear-gradient(90deg,#d1fdfe 0px,#d4fdfe 71px,#fbfffb 137px,#fffeec 204px,#fff0c0 277px,#ffefbc 405px,#fff0c0 530px,#fffeed 604px,#fbfffb 675px,#d4fdfe 744px,#d1fdfe 815px)"></i><i style="top:650px;height:11px;background:linear-gradient(90deg,#d2fdfe 0px,#d5fdfe 71px,#fbfffb 137px,#fffeec 204px,#fff1c1 277px,#ffefbd 405px,#fff1c1 530px,#fffeed 604px,#fbfffb 675px,#d5fdfe 744px,#d2fdfe 815px)"></i><i style="top:660px;height:11px;background:linear-gradient(90deg,#d4fdfe 0px,#d6fdfe 71px,#fbfffb 136px,#fffeed 203px,#fff1c2 277px,#fff0bf 405px,#fff1c2 530px,#ffffed 605px,#fbfffb 675px,#d6fdfe 744px,#d4fdfe 815px)"></i><i style="top:670px;height:11px;background:linear-gradient(90deg,#d5fdfe 0px,#d7fdfe 71px,#fbfffb 136px,#fffeed 203px,#fff2c3 277px,#fff0c0 405px,#fff2c3 530px,#ffffed 605px,#fbfffb 676px,#d7fdfe 744px,#d5fdfe 815px)"></i><i style="top:680px;height:11px;background:linear-gradient(90deg,#d6fdfe 0px,#d9fdfe 71px,#fbfffb 136px,#fffeed 203px,#fff2c5 276px,#fff1c1 405px,#fff2c5 531px,#ffffed 606px,#fbfffb 676px,#d9fdfe 744px,#d6fdfe 815px)"></i><i style="top:690px;height:11px;background:linear-gradient(90deg,#d8fdfe 0px,#dafdfe 71px,#fbfffb 135px,#ffffed 202px,#fff3c6 276px,#fff1c2 405px,#fff3c6 531px,#ffffed 606px,#fbfffb 676px,#dafdfe 744px,#d8fdfe 815px)"></i><i style="top:700px;height:11px;background:linear-gradient(90deg,#d9fdfe 0px,#dbfdfd 71px,#fbfffb 135px,#ffffed 202px,#fff3c7 276px,#fff2c3 405px,#fff3c7 531px,#ffffee 607px,#fbfffb 677px,#dbfdfd 744px,#d9fdfe 815px)"></i><i style="top:710px;height:11px;background:linear-gradient(90deg,#dafdfe 0px,#ddfdfd 71px,#fbfffb 134px,#ffffee 201px,#fff4c8 275px,#fff2c4 405px,#fff4c8 532px,#ffffee 608px,#fbfffb 677px,#ddfdfd 744px,#dafdfe 815px)"></i><i style="top:720px;height:11px;background:linear-gradient(90deg,#dcfdfd 0px,#defdfd 71px,#fbfffb 134px,#ffffee 200px,#fff4c9 275px,#fff3c5 405px,#fff4c9 532px,#ffffef 610px,#fbfffb 677px,#defdfd 744px,#dcfdfd 815px)"></i><i style="top:730px;height:11px;background:linear-gradient(90deg,#ddfdfd 0px,#dffdfd 71px,#fbfffb 134px,#ffffee 199px,#fff5ca 274px,#fff3c7 405px,#fff5ca 532px,#fffff0 613px,#fbfffb 678px,#dffdfd 744px,#ddfdfd 815px)"></i><i style="top:740px;height:11px;background:linear-gradient(90deg,#ddfdfd 0px,#dffdfd 71px,#fbfffb 134px,#ffffee 199px,#fff5ca 274px,#fff3c7 405px,#fff5ca 532px,#fffff0 613px,#fbfffb 678px,#dffdfd 744px,#ddfdfd 815px)"></i></div></div>
<div class="fw" style="left:1165.0px;top:100.0px;width:792px;height:725px"><div class="fb" style="top:-12px;height:749px;filter:blur(4.0px)"><i style="top:0px;height:11px;background:linear-gradient(90deg,#ffdc9a 0px,#ffe2a5 52px,#fffbd8 106px,#fffff0 122px,#fafffb 143px,#93f4ff 245px,#70efff 289px,#5fedff 336px,#5aecff 407px,#5fedff 479px,#70efff 526px,#93f4ff 570px,#fafffb 672px,#fffff0 693px,#fffbd8 709px,#ffe2a5 763px,#ffdc9a 815px)"></i><i style="top:10px;height:11px;background:linear-gradient(90deg,#ffdc9a 0px,#ffe2a5 53px,#fffbd8 106px,#fffff0 122px,#fbfffb 142px,#c8fcff 196px,#92f4ff 243px,#6cefff 288px,#59ecff 336px,#54ebff 407px,#59ecff 479px,#6cefff 527px,#92f4ff 572px,#c8fcff 619px,#fbfffb 673px,#fffff0 693px,#fffbd8 709px,#ffe2a5 762px,#ffdc9a 815px)"></i><i style="top:20px;height:11px;background:linear-gradient(90deg,#ffda98 0px,#ffe1a4 53px,#fffbd8 106px,#fffff0 122px,#fbfffb 141px,#c7fcff 191px,#75f0ff 258px,#5cecff 286px,#47e9ff 334px,#42e9ff 407px,#47e9ff 480px,#5becff 528px,#74f0ff 556px,#c7fcff 624px,#fbfffb 674px,#fffff0 693px,#fffbd8 709px,#ffe1a4 762px,#ffda98 815px)"></i><i style="top:30px;height:11px;background:linear-gradient(90deg,#ffd997 0px,#ffe0a2 53px,#fffbd8 106px,#ffffef 121px,#fbfffb 139px,#c8fcff 186px,#68eeff 256px,#4ceaff 285px,#35e7ff 333px,#2fe6ff 407px,#35e7ff 481px,#4ceaff 530px,#68eeff 559px,#c8fcff 629px,#fbfffb 676px,#ffffef 694px,#fffbd8 709px,#ffe0a2 762px,#ffd997 815px)"></i><i style="top:40px;height:11px;background:linear-gradient(90deg,#ffd796 0px,#ffe0a0 53px,#fffbd8 106px,#fffff0 121px,#fbfffb 138px,#c8fcff 182px,#5becff 254px,#3ce8ff 283px,#21e3fe 334px,#1ae1fe 407px,#21e3fe 481px,#3ce8ff 532px,#5becff 561px,#c8fcff 633px,#fbfffb 677px,#fffff0 694px,#fffbd8 709px,#ffe0a0 762px,#ffd796 815px)"></i><i style="top:50px;height:11px;background:linear-gradient(90deg,#ffd694 0px,#ffdf9f 53px,#fffbd8 106px,#fffff0 121px,#fbfffb 137px,#c7fcff 179px,#4feaff 253px,#28e4fe 288px,#0ddffd 335px,#07ddfc 407px,#0ddffd 479px,#27e4fe 526px,#4feaff 562px,#c7fcff 636px,#fbfffb 678px,#fffff0 694px,#fffbd8 709px,#ffdf9f 762px,#ffd694 815px)"></i><i style="top:60px;height:11px;background:linear-gradient(90deg,#ffd493 0px,#ffde9d 53px,#fffbd8 106px,#ffffef 120px,#fbfffb 136px,#c7fcff 176px,#50ebff 244px,#22e3fe 277px,#01dcfc 318px,#00d8fb 349px,#05ddfc 503px,#19e1fe 530px,#3ce8ff 558px,#c7fcff 639px,#fbfffb 679px,#ffffef 695px,#fffbd8 709px,#ffde9d 762px,#ffd493 815px)"></i><i style="top:70px;height:11px;background:linear-gradient(90deg,#ffd392 0px,#ffdd9c 53px,#fffbd7 106px,#fffff0 120px,#fbfffb 135px,#c7fcff 173px,#46e9ff 242px,#0fdffd 279px,#00dcfc 294px,#00cffa 349px,#00cefa 461px,#00dcfc 522px,#37e7ff 564px,#c7fcff 642px,#fbfffb 680px,#fffff0 695px,#fffbd7 709px,#ffdd9c 762px,#ffd392 815px)"></i><i style="top:80px;height:11px;background:linear-gradient(90deg,#ffd290 0px,#ffdc9a 53px,#fffbd7 106px,#fffff0 120px,#fbfffb 134px,#c8fcff 170px,#18e1fd 261px,#01dcfc 277px,#00d6fb 287px,#00c7f8 340px,#00c4f8 432px,#00caf9 493px,#00dcfc 537px,#3ee8ff 575px,#c8fcff 645px,#fbfffb 681px,#fffff0 695px,#fffbd7 709px,#ffdc9a 762px,#ffd290 815px)"></i><i style="top:90px;height:11px;background:linear-gradient(90deg,#ffd08f 0px,#ffd291 33px,#ffdc9a 55px,#fffbd9 107px,#fffff0 120px,#fbfffb 134px,#c6fcff 169px,#08defc 263px,#00dcfc 268px,#00cffa 287px,#00bff9 344px,#00bdf9 449px,#00c5f8 504px,#00dcfc 547px,#c8fcff 647px,#fbfffb 681px,#fffff0 695px,#fffbd9 708px,#ffdc9a 760px,#ffd291 782px,#ffd08f 815px)"></i><i style="top:100px;height:11px;background:linear-gradient(90deg,#ffcd8c 0px,#ffd08f 35px,#ffdc9a 58px,#fffbd8 107px,#fffff0 120px,#fbfffb 133px,#b3f9ff 177px,#01dcfc 259px,#00c8f9 287px,#00b7fa 346px,#00b6fa 458px,#00c1f8 512px,#00dcfc 555px,#b5f9ff 639px,#fbfffb 682px,#fffff0 695px,#fffbd8 708px,#ffdc9a 757px,#ffd08f 780px,#ffcd8c 815px)"></i><i style="top:110px;height:11px;background:linear-gradient(90deg,#ffca89 0px,#ffcd8c 36px,#ffdb99 60px,#fffbd8 107px,#ffffef 119px,#fbfffb 133px,#c9fcff 164px,#85f2ff 197px,#00dcfc 253px,#00c1f8 287px,#00affb 348px,#00affb 465px,#00bcf9 518px,#00dcfc 562px,#85f2ff 618px,#c9fcff 651px,#fbfffb 682px,#ffffef 696px,#fffbd8 708px,#ffdb99 755px,#ffcd8c 779px,#ffca89 815px)"></i><i style="top:120px;height:11px;background:linear-gradient(90deg,#ffc787 0px,#ffcb8a 36px,#ffd997 60px,#fffbd7 107px,#ffffef 119px,#fbfffb 132px,#c7fcff 163px,#85f2ff 194px,#00dcfc 247px,#00baf9 287px,#00a7fc 350px,#00a8fc 470px,#00b7fa 523px,#00dcfc 568px,#85f2ff 621px,#c7fcff 652px,#fbfffb 683px,#ffffef 696px,#fffbd7 708px,#ffd997 755px,#ffcb8a 779px,#ffc787 815px)"></i><i style="top:130px;height:11px;background:linear-gradient(90deg,#ffc584 0px,#ffc887 36px,#ffd795 60px,#fffbd7 107px,#ffffef 119px,#fbfffb 132px,#c8fcff 161px,#84f2ff 192px,#00dcfc 242px,#00b3fa 287px,#00a0fd 351px,#00a1fd 474px,#00b3fb 527px,#00dcfc 573px,#84f2ff 623px,#c8fcff 654px,#fbfffb 683px,#ffffef 696px,#fffbd7 708px,#ffd795 755px,#ffc887 779px,#ffc584 815px)"></i><i style="top:140px;height:11px;background:linear-gradient(90deg,#ffc282 0px,#ffc585 36px,#ffd493 60px,#ffeebb 86px,#fffbd8 108px,#fffff0 119px,#fbfffb 131px,#c9fcff 159px,#85f2ff 189px,#01dcfc 236px,#00abfc 287px,#0097ff 352px,#0099fe 478px,#00adfb 531px,#00dbfc 578px,#85f2ff 626px,#c9fcff 656px,#fbfffb 684px,#fffff0 696px,#fffbd8 707px,#ffeebb 729px,#ffd493 755px,#ffc585 779px,#ffc282 815px)"></i><i style="top:150px;height:11px;background:linear-gradient(90deg,#ffbf7f 0px,#ffc382 36px,#ffd291 60px,#ffeebb 87px,#fffbd8 108px,#fffff0 119px,#fafffb 131px,#c7fcff 158px,#85f2ff 186px,#02dcfc 231px,#00b9fa 260px,#00a3fd 287px,#008dff 354px,#0090ff 479px,#00a7fc 534px,#00dbfc 583px,#85f2ff 629px,#c7fcff 657px,#fafffb 684px,#fffff0 696px,#fffbd8 707px,#ffeebb 728px,#ffd291 755px,#ffc382 779px,#ffbf7f 815px)"></i><i style="top:160px;height:11px;background:linear-gradient(90deg,#ffbb7d 0px,#ffbf7f 33px,#ffd08f 60px,#ffeebc 88px,#fffbd8 108px,#fffff0 119px,#fbfffb 130px,#c7fcff 156px,#85f2ff 183px,#00dbfc 226px,#00b2fb 257px,#0097ff 287px,#0087ff 318px,#0080ff 354px,#0083ff 483px,#00a0fd 540px,#00dbfc 589px,#85f2ff 632px,#c7fcff 659px,#fbfffb 685px,#fffff0 696px,#fffbd8 707px,#ffeebc 727px,#ffd08f 755px,#ffbf7f 782px,#ffbb7d 815px)"></i><i style="top:170px;height:11px;background:linear-gradient(90deg,#ffb87a 0px,#ffbb7c 33px,#ffcd8d 60px,#ffdc9b 72px,#ffeebb 88px,#fffbd8 108px,#fffff1 119px,#fbfffb 129px,#c7fcff 154px,#84f2ff 180px,#00dcfc 220px,#00d5fb 224px,#00a0fd 263px,#007fff 305px,#0072ff 350px,#0070ff 427px,#0075ff 482px,#0085ff 521px,#00a8fc 559px,#00dcfc 595px,#84f2ff 635px,#c7fcff 661px,#fbfffb 686px,#fffff1 696px,#fffbd8 707px,#ffeebb 727px,#ffdc9b 743px,#ffcd8d 755px,#ffbb7c 782px,#ffb87a 815px)"></i><i style="top:180px;height:11px;background:linear-gradient(90deg,#ffb679 0px,#ffba7c 34px,#ffce8d 61px,#ffdc9a 72px,#ffeebc 89px,#fffbd8 108px,#fffff0 118px,#fbfffb 128px,#c8fcff 152px,#84f2ff 177px,#00dcfc 215px,#00ccf9 224px,#008eff 268px,#0070ff 307px,#0063ff 354px,#0062ff 441px,#0069ff 490px,#007cff 527px,#00a3fd 564px,#00dcfc 600px,#84f2ff 638px,#c8fcff 663px,#fbfffb 687px,#fffff0 697px,#fffbd8 707px,#ffeebc 726px,#ffdc9a 743px,#ffce8d 754px,#ffba7c 781px,#ffb679 815px)"></i><i style="top:190px;height:11px;background:linear-gradient(90deg,#ffb779 0px,#ffba7c 34px,#ffce8d 61px,#ffdc9a 72px,#ffeebb 88px,#fffbd7 107px,#fffff0 117px,#fbfffb 127px,#c7fcff 150px,#85f2ff 173px,#00dcfc 209px,#00bff9 224px,#007eff 267px,#005dff 307px,#0050ff 358px,#0050ff 454px,#0059ff 500px,#006fff 534px,#009efe 571px,#00dcfc 606px,#85f2ff 642px,#c7fcff 665px,#fbfffb 688px,#fffff0 698px,#fffbd7 708px,#ffeebb 727px,#ffdc9a 743px,#ffce8d 754px,#ffba7c 781px,#ffb779 815px)"></i><i style="top:200px;height:11px;background:linear-gradient(90deg,#ffb779 0px,#ffbb7c 34px,#ffce8d 61px,#ffdd9b 72px,#ffeebc 88px,#fbfffb 125px,#c9fcff 145px,#86f2ff 166px,#00dbfc 198px,#00a1fd 224px,#0059ff 264px,#0030ff 311px,#0526fb 367px,#0428fb 472px,#0034ff 512px,#0055ff 548px,#0081ff 575px,#00dbfc 617px,#86f2ff 649px,#c9fcff 670px,#fbfffb 690px,#ffeebc 727px,#ffdd9b 743px,#ffce8d 754px,#ffbb7c 781px,#ffb779 815px)"></i><i style="top:210px;height:11px;background:linear-gradient(90deg,#ffb779 0px,#ffbb7c 34px,#ffcf8e 61px,#ffdc9a 71px,#ffeebb 87px,#fbfffb 123px,#c7fcff 142px,#84f2ff 161px,#00dcfc 189px,#00c9f9 196px,#0060ff 238px,#0030ff 266px,#0f0ff1 305px,#1407ea 344px,#1208ee 492px,#0a19f5 525px,#0030ff 549px,#0054ff 571px,#00dcfc 626px,#84f2ff 654px,#c7fcff 673px,#fbfffb 692px,#ffeebb 728px,#ffdc9a 744px,#ffcf8e 754px,#ffbb7c 781px,#ffb779 815px)"></i><i style="top:220px;height:11px;background:linear-gradient(90deg,#ffb779 0px,#ffbb7c 34px,#ffcf8e 61px,#ffdc9a 71px,#ffeebc 87px,#fbfffa 122px,#c6fcff 141px,#85f2ff 159px,#01dcfc 186px,#00c2f8 196px,#005eff 234px,#0623fa 268px,#1208ee 299px,#1a04df 357px,#1a05e0 465px,#1208ee 516px,#0f0ff1 526px,#022cfd 554px,#004cff 572px,#00dafc 628px,#85f2ff 656px,#c6fcff 674px,#fbfffa 693px,#ffeebc 728px,#ffdc9a 744px,#ffcf8e 754px,#ffbb7c 781px,#ffb779 815px)"></i><i style="top:230px;height:11px;background:linear-gradient(90deg,#ffb779 0px,#ffbb7c 34px,#ffcf8e 61px,#ffdc9a 71px,#ffeebc 87px,#fbfffb 122px,#c7fcff 140px,#85f2ff 158px,#00dcfc 185px,#00bef9 196px,#0051ff 238px,#0030ff 255px,#0a19f5 273px,#1208ee 292px,#1905e0 325px,#1c03da 367px,#1b04dc 471px,#100cf0 528px,#0329fc 555px,#0048ff 573px,#00dcfc 630px,#85f2ff 657px,#c7fcff 675px,#fbfffb 693px,#ffeebc 728px,#ffdc9a 744px,#ffcf8e 754px,#ffbb7c 781px,#ffb779 815px)"></i><i style="top:240px;height:11px;background:linear-gradient(90deg,#ffb779 0px,#ffbb7c 34px,#ffcf8e 61px,#ffdc9b 71px,#ffeebc 87px,#fafffb 122px,#c6fcff 140px,#83f2ff 158px,#03ddfc 184px,#00bdf9 196px,#0050ff 238px,#0030ff 255px,#0a19f5 273px,#1208ee 292px,#1a05e0 326px,#1d03da 370px,#1b04dc 472px,#100df0 529px,#032afc 556px,#0048ff 573px,#006cff 589px,#00dbfc 630px,#83f2ff 657px,#c6fcff 675px,#fafffb 693px,#ffeebc 728px,#ffdc9b 744px,#ffcf8e 754px,#ffbb7c 781px,#ffb779 815px)"></i><i style="top:250px;height:11px;background:linear-gradient(90deg,#ffb779 0px,#ffbb7c 34px,#ffcf8e 61px,#ffdc9b 71px,#ffeebb 86px,#fbfffa 121px,#c8fcff 139px,#85f2ff 157px,#01dcfc 184px,#00bcf9 196px,#0050ff 238px,#002fff 255px,#0b18f5 274px,#1208ee 292px,#1a05df 327px,#1d03da 373px,#1b04dd 473px,#100cf0 529px,#032afc 556px,#0049ff 574px,#00dafc 630px,#85f2ff 658px,#c8fcff 676px,#fbfffa 694px,#ffeebb 729px,#ffdc9b 744px,#ffcf8e 754px,#ffbb7c 781px,#ffb779 815px)"></i><i style="top:260px;height:11px;background:linear-gradient(90deg,#ffb779 0px,#ffbb7c 34px,#ffcf8e 61px,#ffdd9b 71px,#ffeebb 86px,#fbfffb 121px,#c7fcff 139px,#84f2ff 157px,#00dbfc 184px,#00bbf9 196px,#004bff 240px,#0030ff 254px,#0c15f4 276px,#1208ee 292px,#1a04df 328px,#1d03da 377px,#1b04dd 474px,#0f0ef1 531px,#022cfd 558px,#004bff 575px,#00dbfc 631px,#84f2ff 658px,#c7fcff 676px,#fbfffb 694px,#ffeebb 729px,#ffdd9b 744px,#ffcf8e 754px,#ffbb7c 781px,#ffb779 815px)"></i><i style="top:270px;height:11px;background:linear-gradient(90deg,#ffb779 0px,#ffbb7c 33px,#ffce8d 60px,#ffdd9b 71px,#ffeebb 86px,#fbfffb 121px,#c9fcff 138px,#86f2ff 156px,#02dcfc 183px,#00baf9 196px,#004aff 240px,#0030ff 254px,#0d14f3 277px,#1208ee 292px,#1a04df 330px,#1d03da 382px,#1b04dd 475px,#1208ee 523px,#0f0ff1 532px,#012dfe 559px,#004cff 576px,#00dafc 631px,#86f2ff 659px,#c9fcff 677px,#fbfffb 694px,#ffeebb 729px,#ffdd9b 744px,#ffce8d 755px,#ffbb7c 782px,#ffb779 815px)"></i><i style="top:280px;height:11px;background:linear-gradient(90deg,#ffb779 0px,#ffbb7c 33px,#ffce8d 60px,#ffdd9c 71px,#ffeebb 86px,#fafffb 121px,#c8fcff 138px,#85f2ff 156px,#00dcfc 183px,#00b9fa 196px,#0048ff 241px,#012efe 255px,#0d12f2 279px,#1307ec 295px,#1a04de 333px,#1d03da 389px,#1b04dd 477px,#1208ed 523px,#0f0ff1 533px,#012efe 560px,#004cff 576px,#00dcfc 632px,#85f2ff 659px,#c8fcff 677px,#fafffb 694px,#ffeebb 729px,#ffdd9c 744px,#ffce8d 755px,#ffbb7c 782px,#ffb779 815px)"></i><i style="top:290px;height:11px;background:linear-gradient(90deg,#ffb779 0px,#ffbb7c 33px,#ffcf8e 60px,#ffdc9a 70px,#ffeebc 86px,#fbfffa 120px,#c7fcff 138px,#83f2ff 156px,#00dbfc 183px,#00b8fa 196px,#0045ff 242px,#022bfd 257px,#0e10f1 281px,#1208ee 291px,#1a04de 332px,#1d03da 398px,#1b04dd 479px,#1208ee 524px,#0e11f2 535px,#002fff 561px,#004fff 578px,#00dbfc 632px,#83f2ff 659px,#c7fcff 677px,#fbfffa 695px,#ffeebc 729px,#ffdc9a 745px,#ffcf8e 755px,#ffbb7c 782px,#ffb779 815px)"></i><i style="top:300px;height:11px;background:linear-gradient(90deg,#ffb779 0px,#ffbb7c 33px,#ffcf8e 60px,#ffdc9a 70px,#ffeebc 86px,#fbfffb 120px,#c9fcff 137px,#85f2ff 155px,#01dcfc 182px,#00b7fa 196px,#0060ff 229px,#0039ff 248px,#081ef7 267px,#1208ee 291px,#1905e0 323px,#1c03da 365px,#1c03db 454px,#1805e3 501px,#1209ee 525px,#0030ff 562px,#0060ff 586px,#00dafc 632px,#85f2ff 660px,#c9fcff 678px,#fbfffb 695px,#ffeebc 729px,#ffdc9a 745px,#ffcf8e 755px,#ffbb7c 782px,#ffb779 815px)"></i><i style="top:310px;height:11px;background:linear-gradient(90deg,#ffb779 0px,#ffbb7c 33px,#ffcf8e 60px,#ffdc9b 70px,#ffeebb 85px,#fbfffa 119px,#c7fcff 137px,#86f2ff 154px,#02dcfc 181px,#00b5fa 196px,#0061ff 228px,#003aff 247px,#081ff8 266px,#1208ee 290px,#1905e0 324px,#1c03da 367px,#1c03db 457px,#1706e4 504px,#1208ee 525px,#0031ff 563px,#0061ff 587px,#00dafc 633px,#86f2ff 661px,#c7fcff 678px,#fafffb 695px,#ffeebb 730px,#ffdc9b 745px,#ffcf8e 755px,#ffbb7c 782px,#ffb779 815px)"></i><i style="top:320px;height:11px;background:linear-gradient(90deg,#ffb87a 0px,#ffbc7d 33px,#ffd08f 60px,#ffeebb 85px,#fbfffb 119px,#c8fcff 136px,#83f2ff 154px,#00dbfc 181px,#00b3fa 196px,#0060ff 228px,#0039ff 247px,#081ef7 267px,#1208ee 291px,#1905e0 325px,#1c03db 369px,#1c04db 459px,#1706e5 506px,#110aef 527px,#0031ff 563px,#0060ff 587px,#00dbfc 634px,#83f2ff 661px,#c8fcff 679px,#fbfffb 696px,#ffeebb 730px,#ffd08f 755px,#ffbc7d 782px,#ffb87a 815px)"></i><i style="top:330px;height:11px;background:linear-gradient(90deg,#ffc080 0px,#ffc483 36px,#ffd593 60px,#ffeebb 83px,#fbfffb 118px,#c6fcff 136px,#86f2ff 153px,#00dcfc 181px,#00b4fa 196px,#0060ff 229px,#0039ff 249px,#081ef7 270px,#1209ee 296px,#1a04de 379px,#1a05df 462px,#1507e9 507px,#0d13f3 533px,#0036ff 564px,#0065ff 588px,#00dcfc 634px,#86f2ff 662px,#c6fcff 679px,#fbfffb 697px,#ffeebb 732px,#ffd593 755px,#ffc483 779px,#ffc080 815px)"></i><i style="top:340px;height:11px;background:linear-gradient(90deg,#ffc585 0px,#ffc988 36px,#ffda98 60px,#fffbd8 100px,#fffff0 109px,#fbfffa 117px,#c8fcff 135px,#85f2ff 153px,#00dcfc 181px,#00b5fa 196px,#0063ff 229px,#0040ff 247px,#0525fb 266px,#0f0ef1 293px,#1805e3 357px,#1706e4 469px,#1208ee 511px,#0030ff 558px,#0061ff 585px,#00dcfc 634px,#85f2ff 662px,#c8fcff 680px,#fbfffa 698px,#fffff0 706px,#fffbd8 715px,#ffda98 755px,#ffc988 779px,#ffc585 815px)"></i><i style="top:350px;height:11px;background:linear-gradient(90deg,#ffcb8a 0px,#ffce8d 34px,#ffdc9a 57px,#fffbd9 99px,#fffff0 108px,#fbfffa 116px,#c9fcff 134px,#84f2ff 153px,#00dcfc 181px,#00b6fa 196px,#0068ff 228px,#0044ff 247px,#032afc 265px,#0d12f2 293px,#1308ed 319px,#1606e6 377px,#1507e8 476px,#0f0ef1 515px,#0031ff 556px,#0061ff 584px,#00dcfc 634px,#84f2ff 662px,#c9fcff 681px,#fbfffa 699px,#fffff0 707px,#fffbd9 716px,#ffdc9a 758px,#ffce8d 781px,#ffcb8a 815px)"></i><i style="top:360px;height:11px;background:linear-gradient(90deg,#ffd08f 0px,#ffd392 32px,#ffdd9c 53px,#fffbd8 97px,#fffff0 107px,#fafffb 116px,#c8fcff 134px,#84f2ff 153px,#03ddfc 181px,#00b8fa 196px,#006cff 228px,#004aff 246px,#0030ff 264px,#0b18f5 292px,#1208ee 335px,#1208ee 479px,#0b17f4 521px,#0035ff 555px,#0066ff 584px,#00dbfc 633px,#84f2ff 662px,#c8fcff 681px,#fafffb 699px,#fffff0 708px,#fffbd8 718px,#ffdd9c 762px,#ffd392 783px,#ffd08f 815px)"></i><i style="top:370px;height:11px;background:linear-gradient(90deg,#ffd694 0px,#ffd997 33px,#ffe0a2 53px,#fffbd7 95px,#ffffef 105px,#fbfffb 115px,#c7fcff 134px,#84f2ff 153px,#02dcfc 182px,#00bbf9 196px,#0059ff 241px,#0036ff 265px,#0624fa 285px,#0f0ef1 341px,#100cf0 445px,#0c16f4 503px,#0031ff 546px,#0064ff 580px,#00dbfc 632px,#84f2ff 662px,#c7fcff 681px,#fbfffb 700px,#ffffef 710px,#fffbd7 720px,#ffe0a2 762px,#ffd997 782px,#ffd694 815px)"></i><i style="top:380px;height:11px;background:linear-gradient(90deg,#ffdc9b 0px,#ffde9d 31px,#ffe4a8 52px,#fffad5 92px,#ffffef 104px,#fbfffb 114px,#c7fcff 134px,#84f2ff 154px,#02ddfc 184px,#00c1f8 196px,#0060ff 243px,#002fff 284px,#0a1af6 341px,#0b18f5 445px,#0622f9 504px,#003bff 544px,#006bff 578px,#00dbfc 630px,#84f2ff 661px,#c7fcff 681px,#fbfffb 701px,#ffffef 711px,#fffad5 723px,#ffe4a8 763px,#ffde9d 784px,#ffdc9b 815px)"></i><i style="top:390px;height:11px;background:linear-gradient(90deg,#ffe1a3 0px,#ffe2a5 31px,#ffe8b0 52px,#fffad5 90px,#ffffef 103px,#fbfffb 114px,#c8fcff 135px,#86f2ff 156px,#03ddfc 189px,#00cffa 196px,#006fff 248px,#0044ff 290px,#0030ff 343px,#012efe 438px,#0036ff 498px,#0051ff 542px,#007dff 576px,#00dbfc 625px,#86f2ff 659px,#c8fcff 680px,#fbfffb 701px,#ffffef 712px,#fffad5 725px,#ffe8b0 763px,#ffe2a5 784px,#ffe1a3 815px)"></i><i style="top:400px;height:11px;background:linear-gradient(90deg,#ffe5aa 0px,#ffe7ae 36px,#fff0c0 65px,#fffbd8 90px,#ffffef 102px,#fafffb 114px,#c8fcff 136px,#84f2ff 159px,#00d9fc 196px,#0086ff 245px,#005cff 284px,#0048ff 334px,#0043ff 413px,#0049ff 486px,#005eff 534px,#0088ff 571px,#00dbfc 620px,#84f2ff 656px,#c8fcff 679px,#fafffb 701px,#ffffef 713px,#fffbd8 725px,#fff0c0 750px,#ffe7ae 779px,#ffe5aa 815px)"></i><i style="top:410px;height:11px;background:linear-gradient(90deg,#ffe9b2 0px,#ffebb6 33px,#fff2c4 64px,#fffbd8 88px,#fffff0 101px,#fbfffb 113px,#c8fcff 137px,#84f2ff 162px,#02dcfc 200px,#00b5fa 224px,#007fff 268px,#0063ff 311px,#0059ff 366px,#005aff 463px,#0063ff 505px,#0079ff 541px,#00a2fd 578px,#00dbfc 614px,#84f2ff 653px,#c8fcff 678px,#fbfffb 702px,#fffff0 714px,#fffbd8 727px,#fff2c4 751px,#ffebb6 782px,#ffe9b2 815px)"></i><i style="top:420px;height:11px;background:linear-gradient(90deg,#ffeebb 0px,#fff3c7 62px,#fffbd8 85px,#ffffef 99px,#fafffb 113px,#c9fcff 138px,#85f2ff 165px,#00dcfc 208px,#00c4f8 224px,#0097ff 263px,#007aff 309px,#0070ff 361px,#0070ff 450px,#0077ff 497px,#0089ff 534px,#00aafc 571px,#00dcfc 607px,#85f2ff 650px,#c9fcff 677px,#fafffb 702px,#ffffef 716px,#fffbd8 730px,#fff3c7 753px,#ffeebb 815px)"></i><i style="top:430px;height:11px;background:linear-gradient(90deg,#fff0c0 0px,#fff5cb 62px,#fffbd8 81px,#ffffef 97px,#fafffb 112px,#c9fcff 139px,#84f2ff 168px,#00dcfc 214px,#00cefa 224px,#00a4fd 264px,#008bff 307px,#0081ff 356px,#0080ff 438px,#0086ff 491px,#0096ff 531px,#00b1fb 566px,#00dcfc 601px,#84f2ff 647px,#c9fcff 676px,#fafffb 703px,#ffffef 718px,#fffbd8 734px,#fff5cb 753px,#fff0c0 815px)"></i><i style="top:440px;height:11px;background:linear-gradient(90deg,#fff3c5 0px,#fff7d0 62px,#fafffb 111px,#c9fcff 140px,#84f2ff 171px,#02dcfc 220px,#00d8fb 224px,#00b3fb 261px,#009dfe 300px,#0092ff 348px,#0090ff 418px,#0093ff 477px,#009ffd 521px,#00b6fa 558px,#00dcfc 594px,#84f2ff 644px,#c9fcff 675px,#fafffb 704px,#fff7d0 753px,#fff3c5 815px)"></i><i style="top:450px;height:11px;background:linear-gradient(90deg,#fff5cb 0px,#fff9d4 62px,#fafffb 109px,#c7fcff 141px,#85f2ff 173px,#00dcfc 229px,#00b0fb 287px,#00a0fd 358px,#00a2fd 481px,#00b4fa 537px,#00dcfc 586px,#85f2ff 642px,#c7fcff 674px,#fafffb 706px,#fff9d4 753px,#fff5cb 815px)"></i><i style="top:460px;height:11px;background:linear-gradient(90deg,#fff7cf 0px,#fffbd8 60px,#fbfffb 106px,#c7fcff 141px,#00dcfc 237px,#00bbf9 287px,#00acfb 356px,#00aefb 474px,#00bcf9 530px,#00dcfc 578px,#c7fcff 674px,#fbfffb 709px,#fffbd8 755px,#fff7cf 815px)"></i><i style="top:470px;height:11px;background:linear-gradient(90deg,#fff9d4 0px,#fffbd8 48px,#fbfffb 104px,#c8fcff 141px,#00dcfc 248px,#00c6f8 287px,#00b9fa 352px,#00b9fa 462px,#00c3f8 520px,#00dcfc 567px,#c8fcff 674px,#fbfffb 711px,#fffbd8 767px,#fff9d4 815px)"></i><i style="top:480px;height:11px;background:linear-gradient(90deg,#fffbd8 0px,#fffcde 46px,#fbfffb 101px,#c7fcff 142px,#12e0fd 249px,#00dcfc 264px,#00d2fa 287px,#00c5f8 347px,#00c4f8 443px,#00cbf9 504px,#00dcfc 551px,#40e8ff 596px,#c7fcff 673px,#fbfffb 714px,#fffcde 769px,#fffbd8 815px)"></i><i style="top:490px;height:11px;background:linear-gradient(90deg,#fffcde 0px,#fffde3 42px,#fbfffb 98px,#c8fcff 142px,#4beaff 221px,#15e0fd 264px,#00dcfc 290px,#00d1fa 349px,#00d0fa 457px,#01dcfc 526px,#17e1fd 553px,#3be8ff 583px,#c8fcff 673px,#fbfffb 717px,#fffde3 773px,#fffcde 815px)"></i><i style="top:500px;height:11px;background:linear-gradient(90deg,#fffde3 0px,#fffee7 39px,#fbfffb 96px,#c8fcff 145px,#51ebff 232px,#2be5ff 273px,#10dffd 328px,#07defc 407px,#0fdffd 486px,#2be5ff 542px,#51ebff 583px,#c8fcff 670px,#fbfffb 719px,#fffee7 776px,#fffde3 815px)"></i><i style="top:510px;height:11px;background:linear-gradient(90deg,#fffee7 0px,#fbfffb 95px,#c8fcff 150px,#69eeff 233px,#4deaff 267px,#34e7ff 325px,#2ce5ff 407px,#34e7ff 490px,#4deaff 548px,#69eeff 582px,#c8fcff 665px,#fbfffb 720px,#fffee7 815px)"></i><i style="top:520px;height:11px;background:linear-gradient(90deg,#fffeeb 0px,#fbfffb 93px,#c8fcff 157px,#92f4ff 213px,#68eeff 269px,#53ebff 328px,#4ceaff 407px,#53ebff 487px,#68eeff 546px,#92f4ff 602px,#c8fcff 658px,#fbfffb 722px,#fffeeb 815px)"></i><i style="top:530px;height:11px;background:linear-gradient(90deg,#ffffef 0px,#fbfffb 88px,#95f5ff 214px,#71efff 269px,#5decff 328px,#56ebff 407px,#5decff 486px,#71efff 545px,#95f5ff 601px,#fbfffb 727px,#ffffef 815px)"></i><i style="top:540px;height:11px;background:linear-gradient(90deg,#fffff0 0px,#fbfffb 86px,#99f5ff 212px,#77f0ff 268px,#63edff 329px,#5cecff 407px,#61edff 476px,#70efff 531px,#96f5ff 599px,#fbfffb 729px,#fffff0 815px)"></i><i style="top:550px;height:11px;background:linear-gradient(90deg,#fffff0 0px,#fbfffb 84px,#9af5ff 214px,#75f0ff 283px,#67eeff 338px,#62edff 407px,#67eeff 476px,#75f0ff 532px,#9af5ff 601px,#fbfffb 731px,#fffff0 815px)"></i><i style="top:560px;height:11px;background:linear-gradient(90deg,#fffff1 0px,#fbfffb 82px,#9df6ff 212px,#7bf1ff 282px,#6defff 338px,#68eeff 407px,#6cefff 476px,#7bf1ff 533px,#9df6ff 603px,#fbfffb 733px,#fffff1 815px)"></i><i style="top:570px;height:11px;background:linear-gradient(90deg,#fffff1 0px,#fbfffb 80px,#a0f6ff 211px,#80f1ff 281px,#72efff 338px,#6eefff 407px,#72efff 476px,#80f1ff 533px,#a0f6ff 604px,#fbfffb 735px,#fffff1 815px)"></i><i style="top:580px;height:11px;background:linear-gradient(90deg,#fffff1 0px,#fbfffb 78px,#a7f7ff 204px,#8af3ff 264px,#79f0ff 332px,#73f0ff 407px,#79f0ff 483px,#8af3ff 551px,#a7f7ff 611px,#fbfffb 737px,#fffff1 815px)"></i><i style="top:590px;height:11px;background:linear-gradient(90deg,#fffff1 0px,#fbfffb 77px,#acf8ff 202px,#91f4ff 264px,#81f2ff 337px,#7cf1ff 407px,#81f2ff 478px,#91f4ff 551px,#acf8ff 613px,#fbfffb 738px,#fffff1 815px)"></i><i style="top:600px;height:11px;background:linear-gradient(90deg,#fffff1 0px,#fbfffb 77px,#b0f9ff 203px,#96f5ff 266px,#89f3ff 330px,#85f2ff 407px,#89f3ff 484px,#96f5ff 549px,#b0f9ff 612px,#fbfffb 738px,#fffff1 815px)"></i><i style="top:610px;height:11px;background:linear-gradient(90deg,#fefff1 0px,#fbfffb 78px,#b5f9ff 203px,#9df6ff 267px,#8cf3ff 407px,#9df6ff 548px,#b5f9ff 612px,#fbfffb 737px,#fefff1 815px)"></i><i style="top:620px;height:11px;background:linear-gradient(90deg,#fefff2 0px,#fbfffb 79px,#bafaff 204px,#a3f7ff 268px,#93f4ff 407px,#a3f7ff 547px,#bafaff 611px,#fbfffb 736px,#fefff2 815px)"></i><i style="top:630px;height:11px;background:linear-gradient(90deg,#fefff2 0px,#fbfffb 80px,#d3fdfe 158px,#a9f7ff 270px,#9af5ff 407px,#a9f7ff 545px,#d3fdfe 657px,#fbfffb 735px,#fefff2 815px)"></i><i style="top:640px;height:11px;background:linear-gradient(90deg,#fefff2 0px,#fbfffb 81px,#d5fdfe 160px,#aff8ff 272px,#a1f6ff 407px,#aef8ff 542px,#d5fdfe 655px,#fbfffb 734px,#fefff2 815px)"></i><i style="top:650px;height:11px;background:linear-gradient(90deg,#fefff2 0px,#fbfffb 82px,#d6fdfe 162px,#b3f9ff 275px,#a6f7ff 407px,#b3f9ff 540px,#d6fdfe 653px,#fbfffb 733px,#fefff2 815px)"></i><i style="top:660px;height:11px;background:linear-gradient(90deg,#fefff2 0px,#fbfffb 83px,#d8fdfe 165px,#b8faff 277px,#acf8ff 407px,#b8faff 537px,#d8fdfe 650px,#fbfffb 732px,#fefff2 815px)"></i><i style="top:670px;height:11px;background:linear-gradient(90deg,#fefff2 0px,#fbfffb 85px,#dbfdfd 162px,#c2fbff 260px,#b2f9ff 407px,#bdfaff 534px,#d9fdfe 647px,#fbfffb 730px,#fefff2 815px)"></i><i style="top:680px;height:11px;background:linear-gradient(90deg,#fefff2 0px,#fbfffb 87px,#cefcff 226px,#bdfaff 319px,#b8faff 407px,#bdfaff 495px,#cdfcff 588px,#fbfffb 728px,#fefff2 815px)"></i><i style="top:690px;height:11px;background:linear-gradient(90deg,#fefff2 0px,#fbfffb 89px,#d0fcfe 230px,#befbff 407px,#d0fcfe 584px,#fbfffb 726px,#fefff2 815px)"></i><i style="top:700px;height:11px;background:linear-gradient(90deg,#fefff2 0px,#fbfffb 91px,#d3fdfe 233px,#c2fbff 407px,#d2fdfe 581px,#fbfffb 724px,#fefff2 815px)"></i><i style="top:710px;height:11px;background:linear-gradient(90deg,#fefff2 0px,#fbfffb 91px,#d3fdfe 234px,#c4fbff 407px,#d3fdfe 580px,#fbfffb 724px,#fefff2 815px)"></i><i style="top:720px;height:11px;background:linear-gradient(90deg,#fefff2 0px,#fbfffb 91px,#e3fefd 166px,#d0fcfe 263px,#c6fcff 407px,#d0fcfe 551px,#e3fefd 649px,#fbfffb 724px,#fefff2 815px)"></i><i style="top:730px;height:11px;background:linear-gradient(90deg,#fefff2 0px,#fbfffb 91px,#e3fefd 166px,#d1fdfe 265px,#c8fcff 407px,#d1fdfe 550px,#e3fefd 649px,#fbfffb 724px,#fefff2 815px)"></i><i style="top:740px;height:11px;background:linear-gradient(90deg,#fefff2 0px,#fbfffb 91px,#e4fefd 166px,#d1fdfe 265px,#c8fcff 407px,#d1fdfe 549px,#e3fefd 648px,#fbfffb 724px,#fefff2 815px)"></i></div></div>
<div class="fw" style="left:1165.0px;top:903.0px;width:792px;height:727px"><div class="fb" style="top:-12px;height:751px;filter:blur(4.0px)"><i style="top:0px;height:11px;background:linear-gradient(90deg,#b1f9ff 0px,#b3f9ff 50px,#dafdfe 115px,#d3fdfe 144px,#befbff 162px,#84f2ff 191px,#00dcfc 239px,#00b7fa 272px,#00a1fd 307px,#0097ff 347px,#0094ff 407px,#0097ff 468px,#00a1fd 508px,#00b7fa 543px,#00dcfc 576px,#84f2ff 624px,#befbff 653px,#d3fdfe 671px,#dafdfe 700px,#b3f9ff 765px,#b1f9ff 815px)"></i><i style="top:10px;height:11px;background:linear-gradient(90deg,#b1f9ff 0px,#b3f9ff 50px,#dafdfe 114px,#d3fdfe 143px,#bffbff 161px,#84f2ff 190px,#00dbfc 237px,#00b5fa 271px,#009efe 306px,#0093ff 348px,#0090ff 407px,#0093ff 467px,#009efe 509px,#00b5fa 544px,#00dbfc 578px,#84f2ff 625px,#bffbff 654px,#d3fdfe 672px,#dafdfe 701px,#b3f9ff 765px,#b1f9ff 815px)"></i><i style="top:20px;height:11px;background:linear-gradient(90deg,#b1f9ff 0px,#b3f9ff 50px,#d9fdfe 113px,#d2fdfe 142px,#bcfaff 160px,#86f2ff 186px,#00dbfc 231px,#00acfb 268px,#0092ff 305px,#0085ff 345px,#0082ff 407px,#0085ff 469px,#0091ff 509px,#00acfb 547px,#00dbfc 584px,#86f2ff 629px,#bcfaff 655px,#d2fdfe 673px,#d9fdfe 702px,#b3f9ff 765px,#b1f9ff 815px)"></i><i style="top:30px;height:11px;background:linear-gradient(90deg,#b1f9ff 0px,#b2f9ff 46px,#d2fdfe 102px,#d3fdfe 127px,#c2fbff 146px,#8ff4ff 170px,#53ebff 188px,#00dbfc 209px,#0083ff 256px,#0059ff 291px,#0044ff 336px,#003eff 407px,#0044ff 479px,#0059ff 524px,#0083ff 559px,#00dbfc 606px,#53ebff 627px,#8ff4ff 645px,#c2fbff 669px,#d3fdfe 688px,#d2fdfe 713px,#b2f9ff 769px,#b1f9ff 815px)"></i><i style="top:40px;height:11px;background:linear-gradient(90deg,#b1f9ff 0px,#b2f9ff 46px,#d2fdfe 102px,#d3fdfe 127px,#c3fbff 145px,#90f4ff 169px,#5decff 185px,#00dbfc 209px,#0083ff 256px,#0059ff 291px,#0044ff 336px,#003eff 407px,#0044ff 479px,#0059ff 524px,#0083ff 559px,#00dbfc 606px,#5decff 630px,#90f4ff 646px,#c3fbff 670px,#d3fdfe 688px,#d2fdfe 713px,#b2f9ff 769px,#b1f9ff 815px)"></i><i style="top:50px;height:11px;background:linear-gradient(90deg,#b1f9ff 0px,#b2f9ff 46px,#d2fdfe 101px,#d2fdfe 127px,#c0fbff 146px,#8df3ff 170px,#42e9ff 192px,#00dcfc 208px,#0084ff 255px,#0059ff 291px,#0044ff 336px,#003eff 407px,#0044ff 479px,#0059ff 524px,#0084ff 560px,#00dcfc 607px,#42e9ff 623px,#8df3ff 645px,#c0fbff 669px,#d2fdfe 688px,#d2fdfe 714px,#b2f9ff 769px,#b1f9ff 815px)"></i><i style="top:60px;height:11px;background:linear-gradient(90deg,#fffee8 0px,#fbfffb 104px,#ebfefc 120px,#c9fcff 145px,#93f4ff 167px,#5becff 184px,#00dbfc 207px,#00b8fa 224px,#006dff 268px,#004aff 308px,#003cff 359px,#003cff 455px,#0046ff 500px,#0060ff 536px,#008aff 566px,#00dbfc 608px,#86f2ff 643px,#c7fcff 669px,#e5fefd 690px,#fbfffb 711px,#fffee8 815px)"></i><i style="top:70px;height:11px;background:linear-gradient(90deg,#fff0c0 0px,#fff5cb 65px,#fffbd8 85px,#fffff0 102px,#fbfffb 117px,#c8fcff 144px,#86f2ff 167px,#33e6ff 188px,#00dcfc 199px,#00a1fd 224px,#0057ff 262px,#022cfd 304px,#081df7 361px,#081ff8 470px,#012efe 515px,#004cff 545px,#0078ff 572px,#00dcfc 616px,#33e6ff 627px,#86f2ff 648px,#c8fcff 671px,#fbfffb 698px,#fffff0 713px,#fffbd8 730px,#fff5cb 750px,#fff0c0 815px)"></i><i style="top:80px;height:11px;background:linear-gradient(90deg,#ffefbd 0px,#fff4c8 64px,#fffbd8 87px,#fffff0 103px,#fafffb 118px,#c8fcff 144px,#85f2ff 167px,#32e6ff 188px,#02dcfc 198px,#00a1fd 224px,#0056ff 262px,#022cfd 304px,#081df7 361px,#081ff8 470px,#012efe 515px,#004bff 545px,#0078ff 572px,#00dbfc 616px,#85f2ff 648px,#c8fcff 671px,#fafffb 697px,#fffff0 712px,#fffbd8 728px,#fff4c8 751px,#ffefbd 815px)"></i><i style="top:90px;height:11px;background:linear-gradient(90deg,#ffecb8 0px,#fff3c5 65px,#fffbd7 89px,#ffffef 104px,#fbfffb 118px,#c7fcff 144px,#84f2ff 167px,#30e6ff 188px,#01dcfc 198px,#00a0fd 224px,#0056ff 262px,#022cfd 304px,#081df7 361px,#081ff8 470px,#012efe 515px,#004bff 545px,#0077ff 572px,#00dafc 616px,#84f2ff 648px,#c7fcff 671px,#fbfffb 697px,#ffffef 711px,#fffbd7 726px,#fff3c5 750px,#ffecb8 815px)"></i><i style="top:100px;height:11px;background:linear-gradient(90deg,#ffe9b2 0px,#ffebb5 34px,#fff2c3 66px,#fffbd7 91px,#fffff0 106px,#fafffb 119px,#c7fcff 144px,#86f2ff 166px,#00dbfc 198px,#009ffd 224px,#0056ff 262px,#022cfd 304px,#081df7 361px,#081ff8 471px,#012ffe 516px,#004cff 546px,#0079ff 573px,#00dbfc 617px,#86f2ff 649px,#c7fcff 671px,#fafffb 696px,#fffff0 709px,#fffbd7 724px,#fff2c3 749px,#ffebb5 781px,#ffe9b2 815px)"></i><i style="top:110px;height:11px;background:linear-gradient(90deg,#ffe6ad 0px,#ffe8b0 36px,#fff1c1 67px,#fffbd8 93px,#fffff0 107px,#fbfffb 119px,#c7fcff 144px,#85f2ff 166px,#31e6ff 187px,#02dcfc 197px,#009ffd 224px,#0055ff 262px,#022cfd 304px,#081df7 361px,#081ff8 471px,#012efe 516px,#004cff 546px,#0078ff 573px,#00dbfc 617px,#85f2ff 649px,#c7fcff 671px,#fbfffb 696px,#fffff0 708px,#fffbd8 722px,#fff1c1 748px,#ffe8b0 779px,#ffe6ad 815px)"></i><i style="top:120px;height:11px;background:linear-gradient(90deg,#ffe4a9 0px,#ffeab4 52px,#fff9d4 91px,#fffff0 107px,#fbfffb 119px,#c9fcff 143px,#84f2ff 166px,#30e6ff 187px,#00dcfc 197px,#009efe 224px,#0055ff 262px,#022cfd 304px,#081df7 361px,#081ff8 471px,#012efe 516px,#004bff 546px,#0078ff 573px,#00dafc 617px,#84f2ff 649px,#c9fcff 672px,#fbfffb 696px,#fffff0 708px,#fff9d4 724px,#ffeab4 763px,#ffe4a9 815px)"></i><i style="top:130px;height:11px;background:linear-gradient(90deg,#ffe3a7 0px,#ffe9b2 52px,#fff9d4 91px,#ffffef 107px,#fbfffb 119px,#c8fcff 143px,#86f2ff 165px,#00dbfc 197px,#0066ff 251px,#0035ff 290px,#0720f8 338px,#091cf7 423px,#0623fa 490px,#003bff 532px,#006bff 567px,#00dbfc 618px,#86f2ff 650px,#c8fcff 672px,#fbfffb 696px,#ffffef 708px,#fff9d4 724px,#ffe9b2 763px,#ffe3a7 815px)"></i><i style="top:140px;height:11px;background:linear-gradient(90deg,#ffe2a5 0px,#ffe9b1 53px,#fffad5 93px,#fffff0 108px,#fbfffb 119px,#c8fcff 143px,#85f2ff 165px,#00dbfc 197px,#0065ff 251px,#0035ff 290px,#0720f8 338px,#091cf7 423px,#0623fa 490px,#003bff 532px,#006bff 567px,#00dbfc 618px,#85f2ff 650px,#c8fcff 672px,#fbfffb 696px,#fffff0 707px,#fffad5 722px,#ffe9b1 762px,#ffe2a5 815px)"></i><i style="top:150px;height:11px;background:linear-gradient(90deg,#ffe1a3 0px,#ffe8b0 53px,#fffad5 93px,#fffff0 108px,#fbfffb 119px,#c7fcff 143px,#84f2ff 165px,#00dafc 197px,#0065ff 251px,#0035ff 290px,#0720f8 338px,#091cf7 422px,#0623f9 489px,#003bff 532px,#006aff 567px,#00dcfc 619px,#84f2ff 650px,#c7fcff 672px,#fbfffb 696px,#fffff0 707px,#fffad5 722px,#ffe8b0 762px,#ffe1a3 815px)"></i><i style="top:160px;height:11px;background:linear-gradient(90deg,#ffe0a2 0px,#ffe2a4 32px,#ffe7ae 53px,#fffad6 94px,#fffff0 108px,#fbfffb 119px,#c8fcff 142px,#85f2ff 164px,#00dbfc 196px,#0065ff 250px,#0034ff 289px,#081ff8 337px,#0a1bf6 419px,#0721f9 488px,#0038ff 531px,#0069ff 567px,#00dbfc 619px,#85f2ff 651px,#c8fcff 673px,#fbfffb 696px,#fffff0 707px,#fffad6 721px,#ffe7ae 762px,#ffe2a4 783px,#ffe0a2 815px)"></i><i style="top:170px;height:11px;background:linear-gradient(90deg,#ffdfa0 0px,#ffe1a2 32px,#ffe6ad 53px,#fffad5 93px,#fffff0 107px,#fafffb 118px,#c6fcff 139px,#86f2ff 158px,#32e6ff 177px,#02dcfc 186px,#00c2f8 196px,#0062ff 232px,#003dff 250px,#081ff8 270px,#1208ee 295px,#1b04dc 358px,#1a05df 481px,#1208ee 520px,#0030ff 558px,#0060ff 582px,#00dafc 628px,#86f2ff 657px,#c6fcff 676px,#fafffb 697px,#fffff0 708px,#fffad5 722px,#ffe6ad 762px,#ffe1a2 783px,#ffdfa0 815px)"></i><i style="top:180px;height:11px;background:linear-gradient(90deg,#ffde9e 0px,#ffe0a1 32px,#ffe5ab 53px,#fffad5 93px,#fffff1 107px,#fbfffb 117px,#c8fcff 137px,#85f2ff 156px,#32e6ff 174px,#00dcfc 183px,#00b7fa 196px,#0062ff 226px,#003cff 242px,#1208ee 277px,#1d03d9 309px,#2301ce 347px,#2102d3 489px,#1208ee 538px,#0524fa 560px,#005fff 588px,#00dcfc 632px,#32e6ff 641px,#85f2ff 659px,#c8fcff 678px,#fbfffb 698px,#fffff1 708px,#fffad5 722px,#ffe5ab 762px,#ffe0a1 783px,#ffde9e 815px)"></i><i style="top:190px;height:11px;background:linear-gradient(90deg,#ffdd9c 0px,#ffdf9f 32px,#ffe4a9 53px,#fffad6 94px,#fffff0 107px,#fbfffb 117px,#c7fcff 137px,#84f2ff 156px,#00dbfc 183px,#00b6fa 196px,#0061ff 226px,#003bff 242px,#1208ee 277px,#1d03d8 309px,#2301ce 347px,#2102d3 489px,#1208ee 538px,#0524fa 560px,#005eff 588px,#00dbfc 632px,#84f2ff 659px,#c7fcff 678px,#fbfffb 698px,#fffff0 708px,#fffad6 721px,#ffe4a9 762px,#ffdf9f 783px,#ffdd9c 815px)"></i><i style="top:200px;height:11px;background:linear-gradient(90deg,#ffdc9a 0px,#ffde9d 32px,#ffe4a8 53px,#fffad5 94px,#fffff0 107px,#fbfffb 117px,#c6fcff 137px,#86f2ff 155px,#33e6ff 173px,#01dcfc 182px,#00b5fa 196px,#0060ff 226px,#003dff 241px,#1208ee 276px,#1d03d9 308px,#2301cf 346px,#2102d2 489px,#1208ee 539px,#0624fa 560px,#0060ff 589px,#00dafc 632px,#86f2ff 660px,#c6fcff 678px,#fbfffb 698px,#fffff0 708px,#fffad5 721px,#ffe4a8 762px,#ffde9d 783px,#ffdc9a 815px)"></i><i style="top:210px;height:11px;background:linear-gradient(90deg,#ffdb99 0px,#ffdd9b 31px,#ffe3a6 53px,#fffad6 95px,#fffff0 107px,#fafffb 117px,#c9fcff 136px,#85f2ff 155px,#00dcfc 182px,#00b4fa 196px,#0062ff 225px,#003cff 241px,#1208ee 276px,#1d03d9 308px,#2301cf 346px,#2102d2 489px,#1208ee 539px,#0623fa 560px,#005fff 589px,#00dcfc 633px,#85f2ff 660px,#c9fcff 679px,#fafffb 698px,#fffff0 708px,#fffad6 720px,#ffe3a6 762px,#ffdd9b 784px,#ffdb99 815px)"></i><i style="top:220px;height:11px;background:linear-gradient(90deg,#ffd997 0px,#ffdc9a 33px,#ffe2a5 53px,#fffad6 95px,#fffff0 107px,#fafffb 117px,#c8fcff 136px,#84f2ff 155px,#03ddfc 181px,#00b3fa 196px,#0061ff 225px,#003cff 241px,#1208ee 276px,#1d03d9 308px,#2301cf 346px,#2102d2 489px,#1208ee 539px,#0623f9 560px,#005eff 589px,#00dbfc 633px,#84f2ff 660px,#c8fcff 679px,#fafffb 698px,#fffff0 708px,#fffad6 720px,#ffe2a5 762px,#ffdc9a 782px,#ffd997 815px)"></i><i style="top:230px;height:11px;background:linear-gradient(90deg,#ffd997 0px,#ffdc9a 34px,#ffe2a4 53px,#fffad6 95px,#fffff0 107px,#fafffb 117px,#c7fcff 136px,#86f2ff 154px,#32e6ff 172px,#01dcfc 181px,#00b2fb 196px,#0060ff 225px,#003bff 241px,#1208ee 276px,#1d03d9 308px,#2301cf 346px,#2102d2 489px,#1208ee 539px,#0622f9 560px,#0060ff 590px,#00dafc 633px,#86f2ff 661px,#c7fcff 679px,#fafffb 698px,#fffff0 708px,#fffad6 720px,#ffe2a4 762px,#ffdc9a 781px,#ffd997 815px)"></i><i style="top:240px;height:11px;background:linear-gradient(90deg,#ffda98 0px,#ffdc9a 32px,#ffe2a5 53px,#fffad6 95px,#fffff1 107px,#fbfffb 116px,#c9fcff 135px,#85f2ff 154px,#00dbfc 181px,#00b1fb 196px,#005fff 225px,#003bff 241px,#1208ee 276px,#1d03d9 308px,#2301ce 347px,#2002d3 491px,#1208ee 539px,#0525fa 562px,#005fff 590px,#00dbfc 634px,#85f2ff 661px,#c9fcff 680px,#fbfffb 699px,#fffff1 708px,#fffad6 720px,#ffe2a5 762px,#ffdc9a 783px,#ffda98 815px)"></i><i style="top:250px;height:11px;background:linear-gradient(90deg,#ffda98 0px,#ffdc9a 31px,#ffe2a6 53px,#fffad7 95px,#ffffef 106px,#fbfffb 116px,#c8fcff 135px,#83f2ff 154px,#02dcfc 180px,#00b0fb 196px,#0061ff 224px,#003aff 241px,#1208ee 275px,#1d03d9 308px,#2301ce 347px,#2400cc 440px,#2002d3 492px,#1208ee 540px,#0525fa 562px,#005fff 590px,#00dafc 634px,#83f2ff 661px,#c8fcff 680px,#fbfffb 699px,#ffffef 709px,#fffad7 720px,#ffe2a6 762px,#ffdc9a 784px,#ffda98 815px)"></i><i style="top:260px;height:11px;background:linear-gradient(90deg,#ffdb99 0px,#ffdd9b 31px,#ffe3a7 53px,#fffad6 94px,#fffff0 106px,#fafffb 116px,#c7fcff 135px,#86f2ff 153px,#32e6ff 171px,#00dcfc 180px,#00affb 196px,#0060ff 224px,#0039ff 241px,#1208ee 275px,#1d03d8 308px,#2301ce 348px,#2400cc 442px,#2002d4 494px,#1208ee 540px,#0427fb 564px,#0060ff 591px,#00dcfc 635px,#32e6ff 644px,#86f2ff 662px,#c7fcff 680px,#fafffb 699px,#fffff0 709px,#fffad6 721px,#ffe3a7 762px,#ffdd9b 784px,#ffdb99 815px)"></i><i style="top:270px;height:11px;background:linear-gradient(90deg,#ffdc9a 0px,#ffdd9c 31px,#ffe3a7 53px,#fffad6 94px,#fffff0 106px,#fbfffb 115px,#c9fcff 134px,#84f2ff 153px,#00dbfc 180px,#00aefb 196px,#0060ff 224px,#0039ff 241px,#1208ee 275px,#1d03d8 308px,#2301ce 348px,#2400cd 443px,#2002d4 495px,#1208ee 540px,#0427fb 564px,#0060ff 591px,#00dbfc 635px,#84f2ff 662px,#c9fcff 681px,#fbfffb 700px,#fffff0 709px,#fffad6 721px,#ffe3a7 762px,#ffdd9c 784px,#ffdc9a 815px)"></i><i style="top:280px;height:11px;background:linear-gradient(90deg,#ffdc9a 0px,#ffde9d 32px,#ffe4a8 53px,#fffad7 94px,#ffffef 105px,#fbfffb 115px,#c8fcff 134px,#87f2ff 152px,#33e6ff 170px,#02dcfc 179px,#00adfb 196px,#0062ff 223px,#0038ff 241px,#1208ee 275px,#1d03d8 308px,#2301ce 349px,#2400cd 445px,#1f02d5 497px,#1208ee 540px,#0428fc 565px,#005fff 591px,#00dafc 635px,#87f2ff 663px,#c8fcff 681px,#fbfffb 700px,#ffffef 710px,#fffad7 721px,#ffe4a8 762px,#ffde9d 783px,#ffdc9a 815px)"></i><i style="top:290px;height:11px;background:linear-gradient(90deg,#ffdd9b 0px,#ffde9e 32px,#ffe4a9 53px,#fffad6 93px,#fffff0 105px,#fafffb 115px,#c7fcff 134px,#85f2ff 152px,#00dcfc 179px,#00acfb 196px,#0061ff 223px,#003aff 240px,#1208ee 274px,#1e03d8 308px,#2301ce 349px,#2400cd 446px,#1f02d5 498px,#1208ee 541px,#0329fc 566px,#0061ff 592px,#00dcfc 636px,#85f2ff 663px,#c7fcff 681px,#fafffb 700px,#fffff0 710px,#fffad6 722px,#ffe4a9 762px,#ffde9e 783px,#ffdd9b 815px)"></i><i style="top:300px;height:11px;background:linear-gradient(90deg,#ffdd9c 0px,#ffdf9f 32px,#ffe5aa 53px,#fffad6 93px,#fffff0 105px,#fbfffb 114px,#c9fcff 133px,#84f2ff 152px,#03ddfc 178px,#00abfc 196px,#0060ff 223px,#0039ff 240px,#1208ee 274px,#1e03d8 308px,#2301ce 349px,#2400cd 447px,#1f02d5 499px,#1208ee 541px,#032afd 567px,#0060ff 592px,#00dbfc 636px,#84f2ff 663px,#c9fcff 682px,#fbfffb 701px,#fffff0 710px,#fffad6 722px,#ffe5aa 762px,#ffdf9f 783px,#ffdd9c 815px)"></i><i style="top:310px;height:11px;background:linear-gradient(90deg,#ffdd9d 0px,#ffdfa0 32px,#ffe5ab 53px,#fffad6 92px,#fffff0 104px,#fbfffb 114px,#c7fcff 133px,#85f2ff 151px,#00dbfc 178px,#00a9fc 196px,#0061ff 222px,#0038ff 240px,#1208ee 274px,#1e03d8 308px,#2300ce 350px,#2400cd 449px,#1f02d6 501px,#1208ee 541px,#012dfe 569px,#0061ff 593px,#00dbfc 637px,#85f2ff 664px,#c7fcff 682px,#fbfffb 701px,#fffff0 711px,#fffad6 723px,#ffe5ab 762px,#ffdfa0 783px,#ffdd9d 815px)"></i><i style="top:320px;height:11px;background:linear-gradient(90deg,#ffde9e 0px,#ffdfa0 31px,#ffe5ab 52px,#fffad5 91px,#fffff0 104px,#fbfffb 113px,#c8fcff 132px,#86f2ff 150px,#00dcfc 177px,#00a7fc 196px,#005fff 222px,#0039ff 239px,#1208ee 273px,#1e03d8 308px,#2300ce 350px,#2400cd 450px,#1f02d6 503px,#1208ee 542px,#012dfe 570px,#005fff 593px,#00dcfc 638px,#86f2ff 665px,#c8fcff 683px,#fbfffb 702px,#fffff0 711px,#fffad5 724px,#ffe5ab 763px,#ffdfa0 784px,#ffde9e 815px)"></i><i style="top:330px;height:11px;background:linear-gradient(90deg,#ffde9e 0px,#ffe0a1 31px,#ffe6ac 52px,#fff9d4 90px,#fffff0 103px,#fafffb 113px,#c9fcff 131px,#87f2ff 149px,#02dcfc 176px,#00a5fc 196px,#0060ff 221px,#0038ff 239px,#1208ee 273px,#1e03d8 308px,#2300ce 351px,#2300cd 452px,#1e03d7 505px,#1208ee 542px,#012efe 571px,#0060ff 594px,#00dafc 638px,#87f2ff 666px,#c9fcff 684px,#fafffb 702px,#fffff0 712px,#fff9d4 725px,#ffe6ac 763px,#ffe0a1 784px,#ffde9e 815px)"></i><i style="top:340px;height:11px;background:linear-gradient(90deg,#ffe0a2 0px,#ffe2a5 31px,#ffe8af 52px,#fffad5 89px,#fffff0 102px,#fafffb 112px,#c6fcff 131px,#84f2ff 149px,#03ddfc 175px,#00a3fd 196px,#0061ff 220px,#0037ff 239px,#1208ee 273px,#1e03d7 309px,#2300ce 353px,#2300cd 455px,#1e03d8 508px,#1208ee 543px,#002fff 572px,#0061ff 595px,#00dbfc 639px,#34e7ff 649px,#84f2ff 666px,#bffbff 682px,#fafffb 703px,#fffff0 713px,#fffad5 726px,#ffe8af 763px,#ffe2a5 784px,#ffe0a2 815px)"></i><i style="top:350px;height:11px;background:linear-gradient(90deg,#ffe4a8 0px,#ffeab4 51px,#fff9d4 86px,#fbfffa 110px,#c7fcff 130px,#84f2ff 148px,#00dbfc 175px,#00a2fd 196px,#0060ff 220px,#0036ff 239px,#1208ee 272px,#1e03d7 309px,#2300ce 355px,#2300cd 458px,#1d03da 512px,#1208ee 543px,#0030ff 573px,#0060ff 595px,#00dbfc 640px,#30e6ff 649px,#84f2ff 667px,#c7fcff 685px,#fbfffa 705px,#fff9d4 729px,#ffeab4 764px,#ffe4a8 815px)"></i><i style="top:360px;height:11px;background:linear-gradient(90deg,#ffe7ae 0px,#ffe9b1 34px,#fff1c2 64px,#fffbd7 87px,#fffff0 99px,#fbfffb 109px,#c7fcff 129px,#85f2ff 147px,#00dcfc 174px,#00a0fd 196px,#0061ff 219px,#0035ff 239px,#1208ee 272px,#1e03d7 310px,#2300cd 357px,#2300ce 461px,#1c04db 515px,#1209ee 544px,#012fff 573px,#0061ff 596px,#00dcfc 641px,#31e6ff 650px,#85f2ff 668px,#c3fbff 685px,#fbfffb 706px,#fffff0 716px,#fffbd7 728px,#fff1c2 751px,#ffe9b1 781px,#ffe7ae 815px)"></i><i style="top:370px;height:11px;background:linear-gradient(90deg,#ffeab3 0px,#ffebb6 32px,#fff2c4 63px,#fffbd8 85px,#ffffef 97px,#fbfffb 108px,#c7fcff 128px,#86f2ff 146px,#02dcfc 173px,#009efe 196px,#005fff 219px,#0035ff 238px,#1208ee 271px,#1e02d7 310px,#2300cd 359px,#2300ce 464px,#1b04dd 519px,#1208ee 544px,#0030ff 574px,#0062ff 597px,#00dafc 641px,#32e6ff 651px,#86f2ff 669px,#bcfaff 684px,#fbfffb 707px,#ffffef 718px,#fffbd8 730px,#fff2c4 752px,#ffebb6 783px,#ffeab3 815px)"></i><i style="top:380px;height:11px;background:linear-gradient(90deg,#ffedb9 0px,#fff3c6 61px,#fffbd7 82px,#fbfffa 106px,#c7fcff 127px,#86f2ff 145px,#00dbfc 173px,#009cfe 196px,#0060ff 218px,#0034ff 238px,#1208ee 271px,#1e02d6 310px,#2300cd 361px,#2301ce 467px,#1a04de 522px,#1209ee 545px,#0030ff 575px,#0060ff 597px,#00dbfc 642px,#33e6ff 652px,#82f2ff 669px,#c7fcff 688px,#fbfffa 709px,#fffbd7 733px,#fff3c6 754px,#ffedb9 815px)"></i><i style="top:390px;height:11px;background:linear-gradient(90deg,#ffefbe 0px,#fff4c9 61px,#fffbd8 80px,#fbfffb 105px,#c7fcff 126px,#87f2ff 144px,#00dbfc 172px,#009afe 196px,#005fff 218px,#0033ff 238px,#1208ed 271px,#1f02d6 311px,#2400cd 364px,#2301ce 470px,#1a05e0 525px,#1208ee 545px,#0030ff 575px,#0061ff 598px,#00dbfc 643px,#30e6ff 652px,#83f2ff 670px,#b9faff 685px,#fbfffb 710px,#fffbd8 735px,#fff4c9 754px,#ffefbe 815px)"></i><i style="top:400px;height:11px;background:linear-gradient(90deg,#fff1c1 0px,#fff6cc 61px,#fffbd8 77px,#fbfffb 104px,#c9fcff 126px,#85f2ff 146px,#00dcfc 175px,#00a7fc 196px,#0060ff 225px,#0035ff 248px,#1208ee 295px,#1905e1 339px,#1a04de 407px,#1905e1 476px,#1208ee 520px,#0721f9 551px,#0041ff 574px,#006bff 595px,#00dcfc 640px,#33e6ff 650px,#85f2ff 669px,#c5fcff 688px,#fbfffb 711px,#fffbd8 738px,#fff6cc 754px,#fff1c1 815px)"></i><i style="top:410px;height:11px;background:linear-gradient(90deg,#fff2c5 0px,#fff7d0 61px,#fbfffb 104px,#c9fcff 127px,#84f2ff 149px,#00dbfc 180px,#00b6fa 196px,#0057ff 242px,#0035ff 267px,#0524fa 288px,#0e11f2 348px,#0e10f2 463px,#091df7 514px,#003aff 552px,#006aff 584px,#00dbfc 635px,#84f2ff 666px,#c9fcff 688px,#fbfffb 711px,#fff7d0 754px,#fff2c5 815px)"></i><i style="top:420px;height:11px;background:linear-gradient(90deg,#fff4c9 0px,#fff9d3 61px,#fbfffb 103px,#c9fcff 128px,#85f2ff 151px,#01dcfc 184px,#00c3f8 196px,#0060ff 249px,#0034ff 295px,#0525fa 351px,#0525fa 460px,#0030ff 512px,#004dff 550px,#007aff 582px,#00dafc 630px,#85f2ff 664px,#c9fcff 687px,#fbfffb 712px,#fff9d3 754px,#fff4c9 815px)"></i><i style="top:430px;height:11px;background:linear-gradient(90deg,#fff6cd 0px,#fffad6 61px,#fafffb 103px,#c4fbff 131px,#84f2ff 154px,#03ddfc 189px,#00cffa 196px,#0079ff 247px,#0050ff 288px,#003dff 341px,#003aff 433px,#0042ff 496px,#005aff 541px,#0084ff 576px,#00dbfc 625px,#84f2ff 661px,#c9fcff 686px,#fafffb 712px,#fffad6 754px,#fff6cd 815px)"></i><i style="top:440px;height:11px;background:linear-gradient(90deg,#fff8d1 0px,#fffbd8 57px,#fafffb 102px,#c7fcff 131px,#85f2ff 157px,#00dcfc 196px,#008dff 247px,#0067ff 287px,#0055ff 333px,#0051ff 407px,#0055ff 481px,#0067ff 528px,#008dff 568px,#00dcfc 619px,#85f2ff 658px,#c7fcff 684px,#fafffb 713px,#fffbd8 758px,#fff8d1 815px)"></i><i style="top:450px;height:11px;background:linear-gradient(90deg,#fff9d5 0px,#fffbd9 46px,#fafffb 100px,#c8fcff 131px,#86f2ff 159px,#00dcfc 202px,#00bbf9 224px,#008aff 268px,#0071ff 311px,#0068ff 365px,#0068ff 458px,#0071ff 504px,#0085ff 540px,#00a9fc 577px,#00dcfc 613px,#86f2ff 656px,#c8fcff 684px,#fafffb 715px,#fffbd9 769px,#fff9d5 815px)"></i><i style="top:460px;height:11px;background:linear-gradient(90deg,#fffbd9 0px,#fffcdf 45px,#fafffb 98px,#c7fcff 132px,#91f4ff 157px,#01dcfc 209px,#00c9f9 224px,#00a1fd 264px,#0089ff 309px,#007fff 360px,#007fff 445px,#0086ff 496px,#0097ff 536px,#00b1fb 570px,#00dbfc 605px,#99f5ff 662px,#c7fcff 683px,#fafffb 717px,#fffcdf 770px,#fffbd9 815px)"></i><i style="top:470px;height:11px;background:linear-gradient(90deg,#fffcdd 0px,#fffde2 43px,#fafffb 96px,#c7fcff 133px,#83f2ff 166px,#00dcfc 218px,#00d5fb 224px,#00b2fb 262px,#009efe 302px,#0093ff 425px,#0097ff 483px,#00a3fd 525px,#00b8fa 561px,#00dcfc 597px,#83f2ff 649px,#abf8ff 668px,#c9fcff 683px,#fafffb 719px,#fffde2 772px,#fffcdd 815px)"></i><i style="top:480px;height:11px;background:linear-gradient(90deg,#fffde1 0px,#fffde6 40px,#fafffb 94px,#c6fcff 134px,#84f2ff 169px,#00dcfc 228px,#00b3fa 287px,#00a4fd 359px,#00a7fc 480px,#00b8fa 538px,#00dcfc 587px,#84f2ff 646px,#c5fbff 680px,#f9fffb 720px,#fffde6 775px,#fffde1 815px)"></i><i style="top:490px;height:11px;background:linear-gradient(90deg,#fffde5 0px,#fbfffb 91px,#c7fcff 135px,#01dcfc 242px,#00c3f8 287px,#00b5fa 355px,#00b6fa 466px,#00c1f8 524px,#00dbfc 572px,#c7fcff 680px,#f6fffb 719px,#fefff2 750px,#fffde5 815px)"></i><i style="top:500px;height:11px;background:linear-gradient(90deg,#fffeea 0px,#fafffb 89px,#c8fcff 135px,#42e9ff 213px,#08defd 251px,#00dcfc 258px,#00cffa 287px,#00c2f8 350px,#00c1f8 449px,#00c9f9 510px,#00dcfc 557px,#3ee8ff 600px,#c8fcff 680px,#f2fefc 717px,#fbfffb 728px,#fffeea 815px)"></i><i style="top:510px;height:11px;background:linear-gradient(90deg,#ffffee 0px,#fbfffb 84px,#f2fefc 95px,#c7fcff 136px,#20e3fe 245px,#01dcfc 275px,#00d8fb 287px,#00cdf9 342px,#00caf9 423px,#00cffa 490px,#00dcfc 539px,#3fe8ff 593px,#c8fcff 680px,#effefc 717px,#fbfffb 731px,#ffffee 815px)"></i><i style="top:520px;height:11px;background:linear-gradient(90deg,#fffff0 0px,#fbfffb 80px,#f2fefc 92px,#c7fcff 136px,#37e7ff 238px,#12e0fd 276px,#00dbfc 311px,#00d4fb 416px,#04ddfc 517px,#19e1fe 548px,#3be8ff 581px,#c7fcff 679px,#f1fefc 721px,#fbfffb 735px,#fffff0 815px)"></i><i style="top:530px;height:11px;background:linear-gradient(90deg,#fffff1 0px,#fbfffb 78px,#f4fffc 88px,#c8fcff 136px,#4eeaff 231px,#23e3fe 283px,#0fdffd 335px,#08defd 407px,#0fdffd 479px,#23e3fe 532px,#4eeaff 584px,#c8fcff 679px,#f4fffc 727px,#fbfffb 737px,#fffff1 815px)"></i><i style="top:540px;height:11px;background:linear-gradient(90deg,#fffff1 0px,#f8fffb 82px,#c8fcff 138px,#61edff 229px,#3fe8ff 275px,#29e5ff 335px,#23e3fe 407px,#29e5ff 480px,#3fe8ff 540px,#61edff 586px,#c8fcff 677px,#f8fffb 733px,#fffff1 815px)"></i><i style="top:550px;height:11px;background:linear-gradient(90deg,#fffff1 0px,#fbfffb 77px,#c8fcff 141px,#72efff 230px,#54ebff 276px,#42e9ff 333px,#3ce8ff 407px,#42e9ff 482px,#54ebff 539px,#72efff 585px,#c8fcff 674px,#fbfffb 738px,#fffff1 815px)"></i><i style="top:560px;height:11px;background:linear-gradient(90deg,#fffff1 0px,#fbfffb 75px,#c8fcff 142px,#8ef3ff 205px,#5eedff 276px,#4deaff 334px,#48e9ff 407px,#4deaff 481px,#5eedff 539px,#8ef3ff 610px,#c8fcff 673px,#fbfffb 740px,#fffff1 815px)"></i><i style="top:570px;height:11px;background:linear-gradient(90deg,#fefff2 0px,#fbfffb 73px,#93f4ff 203px,#66eeff 275px,#56ebff 333px,#50ebff 407px,#56ebff 481px,#66eeff 540px,#93f4ff 612px,#fbfffb 742px,#fefff2 815px)"></i><i style="top:580px;height:11px;background:linear-gradient(90deg,#fefff2 0px,#fbfffb 72px,#98f5ff 201px,#6fefff 274px,#5eedff 333px,#59ecff 407px,#5eedff 481px,#6fefff 541px,#98f5ff 614px,#fbfffb 743px,#fefff2 815px)"></i><i style="top:590px;height:11px;background:linear-gradient(90deg,#fefff2 0px,#fbfffb 70px,#9cf5ff 201px,#76f0ff 274px,#67eeff 334px,#62edff 407px,#67eeff 481px,#76f0ff 541px,#9cf5ff 614px,#fbfffb 745px,#fefff2 815px)"></i><i style="top:600px;height:11px;background:linear-gradient(90deg,#fefff2 0px,#fbfffb 70px,#a0f6ff 202px,#7ef1ff 275px,#6fefff 335px,#6aeeff 407px,#6fefff 480px,#7ef1ff 540px,#a0f6ff 613px,#fbfffb 745px,#fefff2 815px)"></i><i style="top:610px;height:11px;background:linear-gradient(90deg,#fefff2 0px,#fbfffb 71px,#a8f7ff 197px,#8bf3ff 258px,#79f0ff 329px,#73f0ff 407px,#79f0ff 486px,#8bf3ff 557px,#a8f7ff 618px,#fbfffb 744px,#fefff2 815px)"></i><i style="top:620px;height:11px;background:linear-gradient(90deg,#fefff2 0px,#fbfffb 71px,#adf8ff 198px,#92f4ff 260px,#82f2ff 335px,#7df1ff 407px,#82f2ff 479px,#92f4ff 555px,#adf8ff 617px,#fbfffb 744px,#fefff2 815px)"></i><i style="top:630px;height:11px;background:linear-gradient(90deg,#fefff2 0px,#fbfffb 72px,#b2f9ff 199px,#99f5ff 262px,#8bf3ff 328px,#86f2ff 407px,#8bf3ff 486px,#99f5ff 553px,#b2f9ff 616px,#fbfffb 743px,#fefff2 815px)"></i><i style="top:640px;height:11px;background:linear-gradient(90deg,#fefff2 0px,#fbfffb 73px,#b7faff 200px,#9ff6ff 264px,#8ff4ff 407px,#9ff6ff 551px,#b7faff 615px,#fbfffb 742px,#fefff2 815px)"></i><i style="top:650px;height:11px;background:linear-gradient(90deg,#fefff2 0px,#fbfffb 75px,#bdfaff 202px,#a7f7ff 266px,#97f5ff 407px,#a7f7ff 549px,#bdfaff 613px,#fbfffb 740px,#fefff2 815px)"></i><i style="top:660px;height:11px;background:linear-gradient(90deg,#fefff2 0px,#fbfffb 77px,#d4fdfe 157px,#adf8ff 269px,#9ff6ff 407px,#adf8ff 546px,#d4fdfe 658px,#fbfffb 738px,#fefff2 815px)"></i><i style="top:670px;height:11px;background:linear-gradient(90deg,#fefff2 0px,#fbfffb 79px,#d6fdfe 160px,#b4f9ff 272px,#a7f7ff 407px,#b4f9ff 543px,#d6fdfe 655px,#fbfffb 736px,#fefff2 815px)"></i><i style="top:680px;height:11px;background:linear-gradient(90deg,#fefff2 0px,#fbfffb 80px,#d8fdfe 162px,#b8faff 275px,#acf8ff 407px,#b8faff 540px,#d8fdfe 653px,#fbfffb 735px,#fefff2 815px)"></i><i style="top:690px;height:11px;background:linear-gradient(90deg,#fefff2 0px,#fbfffb 81px,#d9fdfe 165px,#bdfaff 278px,#b1f9ff 407px,#bdfaff 537px,#d9fdfe 650px,#fbfffb 734px,#fefff2 815px)"></i><i style="top:700px;height:11px;background:linear-gradient(90deg,#fefff2 0px,#fbfffb 83px,#dafdfe 168px,#c1fbff 281px,#b6f9ff 407px,#c1fbff 534px,#dafdfe 647px,#fbfffb 732px,#fefff2 815px)"></i><i style="top:710px;height:11px;background:linear-gradient(90deg,#fefff2 0px,#fbfffb 85px,#cffcfe 226px,#bcfaff 407px,#cffcfe 589px,#fbfffb 730px,#fefff2 815px)"></i><i style="top:720px;height:11px;background:linear-gradient(90deg,#fefff2 0px,#fbfffb 87px,#d2fdfe 230px,#c1fbff 407px,#cdfcff 558px,#e1fdfd 652px,#fbfffb 728px,#fefff2 815px)"></i><i style="top:730px;height:11px;background:linear-gradient(90deg,#fefff2 0px,#fbfffb 90px,#e3fefd 165px,#d0fcfe 263px,#c6fcff 407px,#d0fcfe 552px,#e3fefd 650px,#fbfffb 725px,#fefff2 815px)"></i><i style="top:740px;height:11px;background:linear-gradient(90deg,#fefff2 0px,#fbfffb 91px,#e4fefd 166px,#d1fdfe 265px,#c8fcff 407px,#d1fdfe 549px,#e3fefd 648px,#fbfffb 724px,#fefff2 815px)"></i><i style="top:750px;height:11px;background:linear-gradient(90deg,#fefff2 0px,#fbfffb 91px,#e4fefd 166px,#d1fdfe 265px,#c8fcff 407px,#d1fdfe 549px,#e3fefd 648px,#fbfffb 724px,#fefff2 815px)"></i></div></div>
<div class="fw" style="left:1165.0px;top:1710.0px;width:792px;height:725px"><div class="fb" style="top:-12px;height:749px;filter:blur(4.0px)"><i style="top:0px;height:11px;background:linear-gradient(90deg,#b1f9ff 0px,#b4f9ff 50px,#e1fdfd 113px,#e8fefc 143px,#dbfdfd 177px,#a4f7ff 256px,#90f4ff 300px,#85f2ff 365px,#86f2ff 459px,#98f5ff 537px,#dafdfe 636px,#e8fefc 676px,#e0fdfd 703px,#b4f9ff 764px,#b1f9ff 815px)"></i><i style="top:10px;height:11px;background:linear-gradient(90deg,#b1f9ff 0px,#b4f9ff 51px,#e0fdfd 112px,#e8fefc 139px,#dafdfe 179px,#98f5ff 278px,#86f2ff 356px,#85f2ff 450px,#90f4ff 515px,#a4f7ff 559px,#dbfdfd 638px,#e8fefc 672px,#e1fdfd 702px,#b4f9ff 765px,#b1f9ff 815px)"></i><i style="top:20px;height:11px;background:linear-gradient(90deg,#b1f9ff 0px,#b4f9ff 51px,#e0fdfd 112px,#e8fefc 139px,#dafdfe 179px,#98f5ff 278px,#86f2ff 357px,#85f2ff 451px,#90f4ff 515px,#a4f7ff 559px,#dbfdfd 638px,#e8fefd 672px,#e1fdfd 702px,#b4f9ff 765px,#b1f9ff 815px)"></i><i style="top:30px;height:11px;background:linear-gradient(90deg,#b1f9ff 0px,#b4f9ff 50px,#dcfdfd 116px,#d6fdfe 146px,#c8fcff 162px,#a2f6ff 185px,#00dcfc 263px,#00bef9 320px,#00b7fa 407px,#00bef9 495px,#00dcfc 552px,#a2f6ff 630px,#c8fcff 653px,#d6fdfe 669px,#dcfdfd 699px,#b4f9ff 765px,#b1f9ff 815px)"></i><i style="top:40px;height:11px;background:linear-gradient(90deg,#b1f9ff 0px,#b4f9ff 50px,#d8fdfe 113px,#d1fdfe 142px,#bbfaff 160px,#85f2ff 186px,#00dbfc 231px,#00adfb 268px,#0093ff 305px,#0087ff 345px,#0084ff 407px,#0087ff 469px,#0093ff 509px,#00adfb 547px,#00dbfc 584px,#85f2ff 629px,#bbfaff 655px,#d1fdfe 673px,#d8fdfe 702px,#b4f9ff 765px,#b1f9ff 815px)"></i><i style="top:50px;height:11px;background:linear-gradient(90deg,#b1f9ff 0px,#b3f9ff 48px,#d2fdfe 107px,#c9fcff 133px,#aff8ff 149px,#84f2ff 166px,#34e7ff 186px,#00dbfc 197px,#0061ff 249px,#0030ff 283px,#0c16f4 331px,#0e10f1 407px,#0c16f4 484px,#0030ff 532px,#0061ff 566px,#00dbfc 618px,#34e7ff 629px,#84f2ff 649px,#aff8ff 666px,#c9fcff 682px,#d2fdfe 708px,#b3f9ff 767px,#b1f9ff 815px)"></i><i style="top:60px;height:11px;background:linear-gradient(90deg,#b1f9ff 0px,#b3f9ff 48px,#d1fdfe 106px,#c8fcff 133px,#b0f8ff 148px,#85f2ff 165px,#3fe8ff 183px,#00dbfc 197px,#0061ff 249px,#0030ff 283px,#0c16f4 331px,#0e10f1 407px,#0c16f4 484px,#0030ff 532px,#0061ff 566px,#00dbfc 618px,#3fe8ff 632px,#85f2ff 650px,#b0f8ff 667px,#c8fcff 682px,#d1fdfe 709px,#b3f9ff 767px,#b1f9ff 815px)"></i><i style="top:70px;height:11px;background:linear-gradient(90deg,#b1f9ff 0px,#b3f9ff 48px,#d1fdfe 106px,#c9fcff 132px,#aff8ff 148px,#84f2ff 165px,#31e6ff 186px,#00dcfc 196px,#0060ff 249px,#002fff 283px,#0c16f4 331px,#0e10f1 407px,#0c16f4 484px,#002fff 532px,#0060ff 566px,#00dcfc 619px,#31e6ff 629px,#84f2ff 650px,#aff8ff 667px,#c9fcff 683px,#d1fdfe 709px,#b3f9ff 767px,#b1f9ff 815px)"></i><i style="top:80px;height:11px;background:linear-gradient(90deg,#fcfff9 0px,#f8fffb 81px,#ebfefc 107px,#d6fdfe 129px,#bffbff 143px,#84f2ff 165px,#00d9fb 197px,#0060ff 249px,#022bfd 288px,#0d13f3 343px,#0e11f2 449px,#091bf6 500px,#0036ff 538px,#0066ff 569px,#00dbfc 619px,#30e6ff 629px,#84f2ff 650px,#bffbff 672px,#d6fdfe 686px,#ebfefc 708px,#f8fffb 734px,#fcfff9 815px)"></i><i style="top:90px;height:11px;background:linear-gradient(90deg,#fff6cc 0px,#fffad5 65px,#fbfffb 113px,#c9fcff 142px,#93f4ff 162px,#48e9ff 182px,#00dcfc 198px,#00a0fd 224px,#0054ff 263px,#022bfd 305px,#091df7 362px,#081ff8 471px,#012efe 516px,#004cff 546px,#0079ff 573px,#00dcfc 617px,#48e9ff 633px,#93f4ff 653px,#c9fcff 673px,#fbfffb 702px,#fffad5 750px,#fff6cc 815px)"></i><i style="top:100px;height:11px;background:linear-gradient(90deg,#fff4c9 0px,#fff8d2 65px,#fbfffb 114px,#c9fcff 142px,#8ff4ff 163px,#43e9ff 183px,#00dbfc 198px,#009ffd 224px,#0056ff 262px,#022cfd 304px,#081df7 361px,#081ff8 471px,#012ffe 516px,#004cff 546px,#0079ff 573px,#00dbfc 617px,#43e9ff 632px,#8ff4ff 652px,#c9fcff 673px,#fbfffb 701px,#fff8d2 750px,#fff4c9 815px)"></i><i style="top:110px;height:11px;background:linear-gradient(90deg,#fff2c5 0px,#fff7cf 65px,#fafffb 115px,#c9fcff 142px,#8bf3ff 164px,#31e6ff 187px,#02dcfc 197px,#009ffd 224px,#0055ff 262px,#022cfd 304px,#081df7 361px,#081ff8 471px,#012efe 516px,#004cff 546px,#0078ff 573px,#00dbfc 617px,#4eeaff 635px,#8ef3ff 652px,#c9fcff 673px,#fafffb 700px,#fff7cf 750px,#fff2c5 815px)"></i><i style="top:120px;height:11px;background:linear-gradient(90deg,#fff1c1 0px,#fff6cc 65px,#fffbd8 83px,#fbfffb 115px,#c9fcff 142px,#87f2ff 165px,#30e6ff 187px,#00dcfc 197px,#009efe 224px,#0055ff 262px,#022bfd 305px,#081df7 362px,#081ff8 472px,#002fff 517px,#004dff 547px,#007aff 574px,#00dcfc 618px,#30e6ff 628px,#87f2ff 650px,#c9fcff 673px,#fafffb 699px,#fffff0 714px,#fffbd8 732px,#fff6cc 750px,#fff1c1 815px)"></i><i style="top:130px;height:11px;background:linear-gradient(90deg,#ffefbe 0px,#fff4c9 64px,#fffbd8 86px,#fffff0 102px,#fbfffb 116px,#c8fcff 142px,#86f2ff 165px,#00dbfc 197px,#0062ff 253px,#0032ff 293px,#081ff8 344px,#091cf7 437px,#0525fa 496px,#003eff 535px,#006dff 568px,#00dbfc 618px,#86f2ff 650px,#c8fcff 673px,#fbfffb 699px,#fffff0 713px,#fffbd8 729px,#fff4c9 751px,#ffefbe 815px)"></i><i style="top:140px;height:11px;background:linear-gradient(90deg,#ffedba 0px,#fff3c6 64px,#fffbd7 88px,#ffffef 103px,#fafffb 117px,#c8fcff 142px,#85f2ff 165px,#00dbfc 197px,#0064ff 252px,#0032ff 293px,#081ff8 344px,#091cf7 436px,#0525fa 496px,#003eff 535px,#006dff 568px,#00dbfc 618px,#85f2ff 650px,#c8fcff 673px,#fafffb 698px,#ffffef 712px,#fffbd7 727px,#fff3c6 751px,#ffedba 815px)"></i><i style="top:150px;height:11px;background:linear-gradient(90deg,#ffeab4 0px,#ffebb6 33px,#fff2c3 65px,#fffbd7 90px,#fffff0 105px,#fbfffb 117px,#c8fcff 142px,#87f2ff 164px,#00dafc 197px,#0063ff 252px,#0032ff 293px,#081ff8 343px,#091cf7 434px,#0525fa 495px,#003eff 535px,#006eff 569px,#00dcfc 619px,#30e6ff 629px,#87f2ff 651px,#c8fcff 673px,#fbfffb 698px,#fffff0 710px,#fffbd7 725px,#fff2c3 750px,#ffebb6 782px,#ffeab4 815px)"></i><i style="top:160px;height:11px;background:linear-gradient(90deg,#ffe8b0 0px,#ffeab4 35px,#fff1c2 66px,#fffbd7 91px,#fffff0 105px,#fafffb 118px,#c7fcff 142px,#86f2ff 164px,#00dbfc 196px,#0065ff 251px,#0034ff 291px,#0720f8 341px,#091cf7 430px,#0524fa 493px,#003dff 534px,#006cff 568px,#00dbfc 619px,#86f2ff 651px,#c7fcff 673px,#fafffb 697px,#fffff0 710px,#fffbd7 724px,#fff1c2 749px,#ffeab4 780px,#ffe8b0 815px)"></i><i style="top:170px;height:11px;background:linear-gradient(90deg,#ffe7ae 0px,#ffe9b1 36px,#fff1c1 66px,#fffbd8 92px,#ffffef 105px,#fafffb 118px,#c7fcff 142px,#85f2ff 164px,#00dafc 196px,#0064ff 251px,#0033ff 291px,#0720f8 341px,#091cf7 430px,#0524fa 493px,#003cff 534px,#006bff 568px,#00dafc 619px,#85f2ff 651px,#c7fcff 673px,#fafffb 697px,#ffffef 710px,#fffbd8 723px,#fff1c1 749px,#ffe9b1 779px,#ffe7ae 815px)"></i><i style="top:180px;height:11px;background:linear-gradient(90deg,#ffe5ab 0px,#ffe7af 37px,#fff0c0 66px,#fffbd7 92px,#fffff0 105px,#fafffb 117px,#c8fcff 139px,#85f2ff 160px,#2fe6ff 180px,#01dcfc 189px,#00cbf9 196px,#0050ff 248px,#0030ff 268px,#0b18f5 294px,#1208ee 331px,#1208ed 480px,#0c16f4 518px,#0036ff 551px,#0066ff 578px,#00dafc 625px,#85f2ff 655px,#c8fcff 676px,#fafffb 698px,#fffff0 710px,#fffbd7 723px,#fff0c0 749px,#ffe7af 778px,#ffe5ab 815px)"></i><i style="top:190px;height:11px;background:linear-gradient(90deg,#ffe4a9 0px,#ffeab4 52px,#fff9d4 89px,#fbfffb 115px,#c9fcff 136px,#87f2ff 155px,#00dbfc 183px,#00b6fa 196px,#0061ff 226px,#003bff 242px,#1208ee 277px,#1e03d8 310px,#2301ce 349px,#2400cd 443px,#2002d4 494px,#1208ee 538px,#0427fb 562px,#0061ff 589px,#00dbfc 632px,#87f2ff 660px,#c9fcff 679px,#fbfffb 700px,#fff9d4 726px,#ffeab4 763px,#ffe4a9 815px)"></i><i style="top:200px;height:11px;background:linear-gradient(90deg,#ffe2a6 0px,#ffe9b2 52px,#fff9d4 90px,#fffff0 105px,#fbfffa 115px,#c8fcff 136px,#86f2ff 155px,#33e6ff 173px,#01dcfc 182px,#00b5fa 196px,#0060ff 226px,#003dff 241px,#1208ee 276px,#1d03d8 309px,#2301ce 348px,#2400cd 442px,#2002d4 494px,#1208ee 539px,#0427fb 562px,#0060ff 589px,#00dafc 632px,#86f2ff 660px,#c8fcff 679px,#fafffb 699px,#fffff0 710px,#fff9d4 725px,#ffe9b2 763px,#ffe2a6 815px)"></i><i style="top:210px;height:11px;background:linear-gradient(90deg,#ffe1a3 0px,#ffe2a6 32px,#ffe8b0 53px,#fff9d5 91px,#fffff0 105px,#fafffb 116px,#c7fcff 136px,#85f2ff 155px,#00dcfc 182px,#00b4fa 196px,#0062ff 225px,#003cff 241px,#1208ee 276px,#1d03d8 309px,#2301ce 348px,#2400cd 442px,#2002d4 494px,#1208ee 539px,#0428fb 563px,#005fff 589px,#00dcfc 633px,#85f2ff 660px,#c7fcff 679px,#fafffb 699px,#fffff0 710px,#fff9d5 724px,#ffe8b0 762px,#ffe2a6 783px,#ffe1a3 815px)"></i><i style="top:220px;height:11px;background:linear-gradient(90deg,#ffe0a1 0px,#ffe1a3 32px,#ffe7ae 53px,#fffad5 92px,#ffffef 105px,#fafffb 116px,#c7fcff 136px,#87f2ff 154px,#34e7ff 172px,#03ddfc 181px,#00b3fa 196px,#0061ff 225px,#003cff 241px,#1208ee 276px,#1e03d8 309px,#2301ce 348px,#2400cd 442px,#2002d4 494px,#1208ee 539px,#0427fb 563px,#0061ff 590px,#00dafc 633px,#87f2ff 661px,#c7fcff 679px,#fafffb 699px,#ffffef 710px,#fffad5 723px,#ffe7ae 762px,#ffe1a3 783px,#ffe0a1 815px)"></i><i style="top:230px;height:11px;background:linear-gradient(90deg,#ffdfa0 0px,#ffe1a3 32px,#ffe7ad 53px,#fffad5 92px,#fffff0 105px,#fbfffa 115px,#c9fcff 135px,#86f2ff 154px,#32e6ff 172px,#01dcfc 181px,#00b2fb 196px,#0060ff 225px,#003bff 241px,#1208ee 276px,#1e03d8 309px,#2301ce 349px,#2400cd 444px,#2002d4 495px,#1208ee 539px,#0329fc 564px,#0060ff 590px,#01dcfc 634px,#32e6ff 643px,#86f2ff 661px,#c9fcff 680px,#fbfffa 700px,#fffff0 710px,#fffad5 723px,#ffe7ad 762px,#ffe1a3 783px,#ffdfa0 815px)"></i><i style="top:240px;height:11px;background:linear-gradient(90deg,#ffe0a2 0px,#ffe2a5 32px,#ffe7af 53px,#fff9d5 91px,#fffff0 105px,#fbfffb 115px,#c8fcff 135px,#84f2ff 154px,#00dbfc 181px,#00b1fb 196px,#005fff 225px,#003bff 241px,#1208ee 276px,#1e03d8 309px,#2301ce 349px,#2400cd 444px,#2002d4 496px,#1208ee 539px,#0428fc 564px,#005fff 590px,#00dbfc 634px,#84f2ff 661px,#c8fcff 680px,#fbfffb 700px,#fffff0 710px,#fff9d5 724px,#ffe7af 762px,#ffe2a5 783px,#ffe0a2 815px)"></i><i style="top:250px;height:11px;background:linear-gradient(90deg,#ffe1a4 0px,#ffe8b0 52px,#fff9d4 90px,#ffffef 104px,#fafffb 115px,#c6fcff 135px,#86f2ff 153px,#33e6ff 171px,#02dcfc 180px,#00b0fb 196px,#0061ff 224px,#003aff 241px,#1208ee 275px,#1d03d9 308px,#2301ce 349px,#2400cd 446px,#1f02d5 498px,#1208ee 540px,#0329fc 565px,#0061ff 591px,#00dafc 634px,#86f2ff 662px,#c6fcff 680px,#fafffb 700px,#ffffef 711px,#fff9d4 725px,#ffe8b0 763px,#ffe1a4 815px)"></i><i style="top:260px;height:11px;background:linear-gradient(90deg,#ffe2a5 0px,#ffe9b1 52px,#fffad5 90px,#fffff0 104px,#fbfffb 114px,#c8fcff 134px,#85f2ff 153px,#32e6ff 171px,#00dcfc 180px,#00affb 196px,#0060ff 224px,#0039ff 241px,#1208ee 275px,#1e03d8 309px,#2300ce 350px,#2400cd 447px,#1f02d5 499px,#1208ee 540px,#022afd 566px,#0060ff 591px,#00dcfc 635px,#32e6ff 644px,#85f2ff 662px,#c8fcff 681px,#fbfffb 701px,#fffff0 711px,#fffad5 725px,#ffe9b1 763px,#ffe2a5 815px)"></i><i style="top:270px;height:11px;background:linear-gradient(90deg,#ffe3a7 0px,#ffeab3 52px,#fff9d5 89px,#ffffef 103px,#fafffb 114px,#c7fcff 134px,#84f2ff 153px,#00dbfc 180px,#00aefb 196px,#0060ff 224px,#0039ff 241px,#1208ee 275px,#1e03d8 309px,#2300ce 351px,#2400cd 449px,#1f02d6 501px,#1208ee 540px,#012dfe 568px,#0060ff 591px,#00dbfc 635px,#84f2ff 662px,#c7fcff 681px,#fafffb 701px,#ffffef 712px,#fff9d5 726px,#ffeab3 763px,#ffe3a7 815px)"></i><i style="top:280px;height:11px;background:linear-gradient(90deg,#ffe4a9 0px,#ffebb5 52px,#fff9d4 88px,#fffff0 103px,#fbfffb 113px,#c9fcff 133px,#86f2ff 152px,#33e6ff 170px,#01dcfc 179px,#00adfb 196px,#0061ff 223px,#0038ff 241px,#1208ee 275px,#1e03d8 309px,#2300ce 351px,#2400cd 450px,#1f02d6 502px,#1208ee 540px,#012dfe 568px,#0061ff 592px,#00dafc 635px,#86f2ff 663px,#c9fcff 682px,#fbfffb 702px,#fffff0 712px,#fff9d4 727px,#ffebb5 763px,#ffe4a9 815px)"></i><i style="top:290px;height:11px;background:linear-gradient(90deg,#ffe5aa 0px,#ffe7ae 36px,#fff0c0 66px,#fffbd7 90px,#ffffef 102px,#fbfffb 113px,#c8fcff 133px,#84f2ff 152px,#00dcfc 179px,#00acfb 196px,#0061ff 223px,#003aff 240px,#1208ee 274px,#1e03d8 309px,#2300ce 352px,#2300cd 452px,#1e03d7 504px,#1208ee 541px,#0030ff 570px,#0061ff 592px,#00dcfc 636px,#84f2ff 663px,#c8fcff 682px,#fbfffb 702px,#ffffef 713px,#fffbd7 725px,#fff0c0 749px,#ffe7ae 779px,#ffe5aa 815px)"></i><i style="top:300px;height:11px;background:linear-gradient(90deg,#ffe6ac 0px,#ffe8b0 36px,#fff0c0 65px,#fffbd8 90px,#fffff0 102px,#fbfffb 112px,#c9fcff 132px,#86f2ff 151px,#33e6ff 169px,#02dcfc 178px,#00abfc 196px,#0060ff 223px,#0039ff 240px,#1208ee 274px,#1e03d8 309px,#2300ce 352px,#2300cd 453px,#1e03d7 505px,#1208ee 541px,#002fff 570px,#0060ff 592px,#00dafc 636px,#86f2ff 664px,#c9fcff 683px,#fbfffb 703px,#fffff0 713px,#fffbd8 725px,#fff0c0 750px,#ffe8b0 779px,#ffe6ac 815px)"></i><i style="top:310px;height:11px;background:linear-gradient(90deg,#ffe7ae 0px,#ffe9b1 35px,#fff1c2 65px,#fffbd8 89px,#fffff0 101px,#fafffb 112px,#c7fcff 132px,#83f2ff 151px,#00dbfc 178px,#00a9fc 196px,#0061ff 222px,#0038ff 240px,#1208ee 274px,#1e03d8 309px,#2300ce 353px,#2300cd 454px,#1e03d8 507px,#1208ee 541px,#0030ff 571px,#0061ff 593px,#00dbfc 637px,#83f2ff 664px,#c7fcff 683px,#fafffb 703px,#fffff0 714px,#fffbd8 726px,#fff1c2 750px,#ffe9b1 780px,#ffe7ae 815px)"></i><i style="top:320px;height:11px;background:linear-gradient(90deg,#ffe8af 0px,#ffe9b3 34px,#fff1c2 64px,#fffbd8 88px,#fffff0 100px,#fbfffb 111px,#c8fcff 131px,#84f2ff 150px,#00dcfc 177px,#00a7fc 196px,#0062ff 221px,#0039ff 239px,#1208ee 273px,#1e03d8 309px,#2300ce 354px,#2300cd 457px,#1d03d9 510px,#1208ee 542px,#002fff 571px,#0062ff 594px,#00dcfc 638px,#31e6ff 647px,#84f2ff 665px,#aff8ff 677px,#c8fcff 684px,#fbfffb 704px,#fffff0 715px,#fffbd8 727px,#fff1c2 751px,#ffe9b3 781px,#ffe8af 815px)"></i><i style="top:330px;height:11px;background:linear-gradient(90deg,#ffe9b1 0px,#ffeab4 34px,#fff2c3 64px,#fffbd8 87px,#ffffef 99px,#fbfffb 110px,#c9fcff 130px,#85f2ff 149px,#01dcfc 176px,#00a5fc 196px,#0060ff 221px,#0038ff 239px,#1208ee 273px,#1e03d7 309px,#2300ce 355px,#2300cd 459px,#1d03da 512px,#1208ee 542px,#0030ff 572px,#0060ff 594px,#00dafc 638px,#32e6ff 648px,#85f2ff 666px,#b7faff 680px,#fbfffb 705px,#ffffef 716px,#fffbd8 728px,#fff2c3 751px,#ffeab4 781px,#ffe9b1 815px)"></i><i style="top:340px;height:11px;background:linear-gradient(90deg,#ffebb5 0px,#ffecb7 32px,#fff2c4 63px,#fffbd7 85px,#fffff0 98px,#fbfffb 109px,#c9fcff 129px,#86f2ff 148px,#02dcfc 175px,#00a3fd 196px,#0061ff 220px,#0037ff 239px,#1208ed 273px,#1e03d7 310px,#2300cd 357px,#2300ce 461px,#1c04db 515px,#1208ee 543px,#002fff 572px,#0061ff 595px,#00dafc 639px,#33e6ff 649px,#82f2ff 666px,#bcfaff 682px,#fbfffb 706px,#fffff0 717px,#fffbd7 730px,#fff2c4 752px,#ffecb7 783px,#ffebb5 815px)"></i><i style="top:350px;height:11px;background:linear-gradient(90deg,#ffedb9 0px,#fff3c6 62px,#fffbd8 84px,#fffff0 97px,#fbfffb 108px,#c9fcff 128px,#86f2ff 147px,#00dbfc 175px,#00a1fd 196px,#0060ff 220px,#0036ff 239px,#1208ee 272px,#1e03d7 310px,#2300cd 358px,#2300ce 463px,#1b04dc 517px,#1208ee 543px,#0030ff 573px,#0060ff 595px,#00dbfc 640px,#2fe6ff 649px,#83f2ff 667px,#b1f9ff 680px,#fbfffb 707px,#fffff0 718px,#fffbd8 731px,#fff3c6 753px,#ffedb9 815px)"></i><i style="top:360px;height:11px;background:linear-gradient(90deg,#ffefbd 0px,#fff4c9 62px,#fffbd7 81px,#fffff0 95px,#fafffb 107px,#c7fcff 128px,#87f2ff 146px,#00dcfc 174px,#00a0fd 196px,#0061ff 219px,#0034ff 239px,#1208ee 272px,#1f02d6 311px,#2300cd 360px,#2300ce 465px,#1b04de 520px,#1209ee 544px,#0030ff 574px,#0061ff 596px,#00dcfc 641px,#30e6ff 650px,#83f2ff 668px,#b5f9ff 682px,#fafffb 708px,#fffff0 720px,#fffbd7 734px,#fff4c9 753px,#ffefbd 815px)"></i><i style="top:370px;height:11px;background:linear-gradient(90deg,#fff0bf 0px,#fff5cb 61px,#fffbd8 79px,#fbfffb 105px,#c7fcff 127px,#84f2ff 146px,#01dcfc 173px,#009efe 196px,#005fff 219px,#0035ff 238px,#1208ee 271px,#1e02d7 310px,#2300cd 361px,#2301ce 467px,#1a04de 522px,#1208ee 544px,#0030ff 574px,#0062ff 597px,#00dafc 641px,#31e6ff 651px,#84f2ff 669px,#c0fbff 686px,#fbfffb 710px,#fffbd8 736px,#fff5cb 754px,#fff0bf 815px)"></i><i style="top:380px;height:11px;background:linear-gradient(90deg,#fff1c2 0px,#fff6cd 61px,#fffbd8 76px,#fbfffb 104px,#c7fcff 126px,#85f2ff 145px,#02dcfc 172px,#009cfe 196px,#0060ff 218px,#0034ff 238px,#1208ee 271px,#1f02d6 311px,#2400cd 363px,#2301ce 469px,#1a05df 524px,#1209ee 545px,#0030ff 575px,#0060ff 597px,#00dafc 642px,#32e6ff 652px,#85f2ff 670px,#bdfaff 686px,#fbfffb 711px,#fffbd8 739px,#fff6cd 754px,#fff1c2 815px)"></i><i style="top:390px;height:11px;background:linear-gradient(90deg,#fff2c5 0px,#fff7d0 61px,#fafffb 103px,#c7fcff 125px,#85f2ff 144px,#00dbfc 172px,#009afe 196px,#0061ff 217px,#0035ff 237px,#1208ee 270px,#1f02d6 311px,#2400cd 365px,#2301cf 471px,#1905e1 527px,#1208ee 545px,#0031ff 576px,#0061ff 598px,#00dbfc 643px,#2fe6ff 652px,#85f2ff 671px,#b6f9ff 685px,#fafffb 712px,#fff7d0 754px,#fff2c5 815px)"></i><i style="top:400px;height:11px;background:linear-gradient(90deg,#fff4c8 0px,#fff8d2 61px,#fafffb 103px,#c8fcff 126px,#84f2ff 147px,#03ddfc 176px,#00acfc 196px,#0060ff 228px,#003bff 249px,#0622f9 270px,#0f0ef0 298px,#1706e5 390px,#1208ee 504px,#091df7 539px,#003dff 567px,#0069ff 591px,#00dbfc 638px,#84f2ff 668px,#c8fcff 689px,#fafffb 712px,#fff8d2 754px,#fff4c8 815px)"></i><i style="top:410px;height:11px;background:linear-gradient(90deg,#fff5cb 0px,#fffad5 61px,#fafffb 103px,#c7fcff 128px,#85f2ff 150px,#00dbfc 183px,#00bef9 196px,#005fff 244px,#0030ff 287px,#091df7 347px,#091cf7 462px,#0329fc 515px,#0045ff 551px,#0074ff 583px,#00dbfc 632px,#85f2ff 665px,#c7fcff 687px,#fafffb 712px,#fffad5 754px,#fff5cb 815px)"></i><i style="top:420px;height:11px;background:linear-gradient(90deg,#fff7ce 0px,#fffbd7 61px,#fbfffb 102px,#c6fcff 130px,#84f2ff 154px,#00dcfc 189px,#00cefa 196px,#0074ff 247px,#004aff 289px,#0037ff 343px,#0034ff 437px,#003dff 498px,#0057ff 543px,#0084ff 578px,#00dcfc 626px,#86f2ff 662px,#c9fcff 686px,#fbfffb 713px,#fffbd7 754px,#fff7ce 815px)"></i><i style="top:430px;height:11px;background:linear-gradient(90deg,#fff8d2 0px,#fffbd8 55px,#fafffb 102px,#c9fcff 131px,#84f2ff 158px,#00dbfc 197px,#008fff 247px,#0068ff 287px,#0057ff 333px,#0052ff 407px,#0056ff 481px,#0068ff 528px,#008fff 568px,#00dbfc 618px,#84f2ff 657px,#c9fcff 684px,#fafffb 713px,#fffbd8 760px,#fff8d2 815px)"></i><i style="top:440px;height:11px;background:linear-gradient(90deg,#fffad5 0px,#fffbda 47px,#fbfffb 101px,#c8fcff 133px,#86f2ff 161px,#00dcfc 204px,#00bef9 224px,#008dff 268px,#0074ff 310px,#006bff 364px,#006bff 456px,#0073ff 502px,#0086ff 538px,#00a9fc 575px,#00dcfc 611px,#86f2ff 654px,#c8fcff 682px,#fbfffb 714px,#fffbda 768px,#fffad5 815px)"></i><i style="top:450px;height:11px;background:linear-gradient(90deg,#fffbd9 0px,#fffcdf 46px,#fafffb 99px,#c8fcff 133px,#98f5ff 155px,#02dcfc 209px,#00c8f9 224px,#009ffd 264px,#0086ff 309px,#007dff 360px,#007cff 445px,#0083ff 494px,#0092ff 531px,#00aefb 568px,#00dcfc 605px,#98f5ff 660px,#c8fcff 682px,#fafffb 716px,#fffcdf 769px,#fffbd9 815px)"></i><i style="top:460px;height:11px;background:linear-gradient(90deg,#fffcde 0px,#fffde3 43px,#fafffb 97px,#c7fcff 134px,#84f2ff 166px,#01dcfc 216px,#00d3fa 224px,#00affb 262px,#0099fe 303px,#008fff 353px,#008eff 429px,#0092ff 484px,#009ffd 527px,#00b7fa 563px,#00dbfc 598px,#84f2ff 649px,#aaf8ff 667px,#c8fcff 682px,#fafffb 718px,#fffde3 772px,#fffcde 815px)"></i><i style="top:470px;height:11px;background:linear-gradient(90deg,#fffde1 0px,#fffde6 41px,#fafffb 95px,#befbff 139px,#84f2ff 169px,#00dcfc 226px,#00affb 287px,#00a0fd 360px,#00a2fd 482px,#00b4fa 539px,#00dcfc 589px,#84f2ff 646px,#b9faff 673px,#f8fffb 718px,#fffde6 774px,#fffde1 815px)"></i><i style="top:480px;height:11px;background:linear-gradient(90deg,#fffde5 0px,#fffee9 38px,#fafffb 93px,#c8fcff 135px,#84f2ff 173px,#01dcfc 238px,#00bef9 287px,#00b0fb 356px,#00b1fb 470px,#00bef9 528px,#00dbfc 576px,#c8fcff 680px,#f5fffb 717px,#fefff2 747px,#fffde5 815px)"></i><i style="top:490px;height:11px;background:linear-gradient(90deg,#fffee8 0px,#fafffb 91px,#c7fcff 137px,#41e8ff 214px,#07ddfc 252px,#00dcfc 258px,#00cefa 287px,#00c1f8 350px,#00c0f9 450px,#00c8f9 510px,#00dcfc 558px,#3fe8ff 600px,#c7fcff 678px,#f5fffb 718px,#fdfff5 742px,#fffee8 815px)"></i><i style="top:500px;height:11px;background:linear-gradient(90deg,#fffeeb 0px,#f7fffb 92px,#c7fcff 137px,#4aeaff 213px,#18e1fd 248px,#00dcfc 270px,#00d5fb 287px,#00caf9 345px,#00c8f9 433px,#00cdfa 497px,#00dcfc 545px,#3fe8ff 595px,#c7fcff 678px,#f1fefc 717px,#fbfffb 728px,#fffeeb 815px)"></i><i style="top:510px;height:11px;background:linear-gradient(90deg,#ffffef 0px,#fbfffb 83px,#f0fefc 96px,#c7fcff 136px,#23e3fe 244px,#04ddfc 274px,#00d9fc 287px,#00cefa 341px,#00ccf9 419px,#00d0fa 487px,#00dcfc 536px,#27e4fe 574px,#c7fcff 679px,#eefefc 716px,#fbfffb 732px,#ffffef 815px)"></i><i style="top:520px;height:11px;background:linear-gradient(90deg,#fffff0 0px,#fbfffb 81px,#f3fffc 92px,#c7fcff 138px,#49eaff 232px,#1ce2fe 284px,#07ddfc 336px,#00dcfc 407px,#07ddfc 479px,#1ce2fe 531px,#49eaff 583px,#c7fcff 677px,#f3fffc 723px,#fbfffb 734px,#fffff0 815px)"></i><i style="top:530px;height:11px;background:linear-gradient(90deg,#fffff1 0px,#fbfffb 82px,#c8fcff 145px,#6aeeff 235px,#4ceaff 279px,#3ae7ff 334px,#35e7ff 407px,#3ae7ff 481px,#4ceaff 536px,#6aeeff 580px,#c8fcff 670px,#fbfffb 733px,#fffff1 815px)"></i><i style="top:540px;height:11px;background:linear-gradient(90deg,#fffff1 0px,#fbfffb 83px,#92f4ff 214px,#69eeff 282px,#5aecff 337px,#54ebff 407px,#5aecff 478px,#69eeff 533px,#92f4ff 601px,#fbfffb 732px,#fffff1 815px)"></i><i style="top:550px;height:11px;background:linear-gradient(90deg,#fffff1 0px,#fbfffb 81px,#97f5ff 212px,#70efff 281px,#61edff 337px,#5cecff 407px,#61edff 477px,#70efff 533px,#97f5ff 603px,#fbfffb 734px,#fffff1 815px)"></i><i style="top:560px;height:11px;background:linear-gradient(90deg,#fffff1 0px,#fbfffb 79px,#9bf5ff 211px,#77f0ff 281px,#69eeff 338px,#64edff 407px,#69eeff 477px,#77f0ff 534px,#9bf5ff 604px,#fbfffb 736px,#fffff1 815px)"></i><i style="top:570px;height:11px;background:linear-gradient(90deg,#fefff1 0px,#fbfffb 77px,#9ff6ff 210px,#7ef1ff 281px,#70efff 338px,#6cefff 407px,#70efff 477px,#7ef1ff 534px,#9ff6ff 605px,#fbfffb 738px,#fefff1 815px)"></i><i style="top:580px;height:11px;background:linear-gradient(90deg,#fefff2 0px,#fbfffb 76px,#a7f7ff 203px,#8bf3ff 263px,#79f0ff 331px,#73f0ff 407px,#79f0ff 483px,#8bf3ff 552px,#a7f7ff 612px,#fbfffb 739px,#fefff2 815px)"></i><i style="top:590px;height:11px;background:linear-gradient(90deg,#fefff2 0px,#fbfffb 76px,#adf8ff 202px,#92f4ff 264px,#82f2ff 338px,#7ef1ff 407px,#82f2ff 477px,#92f4ff 551px,#adf8ff 613px,#fbfffb 739px,#fefff2 815px)"></i><i style="top:600px;height:11px;background:linear-gradient(90deg,#fefff2 0px,#fbfffb 77px,#b2f9ff 203px,#99f5ff 266px,#8bf3ff 331px,#87f2ff 407px,#8bf3ff 484px,#99f5ff 549px,#b2f9ff 612px,#fbfffb 738px,#fefff2 815px)"></i><i style="top:610px;height:11px;background:linear-gradient(90deg,#fefff2 0px,#fbfffb 78px,#b8faff 204px,#a0f6ff 268px,#8ff4ff 407px,#a0f6ff 547px,#b8faff 611px,#fbfffb 737px,#fefff2 815px)"></i><i style="top:620px;height:11px;background:linear-gradient(90deg,#fefff2 0px,#fbfffb 79px,#bdfaff 206px,#a7f7ff 270px,#97f5ff 407px,#a7f7ff 545px,#bdfaff 609px,#fbfffb 736px,#fefff2 815px)"></i><i style="top:630px;height:11px;background:linear-gradient(90deg,#fefff2 0px,#fbfffb 81px,#d5fdfe 160px,#aef8ff 273px,#a0f6ff 407px,#aef8ff 542px,#d5fdfe 655px,#fbfffb 734px,#fefff2 815px)"></i><i style="top:640px;height:11px;background:linear-gradient(90deg,#fefff2 0px,#fbfffb 83px,#d7fdfe 163px,#b4f9ff 276px,#a7f7ff 407px,#b4f9ff 539px,#d7fdfe 652px,#fbfffb 732px,#fefff2 815px)"></i><i style="top:650px;height:11px;background:linear-gradient(90deg,#fefff2 0px,#fbfffb 84px,#d8fdfe 165px,#b8faff 278px,#acf8ff 407px,#b8faff 536px,#d8fdfe 649px,#fbfffb 731px,#fefff2 815px)"></i><i style="top:660px;height:11px;background:linear-gradient(90deg,#fefff2 0px,#fbfffb 85px,#dbfdfd 161px,#c1fbff 260px,#b1f9ff 407px,#c1fbff 554px,#dbfdfe 653px,#fbfffb 730px,#fefff2 815px)"></i><i style="top:670px;height:11px;background:linear-gradient(90deg,#fefff2 0px,#fbfffb 86px,#cdfcff 226px,#bcfaff 318px,#b6f9ff 407px,#bcfaff 497px,#cdfcff 589px,#fbfffb 729px,#fefff2 815px)"></i><i style="top:680px;height:11px;background:linear-gradient(90deg,#fefff2 0px,#fbfffb 88px,#cffcfe 229px,#bbfaff 407px,#cffcfe 586px,#fbfffb 727px,#fefff2 815px)"></i><i style="top:690px;height:11px;background:linear-gradient(90deg,#fefff2 0px,#fbfffb 90px,#d2fdfe 233px,#c0fbff 407px,#d2fdfe 582px,#fbfffb 725px,#fefff2 815px)"></i><i style="top:700px;height:11px;background:linear-gradient(90deg,#fefff2 0px,#fbfffb 93px,#d4fdfe 237px,#c5fcff 407px,#d4fdfe 577px,#fbfffb 722px,#fefff2 815px)"></i><i style="top:710px;height:11px;background:linear-gradient(90deg,#fefff2 0px,#fbfffb 96px,#d7fdfe 242px,#cafcff 407px,#d7fdfe 573px,#fbfffb 719px,#fefff2 815px)"></i><i style="top:720px;height:11px;background:linear-gradient(90deg,#fefff2 0px,#fbfffb 99px,#dafdfe 245px,#cefcff 407px,#dafdfe 569px,#fbfffb 716px,#fefff2 815px)"></i><i style="top:730px;height:11px;background:linear-gradient(90deg,#fefff2 0px,#fbfffb 103px,#ddfdfd 249px,#d1fdfe 407px,#dcfdfd 565px,#fbfffb 712px,#fefff2 815px)"></i><i style="top:740px;height:11px;background:linear-gradient(90deg,#fefff2 0px,#fbfffb 104px,#ddfdfd 250px,#d2fdfe 407px,#ddfdfd 564px,#fbfffb 711px,#fefff2 815px)"></i></div></div>
<div class="fw" style="left:1165.0px;top:2515.0px;width:792px;height:723px"><div class="fb" style="top:-12px;height:747px;filter:blur(4.0px)"><i style="top:0px;height:11px;background:linear-gradient(90deg,#ffe6ad 0px,#ffebb6 51px,#fffbd8 101px,#fffff0 120px,#fbfffb 145px,#96f5ff 282px,#88f3ff 333px,#84f2ff 407px,#88f3ff 482px,#96f5ff 532px,#fbfffb 670px,#fffff0 695px,#fffbd8 714px,#ffebb6 764px,#ffe6ad 815px)"></i><i style="top:10px;height:11px;background:linear-gradient(90deg,#ffe6ad 0px,#ffebb5 51px,#fffbd8 101px,#fffff0 120px,#fbfffb 144px,#95f5ff 282px,#87f2ff 332px,#83f2ff 407px,#87f2ff 483px,#95f5ff 533px,#fbfffb 671px,#fffff0 695px,#fffbd8 714px,#ffebb5 764px,#ffe6ad 815px)"></i><i style="top:20px;height:11px;background:linear-gradient(90deg,#ffe5ab 0px,#ffeab3 51px,#fffbd7 101px,#fffff0 120px,#fbfffb 144px,#92f4ff 281px,#82f2ff 337px,#7ef1ff 407px,#82f2ff 478px,#92f4ff 534px,#fbfffb 671px,#fffff0 695px,#fffbd7 714px,#ffeab3 764px,#ffe5ab 815px)"></i><i style="top:30px;height:11px;background:linear-gradient(90deg,#ffe4a9 0px,#ffe9b2 51px,#fffbd8 102px,#fffff0 120px,#fbfffb 143px,#8ff4ff 280px,#7df1ff 335px,#79f0ff 407px,#7df1ff 480px,#8ff4ff 535px,#fbfffb 672px,#fffff0 695px,#fffbd8 713px,#ffe9b2 764px,#ffe4a9 815px)"></i><i style="top:40px;height:11px;background:linear-gradient(90deg,#ffe3a7 0px,#ffe8b0 51px,#fffbd7 102px,#fffff0 121px,#fbfffb 143px,#a2f6ff 245px,#8cf3ff 279px,#79f0ff 333px,#74f0ff 407px,#79f0ff 482px,#8cf3ff 536px,#a2f6ff 570px,#fbfffb 672px,#fffff0 694px,#fffbd7 713px,#ffe8b0 764px,#ffe3a7 815px)"></i><i style="top:50px;height:11px;background:linear-gradient(90deg,#ffe2a5 0px,#ffe7af 52px,#fffbd8 103px,#fffff0 121px,#fbfffb 142px,#a0f6ff 244px,#89f3ff 278px,#74f0ff 331px,#6fefff 407px,#74f0ff 483px,#89f3ff 537px,#a0f6ff 571px,#fbfffb 673px,#fffff0 694px,#fffbd8 712px,#ffe7af 763px,#ffe2a5 815px)"></i><i style="top:60px;height:11px;background:linear-gradient(90deg,#ffe1a3 0px,#ffe6ad 52px,#fffbd8 103px,#fffff0 120px,#fbfffb 140px,#93f4ff 242px,#6defff 287px,#5becff 335px,#56ebff 407px,#5becff 480px,#6defff 528px,#93f4ff 573px,#fbfffb 675px,#fffff0 695px,#fffbd8 712px,#ffe6ad 763px,#ffe1a3 815px)"></i><i style="top:70px;height:11px;background:linear-gradient(90deg,#ffe0a1 0px,#ffe6ac 53px,#fffbd9 103px,#fffff0 118px,#fbfffb 135px,#c7fcff 176px,#52ebff 244px,#26e4fe 276px,#07ddfc 314px,#00dafc 349px,#00dcfc 484px,#08defd 503px,#1ce2fe 530px,#3ee8ff 558px,#c7fcff 639px,#fbfffb 680px,#fffff0 697px,#fffbd9 712px,#ffe6ac 762px,#ffe0a1 815px)"></i><i style="top:80px;height:11px;background:linear-gradient(90deg,#ffdf9f 0px,#ffe5aa 53px,#fffbd8 103px,#fffff0 118px,#fbfffb 134px,#c7fcff 173px,#47e9ff 242px,#10dffd 279px,#00dcfc 295px,#00d0fa 349px,#00cffa 460px,#00dcfc 520px,#29e4ff 554px,#c7fcff 642px,#fbfffb 681px,#fffff0 697px,#fffbd8 712px,#ffe5aa 762px,#ffdf9f 815px)"></i><i style="top:90px;height:11px;background:linear-gradient(90deg,#ffdd9d 0px,#ffe4a8 53px,#fffbd9 104px,#fffff0 118px,#fbfffb 134px,#c8fcff 172px,#47e9ff 242px,#10dffd 279px,#00dcfc 295px,#00d0fa 349px,#00cffa 460px,#00dcfc 520px,#38e7ff 564px,#c8fcff 643px,#fbfffb 681px,#fffff0 697px,#fffbd9 711px,#ffe4a8 762px,#ffdd9d 815px)"></i><i style="top:100px;height:11px;background:linear-gradient(90deg,#ffdc9a 0px,#ffdd9c 32px,#ffe3a6 54px,#fffbd8 103px,#fffff0 117px,#fbfffb 131px,#c7fcff 164px,#9af5ff 186px,#02dcfc 249px,#00bdf9 287px,#00aafc 349px,#00abfc 468px,#00b9fa 521px,#00dcfc 565px,#9cf6ff 630px,#c7fcff 651px,#fbfffb 684px,#fffff0 698px,#fffbd8 712px,#ffe3a6 761px,#ffdd9c 783px,#ffdc9a 815px)"></i><i style="top:110px;height:11px;background:linear-gradient(90deg,#ffda98 0px,#ffdc9a 33px,#ffe2a4 54px,#fffbd8 102px,#fffff0 115px,#fafffb 128px,#c7fcff 155px,#94f4ff 175px,#03ddfc 219px,#00d5fb 224px,#009cfe 263px,#0079ff 305px,#006cff 350px,#0069ff 428px,#006fff 483px,#0080ff 521px,#00a4fd 559px,#00dcfc 595px,#85f2ff 634px,#c7fcff 660px,#fafffb 687px,#fffff0 700px,#fffbd8 713px,#ffe2a4 761px,#ffdc9a 782px,#ffda98 815px)"></i><i style="top:120px;height:11px;background:linear-gradient(90deg,#ffd896 0px,#ffda98 34px,#ffe0a2 54px,#fffbd8 102px,#fffff0 114px,#fafffb 126px,#c9fcff 150px,#86f2ff 174px,#00dbfc 209px,#00bdf9 224px,#0075ff 268px,#0054ff 307px,#0047ff 357px,#0046ff 454px,#0050ff 499px,#0066ff 533px,#008eff 564px,#00dbfc 606px,#86f2ff 641px,#c9fcff 665px,#fafffb 689px,#fffff0 701px,#fffbd8 713px,#ffe0a2 761px,#ffda98 781px,#ffd896 815px)"></i><i style="top:130px;height:11px;background:linear-gradient(90deg,#ffd594 0px,#ffd896 34px,#ffdfa0 54px,#fffbd8 102px,#fffff0 114px,#fbfffb 125px,#c9fcff 149px,#84f2ff 173px,#02dcfc 206px,#00b8fa 224px,#006fff 268px,#004dff 307px,#0040ff 358px,#0040ff 457px,#004aff 501px,#0061ff 535px,#008bff 566px,#00dbfc 608px,#84f2ff 642px,#c9fcff 666px,#fbfffb 690px,#fffff0 701px,#fffbd8 713px,#ffdfa0 761px,#ffd896 781px,#ffd594 815px)"></i><i style="top:140px;height:11px;background:linear-gradient(90deg,#ffd392 0px,#ffde9e 54px,#fffbd9 103px,#fffff0 114px,#fbfffb 125px,#c7fcff 149px,#86f2ff 171px,#02dcfc 204px,#00b3fa 224px,#0068ff 268px,#0046ff 308px,#0039ff 360px,#003aff 460px,#0045ff 504px,#0060ff 540px,#008aff 569px,#00dbfc 610px,#86f2ff 644px,#c7fcff 666px,#fbfffb 690px,#fffff0 701px,#fffbd9 712px,#ffde9e 761px,#ffd392 815px)"></i><i style="top:150px;height:11px;background:linear-gradient(90deg,#ffd190 0px,#ffdd9b 54px,#fffbd8 103px,#fffff0 114px,#fafffb 125px,#c7fcff 148px,#85f2ff 170px,#00dbfc 203px,#00aefb 224px,#0062ff 268px,#0040ff 308px,#0032ff 360px,#0033ff 462px,#003fff 506px,#005cff 542px,#0086ff 570px,#00dbfc 612px,#85f2ff 645px,#c7fcff 667px,#fafffb 690px,#fffff0 701px,#fffbd8 712px,#ffdd9b 761px,#ffd190 815px)"></i><i style="top:160px;height:11px;background:linear-gradient(90deg,#ffcf8e 0px,#ffd190 33px,#ffdc9a 55px,#fffbd8 103px,#fffff0 114px,#fbfffb 124px,#c7fcff 147px,#84f2ff 169px,#00dbfc 201px,#00a9fc 224px,#005fff 265px,#0038ff 310px,#022cfd 361px,#012efe 469px,#003cff 511px,#005aff 546px,#0085ff 573px,#00dbfc 614px,#84f2ff 646px,#c7fcff 668px,#fbfffb 691px,#fffff0 701px,#fffbd8 712px,#ffdc9a 760px,#ffd190 782px,#ffcf8e 815px)"></i><i style="top:170px;height:11px;background:linear-gradient(90deg,#ffcd8c 0px,#ffcf8e 34px,#ffdc9a 57px,#fffbd8 103px,#fffff0 114px,#fbfffb 124px,#c8fcff 146px,#86f2ff 167px,#00dcfc 199px,#00a4fd 224px,#005bff 264px,#0032ff 310px,#0427fb 364px,#0329fc 471px,#0035ff 511px,#0056ff 547px,#0081ff 574px,#00dcfc 616px,#86f2ff 648px,#c8fcff 669px,#fbfffb 691px,#fffff0 701px,#fffbd8 712px,#ffdc9a 758px,#ffcf8e 781px,#ffcd8c 815px)"></i><i style="top:180px;height:11px;background:linear-gradient(90deg,#ffcb8a 0px,#ffce8d 35px,#ffdc9a 59px,#fffbd8 103px,#fffff1 114px,#fafffb 124px,#c8fcff 145px,#86f2ff 166px,#01dcfc 197px,#009ffd 224px,#0059ff 261px,#002fff 304px,#0721f9 361px,#0623fa 473px,#0030ff 513px,#004fff 547px,#007bff 574px,#00dafc 617px,#86f2ff 649px,#c8fcff 670px,#fafffb 691px,#fffff1 701px,#fffbd8 712px,#ffdc9a 756px,#ffce8d 780px,#ffcb8a 815px)"></i><i style="top:190px;height:11px;background:linear-gradient(90deg,#ffc988 0px,#ffcc8b 36px,#ffdb99 60px,#fffbd8 103px,#ffffef 113px,#fbfffb 123px,#c7fcff 144px,#86f2ff 164px,#01dcfc 194px,#00d8fb 196px,#0066ff 246px,#0036ff 280px,#081ef7 321px,#0c16f4 381px,#0a19f5 476px,#0030ff 529px,#0063ff 567px,#00dafc 620px,#86f2ff 651px,#c7fcff 671px,#fbfffb 692px,#ffffef 702px,#fffbd8 712px,#ffdb99 755px,#ffcc8b 779px,#ffc988 815px)"></i><i style="top:200px;height:11px;background:linear-gradient(90deg,#ffc988 0px,#ffcc8b 36px,#ffdb99 60px,#fffbd7 102px,#fffff0 112px,#fafffb 122px,#c8fcff 141px,#85f2ff 160px,#30e6ff 179px,#00dcfc 188px,#00c7f8 196px,#004dff 245px,#0030ff 262px,#0b17f4 286px,#1208ee 309px,#1706e4 352px,#1805e2 430px,#1208ee 507px,#0524fa 543px,#0038ff 558px,#0060ff 579px,#00dcfc 627px,#30e6ff 636px,#85f2ff 655px,#c8fcff 674px,#fafffb 693px,#fffff0 703px,#fffbd7 713px,#ffdb99 755px,#ffcc8b 779px,#ffc988 815px)"></i><i style="top:210px;height:11px;background:linear-gradient(90deg,#ffc988 0px,#ffcc8c 36px,#ffdc9a 60px,#fffbd9 102px,#fffff0 111px,#fbfffb 120px,#c7fcff 139px,#84f2ff 157px,#00dcfc 183px,#00b6fa 196px,#0060ff 226px,#003dff 241px,#1208ee 276px,#1d03da 305px,#2201cf 340px,#2301ce 469px,#1d03d9 507px,#1208ee 539px,#0b18f5 552px,#0030ff 568px,#0059ff 586px,#00dcfc 632px,#84f2ff 658px,#c7fcff 676px,#fbfffb 695px,#fffff0 704px,#fffbd9 713px,#ffdc9a 755px,#ffcc8c 779px,#ffc988 815px)"></i><i style="top:220px;height:11px;background:linear-gradient(90deg,#ffc988 0px,#ffcc8c 36px,#ffdc9a 60px,#fffbd7 101px,#fffff0 111px,#fbfffb 120px,#c9fcff 138px,#86f2ff 156px,#03ddfc 182px,#00b5fa 196px,#0062ff 225px,#003cff 241px,#1208ee 276px,#1d03da 305px,#2201cf 340px,#2301cf 470px,#1d03d9 508px,#1208ee 539px,#0b18f5 552px,#0030ff 568px,#0058ff 586px,#00dbfc 632px,#86f2ff 659px,#c9fcff 677px,#fbfffb 695px,#fffff0 704px,#fffbd7 714px,#ffdc9a 755px,#ffcc8c 779px,#ffc988 815px)"></i><i style="top:230px;height:11px;background:linear-gradient(90deg,#ffc988 0px,#ffcd8c 36px,#ffdc9a 60px,#fffbd7 101px,#fffff0 111px,#fafffb 120px,#c8fcff 138px,#84f2ff 156px,#00dcfc 182px,#00b4fa 196px,#0061ff 225px,#003cff 241px,#1208ee 276px,#1d03d9 306px,#2201cf 341px,#2201cf 472px,#1d03d9 508px,#1208ee 539px,#0b19f5 553px,#0031ff 569px,#005aff 587px,#00dcfc 633px,#84f2ff 659px,#c8fcff 677px,#fafffb 695px,#fffff0 704px,#fffbd7 714px,#ffdc9a 755px,#ffcd8c 779px,#ffc988 815px)"></i><i style="top:240px;height:11px;background:linear-gradient(90deg,#ffc988 0px,#ffcd8c 36px,#ffdc9a 60px,#fffbd8 101px,#ffffef 110px,#fbfffa 119px,#c7fcff 138px,#87f2ff 155px,#00dbfc 182px,#00b3fa 196px,#0060ff 225px,#003bff 241px,#1208ee 275px,#1d03da 305px,#2201cf 340px,#2201cf 473px,#1d03d9 509px,#1208ed 539px,#0a1af5 554px,#0031ff 569px,#0059ff 587px,#00dbfc 633px,#87f2ff 660px,#c7fcff 677px,#fbfffa 696px,#ffffef 705px,#fffbd8 714px,#ffdc9a 755px,#ffcd8c 779px,#ffc988 815px)"></i><i style="top:250px;height:11px;background:linear-gradient(90deg,#ffc988 0px,#ffcc8b 35px,#ffdb99 59px,#fffbd8 101px,#fffff0 110px,#fbfffb 119px,#c9fcff 137px,#85f2ff 155px,#02dcfc 181px,#00b2fb 196px,#0060ff 225px,#003bff 241px,#1208ee 275px,#1d03da 305px,#2201cf 341px,#2201cf 475px,#1d03da 510px,#1208ed 539px,#0a19f5 554px,#0030ff 569px,#005bff 588px,#00dafc 633px,#85f2ff 660px,#c9fcff 678px,#fbfffb 696px,#fffff0 705px,#fffbd8 714px,#ffdb99 756px,#ffcc8b 780px,#ffc988 815px)"></i><i style="top:260px;height:11px;background:linear-gradient(90deg,#ffc988 0px,#ffcc8c 35px,#ffdb99 59px,#fffbd9 101px,#fffff0 110px,#fbfffb 119px,#c8fcff 137px,#84f2ff 155px,#00dcfc 181px,#00b1fb 196px,#0061ff 224px,#003cff 240px,#1208ee 275px,#1d03da 305px,#2201cf 341px,#2201cf 476px,#1d03da 511px,#1208ee 540px,#0a1af6 555px,#0030ff 569px,#005aff 588px,#00dcfc 634px,#84f2ff 660px,#c8fcff 678px,#fbfffb 696px,#fffff0 705px,#fffbd9 714px,#ffdb99 756px,#ffcc8c 780px,#ffc988 815px)"></i><i style="top:270px;height:11px;background:linear-gradient(90deg,#ffc989 0px,#ffcc8c 35px,#ffdb99 59px,#fffbd7 100px,#fffff0 110px,#fafffb 119px,#c6fcff 137px,#86f2ff 154px,#03ddfc 180px,#00b0fb 196px,#0061ff 224px,#0039ff 241px,#1208ee 275px,#1d03da 305px,#2201cf 341px,#2201d0 477px,#1d03da 511px,#1208ee 540px,#091bf6 556px,#0031ff 570px,#005cff 589px,#00dbfc 634px,#86f2ff 661px,#c6fcff 678px,#fafffb 696px,#fffff0 705px,#fffbd7 715px,#ffdb99 756px,#ffcc8c 780px,#ffc989 815px)"></i><i style="top:280px;height:11px;background:linear-gradient(90deg,#ffc989 0px,#ffcd8c 35px,#ffdc9a 59px,#fffbd7 100px,#ffffef 109px,#fbfffa 118px,#c9fcff 136px,#85f2ff 154px,#01dcfc 180px,#00affb 196px,#0060ff 224px,#0039ff 241px,#1208ee 275px,#1d03d9 306px,#2201cf 342px,#2201d0 479px,#1c03db 512px,#1208ee 540px,#091cf7 557px,#0031ff 570px,#005dff 590px,#00dafc 634px,#85f2ff 661px,#c9fcff 679px,#fbfffa 697px,#ffffef 706px,#fffbd7 715px,#ffdc9a 756px,#ffcd8c 780px,#ffc989 815px)"></i><i style="top:290px;height:11px;background:linear-gradient(90deg,#ffc989 0px,#ffcd8c 35px,#ffdc9a 59px,#fffbd8 100px,#ffffef 109px,#fbfffb 118px,#c8fcff 136px,#87f2ff 153px,#00dbfc 180px,#00aefb 196px,#0062ff 223px,#003aff 240px,#1208ee 274px,#1d03d9 305px,#2201cf 342px,#2201d0 480px,#1c03da 512px,#1208ed 540px,#081ef7 558px,#0030ff 570px,#005fff 591px,#00dbfc 635px,#87f2ff 662px,#c8fcff 679px,#fbfffb 697px,#ffffef 706px,#fffbd8 715px,#ffdc9a 756px,#ffcd8c 780px,#ffc989 815px)"></i><i style="top:300px;height:11px;background:linear-gradient(90deg,#ffcb8a 0px,#ffce8d 35px,#ffdc9a 58px,#fffbd9 100px,#fffff0 109px,#fbfffa 117px,#c9fcff 135px,#85f2ff 153px,#01dcfc 179px,#00acfb 196px,#0061ff 223px,#003aff 240px,#1208ee 274px,#1d03d9 306px,#2301cf 343px,#2201d1 483px,#1c04db 514px,#1208ee 541px,#081ef8 559px,#0031ff 571px,#005eff 591px,#00dafc 635px,#85f2ff 662px,#c9fcff 680px,#fafffb 697px,#fffff0 706px,#fffbd9 715px,#ffdc9a 757px,#ffce8d 780px,#ffcb8a 815px)"></i><i style="top:310px;height:11px;background:linear-gradient(90deg,#ffcf8e 0px,#ffd190 32px,#ffdc9a 54px,#fffbd7 98px,#fffff0 108px,#fafffb 117px,#c6fcff 135px,#85f2ff 152px,#02dcfc 178px,#00aafc 196px,#0062ff 222px,#0038ff 240px,#1208ee 274px,#1d03d9 306px,#2301cf 345px,#2101d2 489px,#1208ee 541px,#0622f9 562px,#005fff 592px,#00dafc 636px,#85f2ff 663px,#c6fcff 680px,#fafffb 698px,#fffff0 707px,#fffbd7 717px,#ffdc9a 761px,#ffd190 783px,#ffcf8e 815px)"></i><i style="top:320px;height:11px;background:linear-gradient(90deg,#ffd391 0px,#ffd594 33px,#ffde9e 53px,#fffbd8 97px,#fffff0 107px,#fbfffb 116px,#c8fcff 134px,#84f2ff 152px,#03ddfc 178px,#00abfc 196px,#0061ff 223px,#003aff 241px,#1208ee 277px,#1c04db 309px,#2101d2 348px,#1e03d7 492px,#1208ee 537px,#032afc 565px,#005fff 591px,#00dafc 636px,#84f2ff 663px,#c8fcff 681px,#fbfffb 699px,#fffff0 708px,#fffbd8 718px,#ffde9e 762px,#ffd594 782px,#ffd391 815px)"></i><i style="top:330px;height:11px;background:linear-gradient(90deg,#ffd795 0px,#ffd998 34px,#ffe0a2 53px,#fffbd7 96px,#ffffef 106px,#fbfffb 116px,#c7fcff 135px,#83f2ff 154px,#00dcfc 182px,#00b7fa 196px,#0063ff 230px,#003fff 249px,#0524fa 269px,#0f0ef1 296px,#1806e3 367px,#1507e8 487px,#0f0ef1 519px,#0031ff 557px,#0061ff 584px,#00dcfc 633px,#83f2ff 661px,#c7fcff 680px,#fbfffb 699px,#ffffef 709px,#fffbd7 719px,#ffe0a2 762px,#ffd998 781px,#ffd795 815px)"></i><i style="top:340px;height:11px;background:linear-gradient(90deg,#ffda99 0px,#ffdc9b 31px,#ffe3a6 53px,#fffad6 94px,#ffffef 105px,#fbfffb 115px,#c9fcff 134px,#86f2ff 153px,#01dcfc 182px,#00b9fa 196px,#0069ff 229px,#0045ff 248px,#032afd 267px,#0d13f3 295px,#1208ee 322px,#1606e7 400px,#1308ed 490px,#0b17f4 525px,#0035ff 557px,#0065ff 584px,#00dafc 632px,#33e6ff 643px,#83f2ff 661px,#c6fcff 680px,#fbfffb 700px,#ffffef 710px,#fffad6 721px,#ffe3a6 762px,#ffdc9b 784px,#ffda99 815px)"></i><i style="top:350px;height:11px;background:linear-gradient(90deg,#ffde9d 0px,#ffdf9f 31px,#ffe5ab 53px,#fffad6 92px,#ffffef 104px,#fbfffb 114px,#c9fcff 133px,#83f2ff 153px,#02dcfc 181px,#00b7fa 196px,#0068ff 229px,#0044ff 248px,#032afc 267px,#0d13f3 295px,#1208ed 323px,#1606e7 413px,#1208ee 494px,#0a1af6 530px,#0039ff 560px,#0068ff 586px,#00dbfc 633px,#30e6ff 643px,#83f2ff 662px,#c6fcff 681px,#fbfffb 701px,#ffffef 711px,#fffad6 723px,#ffe5ab 762px,#ffdf9f 784px,#ffde9d 815px)"></i><i style="top:360px;height:11px;background:linear-gradient(90deg,#ffe0a1 0px,#ffe1a4 31px,#ffe7ae 52px,#fffad5 90px,#fffff0 103px,#fbfffb 113px,#c7fcff 133px,#84f2ff 152px,#00dbfc 181px,#00b5fa 196px,#0067ff 229px,#0043ff 248px,#0329fc 267px,#0d13f3 295px,#1208ed 323px,#1606e7 412px,#1208ee 494px,#0a1af6 531px,#003aff 561px,#0069ff 587px,#00dbfc 634px,#84f2ff 663px,#c7fcff 682px,#fbfffb 702px,#fffff0 712px,#fffad5 725px,#ffe7ae 763px,#ffe1a4 784px,#ffe0a1 815px)"></i><i style="top:370px;height:11px;background:linear-gradient(90deg,#ffe3a6 0px,#ffe9b2 51px,#fff9d4 87px,#fffff0 102px,#fbfffb 112px,#c7fcff 132px,#85f2ff 151px,#00dcfc 180px,#00b4fa 196px,#0065ff 229px,#0042ff 248px,#0428fc 268px,#0d12f2 296px,#1208ee 320px,#1506e7 380px,#1208ee 495px,#0a1bf6 532px,#003bff 562px,#006aff 588px,#00dcfc 635px,#85f2ff 664px,#c7fcff 683px,#fbfffb 703px,#fffff0 713px,#fff9d4 728px,#ffe9b2 764px,#ffe3a6 815px)"></i><i style="top:380px;height:11px;background:linear-gradient(90deg,#ffe6ad 0px,#ffe8b1 35px,#fff1c1 64px,#fffbd7 88px,#ffffef 100px,#fbfffb 111px,#c9fcff 131px,#86f2ff 151px,#00dcfc 181px,#00b7fa 196px,#0052ff 243px,#0030ff 267px,#071ff8 287px,#110bef 345px,#110aef 457px,#0c15f4 509px,#0031ff 549px,#0064ff 582px,#00dcfc 634px,#86f2ff 664px,#c9fcff 684px,#fbfffb 704px,#ffffef 715px,#fffbd7 727px,#fff1c1 751px,#ffe8b1 780px,#ffe6ad 815px)"></i><i style="top:390px;height:11px;background:linear-gradient(90deg,#ffeab3 0px,#ffebb6 32px,#fff2c4 63px,#fffbd7 86px,#fffff0 99px,#fafffb 111px,#c8fcff 132px,#85f2ff 153px,#00dcfc 185px,#00c3f8 196px,#0061ff 245px,#0030ff 289px,#081ef7 346px,#091df7 453px,#0428fb 509px,#0043ff 547px,#0072ff 580px,#00dcfc 630px,#85f2ff 662px,#c8fcff 683px,#fafffb 704px,#fffff0 716px,#fffbd7 729px,#fff2c4 752px,#ffebb6 783px,#ffeab3 815px)"></i><i style="top:400px;height:11px;background:linear-gradient(90deg,#ffedba 0px,#fff3c6 62px,#fffbd8 84px,#fffff0 98px,#fbfffb 110px,#c8fcff 133px,#86f2ff 155px,#02dcfc 189px,#00cefa 196px,#0070ff 248px,#0045ff 290px,#0032ff 343px,#002fff 438px,#0038ff 498px,#0053ff 542px,#007fff 577px,#00dbfc 625px,#86f2ff 660px,#c8fcff 682px,#fbfffb 705px,#fffff0 717px,#fffbd8 731px,#fff3c6 753px,#ffedba 815px)"></i><i style="top:410px;height:11px;background:linear-gradient(90deg,#fff0be 0px,#fff5ca 62px,#fffbd7 81px,#fffff0 97px,#fafffb 110px,#c8fcff 134px,#85f2ff 158px,#00d9fc 196px,#0087ff 245px,#005eff 284px,#004aff 334px,#0045ff 413px,#004bff 485px,#0060ff 533px,#0089ff 571px,#00dbfc 620px,#85f2ff 657px,#c8fcff 681px,#fafffb 705px,#fffff0 718px,#fffbd7 734px,#fff5ca 753px,#fff0be 815px)"></i><i style="top:420px;height:11px;background:linear-gradient(90deg,#fff1c2 0px,#fff6cd 62px,#fffbd8 78px,#fbfffb 109px,#c9fcff 135px,#85f2ff 161px,#00dbfc 201px,#00b6fa 224px,#0080ff 268px,#0066ff 311px,#005cff 365px,#005dff 463px,#0066ff 506px,#007bff 541px,#00a4fd 578px,#00dbfc 614px,#85f2ff 654px,#c9fcff 680px,#fbfffb 706px,#fffbd8 737px,#fff6cd 753px,#fff1c2 815px)"></i><i style="top:430px;height:11px;background:linear-gradient(90deg,#fff3c7 0px,#fff8d1 62px,#fafffb 109px,#c8fcff 137px,#84f2ff 165px,#00dcfc 208px,#00c5f8 224px,#0099fe 263px,#007dff 309px,#0073ff 360px,#0073ff 448px,#007aff 496px,#008bff 533px,#00abfc 570px,#00dbfc 606px,#84f2ff 650px,#c8fcff 678px,#fafffb 706px,#fff8d1 753px,#fff3c7 815px)"></i><i style="top:440px;height:11px;background:linear-gradient(90deg,#fff5cb 0px,#fff9d4 62px,#fbfffb 108px,#c8fcff 138px,#84f2ff 168px,#00dcfc 215px,#00d0fa 224px,#00a6fc 264px,#008fff 307px,#0085ff 356px,#0084ff 436px,#0089ff 489px,#0099fe 530px,#00b3fb 565px,#00dcfc 600px,#84f2ff 647px,#c8fcff 677px,#fbfffb 707px,#fff9d4 753px,#fff5cb 815px)"></i><i style="top:450px;height:11px;background:linear-gradient(90deg,#fff7cf 0px,#fffbd8 62px,#fafffb 106px,#c8fcff 138px,#83f2ff 170px,#01dcfc 220px,#00d8fb 224px,#00b4fa 261px,#009efe 300px,#0094ff 346px,#0092ff 418px,#0096ff 479px,#00a1fd 521px,#00b7fa 558px,#00dcfc 594px,#85f2ff 646px,#c8fcff 677px,#fafffb 709px,#fffbd8 753px,#fff7cf 815px)"></i><i style="top:460px;height:11px;background:linear-gradient(90deg,#fff8d2 0px,#fffbd8 52px,#fafffb 104px,#c8fcff 138px,#83f2ff 172px,#00dcfc 228px,#00b0fb 287px,#00a0fd 359px,#00a3fd 481px,#00b5fa 538px,#00dcfc 587px,#83f2ff 643px,#c8fcff 677px,#fafffb 711px,#fffbd8 763px,#fff8d2 815px)"></i><i style="top:470px;height:11px;background:linear-gradient(90deg,#fffad5 0px,#fffbdb 46px,#fafffb 102px,#c8fcff 138px,#00dcfc 236px,#00bbf9 287px,#00adfb 357px,#00aefb 474px,#00bcf9 531px,#00dcfc 579px,#c8fcff 677px,#fafffb 713px,#fffbdb 769px,#fffad5 815px)"></i><i style="top:480px;height:11px;background:linear-gradient(90deg,#fffbd9 0px,#fffcdf 45px,#fbfffb 99px,#c8fcff 138px,#00dcfc 247px,#00c6f8 287px,#00b8fa 353px,#00b9fa 463px,#00c3f8 521px,#00dcfc 568px,#c8fcff 677px,#fbfffb 716px,#fffcdf 770px,#fffbd9 815px)"></i><i style="top:490px;height:11px;background:linear-gradient(90deg,#fffcde 0px,#fffde4 42px,#fbfffb 97px,#c8fcff 139px,#47e9ff 213px,#10dffd 249px,#00dcfc 262px,#00d1fa 287px,#00c4f8 348px,#00c3f8 444px,#00caf9 506px,#00dcfc 553px,#40e8ff 598px,#c8fcff 676px,#fbfffb 718px,#fffde4 773px,#fffcde 815px)"></i><i style="top:500px;height:11px;background:linear-gradient(90deg,#fffde3 0px,#fffee8 38px,#fafffb 95px,#c8fcff 141px,#50ebff 220px,#1fe2fe 262px,#00dcfc 305px,#00d6fb 349px,#00d4fb 445px,#05ddfc 519px,#1be2fe 549px,#3ee8ff 581px,#c8fcff 674px,#fafffb 720px,#fffee8 777px,#fffde3 815px)"></i><i style="top:510px;height:11px;background:linear-gradient(90deg,#fffee9 0px,#fbfffb 92px,#c8fcff 145px,#61edff 225px,#3ce8ff 264px,#1de2fe 325px,#14e0fd 407px,#1de2fe 489px,#3be8ff 550px,#61edff 590px,#c8fcff 670px,#fbfffb 723px,#fffee9 815px)"></i><i style="top:520px;height:11px;background:linear-gradient(90deg,#fffeeb 0px,#fbfffb 91px,#c8fcff 150px,#70efff 233px,#56ebff 267px,#3fe8ff 326px,#37e7ff 407px,#3fe8ff 489px,#56ebff 548px,#70efff 582px,#c8fcff 665px,#fbfffb 724px,#fffeeb 815px)"></i><i style="top:530px;height:11px;background:linear-gradient(90deg,#fffeec 0px,#fbfffb 89px,#79f0ff 231px,#60edff 266px,#4aeaff 326px,#42e9ff 407px,#4aeaff 489px,#60edff 549px,#79f0ff 584px,#fbfffb 726px,#fffeec 815px)"></i><i style="top:540px;height:11px;background:linear-gradient(90deg,#fffeec 0px,#fbfffb 87px,#95f5ff 204px,#69eeff 265px,#54ebff 326px,#4ceaff 407px,#52ebff 478px,#62edff 534px,#91f4ff 606px,#fbfffb 728px,#fffeec 815px)"></i><i style="top:550px;height:11px;background:linear-gradient(90deg,#ffffed 0px,#fbfffb 85px,#96f5ff 208px,#6beeff 280px,#5cecff 336px,#57ecff 407px,#5cecff 478px,#6beeff 535px,#96f5ff 607px,#fbfffb 730px,#ffffed 815px)"></i><i style="top:560px;height:11px;background:linear-gradient(90deg,#ffffee 0px,#fbfffb 84px,#9cf5ff 207px,#75f0ff 280px,#66eeff 337px,#61edff 407px,#66eeff 478px,#75f0ff 535px,#9cf5ff 608px,#fbfffb 731px,#ffffee 815px)"></i><i style="top:570px;height:11px;background:linear-gradient(90deg,#ffffef 0px,#fbfffb 82px,#a1f6ff 207px,#7ef1ff 280px,#70efff 337px,#6beeff 407px,#70efff 477px,#7ef1ff 535px,#a1f6ff 608px,#fbfffb 733px,#ffffef 815px)"></i><i style="top:580px;height:11px;background:linear-gradient(90deg,#ffffef 0px,#fbfffb 81px,#aaf8ff 200px,#8cf3ff 263px,#7af1ff 332px,#75f0ff 407px,#7af1ff 482px,#8bf3ff 551px,#aaf8ff 615px,#fbfffb 734px,#ffffef 815px)"></i><i style="top:590px;height:11px;background:linear-gradient(90deg,#fffff0 0px,#fbfffb 80px,#adf8ff 200px,#91f4ff 264px,#81f2ff 337px,#7cf1ff 407px,#81f2ff 478px,#91f4ff 551px,#adf8ff 615px,#fbfffb 735px,#fffff0 815px)"></i><i style="top:600px;height:11px;background:linear-gradient(90deg,#fffff0 0px,#fbfffb 80px,#b2f9ff 200px,#96f5ff 265px,#89f3ff 330px,#84f2ff 407px,#89f3ff 485px,#96f5ff 550px,#b2f9ff 615px,#fbfffb 735px,#fffff0 815px)"></i><i style="top:610px;height:11px;background:linear-gradient(90deg,#fffff0 0px,#fbfffb 81px,#b6f9ff 200px,#9cf5ff 266px,#8af3ff 407px,#9cf5ff 549px,#b6f9ff 615px,#fbfffb 734px,#fffff0 815px)"></i><i style="top:620px;height:11px;background:linear-gradient(90deg,#fffff1 0px,#fbfffb 81px,#bafaff 201px,#a1f6ff 267px,#91f4ff 407px,#a1f6ff 548px,#bafaff 614px,#fbfffb 734px,#fffff1 815px)"></i><i style="top:630px;height:11px;background:linear-gradient(90deg,#fffff1 0px,#fbfffb 81px,#d2fdfe 156px,#a6f7ff 268px,#97f5ff 407px,#a6f7ff 547px,#d2fdfe 659px,#fbfffb 734px,#fffff1 815px)"></i><i style="top:640px;height:11px;background:linear-gradient(90deg,#fffff1 0px,#fbfffb 82px,#d4fdfe 157px,#acf8ff 270px,#9df6ff 407px,#acf8ff 545px,#d4fdfe 658px,#fbfffb 733px,#fffff1 815px)"></i><i style="top:650px;height:11px;background:linear-gradient(90deg,#fffff1 0px,#fbfffb 83px,#d6fdfe 159px,#b1f9ff 272px,#a3f7ff 407px,#b1f9ff 543px,#d6fdfe 656px,#fbfffb 732px,#fffff1 815px)"></i><i style="top:660px;height:11px;background:linear-gradient(90deg,#fffff1 0px,#fbfffb 84px,#d7fdfe 162px,#b6f9ff 275px,#aaf8ff 407px,#b6f9ff 540px,#d7fdfe 653px,#fbfffb 731px,#fffff1 815px)"></i><i style="top:670px;height:11px;background:linear-gradient(90deg,#fefff1 0px,#fbfffb 85px,#d9fdfe 166px,#bcfaff 279px,#b0f8ff 407px,#bcfaff 536px,#d9fdfe 649px,#fbfffb 730px,#fefff1 815px)"></i><i style="top:680px;height:11px;background:linear-gradient(90deg,#fefff2 0px,#fbfffb 87px,#cdfcff 224px,#bcfaff 317px,#b6f9ff 407px,#bcfaff 497px,#cdfcff 590px,#fbfffb 728px,#fefff2 815px)"></i><i style="top:690px;height:11px;background:linear-gradient(90deg,#fefff2 0px,#fbfffb 89px,#d0fcfe 228px,#bdfaff 407px,#d0fcfe 586px,#fbfffb 726px,#fefff2 815px)"></i><i style="top:700px;height:11px;background:linear-gradient(90deg,#fefff2 0px,#fbfffb 92px,#d3fdfe 234px,#c3fbff 407px,#d3fdfe 581px,#fbfffb 723px,#fefff2 815px)"></i><i style="top:710px;height:11px;background:linear-gradient(90deg,#fefff2 0px,#fbfffb 95px,#d6fdfe 240px,#c9fcff 407px,#d2fdfe 546px,#e4fefd 646px,#fbfffb 720px,#fefff2 815px)"></i><i style="top:720px;height:11px;background:linear-gradient(90deg,#fefff2 0px,#fbfffb 99px,#dafdfe 244px,#cdfcff 407px,#d9fdfe 570px,#fbfffb 716px,#fefff2 815px)"></i><i style="top:730px;height:11px;background:linear-gradient(90deg,#fefff2 0px,#fbfffb 104px,#ddfdfd 250px,#d2fdfe 407px,#ddfdfd 564px,#fbfffb 711px,#fefff2 815px)"></i><i style="top:740px;height:11px;background:linear-gradient(90deg,#fefff2 0px,#fbfffb 104px,#ddfdfd 250px,#d2fdfe 407px,#ddfdfd 564px,#fbfffb 711px,#fefff2 815px)"></i></div></div>
<svg width="2039" height="3562" viewBox="0 0 2039 3562"><clipPath id="cpa"><rect x="303.0" y="98.1" width="796.0" height="728.5"/></clipPath><g clip-path="url(#cpa)"><path d="M300.0 208.9C309.0 210.1 337.2 213.2 354.0 216.3C370.8 219.4 387.8 223.4 400.6 227.3C413.4 231.2 422.8 235.8 430.9 239.7C439.0 243.6 446.4 248.9 449.5 250.7M575.1 331.7C581.8 334.7 601.5 345.5 615.0 349.6C628.5 353.7 642.0 355.0 656.0 356.4C670.0 357.8 684.9 357.8 699.0 357.8C713.1 357.8 726.7 357.9 740.6 356.4C754.5 354.9 768.3 352.8 782.2 348.7C796.1 344.6 810.0 338.9 823.9 332.0C837.8 325.1 851.6 315.7 865.5 307.1C879.4 298.6 893.2 289.7 907.1 280.7C921.0 271.7 937.1 260.2 948.7 253.0C960.3 245.8 967.2 242.1 976.5 237.7C985.8 233.3 992.7 230.1 1004.2 226.6C1015.8 223.1 1029.5 219.8 1045.8 216.9C1062.1 214.0 1092.6 210.7 1102.0 209.4M300.0 360.5C309.0 361.8 336.8 365.0 354.0 368.2C371.2 371.4 387.8 375.4 403.4 379.8C419.0 384.2 440.1 392.4 447.4 394.9M580.6 462.2C588.6 464.7 613.8 474.1 628.7 477.3C643.6 480.5 657.9 480.7 669.9 481.4C681.9 482.1 686.9 482.1 701.0 481.5C715.1 480.9 736.3 480.9 754.5 477.7C772.7 474.5 791.5 468.6 810.0 462.4C828.5 456.1 847.0 448.5 865.5 440.2C884.0 431.9 902.5 421.5 921.0 412.5C939.5 403.5 962.6 392.1 976.5 386.1C990.4 380.1 992.7 379.4 1004.2 376.4C1015.8 373.4 1029.5 371.1 1045.8 368.1C1062.1 365.1 1092.6 360.0 1102.0 358.4M300.0 509.7C309.0 510.9 339.7 514.9 354.0 517.1C368.3 519.3 377.7 520.9 385.9 522.7C394.1 524.5 393.8 525.2 403.4 528.1C413.0 531.0 437.1 538.1 443.8 540.1M584.3 592.3C592.2 594.2 612.5 601.2 632.0 603.9C651.5 606.5 679.9 608.0 701.0 608.2C722.1 608.4 739.6 607.9 758.9 605.3C778.2 602.6 797.5 597.8 816.8 592.3C836.1 586.8 855.5 579.2 874.8 572.0C894.1 564.8 913.4 556.5 932.7 548.8C952.0 541.1 976.1 530.5 990.6 525.6C1005.1 520.7 1007.5 521.5 1019.6 519.3C1031.7 517.1 1049.3 514.4 1063.0 512.6C1076.7 510.8 1095.5 509.0 1102.0 508.3" fill="none" stroke="#000" stroke-width="5.2" stroke-linejoin="round"/></g><text transform="translate(511.0 290.8) rotate(32.8)" x="0" y="18.6" font-family="'Liberation Sans',Arial,sans-serif" font-size="52" text-anchor="middle">1505</text><text transform="translate(513.7 428.6) rotate(26.8)" x="0" y="18.6" font-family="'Liberation Sans',Arial,sans-serif" font-size="52" text-anchor="middle">1495</text><text transform="translate(513.6 566.2) rotate(20.4)" x="0" y="18.6" font-family="'Liberation Sans',Arial,sans-serif" font-size="52" text-anchor="middle">1485</text><clipPath id="cpb"><rect x="303.0" y="901.2" width="796.0" height="730.3"/></clipPath><g clip-path="url(#cpb)"><path d="M300.0 909.2C323.6 909.5 417.8 910.5 441.3 910.7M592.3 913.6C610.4 913.8 649.0 915.2 701.0 915.0C753.0 914.8 837.5 912.9 904.3 912.1C971.1 911.3 1069.0 910.4 1102.0 910.1M300.0 934.8C314.4 935.0 362.1 935.1 386.1 936.2C410.1 937.3 434.5 940.4 444.2 941.2M592.3 956.6C601.5 957.1 629.4 958.9 647.5 959.5C665.6 960.1 677.6 960.8 701.0 960.3C724.4 959.8 759.1 958.4 788.1 956.6C817.1 954.8 851.1 951.5 875.3 949.3C899.5 947.1 914.0 945.3 933.4 943.5C952.8 941.7 963.3 939.8 991.4 938.3C1019.5 936.8 1083.6 935.4 1102.0 934.8M300.0 1024.8C309.5 1025.3 340.3 1025.8 357.1 1027.7C373.9 1029.7 385.2 1031.4 400.7 1036.5C416.2 1041.6 441.8 1054.6 450.0 1058.2M577.8 1138.1C584.6 1141.0 604.5 1150.5 618.5 1155.6C632.5 1160.7 648.2 1165.7 662.0 1168.6C675.8 1171.5 684.8 1173.2 701.0 1173.0C717.2 1172.8 739.7 1171.5 759.1 1167.2C778.5 1162.9 797.8 1156.1 817.2 1146.9C836.6 1137.7 855.9 1124.1 875.3 1112.0C894.7 1099.9 914.0 1086.1 933.4 1074.2C952.8 1062.3 976.9 1047.8 991.4 1040.8C1005.9 1033.8 1008.4 1034.5 1020.5 1032.1C1032.6 1029.7 1050.4 1027.5 1064.0 1026.3C1077.6 1025.1 1095.7 1025.0 1102.0 1024.8M300.0 1168.6C309.5 1169.1 340.3 1169.5 357.1 1171.5C373.9 1173.5 385.4 1175.9 400.7 1180.3C415.9 1184.7 440.6 1194.8 448.6 1197.7M582.2 1266.0C590.7 1268.9 613.2 1279.3 633.0 1283.4C652.8 1287.5 680.0 1290.2 701.0 1290.7C722.0 1291.2 739.7 1290.4 759.1 1286.3C778.5 1282.2 797.8 1274.5 817.2 1266.0C836.6 1257.5 855.9 1245.9 875.3 1235.5C894.7 1225.1 914.0 1212.7 933.4 1203.5C952.8 1194.3 976.9 1185.1 991.4 1180.3C1005.9 1175.5 1008.4 1176.2 1020.5 1174.5C1032.6 1172.8 1050.4 1170.8 1064.0 1170.1C1077.6 1169.4 1095.7 1170.1 1102.0 1170.1M300.0 1322.6C309.5 1322.8 340.3 1322.9 357.1 1324.1C373.9 1325.3 385.7 1327.0 400.7 1329.9C415.7 1332.8 439.4 1339.6 447.1 1341.5M586.5 1393.8C594.2 1396.0 613.9 1403.8 633.0 1406.9C652.1 1410.1 680.0 1412.0 701.0 1412.7C722.0 1413.4 739.7 1413.9 759.1 1411.2C778.5 1408.5 797.8 1403.5 817.2 1396.7C836.6 1389.9 855.9 1379.8 875.3 1370.6C894.7 1361.4 914.0 1349.0 933.4 1341.5C952.8 1334.0 976.9 1328.7 991.4 1325.5C1005.9 1322.3 1008.4 1323.3 1020.5 1322.6C1032.6 1321.9 1050.4 1321.2 1064.0 1321.2C1077.6 1321.2 1095.7 1322.4 1102.0 1322.6" fill="none" stroke="#000" stroke-width="5.2" stroke-linejoin="round"/></g><text transform="translate(518.8 912.2) rotate(1.1)" x="0" y="18.6" font-family="'Liberation Sans',Arial,sans-serif" font-size="52" text-anchor="middle">1525</text><text transform="translate(518.4 949.0) rotate(5.9)" x="0" y="18.6" font-family="'Liberation Sans',Arial,sans-serif" font-size="52" text-anchor="middle">1515</text><text transform="translate(514.4 1098.4) rotate(32.0)" x="0" y="18.6" font-family="'Liberation Sans',Arial,sans-serif" font-size="52" text-anchor="middle">1505</text><text transform="translate(515.2 1231.9) rotate(27.1)" x="0" y="18.6" font-family="'Liberation Sans',Arial,sans-serif" font-size="52" text-anchor="middle">1495</text><text transform="translate(516.8 1367.6) rotate(20.6)" x="0" y="18.6" font-family="'Liberation Sans',Arial,sans-serif" font-size="52" text-anchor="middle">1485</text><clipPath id="cpc"><rect x="303.0" y="1708.3" width="796.0" height="728.1"/></clipPath><g clip-path="url(#cpc)"><path d="M300.0 1733.5C314.3 1733.8 362.2 1734.4 385.9 1735.3C409.6 1736.2 433.0 1738.2 442.4 1738.8M593.0 1744.6C611.0 1744.6 663.7 1744.7 701.0 1744.6C738.3 1744.5 778.2 1744.9 816.8 1744.0C855.4 1743.1 898.9 1740.8 932.7 1739.3C966.5 1737.8 991.4 1736.3 1019.6 1735.3C1047.8 1734.3 1088.3 1733.8 1102.0 1733.5M300.0 1765.7C314.3 1766.3 362.2 1767.0 385.9 1769.2C409.6 1771.4 433.0 1777.1 442.4 1778.7M591.5 1801.0C600.7 1801.5 628.2 1803.5 646.5 1804.0C664.8 1804.5 677.4 1804.8 701.0 1804.3C724.6 1803.8 758.9 1803.5 787.9 1801.0C816.9 1798.5 850.7 1792.9 874.8 1789.5C898.9 1786.1 913.4 1783.8 932.7 1780.8C952.0 1777.8 971.3 1773.5 990.6 1771.2C1009.9 1768.9 1029.9 1768.2 1048.5 1767.2C1067.1 1766.2 1093.1 1765.7 1102.0 1765.4M300.0 1853.2C309.5 1854.2 340.2 1856.1 356.9 1859.0C373.6 1861.9 385.2 1865.0 400.4 1870.6C415.6 1876.1 440.2 1888.7 448.1 1892.3M578.5 1966.2C585.0 1968.8 603.9 1977.8 617.6 1982.1C631.4 1986.4 647.1 1990.3 661.0 1992.2C674.9 1994.1 684.7 1994.2 701.0 1993.7C717.3 1993.2 739.6 1993.4 758.9 1989.3C778.2 1985.2 797.5 1978.0 816.8 1969.1C836.1 1960.2 855.5 1947.1 874.8 1935.8C894.1 1924.5 913.4 1911.4 932.7 1901.0C952.0 1890.6 976.1 1879.5 990.6 1873.5C1005.1 1867.5 1007.5 1867.7 1019.6 1864.8C1031.7 1861.9 1049.3 1858.2 1063.0 1856.1C1076.7 1854.0 1095.5 1852.9 1102.0 1852.3M300.0 1983.6C309.5 1984.8 340.2 1987.4 356.9 1990.8C373.6 1994.2 385.7 1998.2 400.4 2003.8C415.1 2009.3 437.7 2020.7 445.2 2024.1M579.9 2087.8C588.6 2090.0 611.8 2097.8 632.0 2100.9C652.2 2104.1 679.9 2106.5 701.0 2106.7C722.1 2106.9 739.6 2105.7 758.9 2102.3C778.2 2098.9 797.5 2093.6 816.8 2086.4C836.1 2079.2 855.5 2068.8 874.8 2058.9C894.1 2049.0 913.4 2036.2 932.7 2027.0C952.0 2017.8 976.1 2008.9 990.6 2003.8C1005.1 1998.7 1007.5 1999.0 1019.6 1996.6C1031.7 1994.2 1049.3 1991.3 1063.0 1989.3C1076.7 1987.3 1095.5 1985.2 1102.0 1984.4M300.0 2134.2C309.5 2135.2 340.2 2137.3 356.9 2140.0C373.6 2142.7 385.9 2145.8 400.4 2150.1C414.9 2154.4 436.6 2163.4 443.8 2166.1M585.7 2213.9C593.4 2215.6 612.8 2221.6 632.0 2224.0C651.2 2226.4 679.9 2228.1 701.0 2228.3C722.1 2228.5 739.6 2228.1 758.9 2225.4C778.2 2222.8 797.5 2218.2 816.8 2212.4C836.1 2206.6 855.5 2198.7 874.8 2190.7C894.1 2182.7 913.4 2172.1 932.7 2164.6C952.0 2157.1 976.1 2149.9 990.6 2145.8C1005.1 2141.7 1007.5 2141.7 1019.6 2140.0C1031.7 2138.3 1049.3 2136.6 1063.0 2135.6C1076.7 2134.6 1095.5 2134.4 1102.0 2134.2" fill="none" stroke="#000" stroke-width="5.2" stroke-linejoin="round"/></g><text transform="translate(514.5 1741.9) rotate(2.2)" x="0" y="18.6" font-family="'Liberation Sans',Arial,sans-serif" font-size="52" text-anchor="middle">1525</text><text transform="translate(517.0 1790.3) rotate(8.5)" x="0" y="18.6" font-family="'Liberation Sans',Arial,sans-serif" font-size="52" text-anchor="middle">1515</text><text transform="translate(513.8 1929.6) rotate(29.5)" x="0" y="18.6" font-family="'Liberation Sans',Arial,sans-serif" font-size="52" text-anchor="middle">1505</text><text transform="translate(512.1 2056.4) rotate(25.3)" x="0" y="18.6" font-family="'Liberation Sans',Arial,sans-serif" font-size="52" text-anchor="middle">1495</text><text transform="translate(514.6 2190.4) rotate(18.6)" x="0" y="18.6" font-family="'Liberation Sans',Arial,sans-serif" font-size="52" text-anchor="middle">1485</text><clipPath id="cpd"><rect x="303.0" y="2513.2" width="796.0" height="726.2"/></clipPath><g clip-path="url(#cpd)"><path d="M300.0 2644.8C309.5 2646.7 340.1 2652.8 356.8 2656.4C373.5 2660.0 385.0 2661.4 400.2 2666.5C415.4 2671.6 439.9 2683.3 447.8 2686.7M577.9 2761.8C586.8 2764.5 610.9 2774.3 631.4 2777.7C651.9 2781.1 679.8 2782.0 701.0 2782.0C722.2 2782.0 739.5 2781.3 758.8 2777.7C778.1 2774.1 797.3 2767.6 816.6 2760.4C835.9 2753.2 855.1 2744.3 874.4 2734.4C893.7 2724.5 912.9 2711.7 932.2 2701.1C951.5 2690.5 975.5 2677.3 990.0 2670.8C1004.5 2664.3 1006.9 2665.0 1018.9 2662.1C1031.0 2659.2 1048.5 2656.2 1062.3 2653.5C1076.1 2650.8 1095.4 2647.4 1102.0 2646.2M300.0 2757.5C309.5 2759.7 340.1 2766.4 356.8 2770.5C373.5 2774.6 385.5 2776.0 400.2 2782.0C414.9 2788.0 437.5 2802.5 445.0 2806.6M576.5 2876.0C585.6 2878.4 610.6 2887.3 631.4 2890.4C652.1 2893.5 679.8 2894.5 701.0 2894.7C722.2 2894.9 739.5 2894.9 758.8 2891.8C778.1 2888.7 797.3 2882.6 816.6 2875.9C835.9 2869.2 855.1 2860.6 874.4 2851.4C893.7 2842.2 912.9 2831.6 932.2 2821.0C951.5 2810.4 975.5 2794.8 990.0 2787.8C1004.5 2780.8 1006.9 2782.3 1018.9 2779.2C1031.0 2776.1 1048.5 2772.6 1062.3 2769.0C1076.1 2765.4 1095.4 2759.4 1102.0 2757.5M300.0 2904.8C309.5 2906.7 340.1 2912.8 356.8 2916.4C373.5 2920.0 385.8 2921.4 400.2 2926.5C414.6 2931.6 436.3 2943.3 443.5 2946.7M582.2 3003.1C590.4 3004.8 611.6 3011.0 631.4 3013.2C651.2 3015.4 679.8 3015.9 701.0 3016.1C722.2 3016.3 739.5 3017.2 758.8 3014.6C778.1 3011.9 797.3 3006.0 816.6 3000.2C835.9 2994.4 855.1 2987.9 874.4 2980.0C893.7 2972.1 912.9 2961.4 932.2 2952.5C951.5 2943.6 975.5 2931.8 990.0 2926.5C1004.5 2921.2 1006.9 2923.1 1018.9 2920.7C1031.0 2918.3 1048.5 2914.8 1062.3 2912.1C1076.1 2909.4 1095.4 2906.0 1102.0 2904.8M626.4 2570.2C622.0 2569.8 607.7 2568.5 600.0 2567.5C592.3 2566.5 584.8 2565.8 580.0 2564.0C575.2 2562.2 571.0 2559.3 571.0 2557.0C571.0 2554.7 575.2 2551.8 580.0 2550.0C584.8 2548.2 588.3 2547.3 600.0 2546.5C611.7 2545.7 633.3 2545.0 650.0 2545.2C666.7 2545.4 684.2 2547.5 700.0 2547.5C715.8 2547.5 730.3 2545.9 745.0 2545.3C759.7 2544.7 776.1 2543.5 788.0 2543.7C799.9 2543.9 809.4 2545.2 816.6 2546.6C823.8 2548.0 828.3 2550.3 831.0 2552.0C833.7 2553.7 834.0 2555.1 833.0 2557.0C832.0 2558.9 829.7 2561.6 825.0 2563.5C820.3 2565.4 810.8 2567.4 805.0 2568.5C799.2 2569.6 794.8 2570.0 790.0 2570.3C785.2 2570.6 778.3 2570.4 776.0 2570.4" fill="none" stroke="#000" stroke-width="5.2" stroke-linejoin="round"/></g><text transform="translate(512.5 2724.5) rotate(30.0)" x="0" y="18.6" font-family="'Liberation Sans',Arial,sans-serif" font-size="52" text-anchor="middle">1505</text><text transform="translate(510.1 2841.9) rotate(27.8)" x="0" y="18.6" font-family="'Liberation Sans',Arial,sans-serif" font-size="52" text-anchor="middle">1495</text><text transform="translate(512.5 2975.5) rotate(22.1)" x="0" y="18.6" font-family="'Liberation Sans',Arial,sans-serif" font-size="52" text-anchor="middle">1485</text><text transform="translate(701.6 2571.2) rotate(0.0)" x="0" y="18.6" font-family="'Liberation Sans',Arial,sans-serif" font-size="52" text-anchor="middle">1515</text><clipPath id="cpe"><rect x="1163.0" y="98.1" width="796.0" height="728.5"/></clipPath><g clip-path="url(#cpe)"><path d="M1160.0 291.0C1169.5 289.1 1200.2 284.0 1216.9 279.4C1233.6 274.8 1245.9 270.5 1260.4 263.5C1274.9 256.5 1296.6 241.8 1303.8 237.4M1437.0 166.4C1443.8 164.9 1463.6 159.9 1477.6 157.7C1491.6 155.5 1507.1 154.1 1521.0 153.4C1534.9 152.7 1544.7 153.2 1561.0 153.4C1577.3 153.6 1599.6 152.6 1618.9 154.8C1638.2 157.0 1657.5 160.6 1676.8 166.4C1696.1 172.2 1715.5 180.4 1734.8 189.6C1754.1 198.8 1773.4 209.9 1792.7 221.5C1812.0 233.1 1836.1 250.4 1850.6 259.1C1865.1 267.8 1867.5 269.2 1879.6 273.6C1891.7 278.0 1909.3 282.4 1923.0 285.2C1936.7 288.0 1955.5 289.5 1962.0 290.4M1160.0 424.2C1169.5 422.0 1200.2 415.5 1216.9 411.2C1233.6 406.9 1245.7 404.0 1260.4 398.2C1275.1 392.4 1297.7 380.0 1305.2 376.4M1438.5 305.5C1445.0 303.6 1463.8 297.0 1477.6 293.9C1491.3 290.8 1507.1 288.0 1521.0 286.6C1534.9 285.2 1544.7 285.1 1561.0 285.8C1577.3 286.5 1599.6 287.2 1618.9 291.0C1638.2 294.8 1657.5 301.2 1676.8 308.4C1696.1 315.6 1715.5 325.0 1734.8 334.4C1754.1 343.8 1773.4 354.5 1792.7 364.9C1812.0 375.3 1836.1 389.7 1850.6 396.7C1865.1 403.7 1867.5 403.3 1879.6 406.9C1891.7 410.5 1909.3 415.6 1923.0 418.5C1936.7 421.4 1955.5 423.2 1962.0 424.2M1160.0 556.0C1169.5 554.1 1200.2 548.4 1216.9 544.5C1233.6 540.6 1245.4 538.2 1260.4 532.9C1275.4 527.6 1299.0 516.0 1306.7 512.6M1439.9 440.2C1446.2 438.0 1464.1 430.5 1477.6 427.1C1491.1 423.7 1507.1 421.3 1521.0 419.9C1534.9 418.5 1544.7 418.0 1561.0 418.5C1577.3 419.0 1599.6 418.9 1618.9 422.8C1638.2 426.7 1657.5 433.6 1676.8 441.6C1696.1 449.6 1715.5 460.0 1734.8 470.6C1754.1 481.2 1773.4 494.5 1792.7 505.4C1812.0 516.3 1836.1 529.3 1850.6 535.8C1865.1 542.3 1867.5 542.1 1879.6 544.5C1891.7 546.9 1909.3 548.6 1923.0 550.3C1936.7 552.0 1955.5 553.9 1962.0 554.6" fill="none" stroke="#000" stroke-width="5.2" stroke-linejoin="round"/></g><text transform="translate(1370.6 200.8) rotate(-28.1)" x="0" y="18.6" font-family="'Liberation Sans',Arial,sans-serif" font-size="52" text-anchor="middle">1505</text><text transform="translate(1372.2 340.3) rotate(-28.0)" x="0" y="18.6" font-family="'Liberation Sans',Arial,sans-serif" font-size="52" text-anchor="middle">1495</text><text transform="translate(1373.8 476.0) rotate(-28.5)" x="0" y="18.6" font-family="'Liberation Sans',Arial,sans-serif" font-size="52" text-anchor="middle">1485</text><clipPath id="cpf"><rect x="1163.0" y="901.2" width="796.0" height="730.3"/></clipPath><g clip-path="url(#cpf)"><path d="M1160.0 910.1C1183.8 910.0 1279.0 909.4 1302.8 909.2M1453.8 906.3C1471.7 906.0 1523.8 904.4 1561.0 904.3C1598.2 904.2 1638.5 904.9 1677.2 905.7C1715.9 906.5 1745.9 908.3 1793.4 909.2C1840.9 910.1 1933.9 910.7 1962.0 911.0M1160.0 942.9C1174.3 942.5 1222.3 941.6 1246.1 940.6C1269.9 939.6 1293.3 937.7 1302.8 937.1M1452.3 923.7C1470.4 923.6 1528.4 923.0 1561.0 923.1C1593.6 923.2 1619.0 923.4 1648.1 924.6C1677.1 925.8 1711.1 928.5 1735.3 930.4C1759.5 932.3 1774.1 934.4 1793.4 936.2C1812.8 938.0 1823.3 940.0 1851.4 941.2C1879.5 942.4 1943.6 943.1 1962.0 943.5M1160.0 1074.2C1169.5 1072.8 1200.3 1068.7 1217.1 1065.5C1233.9 1062.3 1245.9 1060.1 1260.7 1055.3C1275.5 1050.5 1298.2 1039.6 1305.7 1036.5M1442.2 974.0C1448.2 972.5 1465.2 967.9 1478.5 965.3C1491.8 962.7 1508.2 959.9 1522.0 958.6C1535.8 957.3 1544.8 957.3 1561.0 957.7C1577.2 958.1 1599.7 958.0 1619.1 960.9C1638.5 963.8 1657.8 968.6 1677.2 975.4C1696.6 982.2 1715.9 992.4 1735.3 1001.6C1754.7 1010.8 1774.1 1021.4 1793.4 1030.6C1812.8 1039.8 1836.9 1051.0 1851.4 1056.8C1865.9 1062.6 1868.4 1063.1 1880.5 1065.5C1892.6 1067.9 1910.5 1069.8 1924.1 1071.3C1937.7 1072.8 1955.7 1074.2 1962.0 1074.8M1160.0 1213.7C1169.5 1211.8 1200.3 1205.9 1217.1 1202.0C1233.9 1198.1 1245.5 1196.0 1260.7 1190.4C1276.0 1184.8 1300.6 1172.2 1308.6 1168.6M1436.4 1090.2C1443.4 1087.5 1464.2 1078.6 1478.5 1074.2C1492.8 1069.8 1508.2 1066.2 1522.0 1064.0C1535.8 1061.8 1544.8 1060.8 1561.0 1061.1C1577.2 1061.3 1599.7 1061.4 1619.1 1065.5C1638.5 1069.6 1657.8 1076.6 1677.2 1085.8C1696.6 1095.0 1715.9 1108.3 1735.3 1120.7C1754.7 1133.1 1774.1 1148.3 1793.4 1159.9C1812.8 1171.5 1836.9 1183.9 1851.4 1190.4C1865.9 1196.9 1868.4 1196.4 1880.5 1199.1C1892.6 1201.8 1910.5 1204.1 1924.1 1206.4C1937.7 1208.7 1955.7 1212.0 1962.0 1213.1M1160.0 1348.8C1169.5 1347.1 1200.3 1342.0 1217.1 1338.6C1233.9 1335.2 1245.2 1333.7 1260.7 1328.4C1276.2 1323.1 1301.8 1310.2 1310.0 1306.6M1437.8 1226.7C1444.6 1223.6 1464.5 1213.2 1478.5 1207.9C1492.5 1202.6 1508.2 1197.5 1522.0 1194.8C1535.8 1192.1 1544.8 1191.7 1561.0 1191.9C1577.2 1192.1 1599.7 1191.6 1619.1 1196.2C1638.5 1200.8 1657.8 1209.8 1677.2 1219.5C1696.6 1229.2 1715.9 1241.8 1735.3 1254.4C1754.7 1267.0 1774.1 1282.9 1793.4 1295.0C1812.8 1307.1 1836.9 1320.2 1851.4 1327.0C1865.9 1333.8 1868.4 1333.0 1880.5 1335.7C1892.6 1338.4 1910.5 1340.8 1924.1 1343.0C1937.7 1345.2 1955.7 1347.8 1962.0 1348.8" fill="none" stroke="#000" stroke-width="5.2" stroke-linejoin="round"/></g><text transform="translate(1380.5 907.8) rotate(-1.1)" x="0" y="18.6" font-family="'Liberation Sans',Arial,sans-serif" font-size="52" text-anchor="middle">1525</text><text transform="translate(1374.3 930.2) rotate(-5.1)" x="0" y="18.6" font-family="'Liberation Sans',Arial,sans-serif" font-size="52" text-anchor="middle">1515</text><text transform="translate(1374.5 1004.6) rotate(-24.6)" x="0" y="18.6" font-family="'Liberation Sans',Arial,sans-serif" font-size="52" text-anchor="middle">1505</text><text transform="translate(1372.9 1129.0) rotate(-31.5)" x="0" y="18.6" font-family="'Liberation Sans',Arial,sans-serif" font-size="52" text-anchor="middle">1495</text><text transform="translate(1374.4 1266.5) rotate(-32.0)" x="0" y="18.6" font-family="'Liberation Sans',Arial,sans-serif" font-size="52" text-anchor="middle">1485</text><clipPath id="cpg"><rect x="1163.0" y="1708.3" width="796.0" height="728.1"/></clipPath><g clip-path="url(#cpg)"><path d="M1160.0 1737.3C1174.3 1736.8 1222.2 1735.4 1245.9 1734.4C1269.6 1733.4 1293.0 1732.0 1302.4 1731.5M1452.9 1726.6C1470.9 1726.4 1523.7 1725.6 1561.0 1725.7C1598.3 1725.8 1638.2 1726.4 1676.8 1727.2C1715.4 1728.0 1745.2 1729.2 1792.7 1730.7C1840.2 1732.2 1933.8 1735.0 1962.0 1735.9M1160.0 1772.9C1174.3 1772.3 1222.2 1770.6 1245.9 1769.2C1269.6 1767.8 1293.0 1765.1 1302.4 1764.3M1452.9 1749.8C1470.9 1749.5 1528.5 1747.7 1561.0 1747.8C1593.5 1747.9 1618.9 1748.7 1647.9 1750.3C1676.9 1751.9 1710.7 1755.4 1734.8 1757.6C1758.9 1759.8 1773.4 1761.5 1792.7 1763.4C1812.0 1765.3 1822.4 1767.6 1850.6 1769.2C1878.8 1770.8 1943.4 1772.3 1962.0 1772.9M1160.0 1888.0C1169.5 1885.8 1200.2 1879.0 1216.9 1874.9C1233.6 1870.8 1246.2 1868.1 1260.4 1863.3C1274.7 1858.5 1295.4 1848.9 1302.4 1846.0M1444.3 1799.6C1449.8 1798.6 1464.8 1795.3 1477.6 1793.8C1490.4 1792.2 1507.1 1790.9 1521.0 1790.3C1534.9 1789.7 1544.7 1789.6 1561.0 1789.9C1577.3 1790.2 1599.6 1790.3 1618.9 1792.4C1638.2 1794.5 1657.5 1798.4 1676.8 1802.5C1696.1 1806.6 1715.5 1811.0 1734.8 1817.0C1754.1 1823.0 1773.4 1831.2 1792.7 1838.7C1812.0 1846.2 1836.1 1856.6 1850.6 1861.9C1865.1 1867.2 1867.5 1867.7 1879.6 1870.6C1891.7 1873.5 1909.3 1876.8 1923.0 1879.3C1936.7 1881.8 1955.5 1884.8 1962.0 1885.9M1160.0 2019.8C1169.5 2017.4 1200.2 2009.9 1216.9 2005.3C1233.6 2000.7 1245.9 1998.2 1260.4 1992.2C1274.9 1986.2 1296.6 1972.9 1303.8 1969.1M1437.0 1902.4C1443.8 1900.7 1463.6 1895.0 1477.6 1892.3C1491.6 1889.5 1507.1 1887.1 1521.0 1885.9C1534.9 1884.7 1544.7 1884.8 1561.0 1885.1C1577.3 1885.4 1599.6 1884.9 1618.9 1888.0C1638.2 1891.1 1657.5 1896.9 1676.8 1903.9C1696.1 1910.9 1715.5 1919.9 1734.8 1930.0C1754.1 1940.1 1773.4 1954.1 1792.7 1964.7C1812.0 1975.3 1836.1 1987.4 1850.6 1993.7C1865.1 2000.0 1867.5 1999.5 1879.6 2002.4C1891.7 2005.3 1909.3 2008.3 1923.0 2011.1C1936.7 2013.9 1955.5 2017.8 1962.0 2019.2M1160.0 2153.0C1169.5 2151.1 1200.2 2145.3 1216.9 2141.4C1233.6 2137.5 1245.7 2135.6 1260.4 2129.8C1275.1 2124.0 1297.7 2110.5 1305.2 2106.7M1437.0 2034.2C1443.8 2032.0 1463.6 2024.3 1477.6 2021.2C1491.6 2018.1 1507.1 2016.4 1521.0 2015.4C1534.9 2014.4 1544.7 2014.7 1561.0 2015.0C1577.3 2015.3 1599.6 2014.2 1618.9 2017.4C1638.2 2020.6 1657.5 2026.6 1676.8 2034.2C1696.1 2041.8 1715.5 2052.1 1734.8 2063.2C1754.1 2074.3 1773.4 2090.0 1792.7 2100.9C1812.0 2111.8 1836.1 2122.6 1850.6 2128.4C1865.1 2134.2 1867.5 2133.2 1879.6 2135.6C1891.7 2138.0 1909.3 2140.2 1923.0 2142.9C1936.7 2145.6 1955.5 2150.2 1962.0 2151.6" fill="none" stroke="#000" stroke-width="5.2" stroke-linejoin="round"/></g><text transform="translate(1374.4 1728.9) rotate(-1.9)" x="0" y="18.6" font-family="'Liberation Sans',Arial,sans-serif" font-size="52" text-anchor="middle">1525</text><text transform="translate(1374.4 1756.9) rotate(-5.5)" x="0" y="18.6" font-family="'Liberation Sans',Arial,sans-serif" font-size="52" text-anchor="middle">1515</text><text transform="translate(1373.9 1822.1) rotate(-18.1)" x="0" y="18.6" font-family="'Liberation Sans',Arial,sans-serif" font-size="52" text-anchor="middle">1505</text><text transform="translate(1370.6 1934.9) rotate(-26.6)" x="0" y="18.6" font-family="'Liberation Sans',Arial,sans-serif" font-size="52" text-anchor="middle">1495</text><text transform="translate(1371.4 2069.8) rotate(-28.8)" x="0" y="18.6" font-family="'Liberation Sans',Arial,sans-serif" font-size="52" text-anchor="middle">1485</text><clipPath id="cph"><rect x="1163.0" y="2513.2" width="796.0" height="726.2"/></clipPath><g clip-path="url(#cph)"><path d="M1160.0 2706.9C1169.5 2705.2 1200.1 2700.2 1216.8 2696.8C1233.5 2693.4 1245.8 2691.3 1260.2 2686.7C1274.7 2682.1 1296.3 2672.3 1303.5 2669.4M1445.1 2624.6C1450.4 2623.6 1464.4 2620.4 1476.9 2618.8C1489.4 2617.2 1506.3 2616.0 1520.3 2615.3C1534.3 2614.7 1544.6 2614.7 1561.0 2614.9C1577.4 2615.1 1599.5 2614.9 1618.8 2616.5C1638.1 2618.1 1657.3 2620.8 1676.6 2624.6C1695.9 2628.3 1715.1 2633.0 1734.4 2639.0C1753.7 2645.0 1772.9 2653.2 1792.2 2660.7C1811.5 2668.2 1835.5 2678.5 1850.0 2683.8C1864.5 2689.1 1866.9 2689.8 1878.9 2692.5C1891.0 2695.2 1908.5 2697.5 1922.3 2699.7C1936.1 2701.9 1955.4 2704.5 1962.0 2705.5M1160.0 2832.6C1169.5 2830.7 1200.1 2824.8 1216.8 2821.0C1233.5 2817.2 1245.8 2815.0 1260.2 2809.5C1274.7 2804.0 1296.3 2791.4 1303.5 2787.8M1439.3 2722.8C1445.6 2721.4 1463.4 2716.5 1476.9 2714.1C1490.4 2711.7 1506.3 2709.4 1520.3 2708.4C1534.3 2707.4 1544.6 2707.6 1561.0 2707.8C1577.4 2708.0 1599.5 2707.3 1618.8 2709.8C1638.1 2712.3 1657.3 2716.8 1676.6 2722.8C1695.9 2728.8 1715.1 2737.0 1734.4 2745.9C1753.7 2754.8 1772.9 2766.2 1792.2 2776.3C1811.5 2786.4 1835.5 2800.1 1850.0 2806.6C1864.5 2813.1 1866.9 2812.4 1878.9 2815.3C1891.0 2818.2 1908.5 2821.3 1922.3 2824.0C1936.1 2826.7 1955.4 2830.0 1962.0 2831.2M1160.0 2964.1C1169.5 2962.2 1200.1 2956.1 1216.8 2952.5C1233.5 2948.9 1245.5 2947.9 1260.2 2942.4C1274.9 2936.9 1297.5 2923.2 1305.0 2919.3M1439.3 2851.4C1445.6 2849.7 1463.4 2844.1 1476.9 2841.3C1490.4 2838.6 1506.3 2836.1 1520.3 2834.9C1534.3 2833.7 1544.6 2834.0 1561.0 2834.1C1577.4 2834.2 1599.5 2833.1 1618.8 2835.5C1638.1 2837.9 1657.3 2842.2 1676.6 2848.5C1695.9 2854.8 1715.1 2863.7 1734.4 2873.1C1753.7 2882.5 1772.9 2894.2 1792.2 2904.8C1811.5 2915.4 1835.5 2929.8 1850.0 2936.6C1864.5 2943.3 1866.9 2942.7 1878.9 2945.3C1891.0 2948.0 1908.5 2950.1 1922.3 2952.5C1936.1 2954.9 1955.4 2958.5 1962.0 2959.7" fill="none" stroke="#000" stroke-width="5.2" stroke-linejoin="round"/></g><text transform="translate(1375.0 2646.3) rotate(-17.6)" x="0" y="18.6" font-family="'Liberation Sans',Arial,sans-serif" font-size="52" text-anchor="middle">1505</text><text transform="translate(1371.8 2754.5) rotate(-25.6)" x="0" y="18.6" font-family="'Liberation Sans',Arial,sans-serif" font-size="52" text-anchor="middle">1495</text><text transform="translate(1372.6 2884.5) rotate(-26.8)" x="0" y="18.6" font-family="'Liberation Sans',Arial,sans-serif" font-size="52" text-anchor="middle">1485</text><rect x="301.9" y="97.0" width="798.2" height="730.7" fill="none" stroke="#1c1c1c" stroke-width="5.8"/><rect x="301.9" y="900.1" width="798.2" height="732.5" fill="none" stroke="#1c1c1c" stroke-width="5.8"/><rect x="301.9" y="1707.2" width="798.2" height="730.3" fill="none" stroke="#1c1c1c" stroke-width="5.8"/><rect x="301.9" y="2512.1" width="798.2" height="728.4" fill="none" stroke="#1c1c1c" stroke-width="5.8"/><rect x="1161.9" y="97.0" width="798.2" height="730.7" fill="none" stroke="#1c1c1c" stroke-width="5.8"/><rect x="1161.9" y="900.1" width="798.2" height="732.5" fill="none" stroke="#1c1c1c" stroke-width="5.8"/><rect x="1161.9" y="1707.2" width="798.2" height="730.3" fill="none" stroke="#1c1c1c" stroke-width="5.8"/><rect x="1161.9" y="2512.1" width="798.2" height="728.4" fill="none" stroke="#1c1c1c" stroke-width="5.8"/><text x="700.9" y="76.2" font-family="'Liberation Serif','Times New Roman',serif" font-size="70.5" text-anchor="middle">AE</text><text x="1560.9" y="76.2" font-family="'Liberation Serif','Times New Roman',serif" font-size="70.5" text-anchor="middle">CE</text><text x="278.6" y="115.5" font-family="'Liberation Serif','Times New Roman',serif" font-size="53.5" text-anchor="end">0 m</text><text x="278.6" y="262.1" font-family="'Liberation Serif','Times New Roman',serif" font-size="53.5" text-anchor="end">200 m</text><text x="278.6" y="408.7" font-family="'Liberation Serif','Times New Roman',serif" font-size="53.5" text-anchor="end">400 m</text><text x="278.6" y="555.2" font-family="'Liberation Serif','Times New Roman',serif" font-size="53.5" text-anchor="end">600 m</text><text x="278.6" y="701.8" font-family="'Liberation Serif','Times New Roman',serif" font-size="53.5" text-anchor="end">800 m</text><text x="278.6" y="848.4" font-family="'Liberation Serif','Times New Roman',serif" font-size="53.5" text-anchor="end">1000 m</text><text transform="translate(90.3 460.9) rotate(-90)" font-family="'Liberation Serif','Times New Roman',serif" font-size="70" text-anchor="middle">Spring</text><text x="278.6" y="918.6" font-family="'Liberation Serif','Times New Roman',serif" font-size="53.5" text-anchor="end">0 m</text><text x="278.6" y="1065.5" font-family="'Liberation Serif','Times New Roman',serif" font-size="53.5" text-anchor="end">200 m</text><text x="278.6" y="1212.5" font-family="'Liberation Serif','Times New Roman',serif" font-size="53.5" text-anchor="end">400 m</text><text x="278.6" y="1359.4" font-family="'Liberation Serif','Times New Roman',serif" font-size="53.5" text-anchor="end">600 m</text><text x="278.6" y="1506.4" font-family="'Liberation Serif','Times New Roman',serif" font-size="53.5" text-anchor="end">800 m</text><text x="278.6" y="1653.3" font-family="'Liberation Serif','Times New Roman',serif" font-size="53.5" text-anchor="end">1000 m</text><text transform="translate(90.3 1264.8) rotate(-90)" font-family="'Liberation Serif','Times New Roman',serif" font-size="70" text-anchor="middle">Summer</text><text x="278.6" y="1725.7" font-family="'Liberation Serif','Times New Roman',serif" font-size="53.5" text-anchor="end">0 m</text><text x="278.6" y="1872.2" font-family="'Liberation Serif','Times New Roman',serif" font-size="53.5" text-anchor="end">200 m</text><text x="278.6" y="2018.7" font-family="'Liberation Serif','Times New Roman',serif" font-size="53.5" text-anchor="end">400 m</text><text x="278.6" y="2165.2" font-family="'Liberation Serif','Times New Roman',serif" font-size="53.5" text-anchor="end">600 m</text><text x="278.6" y="2311.7" font-family="'Liberation Serif','Times New Roman',serif" font-size="53.5" text-anchor="end">800 m</text><text x="278.6" y="2458.2" font-family="'Liberation Serif','Times New Roman',serif" font-size="53.5" text-anchor="end">1000 m</text><text transform="translate(90.3 2070.8) rotate(-90)" font-family="'Liberation Serif','Times New Roman',serif" font-size="70" text-anchor="middle">Autumn</text><text x="278.6" y="2530.6" font-family="'Liberation Serif','Times New Roman',serif" font-size="53.5" text-anchor="end">0 m</text><text x="278.6" y="2676.7" font-family="'Liberation Serif','Times New Roman',serif" font-size="53.5" text-anchor="end">200 m</text><text x="278.6" y="2822.8" font-family="'Liberation Serif','Times New Roman',serif" font-size="53.5" text-anchor="end">400 m</text><text x="278.6" y="2969.0" font-family="'Liberation Serif','Times New Roman',serif" font-size="53.5" text-anchor="end">600 m</text><text x="278.6" y="3115.1" font-family="'Liberation Serif','Times New Roman',serif" font-size="53.5" text-anchor="end">800 m</text><text x="278.6" y="3261.2" font-family="'Liberation Serif','Times New Roman',serif" font-size="53.5" text-anchor="end">1000 m</text><text transform="translate(90.3 2874.8) rotate(-90)" font-family="'Liberation Serif','Times New Roman',serif" font-size="70" text-anchor="middle">Winter</text><text x="319.2" y="781.0" font-family="'Liberation Serif','Times New Roman',serif" font-size="74">(a)</text><text x="319.2" y="1585.9" font-family="'Liberation Serif','Times New Roman',serif" font-size="74">(b)</text><text x="319.2" y="2390.8" font-family="'Liberation Serif','Times New Roman',serif" font-size="74">(c)</text><text x="319.2" y="3193.8" font-family="'Liberation Serif','Times New Roman',serif" font-size="74">(d)</text><text x="1179.2" y="781.0" font-family="'Liberation Serif','Times New Roman',serif" font-size="74">(e)</text><text x="1179.2" y="1585.9" font-family="'Liberation Serif','Times New Roman',serif" font-size="74">(f)</text><text x="1179.2" y="2390.8" font-family="'Liberation Serif','Times New Roman',serif" font-size="74">(g)</text><text x="1179.2" y="3193.8" font-family="'Liberation Serif','Times New Roman',serif" font-size="74">(h)</text><text x="502.0" y="3312.5" font-family="'Liberation Serif','Times New Roman',serif" font-size="53.5" text-anchor="middle">-R</text><text x="701.0" y="3312.5" font-family="'Liberation Serif','Times New Roman',serif" font-size="53.5" text-anchor="middle">0</text><text x="901.7" y="3312.5" font-family="'Liberation Serif','Times New Roman',serif" font-size="53.5" text-anchor="middle">R</text><text x="1362.0" y="3312.5" font-family="'Liberation Serif','Times New Roman',serif" font-size="53.5" text-anchor="middle">-R</text><text x="1561.0" y="3312.5" font-family="'Liberation Serif','Times New Roman',serif" font-size="53.5" text-anchor="middle">0</text><text x="1761.7" y="3312.5" font-family="'Liberation Serif','Times New Roman',serif" font-size="53.5" text-anchor="middle">R</text><defs><linearGradient id="cb" x1="0" x2="1" y1="0" y2="0"><stop offset="0.0000" stop-color="#2400cc"/><stop offset="0.0556" stop-color="#1208ee"/><stop offset="0.1111" stop-color="#0030ff"/><stop offset="0.1667" stop-color="#0060ff"/><stop offset="0.2222" stop-color="#0094ff"/><stop offset="0.2778" stop-color="#00c4f8"/><stop offset="0.3056" stop-color="#00dcfc"/><stop offset="0.3333" stop-color="#30e6ff"/><stop offset="0.3889" stop-color="#84f2ff"/><stop offset="0.4444" stop-color="#c8fcff"/><stop offset="0.5000" stop-color="#fbfffb"/><stop offset="0.5278" stop-color="#fffff0"/><stop offset="0.5556" stop-color="#fffbd8"/><stop offset="0.6111" stop-color="#ffeebb"/><stop offset="0.6500" stop-color="#ffdc9a"/><stop offset="0.6889" stop-color="#ffc080"/><stop offset="0.7222" stop-color="#ffa068"/><stop offset="0.7500" stop-color="#ff8a58"/><stop offset="0.7889" stop-color="#ff6850"/><stop offset="0.8250" stop-color="#ff4440"/><stop offset="0.8611" stop-color="#ff2c3a"/><stop offset="0.9000" stop-color="#ff1c34"/><stop offset="0.9389" stop-color="#f81030"/><stop offset="0.9722" stop-color="#e00028"/><stop offset="1.0000" stop-color="#b80020"/></linearGradient></defs><rect x="360.5" y="3353.3" width="1540.8" height="35.0" fill="url(#cb)" stroke="#262626" stroke-width="1.8"/><line x1="445.3" x2="445.3" y1="3373.7" y2="3388.2" stroke="#262626" stroke-width="2"/><text x="445.3" y="3452.6" font-family="'Liberation Serif','Times New Roman',serif" font-size="48" fill="#262626" text-anchor="middle">&#8722;8</text><line x1="616.7" x2="616.7" y1="3373.7" y2="3388.2" stroke="#262626" stroke-width="2"/><text x="616.7" y="3452.6" font-family="'Liberation Serif','Times New Roman',serif" font-size="48" fill="#262626" text-anchor="middle">&#8722;6</text><line x1="788.1" x2="788.1" y1="3373.7" y2="3388.2" stroke="#262626" stroke-width="2"/><text x="788.1" y="3452.6" font-family="'Liberation Serif','Times New Roman',serif" font-size="48" fill="#262626" text-anchor="middle">&#8722;4</text><line x1="959.5" x2="959.5" y1="3373.7" y2="3388.2" stroke="#262626" stroke-width="2"/><text x="959.5" y="3452.6" font-family="'Liberation Serif','Times New Roman',serif" font-size="48" fill="#262626" text-anchor="middle">&#8722;2</text><line x1="1130.9" x2="1130.9" y1="3373.7" y2="3388.2" stroke="#262626" stroke-width="2"/><text x="1130.9" y="3452.6" font-family="'Liberation Serif','Times New Roman',serif" font-size="48" fill="#262626" text-anchor="middle">0</text><line x1="1302.3" x2="1302.3" y1="3373.7" y2="3388.2" stroke="#262626" stroke-width="2"/><text x="1302.3" y="3452.6" font-family="'Liberation Serif','Times New Roman',serif" font-size="48" fill="#262626" text-anchor="middle">2</text><line x1="1473.7" x2="1473.7" y1="3373.7" y2="3388.2" stroke="#262626" stroke-width="2"/><text x="1473.7" y="3452.6" font-family="'Liberation Serif','Times New Roman',serif" font-size="48" fill="#262626" text-anchor="middle">4</text><line x1="1645.1" x2="1645.1" y1="3373.7" y2="3388.2" stroke="#262626" stroke-width="2"/><text x="1645.1" y="3452.6" font-family="'Liberation Serif','Times New Roman',serif" font-size="48" fill="#262626" text-anchor="middle">6</text><line x1="1816.5" x2="1816.5" y1="3373.7" y2="3388.2" stroke="#262626" stroke-width="2"/><text x="1816.5" y="3452.6" font-family="'Liberation Serif','Times New Roman',serif" font-size="48" fill="#262626" text-anchor="middle">8</text><text x="1937" y="3390" font-family="'Liberation Serif','Times New Roman',serif" font-size="48" fill="#262626">m/s</text><text x="1140.5" y="3516.6" font-family="'Liberation Serif','Times New Roman',serif" font-size="57.5" fill="#262626" text-anchor="middle">Sound speed anomaly</text></svg>
</body></html>
